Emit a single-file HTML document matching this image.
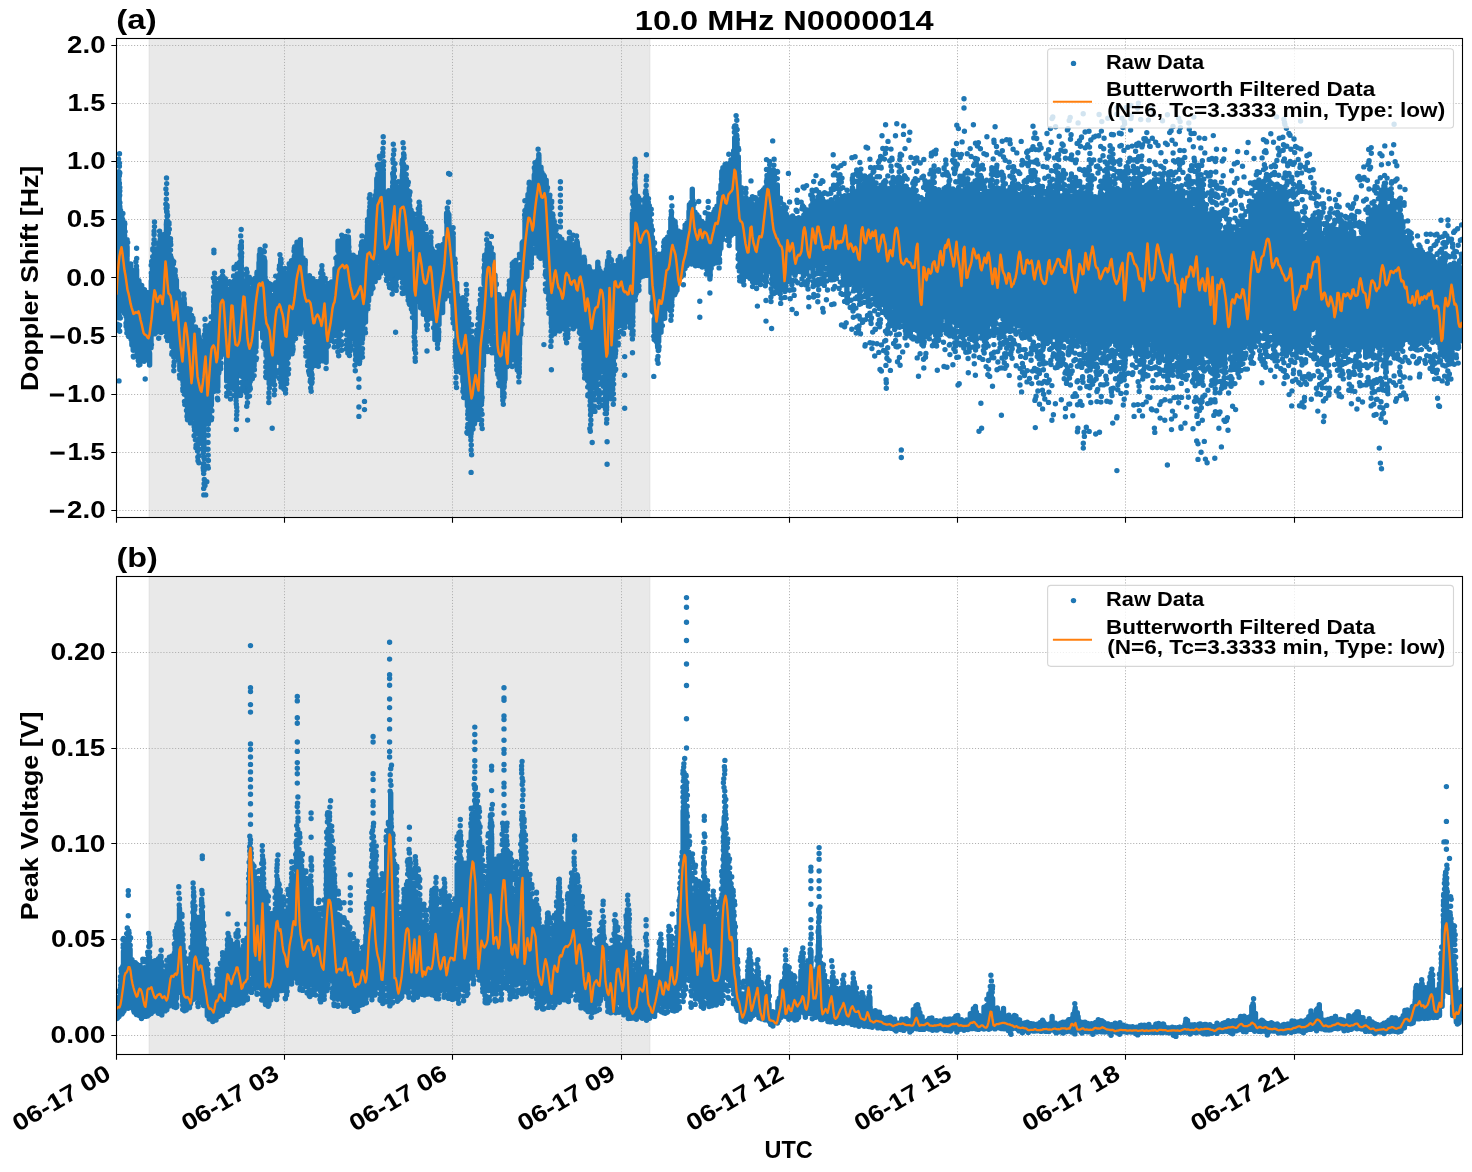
<!DOCTYPE html>
<html><head><meta charset="utf-8"><title>chart</title><style>html,body{margin:0;padding:0;background:#fff}svg{display:block;will-change:transform}</style></head><body>
<svg width="1472" height="1172" viewBox="0 0 1472 1172" font-family="'Liberation Sans', sans-serif" font-weight="bold" fill="#000">
<rect width="1472" height="1172" fill="#fff"/>
<rect x="149.1" y="38.5" width="500.8" height="479.0" fill="#d3d3d3" fill-opacity="0.5" stroke="#d3d3d3" stroke-opacity="0.5" stroke-width="1"/>
<path d="M284.5 38.5V517.5M452.5 38.5V517.5M621.5 38.5V517.5M789.5 38.5V517.5M957.5 38.5V517.5M1125.5 38.5V517.5M1294.5 38.5V517.5M116.5 45.5H1462.5M116.5 103.5H1462.5M116.5 161.5H1462.5M116.5 219.5H1462.5M116.5 277.5H1462.5M116.5 336.5H1462.5M116.5 394.5H1462.5M116.5 452.5H1462.5M116.5 510.5H1462.5" stroke="#b0b0b0" stroke-width="1" stroke-dasharray="1.1 1.83" fill="none"/>
<clipPath id="c1"><rect x="116.5" y="38.5" width="1346.0" height="479.0"/></clipPath>
<g clip-path="url(#c1)">
<path d="M119 195.6V236.4M119.5 153.7h0M118.6 159.1h0M119.5 163.1h0M119.4 166.3h0M118.9 171.8h0M118.7 175.8h0M118.9 179.7h0M119.1 184.3h0M119.4 190.3h0M119.7 195.3h0M136.6 269.6V287.2M136.7 258.4h0M135.9 261.7h0M136.5 266.3h0M154.5 251.7V276.2M154.5 226.6h0M154.1 231.2h0M154.1 234.4h0M154.1 239.6h0M153.8 243.8h0M154 249.3h0M166.5 222.7V256.4M166.5 178h0M166.7 183.6h0M165.9 188.9h0M166.5 193.6h0M166.3 199.2h0M165.8 204.1h0M166.2 208.4h0M166.9 212h0M167.1 216.3h0M166.6 221.1h0M184.4 303.8V313.1M183.9 293.9h0M184 298.3h0M183.8 302.6h0M205 335.6V350.2M205.2 325.6h0M205.5 329.7h0M204.4 334.7h0M213.9 303.5V324.8M214.5 273.3h0M213.4 278.1h0M214.5 281.8h0M213.5 286.6h0M214.1 292.3h0M213.7 297.1h0M213.6 301.4h0M222.5 281.7V289.5M222.5 271.4h0M222.3 276.2h0M221.9 281.5h0M241.2 256.8V294.2M240.7 235.9h0M241.4 241.8h0M241.2 246.2h0M241 251.9h0M241.5 256.7h0M264.8 260.9V277M265.1 246h0M264.3 251.8h0M264.1 257.6h0M280.4 271.3V284.7M279.9 254.6h0M280.9 259h0M280.6 262.2h0M280.5 267.7h0M300.3 239.7v9M322.3 276.4V291.8M321.9 265.8h0M321.9 270.1h0M322.9 274.2h0M348.5 239.1V249.6M348.2 231.1h0M348.4 236.9h0M361.9 247.6V260.3M362 235.9h0M362.3 241.6h0M361.8 246.5h0M369.4 210.6V229.8M370 194.8h0M369.3 198.2h0M370 202.9h0M369.8 206.8h0M383.2 170.3V195M383.4 142.5h0M383 148.4h0M382.8 152.7h0M382.8 156.1h0M383.7 161.8h0M383.4 165.4h0M383.4 169.9h0M393.3 172.9V203.6M394 150h0M393.5 154.5h0M392.9 159.5h0M393.2 162.8h0M393.8 168.2h0M403 163.2V188M403.6 148.1h0M403.6 153.6h0M403.6 158.2h0M402.4 161.5h0M419.5 218.6V241.7M419.1 202.3h0M419.6 206h0M419.6 209.3h0M419.7 213h0M419.2 216.3h0M430.7 242.5V253.4M431.1 232.2h0M430.9 237.2h0M430.8 241h0M447.9 212.9V221.6M448.5 202.3h0M447.3 207.9h0M447.6 212h0M466.2 309V327.4M466.6 290.1h0M466.7 294.2h0M465.7 299.6h0M466.7 305h0M466.3 308.7h0M487.1 249.3V258.9M486.6 239.7h0M487.3 244.7h0M538.3 160V168.8M538.1 149.2h0M538.8 154.4h0M577.2 242.7V253.3M576.5 235.9h0M576.8 241h0M597.8 262.1v14.7M609 281.3V301.5M608.8 252.8h0M608.9 256.7h0M608.4 261.7h0M608.5 266h0M609.4 271h0M608.8 275.3h0M608.6 280h0M620.2 256.5v9M635.1 186.7V222.6M635.1 159.3h0M635.5 162.7h0M634.9 167.6h0M635.5 171h0M634.6 174.6h0M634.6 178.1h0M634.8 183.9h0M646.4 194.4V208.8M646.5 176.1h0M646.3 179.9h0M646.2 185.5h0M645.8 190.7h0M671.4 218.8V229.4M671.9 206h0M671.2 211.1h0M671.4 214.5h0M692.3 189.2v9M736.4 134.6V163.4M736.1 115.6h0M736.8 120.3h0M735.9 126h0M736.8 129.7h0M773.4 178.1V194.7M774.1 159.3h0M773.9 165.1h0M773.3 170.5h0M773 175.5h0M138.4 355.2V346.7M138.7 365.1h0M138.3 360.6h0M137.8 356.3h0M149.6 365.1v-11.8M203.8 449.1V407.4M203.7 488.4h0M204.1 483.7h0M204.3 479.4h0M203.7 473.6h0M204.2 470.1h0M203.3 464.1h0M204.3 458.9h0M203.3 453.1h0M204.5 449.6h0M236.3 396.9V362.4M236.5 419.3h0M236.7 414.8h0M236.9 411.1h0M236.7 407.3h0M236.3 403.9h0M236.1 400.6h0M246.8 379.5V355.8M246.7 406.2h0M247.5 402.8h0M247.4 397.2h0M246.7 393.3h0M246.3 389.4h0M246.8 386.1h0M246.4 382.6h0M269.2 383.3V361.8M268.8 402.5h0M268.9 397.4h0M268.9 392.7h0M269.4 388.1h0M269.1 383.4h0M286.1 368.5V349.7M285.6 393.1h0M285.5 389.5h0M286.7 383.6h0M286.7 379.7h0M286.1 376h0M286.6 371.4h0M311.1 369.2V339.8M311.2 391.2h0M310.7 387.9h0M311.6 383.4h0M311.6 378h0M311.4 372.7h0M338.4 329.7V305.7M338.7 355.7h0M337.9 351.7h0M337.9 346.4h0M338.5 340.6h0M339 336.5h0M338.4 332.8h0M355.2 342.1V322.3M355.3 370.7h0M354.9 365.2h0M355.5 359.8h0M355.8 354.8h0M355.1 350.4h0M355.7 345.2h0M392.6 276.3V259.7M392.2 294.1h0M393 289.3h0M392.9 285.9h0M393.2 282.7h0M392.4 278.2h0M415 328.2V292.5M415.3 361.3h0M415.1 357.9h0M415.6 353.1h0M414.9 349.8h0M415.1 344.9h0M415.1 341.5h0M414.6 337.6h0M414.6 332h0M427 315.6V303.6M427.2 329.6h0M427.4 324.8h0M427.1 320.3h0M437.4 338.8V330M437.6 348.3h0M437.5 343.9h0M437.8 339.6h0M456.1 366.1V341.5M456.5 387.5h0M455.9 382.9h0M455.9 377.4h0M456.5 371.8h0M456.4 367.4h0M471.1 434.1V408.6M471.6 454.8h0M471.1 450h0M471.3 444.9h0M470.9 440.1h0M470.8 436.4h0M481.5 402.4V371.3M482.2 428.6h0M481.5 424.4h0M481.6 420.2h0M482.1 414.3h0M481.2 410.1h0M481.5 404.4h0M502.8 394.9V378.7M503.3 404.3h0M502.8 400.3h0M502.7 396.5h0M518.9 355.1V333.8M518.9 381.9h0M518.8 376.6h0M519 372.3h0M518.6 368.5h0M519.3 363.4h0M519.2 360h0M551.4 324V297.8M550.8 346.4h0M551.1 341.3h0M551.2 336.3h0M551.1 331.3h0M551.5 326.8h0M566 329.5V309.8M566.6 342.7h0M565.7 338.7h0M565.4 334.7h0M566.4 330.3h0M590.3 394.4V342.8M589.8 428.6h0M590.7 424.5h0M590.9 420h0M590.5 414.9h0M590.6 409.6h0M590 405.4h0M590.3 401h0M590.2 397.4h0M607.1 396.5V353.9M606.6 423h0M606.8 419.3h0M606.4 413.4h0M606.6 409.7h0M606.4 405.2h0M606.6 400.7h0M607.5 396.8h0M632.5 316.2V293.8M632.4 338.9h0M633 334.6h0M633.1 330.9h0M632.8 325.2h0M632.8 321.9h0M632.9 317h0M657.6 346.2V334.2M658.1 363.2h0M657.3 359.7h0M658 356.4h0M658.3 350.6h0M670.6 303.3V287.4M670.9 320.2h0M671.3 315.4h0M670.4 310.5h0M670 305.9h0M709.9 279.1v-12.5M719.2 253.9V241.2M719.1 267.9h0M719.6 262.3h0M718.6 258.2h0M718.8 254.6h0M728.6 236.1V225.3M729.2 245.5h0M729.1 241.5h0M729.1 236.4h0M743.5 276.8V262.1M743.9 284.7h0M743 280.8h0M752.9 278.1V270.4M752.5 286.6h0M753.5 282.6h0M753.2 278.7h0M771.6 268.4V241.6M771 301.5h0M770.9 296.9h0M772 292.2h0M771.2 288.7h0M771.7 283.4h0M771.7 279.3h0M772.1 274.8h0M771.9 270.8h0M780.9 290.1V278.6M780.7 303.4h0M781.2 298.2h0M780.2 293.9h0" stroke="#1f77b4" stroke-width="5.4" stroke-linecap="round" fill="none"/>
<path d="M117 244.2V300.3M117.4 299.2V310.2M117.7 239.1V213.2M117.9 295.7V310.8M119 234.9V295.9M119.2 236.4V214.5M119.3 293V305.4M119.8 234.5V206.5M119.7 291.1V311M121 232.4V289.2M120.6 233.5V217.9M121.9 233.2V227.5M123 237.7V290.6M122.9 236V223.9M123.2 292.6V299.7M124.3 239.8V226.4M124.1 296.4V304.4M125 245.3V301.4M124.6 244.5V234.9M124.6 301.1V313.6M126.1 306.8V316.4M127 257.9V313M127.1 256.2V246.8M126.9 312.8V321.8M129 269.1V322.9M128.7 324V336.6M131 274.1V330M130.8 275.5V264M131.1 332V339.3M131.7 278.1V269.7M131.9 334.7V345.1M133 279.3V336.4M132.9 280.4V272.8M133.2 337V350.2M133.9 282.5V270.8M133.6 339.1V348.8M135 284.9V340.8M135.3 284.5V271.8M135.5 341.1V344.9M135.6 342.9V347.3M137 288V345.8M136.8 287.9V279.2M137.2 344.5V355.9M139 292.6V347M138.9 291.2V280.6M138.6 347.8V360.7M140 293.3V286.1M139.9 349.9V359M141 295V351.1M141 352.3V357M141.7 298.2V285.4M142 354.8V358.9M143 303.9V354.4M144.5 302.4V289.6M144.1 359V361.3M145 304.1V360.2M145.3 304V295.5M145.8 304.6V299M147 306.6V359.5M147.1 304.2V292.4M147.7 302.5V298.6M149 297.9V358.2M151 291.4V347.7M151.3 290.7V281M151.7 286.4V274.4M153 279.7V333.9M152.8 282.3V269.7M154.1 278V272.2M155 275.3V333.6M155.8 271V261.9M157 268.8V327.6M157 269V251.9M157.2 325.6V331.9M157.9 325.3V329.8M159 270.3V325.6M158.7 269.3V259.9M158.7 325.9V328.4M159.6 267.8V250.1M161 265V321.5M160.6 264.2V253M161.1 320.8V332.5M161.7 260.4V251.1M162.3 317V326.3M163 257.4V316M163.4 257.9V247.1M163.6 313.4V326M165 258.5V311.4M165.3 313.3V326M166.3 256.5V244.5M167 255.2V313.5M167.1 256.3V235M166.5 312.9V325.8M167.5 257.1V232.4M167.6 313.7V327.1M169 260.4V313.5M169 260.7V244.1M170.5 267.1V255.4M170 323.7V332.8M171 269.8V329.2M171.2 272.4V263.9M172.4 275.6V267.8M171.8 332.2V346.4M173 277.2V337.8M172.7 277.8V268.6M172.9 334.4V339.9M173.7 280.5V270.7M173.8 337.1V357M175 285.6V339.5M175.2 284.1V275.5M175.4 340.7V343.4M176.4 288.4V280.3M177 294.2V348M177.9 297.6V291.4M178.4 354.2V359.5M179 300.7V358.3M179 301V293.2M179.6 303.9V301.7M179.8 360.5V369.8M181 308V361.9M181.9 308.7V301.9M183 311.9V368.8M182.9 367.4V381.3M184 312.5V299.8M184.1 369.1V381.3M185 317V371.3M184.8 370.5V387.3M187 318.9V377M187 374.6V398.8M187.9 321.6V308.7M187.5 378.2V407.1M189 321.2V384M188.6 324.5V318.9M189.3 381.1V391.4M190.3 326.6V318.7M190.5 383.2V402.4M191 327.6V384.1M190.8 328V324.6M190.9 384.6V397.4M191.6 330.1V320.4M191.8 386.7V399.9M193 334V389M192.9 332.9V327.4M192.8 389.5V399.5M193.6 335.9V332M194.1 392.5V410.5M195 335.1V396.8M195.5 338.8V326.9M195.9 395.4V418.9M197 338V395.8M196.8 339.2V332.9M198.2 341.4V330.3M198 398V433.5M199 344.2V400.6M199.2 345.2V336.9M198.9 401.8V424.6M200.2 348.6V342.7M201 346V406.4M201.4 406.3V422.9M202 349.4V341.5M203 350.5V406.9M203.4 406.7V435.4M203.5 407.5V413.7M205 353.3V405.7M205.4 350.2V340.1M204.8 406.8V413.2M205.9 347.7V336.6M207 341.6V398.9M206.8 344.5V337.5M208.3 397.8V424.1M209 336.1V392.5M208.8 394.7V404.6M209.6 335.1V325.3M210.1 391.7V403.8M211 333.4V390.8M211.2 333.2V323.2M211.4 389.8V405M213 328.5V382.7M213.7 324.6V311.8M214.4 381.2V391.3M215 320.9V379.8M215 320.5V293.8M215.9 315.6V294.1M217 309.7V366.4M218.2 305.7V294.3M217.8 362.3V387.3M219 300.9V358.9M218.8 301.8V289.1M218.8 358.4V366.9M220 297.3V288.7M221 290.5V348.9M220.7 293.2V279.6M220.7 349.8V357.3M223 292.3V344M223 289.4V276.4M225 298.5V351.8M225.3 296.4V288.4M224.7 353V354.2M225.6 299.7V286.4M227 300.2V357.6M226.7 357.8V380.9M227.5 357.9V370.3M229 302V361.8M229.5 302.1V294.1M228.6 358.7V375.3M230.4 359.5V369.7M231 303.1V360.2M231 303.6V292.7M230.5 360.2V382.4M231.7 360.2V370.1M233 301.4V361.2M234.1 301.8V288M234.1 358.4V382.1M235 301.2V361.2M235.3 303V292.6M235.5 359.6V370.4M235.7 305V287.9M235.5 361.6V372.9M237 310.9V363.3M237 307.2V280.4M237.9 306.9V298.2M239 303.6V360.6M238.8 304V296M238.7 360.6V367.4M240.4 299V276.6M239.9 355.6V359.9M241 295.9V353.3M241.2 294.7V273.1M240.5 351.3V370.2M242.5 292.1V283M241.5 348.7V357.3M243 290.7V349.5M243.5 347.7V377.7M245 293.5V349.5M246.4 296.3V280M246.1 352.9V365.3M247 302.3V356.1M247.1 299.8V287M247.4 356.4V373.3M248.4 303.6V294.5M248.4 360.2V371.7M249 307.3V365M249.3 307.2V293M249.5 363.8V376.6M249.8 308.4V294.9M250.3 365V381.3M251 309.5V365.3M251 307.1V294.9M250.8 363.7V366.6M252.3 360.1V368.1M253 296.7V354.7M252.7 297.7V290.6M254.1 347V366M255 283.7V340.5M254.8 282.7V278.4M255.2 339.3V346.2M256 332.5V347.4M257 272.3V326M258.2 321.8V328.6M259 262.7V319.2M259.4 261.5V254.6M260.1 260V249.4M260.3 316.6V325.8M261 259.7V317.4M261.1 260.8V251.5M263 266.9V326.7M263.3 268.3V261.7M262.7 324.9V338M264.2 273.2V259.4M263.5 329.8V336.9M265 277.7V334.1M265 334.9V348.8M266.1 340.9V355.5M267 290.1V347.4M266.7 291.2V281.4M267.2 347.8V360.2M268.4 355.5V361.6M269 305V362.1M269.4 304.5V292.5M268.8 361.1V375M270.1 364.1V376.2M271 307.5V362.9M270.9 307.9V295.5M271.8 306.4V295.5M272.4 363V373M273 303.2V359.5M273.1 361V374.9M274.2 358.6V375.9M275 296.5V356.9M275.3 355.1V363M275.7 294V282.8M277 288V344.1M276.6 345.6V354.3M277.8 342V352.7M279 284.7V339.4M278.5 283.6V275.7M279.4 340.2V359.1M279.5 283.8V275.3M280.4 340.4V347.2M281 286.5V344.4M280.7 286V270.3M281.1 342.6V369.9M281.9 289V282.6M282 345.6V359.3M283 292.5V348.8M283 291.5V278.4M284.1 293.1V280.2M284 349.7V372.9M285 295.7V351.2M285 293.7V282.1M285.6 293.2V286.3M285.8 349.8V360.8M287 293V351.4M286.9 292.4V288.2M286.6 349V361.4M288.3 291.3V280M288.3 347.9V357.6M289 287.3V347.6M289.2 289.7V273.9M288.5 346.3V355M290.2 342.9V348.4M291 280.8V340.7M291.4 281.2V271.1M291.2 337.8V347M291.5 276.1V266.1M292.1 332.7V345.2M293 269.1V329.9M292.6 271.3V263.5M293.1 327.9V340.9M294.3 266.9V256.7M293.7 323.5V331.9M295 262.7V318.7M294.7 262.6V255.2M295.5 319.2V328M297 250.3V306.6M297 253V242.1M296.7 309.6V323.4M299 247V302.7M299 303.8V315.6M300.2 303.3V320M301 248.9V302M300.6 304.3V320.2M301.6 306.6V318M303 258V310.3M303.4 309.8V316.3M304.4 313.8V327.2M305 265.2V317.2M305.2 265.2V260.4M305.9 322.2V336.8M307 276V324M307.2 325.8V332.6M307.6 329.3V342.5M309 277.8V333M309.1 333V350.1M310.3 281.9V279M310.2 336.7V363.4M311 284.7V337.3M312 341.7V358.6M313 286V341.9M312.9 286.7V278.6M313.8 344.6V358M315 288.1V349.3M314.8 346.3V355.3M315.5 291.4V283.2M317 292.1V349M316.6 292.9V281.6M316.8 349.5V360.7M318.3 293.6V281.8M318.3 350.2V359.4M319 290.4V347M318.7 349.3V361.2M320 347.7V360.4M321 290.3V347.8M320.7 290V282.7M322.5 347.6V360.8M323 290.9V350.5M323.4 293.8V285.7M322.7 350.4V357M323.8 295.7V285.6M325 297.8V353.3M325.2 296.5V286.5M324.6 353.1V354.8M325.8 296.2V289.4M326.1 351V362.2M327 295.2V347.2M326.8 295.3V290.5M328.2 294.8V283.8M328.3 345.1V345.7M329 295.8V340.5M331 289.1V333.5M331.2 291V288.6M331.5 285.5V281.9M333 283.7V327.8M334.2 329.6V335.8M335 268.8V324.3M335.2 323.5V327.1M335.8 317.8V328.9M337 257.3V310.8M338 250.8V241.3M337.8 307.4V320.1M339 246.5V303.3M338.8 302.9V327.6M341 244.9V296M341.6 294.6V329.1M343 241.1V293.1M343.8 294.8V303.4M345 241.7V293.1M345.4 296.1V313.3M346.1 298.2V319.6M347 241.6V301.6M347.8 304.4V333.6M349 251.7V308.5M349.5 308.3V332.3M350.1 312.1V325.9M351 261.1V315.9M351.2 315.6V329.6M352.1 318.4V329.2M353 265.1V321.6M353.2 263.8V255.2M353.4 320.4V327.2M353.6 265.2V259M355 267.2V324.7M355 322.4V328.8M356.1 265.6V264M356.2 322.2V344.3M357 266V322.9M357.3 321.4V343.1M359 263.9V318M359.5 263.7V256.8M359.4 320.3V344.2M359.9 320.3V335.9M361 261.1V317.8M360.7 262.5V252.1M360.5 319.1V331.9M361.7 260.1V249.8M362.5 316.7V339.2M363 257.1V314.5M363 256.4V244.7M363.5 313V323.8M364 252.5V247.6M363.8 309.1V314.3M365 248.1V305.2M365.5 248.8V241.1M365.5 305.4V322M366.5 245V236.8M365.8 301.6V312M367 240.2V297M366.7 297.2V306.7M367.5 235.9V225.3M367.9 292.5V299.4M369 230.9V286.6M368.6 287.7V300.7M371 224.3V283.9M371 224.3V207.7M370.8 280.9V293.8M371.7 277.4V289.5M373 214.5V271M373.4 216V207.6M373 272.6V282.6M373.8 210.4V203.2M375 205.6V263.1M375.1 204.6V195.8M375.2 261.2V272.5M376.4 198.4V190.4M375.5 255V265.8M377 192.2V249M376.8 191.9V178.8M377.9 186.2V174M378 242.8V251.8M379 184.2V238.3M378.8 239V255.5M379.5 181.8V172.6M380.4 238.4V247.1M381 187.7V239.6M380.7 241.1V259.6M382.2 188.7V176.9M383 195V252.7M382.9 250.4V260M385 204.3V261.8M384.5 204.1V192.3M385.1 260.7V270.7M386.5 266V273.9M387 211V272.2M386.8 213.2V205.8M387.6 214.1V205.4M389 212.1V270.7M388.7 212.2V204.1M389.7 207.4V197.3M389.6 264V279.1M391 203.9V258.9M391.4 203.6V197.9M390.8 260.2V272.6M392.2 258.9V271.4M393 204.1V259.9M392.7 203.6V190.1M392.6 260.2V268.8M394.2 260.2V270.2M395 202.1V256.1M395 202V182.5M394.8 258.6V268.6M396.2 255.7V271.8M397 196.2V256M397.1 197.1V194.4M398.3 195.9V190.3M398.1 252.5V262.2M399 197V253.2M398.9 195.6V190.3M399.5 195.2V188M399.9 251.8V267.8M401 193.3V248.9M401.2 193.1V184.1M401.3 249.7V258.6M402.4 189.4V174.3M402.3 246V263.6M403 189.6V245M402.6 187.9V179.6M402.5 244.5V264.1M404 189.3V174.2M403.9 245.9V273.8M405 192.3V248.4M405.4 250V270.2M406.4 197.6V179.2M405.8 254.2V264.8M407 202.9V257.1M406.6 201V195.3M407.5 257.6V268.5M408.3 203.7V195.1M408.1 260.3V286.2M409 210.1V265.4M409.1 208.2V199.5M409.2 264.8V281.3M409.7 214.5V205.5M409.7 271.1V283.5M411 220.7V280.7M411.1 222.5V210.1M411.4 279.1V295.2M412.5 285.3V299.5M413 232.6V288.9M412.5 232.7V225.5M412.5 289.3V306M413.8 234.8V225.2M414.1 291.4V299.1M415 235.3V292.2M415.2 235.9V226M414.6 292.5V329.4M417 243.2V297.2M416.5 241.3V230M418.3 242.9V226.1M419 243.4V300.4M418.5 242.8V233.3M420.3 240.5V231.9M421 238.5V293.4M420.6 239.5V230.8M420.6 296.1V307.7M422.2 239.8V230.8M423 241.4V297.4M423.4 241.5V234.6M423.3 298.1V306M424.4 243.7V234.2M425 244.8V301.4M425.5 245.5V235.7M424.9 302.1V311M426.3 302.8V305M427 247.1V304.9M426.9 247V234.5M426.7 303.6V318.7M428.4 304.6V314.4M429 248.6V304.1M429.2 249.3V240.8M428.5 305.9V319.1M431 254.6V312.5M431.9 258.1V248.7M433 264.9V318.5M433.2 262.9V251.3M434.5 267.3V264.6M435 274.8V329.6M435.5 271.2V264.7M434.9 327.8V339.6M435.6 273.3V261.5M437 275.1V329.1M436.9 330.4V336.3M437.6 272.8V258.4M438.5 329.4V340.2M439 273.3V324.5M438.8 270.3V254.6M439.8 266.1V252.9M441 256.5V305M440.7 259.6V252.7M443 244.4V298.5M442.6 299.3V312.6M445 238.4V285.8M444.9 285.7V299.1M446.2 281.4V289.9M447 223V279.3M446.6 222.3V213.3M446.5 278.9V286.7M448 278.1V286.4M449 222.4V279.6M448.9 222.5V214.6M451 228V287.9M451.7 240.1V228.8M451.7 296.7V301.9M453 249.5V306.9M453.1 251.2V236.9M453.2 307.8V315M455 273.2V328.7M454.9 273.6V267.3M455.6 340.5V351.4M457 294.1V350.1M456.7 293.5V283.1M457.3 350.1V358.8M457.6 302.2V295.3M457.6 358.8V367.7M459 307.6V365.3M459.2 309.1V298.8M461 316.4V372.7M462.4 317.8V308.3M463 320.4V376.7M463 318.8V304.7M462.9 375.4V381.6M464.5 320.6V310.5M463.7 377.2V389M465 324.9V378.8M466.1 326.5V315.4M467 330.7V390.1M466.8 330.8V327.7M467.4 387.4V405.7M468 336.5V328.4M468.5 393.1V400.7M469 343.8V398.2M468.9 342.1V330M471 351.5V410.2M471 408.5V423.1M471.6 354.9V337.3M471.7 411.5V417.5M473 357.5V413.3M473 413.9V422.7M474.5 415.9V423.8M475 360.9V416.5M475.3 359.3V346.4M474.6 415.9V423M476.4 355.8V342M476.4 412.4V417.9M477 350.6V406.1M476.9 349.8V337.9M476.7 406.4V415.6M477.6 343.4V331.6M479 337.1V391M478.8 336.5V325.5M478.6 393.1V399.9M480.3 329.2V319M479.5 385.8V406.9M481 319.8V377.7M480.6 320.5V303.4M482.1 309.5V297.8M481.6 366.1V382.5M483 297.1V351.2M483.5 353.1V365.5M484.1 283.9V274.9M484.4 340.5V351.8M485 274.9V329.5M484.7 273.4V264.5M486.2 264.8V254.5M486.4 321.4V332.9M487 258.8V317.4M488.4 255.7V244M487.5 312.3V327.5M489 251.5V312.5M489.4 251.4V243.4M489 308V320.7M491 247.6V301.8M491.4 248V247.7M491.9 306.4V324M493 256.6V308M493 257V256.1M494.3 322.3V328.5M495 275.3V331M496.4 284.5V284M495.7 339V347.4M497 294.4V347.6M496.8 346.7V361.1M497.8 355.3V363.9M499 308.8V365.3M498.8 308.4V294.7M499.1 365V377.4M499.5 315.2V305.5M500.2 371.8V381.2M501 315.9V377.6M502.1 320.4V307.7M502 377V386.6M503 319.2V378.3M503.4 322.5V306.5M503.8 322.8V309.5M504 379.4V387.6M505 322.7V379.3M507 310V366.7M507.5 303.5V294.1M509 299V355.3M509.4 298.5V291.4M509.6 293.1V288M509.8 349.7V361.7M511 287.5V344.3M510.7 287.6V285M512.3 282.2V271M512.2 338.8V356.3M513 282.2V336.8M513.2 279.3V269.1M512.9 335.9V344.3M513.9 279.7V268M514.3 336.3V343.8M515 281V338.7M515.8 281.4V268.9M515.8 338V353.5M517 281.8V337M516.7 280.9V278.3M517.3 337.5V357.4M519 278.2V332.8M519.5 276.9V264.7M519.4 333.5V354.8M519.6 328.4V344.6M521 266.7V320.1M520.6 320.5V334.4M522.2 253.7V243M521.6 310.3V317.1M523 241.7V298.1M523.6 288V296.6M525 221V279.6M524.9 221.6V220.8M527 207V265.2M526.9 264.1V276.5M528 203V194.4M527.9 259.6V267M529 199.9V253.7M529.3 199.8V188.2M529.7 253.4V266.3M531 195.3V249.3M531.3 193.5V187.5M531.3 250.1V260.6M533 184.7V240.8M534.3 182.8V174.9M535 181V235.6M535 179.4V170.1M534.9 236V243.6M536.4 232.6V242.5M537 171.4V228.4M537.2 172.5V165.1M537.1 229.1V242.5M538.1 169.5V160.3M537.8 226.1V241.6M539 168.7V222.7M538.9 167.3V156.7M539 223.9V245.5M539.6 222.6V230.8M541 167.3V223M540.6 222.1V241.5M541.9 174.3V172.5M543 175.9V227.3M542.6 228V234.4M544.3 179.5V176.2M544.1 233.7V245.9M545 185.4V241M545.2 240.8V261.9M546.2 192.5V180.3M546 249.1V265.9M547 203V258.4M547.5 202.3V195.4M548.3 269.1V280.3M549 224.2V279.8M549.2 222.4V216.5M548.9 279V294.7M549.9 231.8V211.3M550 288.4V295.3M551 240.3V295M550.9 295.5V305.1M551.7 244.4V214.6M551.7 301V317.9M553 247.4V305.8M552.6 248.6V226.2M553.3 305.2V323.9M554.3 251.7V241.1M554.5 308.3V324.3M555 253.5V310.5M554.8 253.7V247M554.9 310.3V321M556.3 254.2V241.9M556.4 310.8V320.9M557 257V313.5M557.3 311.3V323.1M557.6 256V249.5M558.4 312.6V319.3M559 256.1V313.2M559 314.5V321M559.6 259.6V244.6M559.6 316.2V321.9M561 260V317.2M561 260.3V248.5M560.7 316.9V328.8M561.8 259.7V248M563 259V315.1M563 258.6V248.3M563.2 315.2V319.5M563.9 256.9V247M564.3 313.5V321.8M565 256.8V311.2M565.3 255V245.1M565.7 253.2V243.3M565.7 309.8V321.2M567 251.7V311.4M567.5 251.7V249M567.9 307V320M569 249.9V306.7M569.4 249.7V238.1M568.6 306.2V316.7M569.7 251V250.9M569.5 306V314.4M571 250.9V308.3M571 252.3V251.8M571.4 306.7V315.3M571.7 252.4V245.5M572.4 307.9V317.8M573 254.1V311.2M573 252.8V244.7M573.3 309.4V322.1M574.3 254.1V251.5M573.7 310.7V324M575 253.2V311.3M575.1 254.3V249.7M575.9 253.6V244.2M576.5 310.2V320.7M577 256.9V310.3M577 253.2V242.7M576.8 309.8V321.4M579 255.5V310.4M579.1 255V249.7M579.4 311.6V325.9M580.5 313.8V323.9M581 261.9V315.4M581.1 260.7V259.5M580.8 316.5V334M583 263.9V321M582.7 320.9V328.3M584 266.6V264.1M584.3 323.2V354.2M585 270.1V324.4M584.5 270.4V259.8M584.6 327V359.9M586.3 331.4V344.5M587 280.7V337.5M587.4 279.5V269.9M588.2 283.5V274.3M587.8 340.1V376.2M589 285V345M589 285.7V274.2M588.9 342.3V367.6M590 286.2V277.6M591 286.3V341.1M590.9 286.4V273.8M591 343V389.7M591.9 287.3V280.6M592.1 343.9V356.4M593 287.8V345.4M592.9 288.1V281M593.3 344.7V381M593.9 344.4V356.9M595 286.4V343.9M594.9 342.4V376.2M595.5 282.3V271.7M596.3 338.9V371.5M597 279.3V334.4M596.9 278.7V273.5M597.9 276.2V268.4M599 274.4V330M598.8 274.6V267.9M598.8 331.2V374.4M600.2 274.8V271.2M600.2 331.4V342M601 278.9V331.9M601.7 282.3V274.1M603 290.7V346M602.7 288.5V285.3M602.7 345.1V367.9M604.1 292.5V285.3M605 292.5V350.9M605.4 293.7V283.8M605.2 350.3V374.3M606.3 293.5V278.8M606.1 350.1V377.3M607 295.8V352.2M607.4 296.8V280.1M606.6 353.4V366.4M607.7 301.2V283.5M609 300.4V358.2M609.3 301.5V293M609.9 353.7V375.6M611 288.4V347.7M611.2 289.7V278M611 346.3V377.6M611.6 281V268.4M612.5 337.6V376.1M613 274V331.8M612.7 275.2V265M613.3 331.8V362.8M613.6 329.5V339.9M615 271.8V329.6M615.1 328.5V357M615.5 323.5V335.2M617 268.9V318.8M618.2 313.3V326.2M619 263.3V312.6M618.6 312.4V320.5M621 263.8V314.8M621.1 314V325.6M622.3 314.8V323.4M623 267V317.1M623.4 315.6V325.6M623.6 316.4V326.7M625 269.4V318.4M624.7 267.3V261.8M624.7 317V327.4M627 261.5V319.6M629 259.4V313.6M629.1 260.3V251.8M629.2 316.9V322M630.2 312.6V320.4M631 248.6V305.2M631.3 305.1V313M632.4 240.9V213.6M631.9 297.5V318.2M633 233.9V290.3M633.3 234V210.5M632.6 290.6V311.9M634.5 228.1V200.6M635 227V283.2M635.2 223.3V189.5M635.4 279.9V289.2M636.2 275.2V284.5M637 212.9V267.2M636.6 213.1V199.3M636.8 269.7V276.7M637.8 208.3V196.2M638.4 264.9V275.9M639 207.2V262.5M638.7 206.5V198M639.2 263.1V276.2M640.5 264.3V277.2M641 211.3V263.6M641 265.3V275.6M642.1 265.6V273.6M643 209.4V265.5M643.4 265.4V276.1M643.7 265.1V268M645 208.8V263.8M644.9 207.9V198.9M645.7 208V198M646.3 264.6V270.7M647 208.6V267.5M647.3 210.2V205.4M646.6 266.8V275.4M648.5 214.7V207.3M649 221V274.5M649.3 221V211M650.2 228.3V223.3M651 235.8V292.4M651.2 236.8V225.5M652.4 245.9V237.4M652.2 302.5V310.7M653 251.8V312M652.9 254.7V245.9M654.2 319.1V331.4M655 271.9V327.7M654.5 269.3V257.3M655.4 325.9V331.4M655.8 274V268.8M655.7 330.6V337M657 276.3V332.5M656.6 333.5V341.7M658.4 278.2V268M657.8 334.8V347.6M659 277.6V334M658.6 278.2V269.3M658.7 334.8V341.4M661 272.3V332.2M661.3 272.4V265.1M661.9 267.5V254.9M663 263V318.8M662.9 263.1V257M663.9 259.4V250.1M665 255.4V308.3M664.5 255.6V246.5M664.7 310.8V318.2M665.8 251.1V239.2M667 245V301.7M666.6 245.9V240.8M666.9 302.5V308.6M669 237V292.7M669.8 289V300.4M671 229.1V285.8M670.9 229.9V218M671.5 286.5V297.4M671.6 228.6V217.9M671.9 285.2V299.4M673 230.3V286M673.2 228.4V220.2M674 229.5V223.6M675 233.7V288.4M675.1 231.5V221.7M674.7 288.1V294.7M675.6 234.3V226.3M675.7 290.9V292.4M677 236.7V290.2M678.2 239.4V230.9M679 238.8V279.5M678.7 241V234.3M680.1 241.9V232M681 240.8V277M683 233.9V275.2M683.4 274.1V274.9M685 229V268.4M685.2 229V227.4M687 222.9V265.6M689 211.5V260.9M689.4 211.9V204.6M689.4 259.1V261.8M691 202.5V254.3M691.7 253.2V264M693 200.5V251.6M693.4 252.8V256M694.4 253.2V261.7M695 212.1V253.9M695.5 254.1V265.8M696.2 255.7V263.6M697 214.8V260.8M699 218.2V265.6M698.9 220.2V216.9M701 224.5V264.5M702.2 263.9V267M703 227.8V264.6M703.8 265V265.1M705 225.6V266.4M705.2 226.1V223.4M707 224.9V269.6M707.4 225.5V223.8M708.2 225.1V217.4M708.2 267.5V271.1M709 224.5V266.7M708.5 223.5V214.1M709.8 266.6V272.6M711 222.1V266.9M713 219V263.4M713.1 262.1V264M714 214.7V211.7M715 209.2V259.7M716 253.2V260.9M717 206.2V250.9M716.7 249.4V262.7M717.6 245.7V259.6M719 197.9V241.3M719.6 239V251.1M721 184.9V237M720.9 236.4V248.2M721.8 181.2V171.5M722.3 234.1V239.8M723 177.1V232.4M722.9 176V167.8M725 173V226.8M725.1 171.5V164.4M724.7 228.1V232M726.1 170.3V164M727 170.2V225.6M726.6 169.6V168.7M727.2 226.2V234.4M727.9 169.4V169.2M727.8 226V230.8M729 167V222.9M728.8 168.1V165.1M729.2 224.7V238.4M731 159.7V215.4M731.3 217.8V228.7M731.8 215.2V229.1M733 159.3V214.9M733.1 214V222.4M733.7 157.6V150.6M734.4 214.2V221.1M735 157.4V213.9M734.7 159.3V137.7M735.2 215.9V226.6M736.2 162.1V151.3M735.7 218.7V231.4M737 164.5V222.1M737 165.2V142.8M738.3 169.4V156.8M738.1 226V248.6M739 175.5V230.7M739.7 239.2V260.5M741 188.8V248.1M741.5 246.5V254M741.8 253.4V268.8M743 202V260M743.1 202.8V199M743.4 259.4V272.6M745 211.1V268.1M745.1 267.4V274.8M745.9 212.2V197.4M747 211.1V270M747.4 268.7V276.5M747.9 212.5V204.4M747.8 269.1V272.7M749 213V270M749.6 213.8V199.8M750.1 270.4V278.6M751 212.9V268.9M750.9 214.1V210.1M751.2 270.7V275.1M752.4 214.1V204.3M752 270.7V274.8M753 213.7V270.4M753.4 213.7V205.4M752.6 270.3V281.8M753.9 214.1V205.2M754.2 270.7V275.6M755 216.4V272.4M755.4 215.2V204.7M754.5 271.8V276.2M756 217.1V206.3M756.2 273.7V282.8M757 219.6V274M757.4 217.5V207.1M756.6 274.1V282.9M757.6 216.4V206.4M759 212.8V270.9M759.9 210.1V199.4M760.5 266.7V276.4M761 206.1V260M761.7 256.3V271.1M763 196.2V250.8M765 187.7V243.1M765.3 239.8V265.6M766.5 182V181.3M766.3 236.2V262.3M767 178.7V232.4M766.6 233.8V252.5M768.2 232.9V245.2M769 175V232.2M769.6 179V169.3M769.6 235.6V248.5M771 184.9V243.2M771.3 182.4V169.9M771.2 239V251.2M773 194.6V250.4M773.3 192.6V177M773.6 197.4V185.2M773.9 254V276.3M775 204.3V261M774.6 201.5V189M776.4 261.6V276.3M777 207.8V266.5M777.3 207.9V184.9M776.9 264.5V276.6M778.2 210.3V204.5M779 213.8V268M778.7 270.2V279.3M780.4 218.1V208.5M779.6 274.7V282.5M781 221.6V281.4M780.9 279V284.8M781.9 281.4V289.2M783 227.9V282.3M782.7 225.3V216.9M783.8 225.6V215.6M784.3 282.2V286.3M785 226.6V281.7M785.2 226.2V217.5M784.9 282.8V291.4M786.4 227.1V217.9M785.7 282.1V284.9M787 228.1V281.7M787.8 226.9V217.8M789 224.1V281.2M791 219.6V272.7M791.9 270.5V272M793 221.3V266.4M795 222.5V275.3M797 218.5V267.2M796.9 220.7V218.8M799 224.2V269.2M799.6 265.7V271.5M801 219.1V260.3M801.7 264.5V269.1M803 221.4V260.4M803.5 263.9V276M803.8 216.5V215.1M805 216V264.4M805.3 215.9V211.1M804.6 262.7V273.9M805.9 262.1V273.9M807 209.9V264M809 221.6V262.7M811 216.5V258.1M810.7 212.7V209.1M813 209V258M812.9 211.9V198.5M813.1 261.2V276.6M815 207.4V258.3M815.9 210.7V207.3M817 211.2V261.4M817 210.3V208.5M819 210.8V258.1M818.7 262.4V272.6M820.5 209.1V206.1M821 206.5V264.2M823 208.1V266.3M824.3 207.5V201.8M825 203.2V262.6M827 204.9V259.7M827.8 206V202M829 201.9V268.5M831 206.3V262.7M831.4 205.7V205M832.2 205.6V205.1M833 211.6V261.7M833.4 267.3V277.4M835 203.3V270.8M835.7 269.1V273.2M837 204.5V268.3M837.7 205V200.4M839 210.1V267.8M839.8 204.8V200.7M841 201.3V270.7M842.3 204.6V196.8M843 205.6V274.7M842.7 204.5V199.1M843.7 273.9V280.3M845 200.2V280.3M847 205.5V281.6M846.9 275.6V290.5M849 200.9V278.2M848.8 202.9V196.3M851 203.6V273.2M852.4 201.4V187.6M853 199.9V280M855 198.2V282.4M855.5 199.4V198.1M855.7 279.2V285.4M857 198V280M856.5 198.9V195.4M859 202.6V282.2M858.8 197.9V185.2M859.9 197.4V187.8M859.7 280.8V292.7M861 204.7V286.1M863 198.7V280.7M863.2 195.9V184.4M863.9 282.4V284.8M865 197.8V277.7M867 191V286.4M867.3 194.5V191.7M868.4 194.3V189.8M868.1 285.8V298.7M869 191.9V283.4M870.4 193.9V187.6M871 202.2V293.5M871.3 193.7V193.4M871.8 193.5V184.4M873 198.7V289.1M874 193.1V188.4M875 197.3V294.2M875.7 293.8V298.2M877 197.1V293M879 188.5V293.3M881 185.1V298.2M881.7 191.5V190.9M883 191.5V302.5M885 190.6V303.2M885.8 303.4V314M887 196.9V297.7M888.3 191.1V188.8M888.1 305V310.2M889 191V302.9M889.5 305.8V319M891 188.8V306.5M893 193.9V305.6M893.1 191.1V177.5M895 190.3V310.9M895.1 310.6V315.1M895.6 191.1V187.3M897 191.5V313.6M897.5 312.2V317M899 188.9V310.7M898.7 191.1V182M901 188.4V321M900.8 315.4V321.2M903 187.9V320.4M905 200.3V323M907 192.7V326.2M907.1 320.2V325M909 195.4V321M911 198.9V325.2M912.4 324.2V325.9M913 201.5V324.4M913.1 199.6V191.5M913.6 325.8V329.4M915 200V324.4M917 201.5V330.5M919 204V333M921 206.3V334.6M920.9 331.4V334.1M922 330.8V344M923 201.4V335.5M923.7 329.6V331M925 202.5V329.7M925.2 205.3V199.4M925.8 205.1V204.6M927 210V323.1M927.7 204.7V194.8M929 203.5V330M929.6 204.3V188.7M929.8 326V333.6M931 199.6V323.3M931.2 204.1V196.7M933 201.7V327.2M932.9 203.7V191.6M934.1 203.5V191.8M935 211.3V320.7M935.2 323V328.8M935.6 203.1V200.5M935.9 322.4V324.6M937 199.8V324.9M936.8 321.8V329.1M938.3 321.2V332.3M939 201.9V318.4M940.3 320.2V321.3M941 197.6V324.9M941.2 320.2V321.5M942.1 201.9V199.2M943 203.1V312.4M944.1 201.5V199.7M945 204.9V317.1M946 201.1V198.7M947 207.9V322M947.4 200.9V198.6M948.1 320.2V324.5M949 201.3V318.1M949.9 320.2V330.4M951 196.3V317.3M953 196.9V318.3M954.5 199.5V190.2M955 199.1V322.6M955.1 199.3V198.7M955.9 199.1V193.4M957 197.9V317.2M957.3 198.9V196.1M959 197.1V315.4M958.6 198.6V187.4M961 200.6V318.5M960.7 198.6V192.3M961.8 198.6V197M963 195.9V319.8M962.5 198.6V194.7M962.8 321.1V327.8M963.8 321.3V335M965 198.3V317.5M965.2 198.6V189.1M967 206.6V321.7M967.5 198.6V183M968.3 198.6V197.8M969 198.5V325.7M968.6 322.3V324.9M971 196V325.9M971.3 198.6V187.5M971.5 322.7V328.9M972.3 322.9V328.7M973 195.6V323.1M973.4 198.6V185.4M975 197.3V319.6M975.8 198.6V197.9M975.9 323.7V336.2M977 197.4V328.1M977.4 198.6V179.7M979 195.3V325.8M978.7 199V194.1M981 200.9V322M982 199.6V198.6M982.4 322.9V324.8M983 202.2V325.7M983.8 200V196.4M984.3 322.5V325M985 199.4V321.6M984.6 200.2V187.5M987 208.7V323.6M988.2 200.8V195.6M989 204.5V319.1M988.7 201V191.5M991 202.7V321.9M991.8 201.6V189.1M993 205.6V325.2M993.9 202V190.4M993.9 320.5V330.3M995 203.4V320.1M997 199.8V317.2M996.9 201.9V187.8M999 200.7V314M1001 201.8V315.5M1003 205.8V319M1003.2 199.7V185.5M1004.2 321.7V332.3M1005 201.2V321.3M1005.4 321.9V323.5M1007 197.9V324.1M1008.4 197.8V193M1007.9 322.4V326.2M1009 198.7V323.7M1011 199V321.2M1010.9 323V330.6M1012.4 196.4V185.5M1013 190.3V323.8M1012.6 196V183.2M1014.4 195.6V188.1M1015 196.4V323.5M1015.3 323.7V324.2M1017 199.9V324.5M1016.9 323.9V325.8M1019 197.8V322.4M1021 198.3V326.2M1022.3 199.7V193.3M1023 200.8V322.1M1025 206.8V315.8M1024.7 202.1V194.7M1026.3 323.9V326M1027 206.4V326M1026.8 203.7V199.1M1029 207.3V331.7M1030.1 206.1V203.1M1031 198.9V328.2M1031.6 207.7V197.6M1033 205.2V326.7M1033.8 209.3V199.2M1035 214.5V325.1M1035.4 209.8V206.3M1036.3 324.2V329.5M1037 206.1V326.8M1036.7 209.4V202.5M1037.2 324.4V333.5M1039 209.3V324M1039.1 209V201.9M1040.3 325V332M1041 209.6V321.8M1040.6 208.6V198.6M1042 325.4V334.6M1043 208V326.1M1043.4 325.6V343.3M1045 210.7V329.5M1047 207.5V321.8M1047.6 207.2V198.3M1048.3 326.6V336M1049 205.2V324.5M1048.6 207V195.1M1050 206.8V204.3M1049.8 327V334.2M1051 206.6V327.4M1053 204.7V330.5M1053.7 327.8V336.9M1055 208.4V330.9M1057 204.8V331M1057.5 328.4V348.6M1057.5 207V190.3M1058.5 328.6V330.3M1059 202V327.3M1059 328.8V354.2M1061 210.1V330.9M1061.3 207.6V200.1M1060.9 329.2V341.4M1063 209.2V335.9M1063.9 208.2V195.4M1065 210.4V330.7M1064.7 208.4V199.3M1067 215.4V331.6M1067.7 209V200.9M1069 208.1V335.2M1071 210.9V328.7M1073 209.9V335.7M1072.7 331.6V338.7M1075 203.2V331.3M1075.5 209.2V198M1077 208V331.2M1077.3 208.8V199.1M1079 203.4V331.4M1078.6 332.8V342.3M1080 333V341.4M1081 207.9V335.8M1083 204.1V331.9M1083.3 207.6V198.4M1084.3 207.4V207.3M1085 203.5V336.2M1087 210.9V334.4M1087.2 206.8V198.7M1087.9 206.6V185.6M1089 204.9V334.5M1089 206.4V197.4M1089.8 335V366.4M1091 204.8V336.1M1091.3 205.9V197.4M1091.3 335.2V342.4M1093 205.4V335.5M1095 196.7V337.6M1094.6 336V346.2M1096 336.2V339.3M1097 199.2V336.8M1096.9 336.4V354M1099 198.5V339.7M1101 200.9V333.3M1103 199.1V339.1M1105 195.3V339.4M1107 201.4V334.9M1106.9 338.4V347.5M1109 193.2V339.5M1108.5 195.1V189.2M1108.8 338.8V339.9M1111 191.7V340.1M1112.4 194.4V188M1113 196.8V333.7M1113.3 339.2V341.2M1115 193.1V334.6M1115.9 339.5V344.5M1117 191.8V339.5M1116.6 193.4V189.8M1119 189.8V340.7M1121 191V333.7M1121.4 340V340.8M1122 340.1V351.7M1123 190.9V337.7M1124.2 340.3V362.8M1125 190.1V338.8M1124.5 191.8V179.9M1124.9 340.4V354.8M1127 193.3V339.8M1127.5 191.4V180M1129 197.5V339.4M1129.6 191.5V190.8M1131 196.1V337.9M1133 193.9V342.1M1134.3 192.3V177.9M1135 192.1V342.8M1135.5 192.5V189.1M1137 192.2V344.6M1139 196V338.4M1139.4 193.3V183.1M1140.1 193.5V190.9M1141 192.4V341.7M1142.5 342.1V355.1M1143 193.4V344.1M1143.1 342.2V362.8M1145 190.7V345.2M1146.1 342.5V349.6M1147 195.8V345.3M1147.5 342.6V344.5M1149 194.2V338.3M1149 195.3V183.7M1151 193.2V339.3M1153 199.7V343.6M1154.3 196.3V183M1153.7 344V350.6M1155 201.1V342.9M1157 195.6V337.1M1159 192.9V351.9M1159.7 345.2V350.9M1161 193.8V345.4M1161 197.7V188.2M1161.7 345.6V357.8M1163 197.1V351.3M1163.7 198.3V189.7M1165 198.8V346.5M1167 200.7V348M1167.7 346.3V361.9M1169 198V348.3M1169.1 346.3V357M1170 346.3V358.9M1171 197.3V346.5M1172.3 201.2V192.7M1171.8 346.3V359.4M1173 198.6V344.4M1172.7 201.6V198.1M1173.6 202V196.1M1175 204.2V345.9M1175.8 346.3V355.7M1177 200.2V351.1M1179 201.3V342.2M1181 198.7V344.1M1180.5 204.8V199.4M1181.3 346.3V356.7M1181.6 205.2V202M1183 204.2V346.3M1182.9 205.6V199.9M1182.6 346.3V365.5M1183.6 346.3V350.2M1185 207.6V347M1184.7 346.5V356.9M1187 208.8V347M1187.4 207.8V205.6M1189 209.4V340.6M1189.3 209V197.2M1191 213.9V349M1191.2 347.7V356M1192.1 347.9V349.8M1193 215.7V344M1193.8 212V211.4M1195 212.8V347.4M1195.3 348.5V356.4M1196.4 348.7V364.1M1197 212.9V350.5M1198.5 214.4V195.3M1199 211V350.7M1201 217.2V353.3M1202.4 216.8V201.2M1202.3 349.9V350.1M1203 210.8V350.5M1205 221.4V354.1M1205.3 219.4V214M1207 221.7V347.1M1207.7 222.4V214.7M1209 225.4V351.1M1208.8 223.4V219.5M1210.3 224.4V214.7M1209.5 350.1V353.6M1211 228V349M1210.8 225.4V216.5M1211.9 226.4V209.2M1211.9 350.1V360.1M1213 229.5V349.3M1213.2 227.4V225.9M1213.6 228.4V218.9M1213.7 350.1V357.2M1215 231.8V353.1M1215.3 229.4V222.6M1215.1 350.1V383.4M1217 229.6V356.3M1217.1 350.1V361.9M1219 230.9V359.7M1219.5 350.1V356.6M1221 234.6V351.6M1223 240.4V341.3M1223.4 349.8V353.3M1224.4 349.6V364.1M1225 235.9V349.9M1227 242.8V344.9M1226.9 239.2V227.4M1229 242.9V347.8M1229.5 348.4V349.7M1231 239V340.6M1231.1 348.2V350M1233 238.7V346.8M1233.4 242.8V242.2M1233 347.8V351.1M1235 247V347.7M1236.3 347.2V353.1M1237 252.1V349.8M1237.3 245.2V235.8M1238.5 346.8V360.2M1239 244.5V348.4M1241 250.9V348.7M1240.8 245.5V238.5M1240.5 345.4V348.4M1242 344.2V345.9M1243 237.4V339M1243.4 241V230.4M1243.8 238.8V229.4M1245 240.6V344.7M1246.3 339.4V339.9M1247 229.7V338.6M1249 227.9V335.9M1249.5 227.5V224.1M1249.9 334.6V341.7M1251 221.9V332.4M1250.9 223V213.4M1251.2 333.4V350.6M1252.4 220.8V214.6M1253 219.4V337.5M1255 217.5V326.8M1255.4 328.6V333.5M1255.9 327.4V332.9M1257 207.1V324.1M1257 211.8V208.5M1258.5 210.8V202.2M1259 212.5V326.2M1261 210.9V324.9M1260.5 207.8V192.2M1263 202.9V322.2M1262.8 205.8V200M1265 200.6V327.5M1265.4 203.8V193.8M1265.7 326.7V336.2M1267 204.8V324.9M1269 198.8V330.6M1269.1 199.8V198.8M1271 194.8V324.6M1271.5 328.7V330.5M1271.8 199.1V192.9M1272 329.1V331.3M1273 198.2V329.9M1275 192.9V330.1M1275 330.3V345.4M1275.7 200.1V196.1M1277 196.8V334.1M1278.2 200.6V195.3M1278.1 331.6V338.1M1279 202.9V332.3M1280.2 332.8V336.8M1281 196.7V335.1M1280.9 333.4V335.2M1282.4 334V344.6M1283 199.2V334.8M1282.8 201.8V197.5M1283.8 202.1V196.4M1285 202.9V334.9M1284.8 202.3V201.6M1287 204.8V334M1286.7 206.2V205.6M1289 207.9V339.6M1288.9 338.2V349.4M1290.5 338.8V349.6M1291 211.9V339.6M1290.7 214.2V203.9M1291.5 216.2V206.7M1293 223.8V344.6M1293.7 220.2V219.6M1295 222.9V340M1296 342.4V343.6M1297 229.3V342.3M1297.3 228.2V219.4M1296.9 341.9V351.8M1299 236V341.3M1299 233.8V221.2M1300.4 236.6V231.6M1301 242.8V336.5M1300.9 337.9V346.8M1303 243.3V335M1303 245V236M1302.9 335.9V340.5M1305 247.3V333.2M1307 243.2V333.2M1307.7 330.9V343.8M1309 239.3V334.9M1309.1 329.9V330M1311 243.6V329.5M1312.5 326.9V329.6M1313 245V321.7M1312.7 244.1V235.4M1315 245.2V321.4M1317 239.5V327.8M1316.5 241.5V233.4M1318.5 240.5V230.5M1318.1 329.9V338.2M1319 235.9V334.1M1319.3 239.5V222.3M1320.4 333.9V346.7M1321 234.6V336.6M1323 238.6V341.2M1324.2 339.9V349.9M1325 238.1V338.4M1326.4 341.2V348.3M1327 228.2V349.8M1327.7 230.5V225.2M1329 230.4V342.5M1331 229.1V340.2M1332.4 229.5V225.2M1333 232.6V346.1M1335 232.5V351.4M1337 232.7V342.4M1337.7 232.5V232.1M1337.9 344.6V356.1M1339 236V346.1M1341 239.2V344.9M1341 234V226.4M1343 238V347.4M1343.2 235V232.7M1345 235.3V342.9M1345.8 236.5V228.1M1347 236.1V343.7M1349 235.9V341.2M1348.7 340.2V345.7M1351 245.5V341M1351.3 339.4V349.9M1351.6 239.5V231M1351.5 339V341.9M1353 242.8V336.6M1353.6 240.5V232.5M1355 242.1V336.8M1355 339.9V347.1M1355.7 340.3V349.6M1357 247.4V341.5M1357 242V240.9M1359 244.8V341.6M1359.1 341.5V350.4M1359.8 243.2V238.3M1361 238.5V342.8M1362.2 342.7V344.9M1363 237.4V346.9M1365 236.7V340.2M1365.6 233.2V228.9M1365.7 344.3V357.3M1367 230.2V344.7M1369 232.6V349M1368.5 345.5V346.9M1370.2 345.9V355.5M1371 227.9V342.8M1371.4 224.9V216.5M1373 221.3V342.9M1373.2 345.6V346.1M1375 220.1V339.5M1377 218.6V345.9M1377.2 218.8V211.7M1379 220.2V344.6M1379.9 342.8V348.7M1381 214.4V338M1381.1 214.8V203.4M1383 213.9V345M1384.2 211.8V205.9M1385 209.3V339.4M1385.9 340.4V371.2M1387 209.1V339M1389 211V340.6M1388.8 212.8V206.9M1391 218.8V340.8M1390.7 214.8V210.6M1393 216.7V334.8M1392.7 337.6V346.7M1393.9 217.8V208.1M1395 219.8V337.5M1394.6 336.8V338.2M1396.2 336.4V338M1397 221.7V335.7M1397.9 335.6V349.2M1399 227V339.5M1398.5 222.8V219.5M1400.5 223.8V214.6M1401 231.2V332.2M1401.1 224.9V217.5M1400.8 334.4V341.3M1403 233V337.8M1405 242.3V327.6M1407 242.7V333.8M1408 245.9V237.4M1409 251.3V336.2M1409.6 248.2V239.7M1411 247.9V333.9M1411.2 248.9V245.6M1412 332.1V339.9M1413 250.7V336.3M1413 332.3V338.8M1415 250.5V335.8M1414.9 332.7V340.5M1416.4 252.2V250.7M1416.4 332.9V343M1417 251.8V328.9M1417.6 333.3V344.4M1419 255.8V331.7M1419.1 254.2V252.5M1421 249.6V337.5M1420.9 255.4V254.3M1420.7 333.9V337.6M1422.3 255.9V255.6M1423 255.1V335.1M1423.8 334.5V341.8M1425 254.5V334.4M1425.4 334.7V341.4M1427 255.2V339.5M1426.7 335.1V337.9M1428.5 258.9V253.7M1429 259.6V337.7M1431 261.5V331.4M1432.1 260.9V260.1M1433 256.7V335.3M1434.4 261.9V261.1M1435 263.3V340.2M1437 266.9V339.9M1437.9 341.7V342.6M1439 262.2V339.4M1440.2 342.9V348.4M1441 271.6V342.8M1440.8 267V260.1M1441.5 344.1V347.5M1443 266.2V343.4M1443.8 345.3V346.6M1445 268V351.1M1447 266.7V345.5M1447.8 344.9V355M1449 269.1V344M1448.9 344.2V348.2M1449.7 343.6V345M1451 276.9V341.9M1451.5 342.9V344.5M1451.6 342.2V353.7M1453 275.1V340.2M1454.2 275.9V263M1455 278.9V340.2M1454.5 276.5V268.2M1455.1 340.2V343.4M1456.4 339.6V342.2M1457 277.8V338.4M1457.8 338.2V348.4M1459 284V337.5M1459.6 279.3V268.2M1460.1 336.9V337.8M1461 276.6V336.1M117.4 315.3h0M117.4 206.6h0M117.2 203.3h0M117.7 197.4h0M118.1 191h0M118.2 188h0M118.2 181h0M117.6 174.6h0M117.7 173.3h0M118.2 297.4h0M118.3 317.9h0M117.5 324.2h0M118.4 327.4h0M117.9 330h0M119.7 207.8h0M119.4 204.2h0M118.8 199.5h0M119.2 194.9h0M119.2 190.3h0M119.5 294.8h0M119 311h0M119.3 315.7h0M119.9 202.8h0M119.3 196.3h0M119.8 190.9h0M119.8 187.4h0M119.4 183.2h0M119.3 175.8h0M119.8 173h0M120.3 318.1h0M119.6 325.2h0M119.7 331.3h0M120.6 227.7h0M121.1 214.3h0M120.4 210.6h0M120.6 210.5h0M120.8 292.4h0M122 221.5h0M121.9 217.4h0M122.6 219.4h0M122.9 213.4h0M123.1 304.2h0M123.6 308.4h0M123.2 311.4h0M124.3 298.2h0M125.5 240.2h0M125.5 241.4h0M125.1 231.6h0M124.8 224.1h0M124.6 222.6h0M126 323.3h0M126.1 326.2h0M126.7 251.6h0M127.7 242.4h0M127.1 239.7h0M127 329.2h0M126.9 332.9h0M128.2 323.2h0M128.7 326.1h0M129.8 332.5h0M134.4 280.3h0M134.4 343.7h0M133.3 356.3h0M133.6 357.1h0M138.9 349.6h0M140.2 289.8h0M139.9 364.6h0M143.2 360.7h0M143.5 359h0M151.5 276.3h0M151.3 272.9h0M152.3 269h0M151.2 265.3h0M151.7 261.4h0M151.5 344.6h0M152.5 265.9h0M152.4 262.2h0M152.7 256.7h0M152.8 250h0M152.8 248.8h0M156 258.9h0M155.4 255.5h0M156.1 252.1h0M155.8 250.5h0M156.8 263.8h0M156.5 248.7h0M157 243.2h0M156.5 327h0M159.2 253.7h0M159.1 249.8h0M158.7 249.1h0M158.7 338.2h0M159.8 265.7h0M159.1 245.5h0M160.2 239.8h0M159.9 235.6h0M159.6 231.2h0M160.6 247.4h0M161.9 258.7h0M161.3 246.9h0M161.4 242.4h0M161.7 239.6h0M162.2 320.6h0M162 319.2h0M163.7 242.6h0M163.7 237.4h0M163.4 234.7h0M165.7 330.4h0M165.3 331.7h0M166.7 241.3h0M166.2 235.6h0M166.3 234.5h0M166.5 231.3h0M166.5 224.6h0M167.2 220.4h0M167.6 215.2h0M166.7 211.2h0M167.1 207.5h0M167.1 205.4h0M167 332.9h0M166.5 336.8h0M167.9 252.7h0M168 228.4h0M167.3 224.5h0M167.3 220.9h0M167.5 215.6h0M167 330.4h0M167.4 335.1h0M167.6 340.6h0M168.5 240h0M168.4 232.9h0M169.3 229.3h0M169 224.2h0M169 222.6h0M170.5 250h0M170.8 244.8h0M170.5 241.6h0M170.5 238.7h0M170.5 339h0M170 339.8h0M170.6 269.5h0M171 258.2h0M171.2 258h0M171.8 263.1h0M172.4 260.5h0M172.1 352.5h0M171.8 354.2h0M172.8 274.5h0M173.4 263.8h0M173.7 261.6h0M174.2 361.9h0M173.8 365.7h0M173.8 370.8h0M175 282.3h0M175.1 271.4h0M175.2 269.9h0M176.1 346.4h0M175.6 347.4h0M177.7 294.1h0M179.5 375.1h0M179.8 378h0M183.1 384.5h0M182.8 388.5h0M182.9 390.8h0M183.9 387.5h0M184.1 387.9h0M184.4 394.3h0M184.5 401.4h0M184.8 404.6h0M187.3 402.9h0M186.5 410.4h0M187.4 414.8h0M187 416.4h0M187.6 318.6h0M188.1 414.1h0M187.5 419.8h0M189.4 383h0M188.8 388.7h0M189.2 396.3h0M188.9 403.4h0M189.3 408.5h0M189.9 314.4h0M189.9 310.3h0M190.3 309.1h0M190.8 405.6h0M190.8 409.9h0M189.9 413h0M190.7 418.7h0M190.5 422.9h0M191.4 404.5h0M190.9 407.8h0M190.7 411.8h0M190.9 413.4h0M191.6 315.4h0M192 403.3h0M191.7 407.2h0M191.6 414.3h0M191.8 416h0M192.7 330.9h0M193.1 320.4h0M192.9 318.2h0M192.6 403.7h0M192.8 410.6h0M192.8 413.7h0M194.1 415.9h0M193.6 422.7h0M194.2 426.7h0M194.5 429.9h0M194.1 435.7h0M196.1 400.4h0M195.7 422.6h0M195.4 427.2h0M195.6 434.3h0M195.4 439.8h0M196.1 445.2h0M195.9 447.8h0M197.2 337.4h0M197.9 337.6h0M197.8 440.7h0M197.7 448h0M197.5 451h0M197.8 457.1h0M198 460.8h0M198.8 431.4h0M199.2 438.7h0M199.3 443.4h0M199.1 448.9h0M198.9 455.8h0M198.9 462.8h0M201.3 344.6h0M201.1 429.3h0M201.9 435.1h0M201.4 440.4h0M201.9 414.4h0M202.3 408.7h0M202.6 410.6h0M203.7 438.9h0M203 442h0M203.7 446.1h0M203.8 451.1h0M203.8 457.1h0M203.8 463.6h0M203.2 467.8h0M203.4 470.1h0M204.2 409.4h0M203.2 417.9h0M203.1 421.2h0M203.5 421.6h0M205.1 336.6h0M205.3 330.5h0M205.4 329.8h0M204.9 418.5h0M204.3 422.6h0M204.8 424.5h0M205.7 331.9h0M205.9 329.1h0M206.4 331.9h0M206.8 330.5h0M208.2 429.5h0M208.1 435.2h0M208 442.5h0M208 449.2h0M208.2 455.1h0M208.4 460.5h0M207.8 466.3h0M208.3 468.1h0M208.7 333.7h0M208.8 398.1h0M209.7 331.8h0M210.4 396h0M210.6 408.4h0M209.7 415.4h0M210.1 418.1h0M211.2 316.7h0M211.9 410.7h0M211.7 417.6h0M211.4 419.7h0M214.1 318.6h0M214 305.9h0M213.6 299.8h0M213.7 299.3h0M213.9 382.9h0M214.9 314h0M214.8 288.2h0M214.6 280.9h0M215 278.4h0M215.4 380.9h0M215.3 380.4h0M215.6 308.6h0M215.5 290.7h0M215.8 284h0M215.9 283.4h0M215.8 379.4h0M217.6 290.1h0M218.2 286.6h0M218 391.1h0M217.4 398.3h0M217.8 399.7h0M218.5 286.1h0M218.8 283.2h0M219 371.6h0M218.8 372.9h0M220.4 284.7h0M220.2 278.5h0M220 278.4h0M221.1 363.3h0M220.5 366.4h0M220.7 368.8h0M222.3 288.1h0M222 351.9h0M223.7 289.9h0M224.1 289.8h0M223.7 351.2h0M224.4 351.1h0M225.4 283.7h0M225.3 278.8h0M225.9 296.9h0M226.6 386.6h0M226.8 393.1h0M226.7 396.1h0M229.4 289.4h0M230 284h0M229.5 281.6h0M228.8 380.4h0M228.7 386h0M228.6 388.9h0M231 295.7h0M231.3 299h0M231.5 287.1h0M231 284.7h0M230.5 385.9h0M230 393.4h0M230.5 399.1h0M232.4 362.6h0M232.3 374.4h0M231.6 378.5h0M231.7 381.4h0M234.1 281.2h0M233.6 276h0M234.1 268.9h0M234.1 267.2h0M233.7 389.3h0M234.1 395.6h0M235.6 287.8h0M235.3 284h0M235.9 373.6h0M235.3 377.4h0M235 382.7h0M235.5 385.9h0M235.1 283.1h0M235.7 277.7h0M235.2 376.7h0M235.1 382.7h0M235.2 385.8h0M235.5 385.8h0M237.1 273.9h0M236.8 267.2h0M237 264.3h0M240.2 269.9h0M240.6 265.6h0M239.8 262.2h0M240.2 255h0M240.3 248.4h0M240.4 245.7h0M241.4 266.7h0M240.9 261.3h0M241.1 257.4h0M241.7 253.1h0M241.4 248h0M241.2 245h0M241 376h0M240.8 382.7h0M240.4 388.8h0M240.7 392.1h0M240.5 395.4h0M242.5 290.7h0M241.8 360.6h0M242 365.9h0M241.6 371.8h0M241.5 372.4h0M243.2 351.2h0M242.9 382.3h0M242.9 386.7h0M243.5 390.9h0M245.9 274.3h0M246.4 269.1h0M245.6 371.7h0M246.1 374h0M247.4 297.4h0M247.3 280.3h0M246.8 276.8h0M247.1 272.3h0M247.2 359.4h0M247.8 377.3h0M247.2 383.3h0M247.4 384.3h0M248.9 289.3h0M248.4 288.8h0M248.3 364.1h0M248.4 365.9h0M248.3 376.7h0M248.4 377.5h0M249.1 303.5h0M249.9 287.8h0M249.7 282.5h0M249.3 277.2h0M248.6 365.1h0M249.5 383.4h0M249.3 390.2h0M249.5 396.1h0M250 387.3h0M250.3 388.7h0M252.1 302.1h0M251.9 371.8h0M251.8 377.5h0M252.3 378.7h0M252.5 294.4h0M253.1 283.3h0M253 279.8h0M252.7 279.7h0M253.9 286.6h0M254.4 369.7h0M254.1 375.6h0M255.9 351.6h0M256.5 358.1h0M256 359.8h0M258.5 325.3h0M260 318.3h0M259.8 318.5h0M263 265.8h0M263.5 258.1h0M262.8 251.8h0M263.3 250.8h0M263.9 344.1h0M263.5 346.8h0M265.1 338.3h0M265.8 282.8h0M265.6 282.7h0M265.8 362h0M265.8 367h0M265.9 372.2h0M265.7 376.6h0M266.1 377.5h0M266.9 364.4h0M267.2 368.1h0M268.8 368.1h0M268.4 369.8h0M268.9 288.8h0M269.4 283.7h0M269.8 383.3h0M270.1 383.9h0M270.7 290h0M271.2 286.9h0M270.9 284.4h0M271 366.9h0M271.5 365.5h0M271.5 368.6h0M272 376h0M272 382.4h0M272.4 384.1h0M273.1 380.9h0M273.6 380.7h0M274.6 384.7h0M274.6 389.9h0M274.2 394.8h0M275.8 370.4h0M275.3 376.3h0M275.7 276.1h0M277.2 352.8h0M277.7 281.8h0M278.2 343.6h0M277.8 358h0M279.4 280.9h0M279.9 362.8h0M279.9 369.9h0M279.5 373h0M279.4 378.5h0M279.2 269h0M279.5 265.7h0M280.9 353.6h0M280.4 355h0M280.4 267.2h0M281.1 263.3h0M280.7 259.9h0M280.8 375.1h0M280.8 382.3h0M281.3 386h0M281.1 387h0M282 284.4h0M282.4 365.7h0M282.2 371.7h0M282.4 375.8h0M282 378.8h0M283.1 272.1h0M283 270.3h0M284.1 272.8h0M284.1 272.1h0M283.4 379.2h0M284.1 383.2h0M283.6 386.5h0M284 389.2h0M285.2 275.9h0M285 268.4h0M285.6 365.5h0M285.8 367.5h0M286.8 353.1h0M288.5 274.6h0M288.3 273.2h0M287.8 363.5h0M288.7 369.3h0M288.3 373.9h0M289.3 269.3h0M289.7 265.4h0M289.2 263.8h0M290.9 266.4h0M291.4 264h0M290.9 342.7h0M290.7 340.4h0M290.8 350h0M291.2 353.5h0M291.5 260.8h0M292.7 351.3h0M292.1 353.7h0M292.9 346.4h0M293.1 349.3h0M294 250.9h0M294.3 248.3h0M294 325.8h0M294.9 251.5h0M294.7 246.8h0M295.8 332h0M295.5 338.4h0M296.7 248.8h0M296.8 327.5h0M297 333.1h0M296.7 333.6h0M297.7 245.5h0M298.1 309h0M299.4 311.6h0M299 321.8h0M300.4 241.4h0M300.5 326h0M300.4 331.4h0M300.2 333.5h0M300.9 324h0M301.1 328.6h0M300.6 329.6h0M301.8 312.9h0M302.2 321.5h0M301.6 323.7h0M302.9 323.1h0M303.4 327.5h0M303.8 315.8h0M305.3 262.3h0M304.7 262.4h0M306.5 341.8h0M305.5 347.6h0M305.9 352.5h0M306.5 355.6h0M305.9 356.1h0M307.6 331.7h0M307.8 349.5h0M307.9 352.9h0M307.8 356.2h0M307.9 361.7h0M308.1 365.1h0M307.6 365.4h0M309.5 275.6h0M308.7 354.8h0M309.7 359.7h0M309 364.5h0M308.6 371.1h0M309.1 373h0M309.9 369h0M309.6 374.8h0M310.5 379.6h0M310.2 381.6h0M312.1 364.4h0M311.8 367.6h0M312 374.8h0M312.2 378.6h0M312 382.1h0M312.7 285.2h0M313.4 349h0M314.4 361.5h0M314.8 365.3h0M317.3 352h0M316.9 365.5h0M316.8 365.6h0M318.4 290.7h0M318.3 351.6h0M318.6 362.5h0M318.3 366.2h0M319.7 286.5h0M321 278h0M320.7 273h0M323.9 281h0M323.8 280h0M325.2 279.6h0M325.2 278.5h0M325.1 356.8h0M325.8 289.3h0M326.1 368.5h0M327.5 292h0M330.9 287.2h0M331.3 339.1h0M330.9 340.3h0M334.1 342.1h0M334.2 347.1h0M335.9 258.1h0M335.3 334.7h0M335.8 341.5h0M338.1 326.1h0M337.8 327.7h0M339.1 241.5h0M339 333.8h0M338.9 337.2h0M339.1 341.8h0M338.8 344.5h0M341.4 240.4h0M340.7 240.9h0M340.5 303h0M341.7 235.1h0M341.2 334.6h0M341.6 341.6h0M341.4 344.8h0M341.6 350.3h0M342.6 236.9h0M344 307.6h0M343.9 313.1h0M343.8 317.1h0M345.5 236.5h0M345.2 237.9h0M345.6 317.8h0M345.9 323.9h0M345.4 327.3h0M346.5 322.8h0M346.3 327.1h0M346.6 334.4h0M346.6 339.9h0M346.6 344.7h0M346.1 349.1h0M347.3 340.8h0M347.3 347h0M347.8 352.9h0M348.8 247h0M349.6 337.5h0M348.9 344.3h0M350.1 350.9h0M349.5 355.5h0M350 331.9h0M350.1 338.5h0M350.1 342.7h0M351.7 335h0M351.1 338.9h0M351.1 345.7h0M351.2 348.8h0M351.2 349.1h0M351.9 257.8h0M352.4 320.2h0M352.4 333.5h0M352.3 338.4h0M352.1 338.5h0M353.7 334.5h0M353.4 336.3h0M355.1 264.3h0M355 333.8h0M355 337h0M356 263.5h0M356.3 261.8h0M356.1 257.2h0M356.2 328.1h0M356.4 349.8h0M355.8 353.7h0M356.2 357.2h0M356.7 323.9h0M356.9 348.5h0M357.6 352h0M357.8 355.3h0M357.5 359.1h0M357.3 362.2h0M359.7 349h0M359.8 354.5h0M359.7 361.3h0M359.4 363.6h0M360.3 340.5h0M359.3 344.5h0M360.5 351.4h0M360.3 358.3h0M359.9 358.5h0M361.1 245.4h0M361.7 242.6h0M362 342.9h0M362.5 348.8h0M362.1 352.9h0M362.5 357.1h0M363.4 314.8h0M363.2 328.5h0M363.5 332h0M365 329h0M365.5 332.7h0M367.4 222.1h0M367.5 219.6h0M368 305.5h0M367.9 308.7h0M369.9 222.3h0M371.5 201.6h0M371 199.8h0M370.8 284.4h0M372.4 286.5h0M373 287.9h0M375.4 278.5h0M375.2 281.4h0M375.7 273.1h0M375.5 274.4h0M378.3 168.5h0M377.4 165.4h0M377.9 164.8h0M379.1 260.2h0M378.4 267.4h0M378.6 270.5h0M379.1 275h0M378.8 277.5h0M379.9 169.6h0M379.8 164.2h0M379.9 158.3h0M379.5 156.2h0M380.4 251.4h0M380.4 252.5h0M380.8 263h0M381 270.3h0M380.7 273.2h0M382.4 185.1h0M382.1 173.2h0M381.8 169.7h0M382.3 166.2h0M382.2 164.6h0M383.4 265.5h0M382.9 267.6h0M386 207.5h0M386.4 203.6h0M386.7 278.9h0M386.5 280.4h0M387 198.5h0M386.8 195h0M387.4 273.5h0M387.6 210.9h0M388.2 198.2h0M388.4 192.7h0M388.7 190.7h0M389 284.5h0M389.6 287.5h0M392.3 200h0M392.2 262.9h0M393.2 200.9h0M392.6 186.7h0M392.7 182.2h0M393.3 176.3h0M392.7 173.7h0M392.2 274.7h0M392.8 281.5h0M392.6 283.5h0M394 200h0M394.4 176.9h0M394.4 170.3h0M395 163.6h0M395.1 262.3h0M395.3 261.1h0M394.8 273.8h0M395.8 259.2h0M396.5 278.7h0M395.9 282.7h0M396.5 285.7h0M395.9 289.1h0M396.2 290.4h0M397.8 187.1h0M398.3 181.6h0M398.4 268.7h0M397.8 274.8h0M398.1 277.4h0M399 191.4h0M399.2 190.8h0M399.1 255.5h0M400 271.2h0M399.9 276.1h0M402.7 170.1h0M402.9 166.9h0M401.9 163.8h0M402.4 160.1h0M402.2 270.5h0M402.1 278h0M402.5 282.4h0M402 287.6h0M402.4 292.9h0M402.3 293.6h0M403.2 183h0M402.2 175.8h0M402.6 172.1h0M402.6 246.5h0M402.6 269.4h0M403 275.4h0M402.5 277.5h0M403.7 183.7h0M404.5 169.7h0M403.6 164.7h0M404 158h0M404 155.4h0M404.5 247.3h0M403.6 280.2h0M404 287.6h0M404 290.9h0M403.9 293.3h0M405.3 189.5h0M405.3 274.9h0M405.9 279.2h0M405.6 284.6h0M404.9 290.3h0M405.4 292.8h0M406.2 174.4h0M406.2 168.3h0M406.4 167.3h0M407.4 194.5h0M406.7 191.8h0M406.6 186.3h0M406.8 263.3h0M408 272.6h0M407.1 279.5h0M407.5 281.2h0M408 190.8h0M407.8 184.7h0M408.3 182.3h0M407.8 291.6h0M408.2 296.5h0M408.1 300.2h0M409 205.4h0M409.4 194.6h0M409.1 193.7h0M409.2 287.5h0M408.6 294.7h0M409.2 301.2h0M409.2 303.5h0M409.8 200.7h0M409.2 195.5h0M410 191.9h0M409.7 191.6h0M409.7 288.2h0M410.3 292.1h0M409.3 296.2h0M409.3 302.1h0M409.7 304.6h0M411.3 298.9h0M411 305.4h0M411.4 308.9h0M412.5 305.8h0M412.6 309.2h0M412.5 311.6h0M412.5 221.2h0M412.5 214.9h0M412.7 312.2h0M412.5 317.6h0M414.5 233h0M413.9 218.3h0M413.8 213.9h0M415.2 221h0M415 295.6h0M415.1 294h0M414.5 332.6h0M414 336.6h0M414.3 341.7h0M414.9 345.1h0M414.6 348.7h0M415.6 236h0M416.1 223.8h0M416.5 223h0M418.2 219.5h0M418.8 215.7h0M418.7 212.5h0M418.3 208.6h0M418.8 240.9h0M418.7 229h0M418.8 222.9h0M418.5 221.5h0M418.5 301.5h0M419.8 228.8h0M420.3 222.8h0M420.6 224.4h0M420.6 221.7h0M420.9 299h0M422.1 237.8h0M422.5 225.7h0M421.7 220.9h0M422.2 218h0M422.1 301.3h0M423.2 229.4h0M423.4 223.3h0M422.5 299.8h0M423.4 311.1h0M423.3 314.2h0M425.9 228.6h0M425.5 226.4h0M426.5 325.4h0M426.7 325.7h0M428.3 245.5h0M427.6 307.8h0M428.6 317.5h0M428.4 318.7h0M428.8 247.3h0M429.5 309.8h0M431.1 251.6h0M432.9 259.8h0M433.6 327.7h0M435.3 332.1h0M435.3 257.1h0M435.6 254.5h0M437.6 265.1h0M437.2 252.4h0M437.6 246.1h0M438.1 331.4h0M439.5 265.6h0M439.1 248.8h0M438.8 245.6h0M438.8 331.9h0M446.7 291.2h0M446.5 296.3h0M447.8 289.4h0M447.8 294.4h0M448 295.6h0M453.3 233.4h0M453.1 227.8h0M453.5 309.4h0M452.8 318.4h0M453.2 323.1h0M455.4 263.3h0M454.9 259h0M455 357h0M455.6 359.7h0M457 352h0M459 306.3h0M459.7 308.7h0M459.7 309h0M463.1 301.7h0M463 297.8h0M463.2 388.4h0M462.9 391.5h0M464 317.4h0M464.7 305.9h0M464.5 301h0M464.1 393.9h0M463.7 397.6h0M464.6 320.8h0M466.7 312.4h0M466.1 310h0M467.2 329.2h0M468 411h0M467.7 414.3h0M467.9 418.6h0M467.9 424.4h0M467.5 427.6h0M466.9 432.5h0M467.4 433.2h0M468.5 321.3h0M468 320.6h0M468.2 403.7h0M468.5 408.4h0M468.7 325.3h0M468.9 318.2h0M468.9 312.5h0M469 400.7h0M469.3 400.4h0M471 430.4h0M471.8 331.3h0M471 325h0M471.6 324.7h0M471.3 422.6h0M471.3 427.8h0M471.7 427.8h0M472.6 425.8h0M473 428.9h0M474.5 357.9h0M474.9 353.7h0M475.7 340.4h0M475.3 340.2h0M475.8 420.1h0M476.7 334h0M476.7 330.4h0M476.9 330.1h0M477.2 409.6h0M478 339.4h0M477.6 324.8h0M477.7 406h0M478.3 318.1h0M478.8 313.9h0M478.6 310.7h0M478.8 308.3h0M478.5 404.7h0M478.6 407.2h0M479.6 325.3h0M480 314.8h0M480.3 311.9h0M480.1 410.7h0M480 414.1h0M479.3 418.9h0M479.5 419.6h0M480.1 300.3h0M480.6 294.5h0M480.6 289.3h0M481.3 380.3h0M482 293.3h0M482.1 291.9h0M482.3 370.4h0M481.5 386.1h0M481.4 390.7h0M482.1 397.5h0M481.6 400.3h0M482.7 291.8h0M484.4 278.9h0M484.6 268.9h0M484.1 267.7h0M484.3 259.8h0M484.6 256.5h0M484.7 255.1h0M486 336.9h0M486.1 341.1h0M486.4 346.1h0M487.8 334.8h0M487.2 341.5h0M487.3 348.9h0M487.5 351.6h0M488.8 325.8h0M488.6 332.5h0M489.5 335.7h0M489 337.2h0M491.4 236.4h0M491.5 307.9h0M491.6 310.9h0M492.4 329.2h0M492.1 332.6h0M491.9 336.4h0M491.6 340.9h0M492 344h0M492.1 349h0M491.9 352.7h0M493.1 254.5h0M492.5 317.5h0M495.7 353.5h0M496.7 365.4h0M496.8 369.7h0M497.8 295.8h0M498 366.9h0M497.9 372.3h0M497.8 374.2h0M498.6 383.4h0M499.1 385.5h0M499.9 301.9h0M499.5 297h0M500.6 381.4h0M500.9 377.2h0M503.6 301.8h0M503.4 299h0M503.9 306h0M503.8 302.5h0M504.2 386.5h0M504.4 382h0M504.1 393.4h0M504 396.9h0M504.5 318.2h0M507.7 301.9h0M508.1 364.4h0M508.2 365.7h0M509.2 284.9h0M509.4 281h0M509 358.3h0M512.3 266.8h0M512.3 263.7h0M512.4 359.5h0M512.1 366.1h0M512.2 366.5h0M512.6 340.1h0M513.4 348h0M513.4 352.9h0M512.9 358h0M513.7 276.4h0M514.4 264.1h0M513.9 261.9h0M513.8 347.9h0M513.8 354.4h0M514.3 356.4h0M514.8 279.3h0M516.3 265.2h0M515.8 260.4h0M516.4 339.9h0M515.9 361h0M515.8 365h0M517.5 364.3h0M517.2 369.3h0M517.3 370h0M519.5 257.5h0M519.5 254.3h0M519.5 359.8h0M519.3 367h0M519.3 370.3h0M519.4 373h0M520.3 269.7h0M520.1 269.1h0M520.5 330.2h0M519.3 349.4h0M519.1 353.4h0M519.1 358.1h0M519.6 358.5h0M520.6 323.4h0M521 326.2h0M522.5 252h0M522.1 324.1h0M521.6 324.4h0M524.4 290.4h0M523.6 300.2h0M523.6 304.9h0M524.9 218.2h0M524.6 214.9h0M524.9 210.7h0M524.9 200.8h0M525.8 209.7h0M526.9 206.1h0M529.3 197h0M528.6 198.2h0M529.1 183.4h0M529.3 182.3h0M530.6 256.9h0M531.3 252.3h0M531.4 263.6h0M531.3 267.6h0M531.5 186.1h0M532.1 187.7h0M531.9 248.9h0M534.8 169.5h0M534.3 167.8h0M535.3 166.5h0M535 162.8h0M535.1 249h0M534.9 253h0M536.6 246.4h0M536.4 248h0M536.8 169.7h0M537.2 171h0M536.9 249h0M537.1 252.2h0M538.1 245.6h0M537.3 249.6h0M537.8 252.6h0M539 232.4h0M539.4 230.8h0M539.6 252.3h0M539 256.5h0M539.6 236.9h0M540.9 245.4h0M541 249.4h0M541.1 254.2h0M540.6 258.2h0M543.3 174.8h0M545.3 265.7h0M545.7 271.1h0M545.2 274.6h0M545.6 272.4h0M546.1 277.1h0M545.4 283.9h0M545.5 289.8h0M546 291.6h0M547 190.2h0M547.5 187.7h0M547.7 286.7h0M548.7 291h0M548.8 296.6h0M548.3 299h0M549.3 285.3h0M548.7 300h0M548.9 304.7h0M549 308.1h0M548.9 313.3h0M549.7 207.1h0M549.9 202.9h0M549.6 197h0M549.9 195.1h0M551.7 207.5h0M551.6 202.4h0M551.7 201.2h0M551.4 322.9h0M551.7 326.1h0M553.1 218.9h0M553 215.1h0M552.6 213.9h0M553.1 309.7h0M553.6 327.1h0M553.6 331.5h0M553.3 334h0M554.6 236.8h0M554.7 232.7h0M554.5 228.3h0M554.8 225.1h0M554.2 221.6h0M554.3 221.6h0M554.1 330.6h0M554.5 333.7h0M556.7 234.7h0M556 229.8h0M556.3 226.2h0M556.2 324h0M556.5 328.2h0M556.4 331h0M556.6 252.5h0M558.3 326.7h0M558.4 330.1h0M558.6 326.7h0M559 329.8h0M559.9 255.6h0M560 241.5h0M559.8 238.1h0M559.6 236.6h0M560.4 317.8h0M560 328.1h0M559.6 331h0M561.1 254.6h0M562 244.9h0M561.8 239.3h0M563.9 242.7h0M563.8 316.5h0M564.6 325.5h0M564.3 329.1h0M566.8 249.7h0M567.5 325.3h0M568.2 329.9h0M567.8 334h0M567.9 337.6h0M569.4 232.6h0M569.4 232.2h0M569 319.6h0M569.5 324.1h0M571.4 319.5h0M571.4 321.7h0M572 248.6h0M571.7 239.3h0M572.1 312.2h0M572.6 323.9h0M572.4 324.6h0M572.8 247.9h0M573 235.3h0M573 311.3h0M573.1 311.7h0M573 326.8h0M573.3 328.8h0M573.7 316.5h0M576.5 326.1h0M577.6 246.4h0M579.9 329.8h0M579.4 332.4h0M581 327h0M580.1 330.5h0M580.5 330.8h0M580.5 257.9h0M581.2 339.2h0M581.4 345h0M580.8 347.2h0M581.9 324h0M583.6 264.1h0M584 257.3h0M583.6 324.8h0M584.2 331.1h0M583.9 359.4h0M583.9 364.9h0M583.8 368.4h0M584.3 369h0M585.2 330h0M584.8 366.7h0M584.6 371.5h0M584.9 375.2h0M584.6 378h0M587.3 339.4h0M588.6 269.7h0M588.2 268h0M587.6 380.6h0M587.7 387.1h0M587.9 394.6h0M587.8 395.7h0M589.5 268.9h0M589 266.8h0M589.3 374.3h0M588.5 378.2h0M589.1 384.2h0M588.9 384.4h0M589.9 284.7h0M590 271.2h0M591 280.9h0M590.5 396.8h0M591.2 401h0M591.4 404.9h0M591.5 410.9h0M591 412.2h0M591.4 274h0M591.9 271.8h0M592.5 345.3h0M591.8 346.6h0M593 351.3h0M593.4 388.1h0M593.8 394.9h0M592.9 398.6h0M593 406.1h0M593.3 409.1h0M593.6 360.1h0M593.9 363.4h0M595 382.7h0M594.8 386.3h0M594.4 393.4h0M594.7 399.8h0M594.5 406.2h0M594.9 411.4h0M595.6 278.7h0M596.6 375.7h0M596.2 380.1h0M595.9 383.4h0M596.7 388.7h0M596.3 392.6h0M597.8 338h0M599.1 272.7h0M599.2 377.6h0M599.1 384.3h0M598.9 390.4h0M599.2 394.9h0M598.9 398.5h0M599.1 401.9h0M598.8 407.2h0M600.5 348.4h0M600.4 351.6h0M600.2 353.1h0M600.9 275.7h0M602.6 371.9h0M602.2 377.7h0M602.1 381.4h0M603.3 386.2h0M603.1 392.7h0M602.4 399.8h0M602.7 405.5h0M604.3 278.1h0M604.1 276.4h0M605.3 276.3h0M605.4 272.4h0M605 352.1h0M604.9 380h0M605 386.7h0M605.4 389.8h0M605.4 397.3h0M604.7 404.6h0M605.5 408.9h0M605.2 413.6h0M606.6 272.8h0M606.3 269.4h0M605.8 382.8h0M605.9 386.3h0M605.7 392.9h0M605.8 396.1h0M606.6 402.6h0M606.7 406.9h0M606.1 409.4h0M607.9 275.7h0M607.2 269.6h0M607.3 265.8h0M607.4 264.3h0M607.4 355.3h0M607.6 299.2h0M607.3 276.8h0M608 272.7h0M608.2 265.8h0M607.5 262.6h0M607.7 260.8h0M609.1 287.4h0M609.3 286.5h0M608.8 359.6h0M610.1 381.9h0M609.3 386.8h0M609.9 392.9h0M610.7 270.7h0M611.5 267.5h0M611.4 260.4h0M611.2 259.8h0M610.5 382.7h0M610.6 389.6h0M610.5 393.5h0M610.9 398.1h0M611 398.7h0M612.4 381.4h0M612.6 387h0M612.3 394.5h0M612.5 398.6h0M612.9 266.4h0M612.6 268.9h0M612.5 333.5h0M612.8 369.9h0M613.5 374.7h0M613.1 379.2h0M613.7 384.1h0M612.8 389.2h0M613.4 393.8h0M613.8 399.3h0M613.3 404.2h0M613.9 270.2h0M614.2 343.5h0M613 348.4h0M613.6 350.7h0M614.5 364.5h0M615.7 369.3h0M615.1 370.6h0M614.9 340h0M615.2 346h0M615.8 350.6h0M615.5 353.5h0M617.1 265.3h0M617.2 320h0M618.1 260.3h0M617.7 319h0M618.4 332.8h0M618.4 337.1h0M618.2 343.2h0M618.2 344.9h0M618.6 261.5h0M618.7 316.8h0M621.1 331.5h0M623.2 263.4h0M623.5 323.8h0M623.3 333h0M623.6 333.9h0M626 259.1h0M630.5 324.6h0M630.2 327.5h0M630.5 308.4h0M631.2 307.1h0M631.2 319.4h0M631.3 321.7h0M632.9 210.6h0M632.8 204h0M632.1 198.2h0M632.4 197.5h0M632.3 321.7h0M631.3 328h0M632.2 331.9h0M631.9 334.2h0M633.6 206.2h0M632.8 200.3h0M633.5 196.5h0M633.3 191.4h0M632.6 318.6h0M632.6 321.3h0M634 196.5h0M634.8 189.4h0M634.5 184h0M634.8 184.9h0M634.8 181.8h0M635.2 178.1h0M635.8 173.4h0M635.3 166.3h0M635.2 162.9h0M635.3 296h0M635.4 300.1h0M636.3 291.3h0M636.2 293.4h0M636.8 283.8h0M637.6 268.1h0M638.3 268.3h0M638.7 280.9h0M638.9 286h0M639 289.9h0M638.4 290.8h0M639.4 265.7h0M640.4 200.3h0M641.5 207.2h0M643.3 210.4h0M644.6 268.3h0M645.3 192.8h0M645.7 192.3h0M647.4 272.1h0M648.3 202.2h0M648.5 198.6h0M649.2 206.3h0M649.3 205.6h0M650.9 220.6h0M651.5 214.1h0M651.2 209.2h0M651.7 241.2h0M652.5 230.3h0M652.4 230h0M653.3 253.1h0M653.7 336.3h0M654.2 339.5h0M654.8 250.2h0M654.1 243.6h0M654.5 242.8h0M655.7 335.7h0M655.9 340.5h0M655.4 340.6h0M656 264.7h0M655.8 259.4h0M658.2 262.5h0M659 257.8h0M659 254.6h0M658.6 254.3h0M659.1 346.7h0M658.7 350h0M661 260.9h0M661.1 254.2h0M661.3 254.2h0M662.4 325.6h0M663.6 246.5h0M664.4 242.4h0M663.9 242.2h0M665.4 253.9h0M664.5 240.4h0M666.3 246.7h0M665.7 246.3h0M667.7 236.9h0M669.3 232.2h0M671 224.2h0M671.7 302.2h0M671 306.5h0M671.5 310.2h0M671.6 212.4h0M671.6 287.3h0M672 305.1h0M671.9 305.7h0M675.7 230.3h0M678 283.1h0M679.2 239.3h0M680.8 239.5h0M681.7 237.6h0M683.4 284.8h0M685.1 225.2h0M691.9 257.8h0M692.7 255.1h0M694.1 204h0M698.1 265h0M698.6 217.6h0M701.9 221.4h0M704.8 224.6h0M705.2 212.8h0M706.3 274.1h0M708.2 207.6h0M708.2 201.4h0M709.1 269.4h0M710.4 216.1h0M710.2 275h0M711.2 268.2h0M713.1 215.3h0M712.8 214h0M716.2 256.8h0M718.7 193.2h0M718.9 243.8h0M719.8 241.2h0M719.2 254.2h0M719.1 258.8h0M719.6 259.6h0M720.8 239.1h0M721.5 179h0M723.3 173.9h0M723.7 171.7h0M727.2 240.2h0M728.8 154.3h0M729.8 163.3h0M729.6 226.2h0M731.6 233.6h0M731.3 235.3h0M732 220.1h0M733.1 228.1h0M734.4 132.3h0M734.2 127.5h0M734.7 126h0M734.8 231.5h0M735.2 233.4h0M735.7 147.2h0M736.4 140.1h0M736.2 136.1h0M736.6 163.6h0M737.3 139.4h0M736.8 135.8h0M737 129.5h0M738.7 149.8h0M738.3 147.9h0M738.3 255.3h0M738.1 258.8h0M738.5 265.7h0M738.1 267h0M738.9 171.7h0M738.6 237.1h0M739.7 264.2h0M739.4 270.9h0M739.5 277.1h0M739.7 280.7h0M741.5 187.8h0M741.5 257.2h0M741 262.3h0M741.5 264h0M741.8 275.3h0M741.9 279.7h0M741.8 281.2h0M743.4 263.6h0M743.2 278.7h0M743.4 280.3h0M745.9 192.7h0M745.9 188.4h0M746.8 271.3h0M748.1 209h0M748.7 273.3h0M752.2 199.6h0M752.4 196.6h0M752.1 273h0M753.9 205.3h0M753.7 272.3h0M755.6 199h0M755.4 197.7h0M754.9 273.9h0M754.6 274.1h0M757.5 215.6h0M757.4 202.2h0M756.6 288.5h0M757.8 202h0M757.6 201.3h0M758.5 273.2h0M760 194.2h0M759.9 192.6h0M760 282.9h0M760.5 284.5h0M760.9 203.4h0M761.3 267.4h0M761.9 191.4h0M761.3 277.3h0M761.7 279.3h0M763.5 189.6h0M762.7 252.8h0M764.8 269.7h0M765.5 276.4h0M765.4 281.4h0M765.3 285.8h0M766.5 169.5h0M766.5 159.6h0M765.8 269h0M766.4 275.9h0M766.3 276.9h0M767 175.5h0M767 241.3h0M767.2 257.7h0M766.8 264.4h0M767.2 269.2h0M766.2 274.3h0M766.1 280h0M766.6 282.1h0M768.3 241.2h0M767.9 252.7h0M767.7 258.9h0M768.2 259.7h0M769.3 175.2h0M769.7 164.7h0M769.6 161.5h0M769.8 254.8h0M769.8 257.9h0M769.4 264h0M769.3 268.3h0M769.6 271.5h0M771.7 258.3h0M771.2 261.8h0M771 266.4h0M771.2 269.4h0M773.4 170.2h0M773.3 169.8h0M773.6 179.5h0M773.4 279.9h0M774.1 285.5h0M774.1 292.9h0M773.9 293.5h0M774.1 185.3h0M774.5 180.2h0M774.5 174.7h0M774.6 174.1h0M774.5 259.5h0M775.9 282.4h0M776.6 288h0M776.6 292.2h0M776.4 292.2h0M777.5 205.2h0M777.3 178.6h0M777.6 172h0M777.3 171.4h0M777 279.7h0M777.1 287h0M776.9 289.4h0M778.7 285.3h0M780.7 202h0M780.4 198.3h0M781.5 283.1h0M782.2 210.7h0M782.7 208.4h0M784 208.7h0M783.8 204.8h0M785.6 213.5h0M785.4 209.6h0M785.2 208.7h0M784.9 297.4h0M786.3 214.2h0M785.8 207.7h0M786.4 207.6h0M786 286h0M789.6 202h0M790 217.8h0M789.7 290.2h0M790.2 298.8h0M790.7 220.5h0M791.2 289.9h0M792.1 309.5h0M792.5 272.8h0M791.9 284.8h0M792.5 280.5h0M792.6 215.9h0M794.1 218.9h0M794.4 218.1h0M794.2 295.4h0M793.8 289.7h0M795.5 280.7h0M796.1 210.3h0M796.4 313.5h0M795.5 273.2h0M796.4 271.5h0M797 211.4h0M797.4 190.3h0M797.4 202.4h0M796.9 211h0M796.9 200.3h0M797.3 271.2h0M798.4 269.1h0M797.7 282.8h0M798.8 217.6h0M799.1 271.2h0M801.2 202.1h0M801.1 269.6h0M802 208.7h0M802.2 272.3h0M802 278.9h0M801.5 284.6h0M803.1 207.7h0M802.6 205.7h0M803.1 187h0M803.4 265.9h0M804.1 188.1h0M803.8 207.2h0M803.6 274.5h0M803.7 283.8h0M803.7 273.8h0M805.4 267.7h0M806.5 281.6h0M805.5 284.7h0M806.6 211.9h0M806.9 212.9h0M806.6 185.6h0M807.3 283h0M806.7 268.4h0M806.8 271.9h0M806.9 273.7h0M807 284.9h0M808.2 212.6h0M808 289h0M808.2 279.9h0M808.8 297.5h0M808.8 306.7h0M809.8 267.8h0M809.8 276.5h0M810.8 194.9h0M811 205.6h0M810.9 265.6h0M810.9 262.8h0M811.7 195h0M812.1 190.3h0M812.2 199h0M813 196.9h0M813.3 205.3h0M812.7 267.6h0M813.3 264.3h0M813.4 263.5h0M813.2 281.4h0M813.2 286h0M813.1 286.6h0M814.5 190.8h0M813.7 181.5h0M813.9 273.8h0M814.4 264.1h0M813.6 297.1h0M813.8 294.4h0M813.6 266h0M814.6 274.5h0M814.7 266.1h0M815.6 205.1h0M816 175.6h0M816.2 189.8h0M815.9 200.8h0M815.9 281h0M816.3 284.9h0M816.6 204h0M817.2 207.6h0M816.6 273.8h0M817.2 265.6h0M817.4 284.7h0M818.5 202.5h0M818.4 196.7h0M817.8 295.6h0M818.2 272.4h0M817.8 301.8h0M819 192.5h0M818.6 207h0M819.4 265.4h0M818.8 269.1h0M818.3 279.8h0M818.3 284.5h0M818.7 289.8h0M820 204h0M819.8 204.1h0M820.3 183.4h0M819.6 206.8h0M820.5 194.7h0M820.2 283.6h0M820.1 273.8h0M820.3 270.8h0M821.3 198.8h0M820.6 281.5h0M821.2 279.3h0M821.2 271.3h0M821.7 198h0M822.1 180.6h0M822.5 198.7h0M822.1 279h0M823.1 206.4h0M822.9 181.4h0M822.7 308.4h0M822.6 265.7h0M822.9 266.8h0M823.5 283.8h0M823.3 312.1h0M824.3 193.2h0M824.3 285.4h0M824 277h0M824.6 192.6h0M825.5 268.5h0M824.9 274h0M826.4 203.3h0M826.4 299.8h0M826.8 281.1h0M827.8 194h0M827.5 290h0M827.7 268.2h0M829 271.7h0M828.5 274.8h0M830.3 278.6h0M829.7 269.1h0M831.2 199.7h0M830.8 193.3h0M831.3 189h0M831.5 279.9h0M831 275.5h0M831.7 200.5h0M831.6 304.6h0M833.4 174.9h0M833 270.7h0M833.3 289h0M833 274.2h0M833.6 185.3h0M833.6 166.3h0M833.7 189.4h0M834.2 279.6h0M833.7 276.9h0M834 304h0M834.9 203.1h0M835 173.3h0M834.5 277.1h0M834.8 286.5h0M835.7 197.3h0M836.4 278.5h0M835.8 276.5h0M837.1 200.4h0M837 203.1h0M837.2 198.4h0M836.8 185.3h0M837.4 273.4h0M836.7 274.1h0M837.7 188.6h0M837.7 175.6h0M837.7 167.9h0M838.7 183.8h0M838.9 179.6h0M839 193.5h0M839.1 288.4h0M840.4 189h0M840.2 200.6h0M840 174.6h0M840.2 201.3h0M840.3 282.1h0M840.9 165.6h0M841.3 182.1h0M841 293.5h0M842 178.1h0M841.5 325h0M842.5 285.1h0M842.8 187.6h0M843.3 284.2h0M842.6 294.4h0M844.1 163.4h0M844.4 201.2h0M843.6 277.3h0M845 196.7h0M844.8 195.7h0M844.6 326.7h0M844.9 280.3h0M844.6 301.4h0M846.2 322.9h0M846.3 277.1h0M846.3 283.6h0M846 282.5h0M846.3 283.2h0M846.1 322.9h0M847 190.3h0M847.2 293.1h0M847.3 278.5h0M847.3 302.7h0M846.8 292h0M847.4 296.5h0M846.9 297.9h0M848.4 197.9h0M848.3 195.1h0M847.9 277.9h0M848.6 198.2h0M848.6 198.7h0M848.8 280.2h0M848.8 293.6h0M850.4 196.5h0M850.4 284.2h0M850.2 307.5h0M851.4 200.1h0M850.6 196.6h0M851.4 279.6h0M851 300.3h0M852.7 183.1h0M852.3 180.1h0M852.4 178.1h0M851.8 329.2h0M853 175.2h0M852.8 188.9h0M853 311.1h0M852.7 282.2h0M853.3 317.3h0M853.5 305.5h0M853.5 290.9h0M854.1 288.3h0M855.1 156.8h0M855.2 197h0M854.8 283.3h0M855.1 298.6h0M855.1 290.2h0M856.1 181.3h0M855.6 191.9h0M855.5 195.3h0M856.1 173.7h0M856.1 282.6h0M855.9 308.1h0M856.2 285.5h0M856.2 333.1h0M856.7 169.9h0M856.8 327.4h0M857.1 296.9h0M857.8 191.6h0M858.2 175.7h0M858.3 297.9h0M857.7 316h0M857.8 284.8h0M859.2 316.3h0M858.5 290.7h0M859 325.9h0M859.2 299.5h0M858.6 329.6h0M860.5 195.3h0M859.3 183.9h0M859.9 180h0M859.9 172.9h0M859.9 162.5h0M860.5 291.1h0M860.2 319.1h0M860.5 333.8h0M859.6 304.3h0M860.9 169.1h0M861.3 175.4h0M861.5 194.9h0M861.4 297.4h0M860.8 303.8h0M862.2 190.8h0M863.4 179.1h0M863 320.2h0M863.4 285.2h0M862.6 322.2h0M864.5 185.9h0M863.7 296.2h0M863.8 286.2h0M863.7 284h0M863.9 302.4h0M864.9 188.7h0M864.8 175.9h0M864.9 182h0M865.3 344.6h0M864.8 296.6h0M865.5 319.6h0M865.4 289.8h0M865 284.4h0M865.9 190.6h0M866.4 294.3h0M865.7 286.1h0M865.7 294.2h0M866.9 177.4h0M867.1 185.9h0M867.3 177.5h0M866.8 302.3h0M867.6 148h0M868.4 183.4h0M868.4 305.9h0M867.5 315.5h0M868 287.6h0M868.5 179.5h0M869.3 300.4h0M870.4 192.5h0M869.9 159.3h0M870.5 175.9h0M869.9 313.1h0M870.1 314.2h0M870 342.7h0M869.7 306.2h0M870.6 167.5h0M870.9 291h0M871 304.7h0M871.4 290.2h0M870.7 320.6h0M871.1 323.6h0M871.5 318h0M871.5 293.3h0M871.9 348.6h0M872.7 179.2h0M873.1 172.2h0M872.7 191.8h0M872.9 182.6h0M873.4 299h0M872.8 343.2h0M872.7 332.1h0M873.8 171.3h0M875.1 186.5h0M874.6 167.8h0M874.7 356h0M875.3 294.3h0M874.6 310.8h0M874.6 303.9h0M875 329.1h0M875.4 329.5h0M876 183h0M876 303h0M877.1 176.8h0M877 343.8h0M876.7 305.3h0M878 167.2h0M878 324.1h0M878.1 314.6h0M878.5 162.2h0M879.4 160.6h0M879.5 176.7h0M878.6 188.5h0M879.3 320.1h0M878.8 303.8h0M879.2 300.7h0M879.4 306.3h0M879.4 308.6h0M879.4 321.9h0M878.8 352.4h0M880.2 323.1h0M880.5 319.6h0M880 369.4h0M879.8 301.6h0M879.6 326.7h0M880.6 189.7h0M881 167.2h0M881.2 168.1h0M880.6 156.5h0M881 304.7h0M881.5 344.9h0M881.4 371h0M882.2 157.8h0M882 135.8h0M882.1 302.6h0M882.5 312.4h0M882.8 148.5h0M883 311.7h0M882.6 312.3h0M884.1 188.8h0M884.4 159.1h0M883.7 182.2h0M883.6 350.4h0M884.6 185.9h0M884.8 184.9h0M885.4 153.2h0M885 180.8h0M884.9 351.1h0M884.8 305.4h0M884.7 341.1h0M885.5 307.2h0M885.8 181.7h0M886.3 148.4h0M885.7 340.5h0M886.2 305.6h0M886.1 379.8h0M885.9 365.4h0M886.5 308.7h0M886.4 331.2h0M886.2 315h0M886.3 312.8h0M885.5 331.2h0M886.8 353.3h0M886.9 333.5h0M887.5 317h0M887.1 358.5h0M887.1 312.9h0M886.9 358.3h0M887.8 175.9h0M888 141.4h0M888.3 325.1h0M887.7 347.8h0M887.7 329.1h0M889.1 360.6h0M889.7 322.7h0M889.5 326.2h0M889.7 160.8h0M890.2 333.2h0M890.4 370.4h0M891 149.1h0M890.9 189.3h0M891 166.3h0M891.2 182.8h0M892.4 184.3h0M892 186.5h0M891.9 158.3h0M892.1 159.6h0M891.6 171h0M892.2 187.4h0M891.6 318.3h0M892.1 323.5h0M892.4 321.6h0M891.5 314.1h0M893.1 179.4h0M892.7 312.3h0M893.9 187.6h0M893.6 318.9h0M893.6 343.5h0M893.9 325.9h0M894.7 189.4h0M895.5 135.8h0M894.5 318.7h0M895.1 315.3h0M894.7 329.5h0M895.4 328.1h0M896.5 188.7h0M896 346.5h0M895.6 340.4h0M895.9 315.2h0M895.7 320.2h0M897 188.4h0M897 165.1h0M897.2 346.9h0M897 346.2h0M896.7 322.8h0M896.5 334.9h0M897.5 314.2h0M896.5 321.9h0M897.5 361.8h0M897.7 182h0M897.7 182.1h0M897.8 178.3h0M898.5 326.4h0M897.8 319.2h0M899.2 171.8h0M899.2 166.3h0M898.7 177h0M899.5 321.2h0M899 346.1h0M899.4 357.5h0M899.3 334.3h0M898.6 323.5h0M900.4 154.1h0M900.2 184h0M899.8 159.7h0M900.1 156.2h0M899.6 327.3h0M900.3 326.6h0M900.4 317.5h0M900.1 365.2h0M900.8 178.3h0M901.2 169.1h0M901 318.5h0M901.5 170.8h0M902.3 181.4h0M902.4 179.3h0M901.6 155.3h0M901.7 326.4h0M903 186.3h0M903.5 134.4h0M902.7 351.9h0M903.7 125.9h0M905 148.6h0M904.5 175.8h0M905.3 187.9h0M905.1 337.9h0M905.3 330.7h0M906.3 186.1h0M905.5 177.2h0M906.5 324.2h0M905.9 334.1h0M906.3 327.1h0M906.6 192.1h0M907.2 189h0M907.2 179.1h0M906.8 332.6h0M906.9 345.2h0M906.8 322.1h0M906.6 324.4h0M908.4 191.4h0M908.1 192.7h0M908.6 192.5h0M908.9 167.4h0M908.9 140.2h0M909.4 335.9h0M910.1 195.8h0M909.8 190h0M910.4 333h0M910.1 333.1h0M910.2 329.1h0M910.9 157.5h0M910.7 192.5h0M911.8 338h0M913 194.3h0M913.6 187.8h0M912.8 183.2h0M913.1 183.2h0M913.4 337.1h0M913.1 339h0M914.2 163.2h0M914.4 193.4h0M913.8 181.1h0M913.6 327.5h0M913.6 337.3h0M915.1 198h0M915.2 184.1h0M915.3 178.6h0M915.6 158.5h0M916.4 179.9h0M916.2 190.5h0M916.5 338.5h0M916.8 158h0M916.6 171.6h0M917 160.6h0M916.8 170.9h0M917.2 357.9h0M916.7 338.2h0M917.3 338.5h0M917.3 338.7h0M917.3 341h0M917.7 196.3h0M918.2 198.2h0M917.8 180.2h0M918.5 376.2h0M919.3 334.3h0M920.2 163h0M920.1 353.7h0M921.2 197.6h0M921.3 334.8h0M920.6 335.7h0M920.8 333.4h0M922 177.5h0M921.9 344.6h0M923.1 204h0M923.4 176.2h0M923.5 359.2h0M923.1 342.6h0M923.3 345.9h0M924 201.3h0M923.6 187.4h0M923.8 159.5h0M924.2 341.7h0M923.9 343h0M923.8 368h0M923.9 343.4h0M925.1 180.7h0M925.1 199.8h0M925.1 200.9h0M924.9 180.7h0M925 187.4h0M925.2 184.2h0M924.9 337.1h0M925.3 333.5h0M925.5 357.2h0M925.9 353.4h0M925.9 335h0M926.5 189.8h0M927.5 186.7h0M927.9 329.4h0M927.9 333.7h0M927.5 332.7h0M928.7 193h0M928.6 200.6h0M928.6 193h0M928.5 192.9h0M929.3 338.7h0M929.9 193.7h0M929.9 173.9h0M929.6 182h0M930.2 332.8h0M931.3 155.9h0M931.4 153.2h0M930.6 197h0M931.2 183.5h0M931.2 170.1h0M931.6 185.4h0M932.4 345.8h0M931.9 330.1h0M932.8 194.1h0M932.9 201.2h0M932.6 194.9h0M932.9 178.2h0M933.5 328.2h0M933 345.3h0M933.4 326.7h0M933.6 172.7h0M933.8 188.4h0M933.9 194.7h0M934.6 188.4h0M934.3 182.4h0M934.1 176.6h0M934.1 165.9h0M934.1 151.7h0M934.2 340.9h0M934.2 331.9h0M935.4 171h0M935.3 200.8h0M935.3 340.5h0M935.5 153.7h0M936.1 150.1h0M935.6 335.2h0M936.3 345.3h0M936.3 333.4h0M936.9 200.7h0M936.7 197.7h0M936.6 196h0M937.3 370.2h0M937.4 329.9h0M936.6 346h0M937.2 335.8h0M936.8 338.3h0M937.5 198.3h0M937.8 194.1h0M938.4 169.8h0M937.6 327.2h0M937.8 339.5h0M938.3 340.5h0M938.7 189.7h0M938.6 171.2h0M938.7 339.8h0M938.8 329.6h0M940 195h0M939.6 195.6h0M940.3 331.4h0M940.4 326.6h0M940.3 334.7h0M942.4 192.4h0M941.6 200.4h0M941.9 327.7h0M943.5 196.3h0M942.8 174.7h0M943.3 328h0M943.5 342.2h0M944.1 167.7h0M943.7 193.4h0M944.1 188.6h0M944.1 174.2h0M944.1 168.6h0M944 366.5h0M943.9 329.2h0M945 325.4h0M945 349.6h0M945.7 159.9h0M946 164.3h0M945.8 187.5h0M946.1 174.8h0M946.2 333.3h0M947.3 191.1h0M946.9 172.4h0M946.8 331.6h0M946.7 329.6h0M947 323.3h0M946.7 331.6h0M947 367.2h0M948.1 194.9h0M947.7 174.3h0M948.2 189.9h0M948 197.8h0M948.7 185.1h0M948.8 186.8h0M948.6 175.8h0M949.1 181.2h0M949.3 345.1h0M949.1 334.9h0M949.8 179.7h0M949.6 325.5h0M949.3 334h0M949.9 335.9h0M949.9 344.4h0M949.9 354.6h0M950.7 194.8h0M950.8 193.1h0M951.5 328.8h0M953.2 154.2h0M953.3 191.8h0M952.9 188.9h0M952.6 160.5h0M953.4 150.8h0M953.3 196.6h0M952.9 364.8h0M953.7 168.6h0M954.3 193.4h0M953.6 162.2h0M954 190.3h0M954 155.2h0M954.5 173.6h0M953.8 348.8h0M953.5 330.5h0M953.7 330h0M954 332.8h0M954.1 337.1h0M955.5 169.5h0M954.8 172.1h0M954.6 160.9h0M955.1 163.7h0M954.8 342.6h0M954.6 335.5h0M955.2 351.5h0M954.7 334.3h0M956.1 166.8h0M956.5 143.5h0M955.8 181.7h0M955.5 346.2h0M957.3 154.2h0M956.8 125.2h0M957.3 182.1h0M957.3 164.5h0M957.4 322.1h0M957.2 331.1h0M956.8 338.5h0M956.5 325.7h0M956.8 357.4h0M958 196.1h0M957.9 322h0M958 385.1h0M958.4 357.1h0M959.3 321.8h0M958.7 325.4h0M959.2 383.8h0M959.3 332h0M959.3 343.3h0M959.8 179.6h0M959.9 176.3h0M960.2 157.5h0M960.1 193h0M960.4 336.4h0M960.8 179.9h0M960.9 190.7h0M960.9 183.6h0M960.8 195.1h0M961.4 154.4h0M960.7 344.9h0M962.1 141.9h0M962.5 184.8h0M961.5 193.3h0M962.2 181.3h0M961.5 329.6h0M963 175.9h0M963.4 333.4h0M962.6 334.7h0M962.8 337.8h0M964.1 178.7h0M964 197.2h0M964.4 131.2h0M964.1 331.2h0M964.2 340.9h0M963.8 344.1h0M963.8 348.1h0M965.2 173h0M965.1 197h0M965.2 192.1h0M965.5 183.9h0M965.2 181.8h0M965.3 334.4h0M966.1 195.8h0M965.8 352.2h0M965.8 331.5h0M967.2 153.7h0M967.7 178.7h0M967.7 173.1h0M967.5 170.8h0M967.5 326h0M967.9 179.1h0M967.5 194.5h0M967.9 195.7h0M968.2 323.8h0M968.2 344.2h0M968.3 372.8h0M968.1 358.5h0M967.7 352h0M968.1 345.1h0M969.3 193.2h0M969.1 186.7h0M969.3 192.5h0M969.5 333.7h0M969.1 327.9h0M969.4 348.5h0M969.1 351.6h0M969.8 172.9h0M970.2 148.6h0M969.5 328.7h0M969.5 338.8h0M970.1 324.9h0M971.1 156.5h0M971.5 173.1h0M972 332h0M971.3 335.7h0M971.5 339.4h0M971.5 334.3h0M971.6 334.3h0M972.3 347.1h0M972.6 183.9h0M973.1 324.7h0M972.6 324.9h0M973.6 165.6h0M973.8 184.5h0M974 355.9h0M974.3 363.8h0M974.7 164h0M975.1 181h0M975.5 143.2h0M975 325.6h0M974.7 341h0M975.3 338.9h0M975.4 375.2h0M976.2 161.4h0M975.8 190.2h0M975.6 350.1h0M976.4 339.6h0M976.3 344.3h0M975.9 345.5h0M977.1 174.5h0M977.9 169.9h0M976.9 164.8h0M977.4 159.3h0M977.4 146h0M977.4 327.7h0M978.4 142.6h0M978.3 186.8h0M977.7 181.8h0M977.8 346.3h0M979.1 196.8h0M979.4 166.7h0M979 169.3h0M979.5 357.5h0M979 331.3h0M980.4 148.8h0M979.8 195.7h0M979.6 178.3h0M980.6 188.4h0M981 182.5h0M981 197.6h0M980.6 175.5h0M980.7 185.6h0M981.4 177.4h0M981.1 338h0M981.5 186.5h0M982.1 195.7h0M982.4 165.3h0M982.3 193.9h0M982.2 331.7h0M982 335.5h0M982.2 328.4h0M982.3 335.5h0M983.5 169.1h0M983.4 328.1h0M983.1 327.5h0M983.4 350.5h0M982.8 359.4h0M983.9 153.6h0M984.2 196.1h0M983.8 187.7h0M983.8 185.8h0M984.2 189h0M983.8 346.1h0M983.5 330.6h0M984.3 345.6h0M983.9 327.2h0M983.8 327.4h0M984.4 340.9h0M984.1 336.9h0M984.2 353h0M984.3 336.5h0M984.5 181.1h0M985.3 195.3h0M985.1 181.3h0M984.6 181.1h0M985.4 325.3h0M984.5 333.3h0M986.4 195.5h0M985.7 195h0M986.1 366.6h0M985.5 337.2h0M985.5 337.2h0M986.3 332.5h0M986.4 329.2h0M986.5 343.4h0M985.5 347.7h0M986.3 338.6h0M986.6 180.1h0M986.9 136.8h0M986.7 329.5h0M986.5 345.8h0M987.5 326.7h0M987.2 333.5h0M987 333h0M987.8 192.4h0M987.8 374.8h0M988.2 345.9h0M987.9 324.6h0M988.4 360.5h0M987.8 333.8h0M989.3 332.2h0M989.1 336.2h0M988.6 369.1h0M988.6 330.7h0M990.3 186.1h0M990.5 182.1h0M990.2 331.8h0M989.7 376.4h0M990.6 185.5h0M991.4 174.2h0M991.5 353.9h0M992.2 180.1h0M991.8 194h0M991.8 196.8h0M991.7 185.3h0M991.5 179.6h0M992.4 174.8h0M991.8 170h0M991.8 167.8h0M991.8 357.6h0M993.2 158.9h0M992.8 172.9h0M992.6 187.2h0M992.8 186.8h0M992.5 386.3h0M993.4 335.1h0M992.5 330.7h0M994.5 200.1h0M993.9 140.3h0M994 200h0M994.1 142.6h0M993.7 326.5h0M994.2 352.3h0M993.9 344.6h0M993.9 331.9h0M993.8 357.8h0M994.2 327.9h0M993.9 335.4h0M996.3 171.4h0M996.3 174.3h0M996.1 323.4h0M996.5 146.5h0M996.7 173.2h0M997.4 175.4h0M997 181.5h0M996.4 182.4h0M996.8 175.5h0M996.6 171.2h0M996.6 167.3h0M996.9 165.3h0M996.9 152.4h0M996.9 329.3h0M997 369.7h0M996.8 332.4h0M998.2 192.6h0M998.3 195.9h0M998.1 199.3h0M997.9 362h0M997.9 332.8h0M997.7 351.6h0M999 198.1h0M998.8 198.1h0M999.4 197.2h0M998.8 188.4h0M999.3 338.3h0M1000.3 199.1h0M1000 154.1h0M1000.3 343.4h0M999.7 329.7h0M999.5 335.9h0M1000 347.8h0M1000 368.1h0M1000.6 193.5h0M1001.1 193.2h0M1001.2 174.4h0M1000.6 324.7h0M1001.2 335.7h0M1001.3 324.8h0M1001.7 172.2h0M1001.5 173.5h0M1002.3 150.8h0M1002.2 141.2h0M1001.8 367.9h0M1001.7 331.6h0M1002.1 358h0M1002.9 178.1h0M1002.8 180.7h0M1003.7 177.7h0M1003.2 175.2h0M1003.3 344.1h0M1002.6 329.9h0M1003.5 157h0M1004.3 362.7h0M1003.5 342.5h0M1003.9 357.1h0M1004.2 336.9h0M1005.2 160.2h0M1005.4 183.8h0M1004.7 353.8h0M1005 368.2h0M1005.5 357.3h0M1005.7 196.1h0M1006.2 353.8h0M1005.8 341.6h0M1007.4 191.7h0M1006.6 139.7h0M1007.2 190.9h0M1006.7 348.3h0M1006.8 340.2h0M1006.6 365.4h0M1006.8 342.4h0M1008.4 167.5h0M1008.1 329.3h0M1009.2 162.1h0M1009.2 375.4h0M1008.7 345.6h0M1008.5 330.8h0M1009.7 139.9h0M1009.9 176.1h0M1010.2 143.8h0M1010.2 187.2h0M1009.9 331.4h0M1011.2 193.2h0M1011.1 351.4h0M1010.7 354.4h0M1010.7 337.8h0M1010.3 337.4h0M1010.9 338.5h0M1010.9 344.2h0M1012.2 191.6h0M1012.1 190h0M1012.5 178.3h0M1012.8 171.9h0M1012.4 167h0M1012.2 348.8h0M1012.1 358.2h0M1013.2 177.1h0M1013.3 193.1h0M1013.1 149.3h0M1013.5 340.3h0M1012.7 344.3h0M1013.6 166.7h0M1014.4 180.1h0M1013.8 331h0M1014.6 170.3h0M1014.8 170.7h0M1014.7 330.3h0M1014.8 343.8h0M1015.8 193.1h0M1015.6 187.9h0M1016.2 365.8h0M1016 334.1h0M1016.8 152.9h0M1016.8 185h0M1016.6 332.8h0M1018.3 171.7h0M1018.1 184.2h0M1017.8 188.1h0M1018.3 184.4h0M1018.4 351.1h0M1019.3 173.4h0M1019.1 188.5h0M1018.6 194.6h0M1019.2 349.6h0M1019.5 326.1h0M1019 331.8h0M1018.8 345.7h0M1019.8 173.6h0M1020.2 196.7h0M1020 385h0M1019.8 377.8h0M1020.1 368.6h0M1020.9 197.4h0M1021.2 141.4h0M1020.6 349.6h0M1020.6 356.4h0M1021.3 336h0M1021.8 164.9h0M1022.3 160.4h0M1022.3 338h0M1022.4 363.5h0M1021.6 391.9h0M1022.8 186.1h0M1023.4 186.7h0M1023.3 195.2h0M1022.6 197.8h0M1023.4 366.9h0M1022.5 328.3h0M1022.5 372.2h0M1023 336.9h0M1024.2 181.5h0M1024.4 190.8h0M1024.4 332h0M1024.5 375.6h0M1023.8 333.5h0M1023.8 333.9h0M1023.6 349.6h0M1024.7 373.3h0M1025.3 337.3h0M1025.1 349.6h0M1024.9 332.4h0M1025.8 163.3h0M1025.7 180.3h0M1025.6 329.9h0M1025.5 357.6h0M1026.4 327.3h0M1025.5 331.9h0M1026.8 187.3h0M1026.7 152.4h0M1027.3 191.2h0M1026.8 181.7h0M1027.3 327h0M1027.3 370.6h0M1026.7 332.1h0M1026.7 333.5h0M1027 381.9h0M1026.5 354.5h0M1027 336.1h0M1027.8 157.3h0M1028.4 164.5h0M1028.3 178h0M1027.6 151.3h0M1027.9 193.8h0M1028 151.2h0M1028.2 165.7h0M1028.9 177.4h0M1029.1 193.9h0M1028.9 202.7h0M1028.5 197.6h0M1028.6 335.7h0M1029.4 328.3h0M1030.3 189.4h0M1030 161.9h0M1029.7 198.9h0M1029.9 177.2h0M1029.5 378.4h0M1029.9 325.4h0M1029.8 339.3h0M1030.3 334.3h0M1031 172.4h0M1030.9 170.8h0M1030.6 204.8h0M1030.5 188.7h0M1031.1 360.2h0M1031.4 327.1h0M1031.1 353.9h0M1031 352.5h0M1031.6 149.4h0M1031.7 180.6h0M1031.7 383.6h0M1031.8 333.7h0M1031.5 348h0M1033.5 203.4h0M1033 146.7h0M1033 126.2h0M1033.2 349.3h0M1032.9 347.4h0M1032.5 371.1h0M1033 344.4h0M1033.4 342.3h0M1033.4 331.4h0M1033.8 176.2h0M1033.9 162h0M1033.8 137.9h0M1033.5 192.7h0M1033.8 188.7h0M1033.8 170.4h0M1034.2 346.3h0M1034.5 368.4h0M1035.2 162.2h0M1034.8 174.9h0M1034.9 133h0M1035.4 172.1h0M1035.3 203.4h0M1034.8 175.4h0M1035.3 427.6h0M1034.9 400.4h0M1035.3 399.3h0M1035.7 149.6h0M1035.6 208.2h0M1035.7 189.9h0M1036 349.9h0M1036.5 377.3h0M1036.1 396.3h0M1035.9 327.4h0M1037.2 181.6h0M1037.1 180h0M1037.5 196.8h0M1036.9 187.2h0M1036.9 206.2h0M1036.7 187.9h0M1036.7 180.8h0M1036.7 160.3h0M1036.7 138.5h0M1037 371.2h0M1037.5 352.7h0M1037.2 356.6h0M1037.2 369.7h0M1038.1 179.9h0M1037.6 194.5h0M1037.9 204.9h0M1038.5 185.4h0M1037.5 191.7h0M1038 164.1h0M1038.5 345.5h0M1037.9 391h0M1037.9 327.2h0M1038.6 202h0M1038.8 199.6h0M1038.8 149.8h0M1039.5 404.3h0M1038.9 358.8h0M1038.9 382.9h0M1039 357.4h0M1039.1 331.9h0M1039.1 336.6h0M1039.2 357.6h0M1038.6 370.2h0M1039.4 373.5h0M1038.6 354.1h0M1038.7 383.1h0M1040.2 206.1h0M1040.4 197.4h0M1039.7 144.4h0M1040 204.5h0M1039.7 364.2h0M1039.8 336.5h0M1039.6 338.2h0M1041.1 147.9h0M1041 195.2h0M1041.2 190.3h0M1040.6 189.9h0M1041.1 351.3h0M1041.7 193.9h0M1041.8 383.2h0M1042.2 328.1h0M1042.4 390.2h0M1041.5 333h0M1041.9 337.8h0M1042.5 186.4h0M1043.4 191h0M1043.2 166.5h0M1042.6 408.9h0M1043 341.2h0M1043.5 347h0M1043.1 346.3h0M1042.9 349.5h0M1042.8 356.2h0M1042.9 360.4h0M1043.4 364.1h0M1043.4 369.8h0M1043.9 205.4h0M1044.5 201.6h0M1043.9 203.9h0M1044.3 381.4h0M1044.1 327.5h0M1043.6 394.2h0M1044.3 331.4h0M1044.7 198.8h0M1044.8 191.4h0M1044.8 178.3h0M1045.4 338.8h0M1044.8 399h0M1045.1 333.5h0M1045.8 193.6h0M1046.2 193.2h0M1046.5 199.7h0M1046 154h0M1046.5 375.4h0M1046.1 363.1h0M1046.5 330.2h0M1046.9 203.5h0M1046.9 199.3h0M1047 133.5h0M1046.9 167.3h0M1047.4 158.2h0M1046.7 330.7h0M1047.1 382.7h0M1047.5 340.9h0M1047.3 343.6h0M1048.2 157h0M1048.3 200.5h0M1048.5 402.4h0M1047.7 331.5h0M1048 381.7h0M1049 190.2h0M1049.1 201.1h0M1048.8 201.9h0M1048.8 156.3h0M1048.6 149.8h0M1048.8 188.7h0M1048.6 187.9h0M1048.6 176.3h0M1048.9 392.1h0M1049.2 379.9h0M1050.4 128.6h0M1049.9 181.7h0M1050.3 196.5h0M1050.2 200.6h0M1050 185.1h0M1049.7 349.4h0M1050.5 337.4h0M1050.2 340.8h0M1049.8 341.6h0M1051.2 142.2h0M1050.8 187.7h0M1051.4 170.7h0M1051 364.5h0M1050.8 360.2h0M1051.4 348.3h0M1052 118.6h0M1052.3 204.6h0M1051.9 420.2h0M1051.9 385.6h0M1052.8 116.9h0M1052.7 191.9h0M1052.9 193.3h0M1052.6 198.6h0M1053.3 185.9h0M1052.5 179.2h0M1053 356.2h0M1053.4 414.8h0M1053.8 194.2h0M1053.6 346.5h0M1053.6 353.6h0M1053.7 344.5h0M1054.5 199.9h0M1055.4 171h0M1055.4 165.9h0M1054.5 157.9h0M1055.2 203.8h0M1054.7 185.7h0M1055.4 403.7h0M1055.4 367.7h0M1055.6 200.3h0M1056.1 188.7h0M1055.6 126.7h0M1055.9 171.5h0M1056.8 165.6h0M1057.4 358.5h0M1057.2 355.4h0M1057.7 359.1h0M1057.9 364.6h0M1057.5 367.3h0M1057.7 179h0M1057.8 172.9h0M1058.1 200.4h0M1057.6 154.6h0M1057.9 176.3h0M1058 185.9h0M1057 182.3h0M1058.1 177.9h0M1057.5 173.4h0M1058.5 363.6h0M1059.2 136.3h0M1058.7 159.5h0M1058.6 154.7h0M1058.7 166.9h0M1059 182.2h0M1059 360.9h0M1058.9 343.4h0M1059.2 358.7h0M1059.2 361.9h0M1059.1 365.2h0M1059 365.7h0M1060.3 200.1h0M1060 174.7h0M1059.6 352.9h0M1059.6 331.4h0M1060 336h0M1060.4 334.6h0M1060.5 365.6h0M1060.8 198.6h0M1061.1 202.6h0M1060.9 150.1h0M1061.2 195.9h0M1060.8 188.4h0M1061.3 186.9h0M1061.3 332.1h0M1061.3 399.7h0M1061.2 337.7h0M1061.8 180.9h0M1061.9 187.4h0M1062.4 202.9h0M1061.7 177.5h0M1062.1 143.9h0M1061.6 353.5h0M1062.5 362h0M1063.4 175.4h0M1063.2 145.2h0M1063.3 170.5h0M1062.7 360.1h0M1062.9 354.6h0M1063.2 359.1h0M1063.3 339.4h0M1063.8 202h0M1063.7 151.2h0M1064.5 190h0M1064.4 184.8h0M1063.5 178h0M1063.9 177.9h0M1064.2 378.8h0M1064.4 339.1h0M1063.6 346.3h0M1064.2 347.5h0M1064.2 338.4h0M1065.3 192.9h0M1065.4 174h0M1064.6 194h0M1065.5 158.2h0M1065.2 151.3h0M1064.7 189.9h0M1065.4 364.6h0M1065.4 416.7h0M1065 373.1h0M1065.2 335.7h0M1066.2 197.7h0M1066.2 337.2h0M1065.8 371.4h0M1065.5 337h0M1065.5 408.5h0M1067.3 192.7h0M1066.9 204.4h0M1067.4 129.9h0M1066.7 192.5h0M1066.7 194.2h0M1066.5 383.4h0M1067.4 367.7h0M1067.1 340h0M1067.4 373.7h0M1066.6 380.2h0M1067.7 197.9h0M1068 128.6h0M1068 191.3h0M1067.7 193.8h0M1067.7 192.4h0M1068.2 341.4h0M1068.2 351.8h0M1068.9 186.2h0M1069.4 179.6h0M1069.4 197.5h0M1069.2 120.4h0M1068.6 354.7h0M1068.8 371.4h0M1068.8 404.1h0M1068.7 372.5h0M1069.1 350.4h0M1068.5 353.5h0M1070.2 117.4h0M1070.5 139.2h0M1070 158.5h0M1070.2 207.4h0M1070.4 196.2h0M1069.6 346.9h0M1070.3 335.7h0M1070.2 334.7h0M1070.4 385h0M1069.7 404h0M1070.2 341.7h0M1069.5 378h0M1071.2 177.1h0M1071.4 174h0M1071 188.6h0M1071.1 134.7h0M1071.1 204.5h0M1071.4 349.5h0M1071 373.5h0M1071.1 343.6h0M1070.9 365.6h0M1071.9 159.5h0M1072 190.7h0M1071.6 154.9h0M1072.4 182.3h0M1072.2 206.2h0M1071.6 351.9h0M1072.2 370.9h0M1073.3 201.7h0M1072.6 200.3h0M1072.8 415.8h0M1073.4 346.1h0M1072.6 339.1h0M1073.4 341.4h0M1073 396.4h0M1074.4 187.3h0M1073.6 184.8h0M1074.2 195.8h0M1074.1 340.9h0M1073.9 360.8h0M1074.7 205.3h0M1075.4 207.2h0M1075.1 191.4h0M1076 185.2h0M1075.5 180.6h0M1075.5 162.8h0M1075.4 342.9h0M1074.9 353.1h0M1075.1 393.6h0M1075.6 177.4h0M1076.1 180.4h0M1076.2 197.4h0M1075.6 197.4h0M1076.3 160h0M1075.5 359.5h0M1076.4 343.5h0M1076.1 334.2h0M1076 396.1h0M1077.1 143.4h0M1077.7 195.8h0M1077.3 193.8h0M1077.1 381.7h0M1077.3 342.7h0M1077.5 336.5h0M1077.4 431.8h0M1077.4 366.3h0M1076.6 396.1h0M1077.4 346.2h0M1077.9 152.8h0M1078.1 122.9h0M1078 185.5h0M1077.9 428.3h0M1077.5 404.7h0M1077.8 380.8h0M1079.3 199.7h0M1079.4 192.3h0M1078.8 337.9h0M1079.4 354.5h0M1079.8 181.4h0M1079.6 183.8h0M1079.5 140.8h0M1080.4 146.2h0M1079.6 169.2h0M1080.1 360.7h0M1080.2 401.5h0M1079.7 364.1h0M1080 364.7h0M1080 388.1h0M1081.5 136.9h0M1081.1 192.2h0M1081.5 201.8h0M1080.5 202.4h0M1081.5 137.5h0M1080.6 190.9h0M1080.7 337h0M1080.8 342h0M1081.1 354.2h0M1082.2 199.5h0M1082 195.4h0M1081.8 188.4h0M1082.3 342.7h0M1081.7 367.4h0M1082.4 336.6h0M1081.8 354h0M1082 405.2h0M1083.2 113.8h0M1082.8 170.5h0M1083.7 194h0M1082.9 187.4h0M1083.3 187.1h0M1082.6 377.9h0M1082.6 363.3h0M1083.5 335h0M1082.8 346.6h0M1082.6 376.7h0M1083 382.2h0M1083.8 204.9h0M1083.8 200.5h0M1084.4 204.9h0M1084.1 202.7h0M1084.4 169.8h0M1084.3 193.6h0M1084.1 432.2h0M1084.1 348.8h0M1084.4 338.1h0M1084.4 436.4h0M1084.1 358h0M1084.2 349.4h0M1084.4 362.9h0M1085.1 174.7h0M1085.1 132h0M1085.2 147.8h0M1084.8 339.4h0M1084.8 344.2h0M1085.3 337.7h0M1084.5 339.9h0M1084.7 363.5h0M1086.4 195.7h0M1086.2 170.5h0M1085.7 192.7h0M1086.3 427.3h0M1085.6 355.1h0M1087.4 193.2h0M1086.9 203.1h0M1087.1 194.2h0M1087 370.9h0M1086.8 386.5h0M1087.3 335.9h0M1088 185.3h0M1087.7 144.6h0M1088.2 179.6h0M1087.9 173.9h0M1087.9 171.3h0M1088.3 361.7h0M1088.4 358.5h0M1088.5 353.9h0M1088.2 339h0M1088.1 358.1h0M1088.9 203.3h0M1089 131.2h0M1089.4 159.7h0M1089.4 170.2h0M1089.3 186.1h0M1089.5 193.6h0M1089.5 147.1h0M1088.8 192.9h0M1088.8 199.7h0M1089 193.2h0M1089 189.3h0M1089 178.3h0M1089 167.2h0M1088.6 365.2h0M1089.2 342.8h0M1089.1 357.7h0M1089.1 358.4h0M1088.7 360.3h0M1089.2 431.4h0M1089.1 338.3h0M1088.9 395.6h0M1088.7 363.3h0M1089.7 185.6h0M1089.6 188.8h0M1089.9 153.4h0M1090.3 201.1h0M1090 182.2h0M1089.5 200.7h0M1089.9 350.9h0M1090.1 347.7h0M1090.2 356.3h0M1090.4 337.3h0M1089.5 340.6h0M1089.7 360.8h0M1090.2 369.9h0M1089.6 376.7h0M1089.4 380.8h0M1089.7 386.4h0M1089.8 387.8h0M1090.8 140h0M1091.2 163.3h0M1091.4 180.5h0M1090.8 193.4h0M1090.9 188.4h0M1091.3 185.4h0M1090.8 402.5h0M1090.7 377.4h0M1090.8 345.4h0M1090.8 349.8h0M1091.3 366.7h0M1091.5 179.8h0M1091.9 175.7h0M1092 340.1h0M1091.9 355.8h0M1092.2 361.7h0M1091.9 344.7h0M1092.4 360.6h0M1092.4 337.7h0M1093.2 350.7h0M1093 356.7h0M1092.6 384.3h0M1093.1 380.6h0M1092.6 343.8h0M1093.7 159.9h0M1094.4 178.7h0M1093.9 137h0M1094.3 354.9h0M1094 380.7h0M1093.9 359.1h0M1095.2 349.9h0M1095.5 340.3h0M1094.9 339h0M1094.7 351h0M1095.1 354.6h0M1094.6 357.7h0M1094.6 366.2h0M1096.4 166.5h0M1095.7 136.1h0M1095.7 434h0M1095.9 352.1h0M1096.2 379h0M1095.5 364.2h0M1096.2 339.6h0M1096 352.4h0M1096 371.8h0M1097.4 199.1h0M1096.6 345.9h0M1096.6 357.7h0M1096.8 364.4h0M1097.5 367.4h0M1096.8 374.7h0M1096.9 374.9h0M1096.9 391.5h0M1096.9 401.6h0M1098 173h0M1098.3 198.7h0M1097.7 166h0M1097.9 343.6h0M1097.7 389.4h0M1098 343.9h0M1099.1 114.5h0M1099.4 196.4h0M1099.3 186.7h0M1098.7 135.7h0M1099.3 374.3h0M1098.6 351.1h0M1098.9 346h0M1100.4 193.8h0M1100 160.2h0M1099.8 168.8h0M1100.4 348.1h0M1099.6 352.9h0M1100.4 372.1h0M1099.5 432.2h0M1100.7 146.4h0M1100.8 181.2h0M1101.2 188.7h0M1101.4 131.1h0M1100.6 191.9h0M1100.7 194.3h0M1101.3 396.4h0M1100.9 402.1h0M1100.6 359.7h0M1100.7 384.7h0M1102.2 182.5h0M1102 194.3h0M1101.8 121.6h0M1102.4 182.6h0M1102.2 342.4h0M1102.2 347h0M1102 361.4h0M1101.9 362.8h0M1101.6 371.6h0M1103.2 184.4h0M1103 155.8h0M1103.5 186.2h0M1103.4 344.9h0M1103.4 343.9h0M1103 342.5h0M1102.9 357.8h0M1103.2 339.6h0M1104.1 138.3h0M1103.7 148.7h0M1103.9 182.1h0M1103.8 361.2h0M1103.5 384.9h0M1103.6 353.6h0M1104.5 340.8h0M1104.8 179.3h0M1105.2 162h0M1104.6 170.7h0M1105 176.9h0M1104.5 344.5h0M1105.4 344.6h0M1106.1 188.5h0M1106.4 169.3h0M1106.2 184.7h0M1106.5 359.8h0M1106 363h0M1105.8 376.3h0M1105.5 351h0M1106.4 379.1h0M1107.3 172.5h0M1107.2 164.3h0M1107.3 341.7h0M1107.1 346.9h0M1106.8 339.9h0M1106.7 357.6h0M1107.5 341.9h0M1106.6 345.3h0M1107.3 344.6h0M1106.8 401.2h0M1106.8 383.7h0M1108.2 175.1h0M1107.6 192.5h0M1107.8 118.2h0M1108 179.2h0M1108.4 183.4h0M1109.2 183.9h0M1109.4 156.9h0M1108.5 190.8h0M1108.7 186h0M1108.5 181.1h0M1109.2 358.1h0M1108.6 356.1h0M1109.3 344.3h0M1110.3 180.9h0M1109.5 179.1h0M1110.4 151.3h0M1110.3 161.8h0M1110.3 191h0M1109.9 183.2h0M1110.1 145.8h0M1109.9 180h0M1110.4 168.1h0M1110.2 402h0M1110.1 366.1h0M1110.4 371.7h0M1110.2 351.3h0M1111.1 354.4h0M1111.4 391.8h0M1111.3 354.8h0M1111.1 389h0M1112.3 158.7h0M1111.5 134.5h0M1112.4 168.5h0M1112.4 148.9h0M1111.7 351h0M1112.2 365.5h0M1112.2 350.2h0M1112.2 369.4h0M1112 395.5h0M1113.4 134.8h0M1113 154.1h0M1113.4 181.7h0M1112.7 423.1h0M1113.3 388.2h0M1113.6 163.3h0M1113.9 161.5h0M1113.6 175.7h0M1113.8 169.2h0M1113.7 354.8h0M1113.7 365.4h0M1114.1 357.1h0M1114.9 183.5h0M1115.3 367.2h0M1114.5 361.2h0M1115.9 178.6h0M1116 341.1h0M1115.7 345.2h0M1115.5 378.7h0M1115.9 370.7h0M1115.8 341.9h0M1115.7 351.1h0M1115.9 353.5h0M1117.2 107.5h0M1116.9 114.1h0M1117.3 188.5h0M1116.9 171.6h0M1116.7 417.9h0M1117 416.7h0M1116.6 364.4h0M1118.3 161.5h0M1117.7 189.9h0M1118.3 349.4h0M1117.8 389.7h0M1117.9 384.7h0M1119.3 133.3h0M1118.7 171.4h0M1119.3 173.2h0M1118.8 362.7h0M1119.3 380.2h0M1119.4 376.6h0M1120 160.1h0M1119.6 174h0M1119.8 164.3h0M1119.7 177.4h0M1119.7 178h0M1119.9 146.1h0M1120 381h0M1119.6 368.7h0M1119.8 346.1h0M1120.5 344.6h0M1121.2 133.8h0M1121.3 145.5h0M1121.4 173.9h0M1120.7 171.4h0M1120.9 393.4h0M1120.6 381.2h0M1121.2 350.2h0M1120.5 355h0M1121.4 356.2h0M1121.4 373.9h0M1122 118.1h0M1122.1 349.7h0M1121.8 362h0M1122.9 127.5h0M1122.6 177.2h0M1123.1 189.9h0M1122.8 180.6h0M1123.5 364.7h0M1123.3 355.4h0M1123.3 379.2h0M1123.1 367.1h0M1123.3 405h0M1124.3 171.8h0M1124.3 121.6h0M1123.9 150.4h0M1124.4 374h0M1123.7 365.7h0M1123.7 345.8h0M1124.1 369.3h0M1124.5 375.8h0M1124.2 379.7h0M1124.2 399.3h0M1124.6 183.4h0M1124.6 123.7h0M1125 173.4h0M1124.5 173.2h0M1125.1 363.3h0M1124.9 346.7h0M1125.2 356.4h0M1125.4 360.1h0M1124.9 366.7h0M1124.9 374.3h0M1126.2 166.8h0M1125.7 177.9h0M1126.4 107.5h0M1126.2 392.7h0M1127.9 173.1h0M1127.8 169.6h0M1127.5 167.3h0M1127.4 343.6h0M1126.6 349h0M1126.7 385.6h0M1127.2 344.5h0M1128.4 162.1h0M1127.8 188.7h0M1127.9 147.3h0M1127.9 114.1h0M1128.3 373.3h0M1128 350.1h0M1129.4 353.9h0M1129.6 171h0M1129.8 158.2h0M1129.6 178.7h0M1129.5 350.6h0M1129.8 345.7h0M1130.5 160.2h0M1131.3 116.1h0M1130.9 118.5h0M1130.9 105.5h0M1130.6 130.1h0M1130.6 343.2h0M1130.8 352.2h0M1132.1 146.1h0M1132.4 183.6h0M1131.7 189.7h0M1132.3 352.9h0M1132.4 365h0M1132.3 374.5h0M1133.4 160h0M1132.9 184.9h0M1133.4 166.3h0M1132.9 372.7h0M1134.3 181.9h0M1134.3 172.8h0M1133.9 170.7h0M1134.3 168.2h0M1133.8 405h0M1134.1 416.4h0M1134 353.2h0M1135.2 181.8h0M1135.3 343.1h0M1136 159.4h0M1135.6 151.2h0M1136 367.4h0M1135.6 356.4h0M1135.6 343.7h0M1135.7 346h0M1136.7 184.2h0M1137.2 161.6h0M1137.4 168.6h0M1136.9 145.5h0M1136.9 184.6h0M1136.7 144.1h0M1137.3 185h0M1137.1 188.4h0M1136.7 349h0M1136.9 360.6h0M1137.4 349.7h0M1138.3 180h0M1137.6 108h0M1137.6 171h0M1138.4 172.7h0M1137.6 190.1h0M1138 189.3h0M1138.4 103.2h0M1138.1 381.8h0M1137.8 404.6h0M1138.6 156.6h0M1139 189.1h0M1138.6 143.1h0M1139.1 177.6h0M1139.2 391.4h0M1138.8 349.5h0M1139.3 410.6h0M1138.8 350.4h0M1139.1 386.2h0M1138.6 353.3h0M1139.8 186.5h0M1139.8 178.7h0M1140.1 361.5h0M1140.4 360.4h0M1139.8 346.4h0M1140.3 372.1h0M1140.1 349.4h0M1139.9 364.3h0M1141.1 159.9h0M1140.7 180.3h0M1140.9 174.2h0M1140.7 119.5h0M1140.9 354.7h0M1141.9 146.9h0M1141.9 166.4h0M1141.8 156h0M1142.1 189h0M1142.3 180.4h0M1142.3 372.7h0M1142.4 352h0M1142 371.4h0M1143 174.2h0M1142.5 144.9h0M1142.7 379.1h0M1143.1 375.5h0M1142.5 415.9h0M1143.4 356.1h0M1142.8 353.2h0M1142.7 364.2h0M1143.2 361.4h0M1142.7 404.6h0M1143.6 370h0M1143.1 372.8h0M1144.1 187.3h0M1143.7 189.9h0M1143.9 138.8h0M1144.5 192.2h0M1144 361h0M1144.3 354.1h0M1143.6 362.5h0M1144.3 366.2h0M1144.5 173.1h0M1145.4 138.7h0M1145.2 168.7h0M1144.7 173.2h0M1145.1 140.8h0M1145.4 350.8h0M1145.7 171.9h0M1145.5 374.5h0M1146.3 349.1h0M1146.2 401.9h0M1146.8 132.6h0M1146.6 185.5h0M1147.3 185.1h0M1147.5 356.5h0M1146.5 346.3h0M1146.8 376.1h0M1146.7 352h0M1147.2 354.1h0M1147.6 169.8h0M1148.1 141.2h0M1148.4 119.9h0M1148 375.5h0M1148.1 345h0M1147.5 366.9h0M1147.8 396.6h0M1148.5 172h0M1149.2 168.9h0M1148.9 184.7h0M1149.4 160.6h0M1148.9 353.6h0M1149.3 368.2h0M1150.2 187.8h0M1150.2 146.4h0M1149.6 146.1h0M1149.6 194h0M1149.9 187.3h0M1150.1 184.6h0M1149.9 397.5h0M1150.1 354.8h0M1149.8 352.9h0M1150.4 362.3h0M1150.8 182h0M1151.1 108.9h0M1151.4 409h0M1150.9 362.3h0M1151.4 368.6h0M1152.3 138.3h0M1151.6 191.4h0M1151.6 190.3h0M1151.7 182.6h0M1152.1 409.8h0M1152.4 345.1h0M1152 348.9h0M1153.4 182.2h0M1153 349.4h0M1153 358.6h0M1152.5 387.6h0M1153 380.7h0M1153.7 114.4h0M1153.5 186.7h0M1154.5 179.7h0M1154.3 173.8h0M1154.2 356.3h0M1154.4 428.1h0M1154.1 367.8h0M1154.8 162.3h0M1155.3 174.5h0M1154.7 187.6h0M1155.2 193.3h0M1155.2 354.5h0M1154.8 432.4h0M1156 164.6h0M1155.7 142.2h0M1155.6 187.9h0M1156.4 374.6h0M1155.6 367h0M1156.5 192.3h0M1156.6 192.6h0M1156.8 179.6h0M1156.6 410.8h0M1156.5 374.7h0M1157.1 387.6h0M1158.1 145.5h0M1158.4 181.3h0M1158.5 361.9h0M1159.4 373.5h0M1158.8 368.6h0M1159.3 362.6h0M1158.6 358.4h0M1158.8 354.4h0M1160.1 179.6h0M1159.9 174h0M1159.8 404.6h0M1160.1 418.1h0M1159.3 354.4h0M1160.2 358.2h0M1159.7 359.4h0M1161 152.8h0M1160.8 166.3h0M1161.5 182.6h0M1161 179.7h0M1161.2 401.6h0M1160.6 349.6h0M1162.5 180.3h0M1162.5 120.8h0M1162.4 183.7h0M1162.4 185.4h0M1162.2 357.8h0M1161.7 370.1h0M1161.7 387.5h0M1162.6 175.8h0M1163.5 349.4h0M1162.6 358.8h0M1162.9 351h0M1164.2 173.3h0M1163.7 196.1h0M1163.8 192.2h0M1164.5 185.2h0M1163.7 168.3h0M1163.7 376.1h0M1164.3 348.9h0M1164.4 360.5h0M1164.4 351.7h0M1164 370.3h0M1163.8 350.8h0M1164.6 192.5h0M1165.3 188.5h0M1165.1 184.3h0M1165.5 161.5h0M1164.8 420.3h0M1165.4 347.8h0M1164.9 399.7h0M1165.5 143.1h0M1165.9 196h0M1166.3 188h0M1166.5 366h0M1166.1 388.7h0M1167.4 114.7h0M1167.3 144.6h0M1166.6 185.9h0M1167.1 366.7h0M1167.6 187.1h0M1168.3 175.6h0M1168 183.6h0M1167.7 377.8h0M1168.3 375.6h0M1168.1 386.8h0M1168 373.7h0M1167.8 365.1h0M1167.7 372.3h0M1167.3 375.8h0M1167.7 380.5h0M1169.1 191h0M1168.7 179.7h0M1169.5 190.7h0M1168.5 175.7h0M1169.2 192.9h0M1168.9 172.4h0M1169.1 348.8h0M1168.7 351.8h0M1168.6 380.9h0M1169.6 362.5h0M1168.9 366h0M1169.3 369.2h0M1169 372.6h0M1169.1 375h0M1169.7 132.6h0M1170.5 196h0M1169.8 195.1h0M1170.1 372.6h0M1170.1 400.9h0M1170 366.2h0M1170 387.6h0M1170.5 184.8h0M1170.8 184.9h0M1171.1 130.8h0M1171 171.8h0M1170.6 350.3h0M1171.2 359.2h0M1171.3 355.5h0M1171.5 419.1h0M1171.5 429.6h0M1170.6 373.4h0M1171.5 190.2h0M1172 140.3h0M1171.6 194.4h0M1171.6 172.9h0M1172.4 173.6h0M1172.4 387.2h0M1171.8 372h0M1171.4 366.5h0M1171.6 370.7h0M1171.8 372.9h0M1173 126.4h0M1172.8 175.1h0M1173.1 153h0M1172.7 186h0M1172.5 348.4h0M1172.7 387.9h0M1172.8 370.3h0M1172.9 375.3h0M1172.5 411.1h0M1174.1 193.5h0M1174 180.4h0M1173.5 160.6h0M1173.1 189.1h0M1173.6 187.3h0M1174 397.6h0M1174 365.5h0M1175.2 162.1h0M1175 195.2h0M1175.4 144.1h0M1175.3 351.4h0M1175.1 415.8h0M1174.9 365.2h0M1175.2 348.5h0M1174.6 397.5h0M1174.9 354.3h0M1175.5 356.6h0M1175.8 172.3h0M1176.2 352.6h0M1176.5 197.7h0M1177.5 186.8h0M1177.1 363.1h0M1177.8 195.9h0M1178.4 192.5h0M1178.4 159.8h0M1177.8 194.9h0M1178 371.8h0M1177.9 366.2h0M1178.3 364.9h0M1178.1 376.2h0M1178.1 357.9h0M1177.5 367.5h0M1177.8 397.3h0M1178.6 118.1h0M1179.3 196h0M1179.3 131.6h0M1178.7 178.7h0M1179.4 198.3h0M1179 188.3h0M1178.7 402.7h0M1178.9 368.4h0M1179.6 169.3h0M1179.9 150.4h0M1180.2 199.9h0M1179.7 164.8h0M1180.1 121.6h0M1180.4 127.6h0M1180.2 368.7h0M1180.3 359.8h0M1181.2 196.5h0M1181.2 199.4h0M1180.5 194.7h0M1179.9 189.9h0M1180.5 189.7h0M1180.9 427h0M1180.9 352.5h0M1181 356.3h0M1181.1 428.2h0M1180.8 373.2h0M1181.3 365.1h0M1181.3 369.4h0M1181.3 383.4h0M1181.6 185.6h0M1181.5 160.2h0M1181.7 355.5h0M1181.6 397.4h0M1182.4 354.7h0M1181.6 348h0M1182.6 162.5h0M1183.3 194h0M1182.9 172.4h0M1182.7 196.8h0M1182.9 191h0M1183.5 370.5h0M1182.9 370.4h0M1182.4 376.3h0M1182.6 377.5h0M1184.1 200.3h0M1184.1 150.6h0M1184.3 366.4h0M1183.8 361.4h0M1184.3 376.3h0M1184.8 157.5h0M1184.7 370h0M1185 423.1h0M1185.2 349.9h0M1185.2 352.5h0M1185.1 361.3h0M1184.7 363h0M1186.4 184.4h0M1185.7 205.5h0M1186.4 201h0M1186.2 183.8h0M1186.1 379.2h0M1186.5 375.4h0M1186.7 192.7h0M1186.6 178.6h0M1187.3 390.6h0M1187.2 349.2h0M1186.7 407.1h0M1187.5 375.4h0M1188.3 202.2h0M1188.3 176.2h0M1188.4 206.5h0M1188.3 367.9h0M1188.4 397.2h0M1188.1 363.3h0M1188.8 123h0M1188.9 177h0M1189.4 193.6h0M1189.3 129.2h0M1189.4 193.1h0M1189.1 187.3h0M1189.3 181.6h0M1188.8 361.2h0M1190.1 192.6h0M1189.6 139.7h0M1190.2 170h0M1190.5 181h0M1190.5 200.8h0M1190.3 206.9h0M1189.6 205.3h0M1189.9 365.9h0M1189.5 353h0M1191.1 133.5h0M1191.1 207.5h0M1190.9 170.6h0M1190.8 349.8h0M1191.6 165.8h0M1192.5 203.8h0M1191.9 195.4h0M1192 168.9h0M1191.6 200.9h0M1191.8 183.6h0M1192.4 381.3h0M1191.7 361.3h0M1191.8 356.9h0M1191.7 360.2h0M1192.2 368.1h0M1191.6 353.1h0M1193.4 195.2h0M1193.3 146.8h0M1193.3 182.3h0M1192.7 197.1h0M1193.5 379.6h0M1192.5 367.4h0M1193 428.7h0M1193.3 351.5h0M1193.3 366.6h0M1192.9 382.3h0M1194.1 158.2h0M1194 181.6h0M1193.5 189.1h0M1194.2 133.4h0M1193.8 117.1h0M1193.7 362.8h0M1194.1 357h0M1193.9 374.1h0M1194.3 376.9h0M1195.1 209.4h0M1195.1 192.2h0M1195.3 211h0M1195.4 190.8h0M1194.8 171.4h0M1194.6 161h0M1195.1 385.8h0M1194.9 367.9h0M1195 360.3h0M1194.5 350.3h0M1195.2 369.7h0M1194.5 401.5h0M1196.4 165.6h0M1196.2 201.3h0M1195.9 397.4h0M1196.3 408.9h0M1196 369.1h0M1196.4 372.9h0M1196.4 375.3h0M1197.3 210.4h0M1197.2 199.5h0M1196.8 209.5h0M1196.9 206h0M1197 182.4h0M1197 208.8h0M1196.9 212h0M1197.1 204.2h0M1197.1 198.2h0M1196.7 441h0M1196.9 416.4h0M1197 400.8h0M1197.1 399.5h0M1197.1 415.3h0M1198.3 208.5h0M1197.9 189.1h0M1198.5 185.1h0M1198.3 191.3h0M1197.9 183.9h0M1198.2 178.5h0M1197.9 174.9h0M1198.3 170.1h0M1198.9 165.4h0M1198.5 165.3h0M1198 443.8h0M1198 353h0M1198 355.5h0M1197.9 375.2h0M1198.3 423.5h0M1197.7 378.3h0M1198.1 378.9h0M1198.4 383.6h0M1197.6 357.8h0M1199.2 138h0M1198.9 190.1h0M1198.7 210.5h0M1199.1 201h0M1198.5 167.7h0M1199.2 189.9h0M1199.5 410.5h0M1198.7 381h0M1200.4 186.9h0M1199.9 180.8h0M1199.8 189.4h0M1200 362.4h0M1199.8 358.5h0M1200.4 352.7h0M1200.9 205.6h0M1200.8 147.9h0M1201.3 201.4h0M1201.1 174.8h0M1200.7 203.4h0M1201.1 452.3h0M1201.3 407.8h0M1200.7 402.9h0M1200.6 367.9h0M1201.6 180.5h0M1201.7 165.4h0M1201.8 204h0M1202.2 182.2h0M1202.4 160.8h0M1202.3 160.9h0M1202.6 197h0M1202.5 192.4h0M1202.4 188.9h0M1201.6 399.7h0M1201.7 352.1h0M1202.3 420.2h0M1202.1 401.8h0M1202.2 377.9h0M1202 358.9h0M1202 381.8h0M1202 353.9h0M1202.3 376.1h0M1203.2 215.6h0M1203.2 385.3h0M1202.8 365.8h0M1203.3 369.8h0M1202.8 396.9h0M1203.8 179.1h0M1204 203.6h0M1203.5 184.7h0M1203.7 362.3h0M1204.3 441.4h0M1203.9 363.4h0M1204.1 354h0M1204.3 371.1h0M1205.4 208.6h0M1205.1 210.6h0M1204.7 138.4h0M1204.8 152.9h0M1205.2 195.4h0M1205.8 208.9h0M1205.3 204.4h0M1204.8 395.2h0M1205.4 459.1h0M1206.5 204.6h0M1206.1 172.7h0M1207.4 213.8h0M1206.6 368.9h0M1207.4 354.1h0M1207.1 462.7h0M1208.2 176h0M1207.9 192.9h0M1208.3 362.2h0M1208.3 356.1h0M1207.6 403.6h0M1207.6 351.6h0M1207.9 390.3h0M1208.5 367.3h0M1209.2 159.4h0M1210.3 185.5h0M1210.3 198.6h0M1210.5 181.1h0M1210.2 175.5h0M1210.3 402.8h0M1210.4 356.5h0M1210.2 370.6h0M1210.5 200.1h0M1210.7 172.4h0M1210.9 222.4h0M1210.5 219.6h0M1211.4 201.3h0M1210.9 399.9h0M1210.7 372.1h0M1211.2 385.3h0M1210.6 361h0M1211 358.9h0M1210.9 353.3h0M1212.2 212.4h0M1212 158.5h0M1212 202.3h0M1211.4 195.7h0M1211.9 190.8h0M1212.3 373.3h0M1212 359.4h0M1211.9 380.7h0M1213.3 135.6h0M1213.2 369.7h0M1213.2 351.9h0M1213.7 202h0M1213.9 216.7h0M1214.3 184.4h0M1214.4 223.8h0M1213.9 361.7h0M1213.8 415.4h0M1213.8 352.2h0M1213.6 364h0M1213.7 368.3h0M1214.9 181.9h0M1214.9 225.1h0M1215.4 194h0M1215.4 161.6h0M1215.7 216.1h0M1215.3 212.8h0M1215.4 411.8h0M1215.1 357.1h0M1215.1 357.7h0M1214.5 358.3h0M1215.5 351.5h0M1215.2 388.8h0M1215.2 392.8h0M1214.8 399.8h0M1215.1 401.9h0M1215.8 172h0M1215.9 227.1h0M1215.9 158.8h0M1215.7 218.9h0M1215.6 202.9h0M1216.5 149.3h0M1215.9 196.4h0M1216 224.4h0M1216.4 221.2h0M1216 373.1h0M1216.1 367.7h0M1216.8 204.8h0M1217.2 195.3h0M1216.6 187.6h0M1216.5 187.3h0M1217.4 188.2h0M1216.8 185.4h0M1216.8 353.4h0M1217.1 368.5h0M1216.7 382h0M1216.7 365.2h0M1217.1 371.8h0M1217.1 374.6h0M1218.4 223.8h0M1218.2 197.3h0M1217.9 375.6h0M1218.6 216h0M1218.5 227.9h0M1218.6 225.6h0M1218.9 213h0M1219.3 365.9h0M1219.5 354.9h0M1218.8 414h0M1218.9 428.2h0M1219.5 219.4h0M1219.9 226.8h0M1220.4 225.2h0M1220 411.9h0M1220 381.4h0M1219.9 351.6h0M1219.7 353.3h0M1219.8 392.7h0M1220.5 188.2h0M1221.4 182.1h0M1221.1 212.1h0M1221.3 363.2h0M1221.4 388.8h0M1220.6 353.8h0M1221.4 446.9h0M1222.3 161h0M1222.3 215.3h0M1222 203.1h0M1222.4 370.8h0M1222.1 371h0M1221.9 365.1h0M1222.2 386h0M1223.2 175.7h0M1222.9 188.4h0M1223 233.3h0M1223.5 195.2h0M1223 381h0M1222.9 359h0M1223.3 362.2h0M1223.7 210.5h0M1223.7 158.9h0M1223.9 351.1h0M1224 420.1h0M1224.8 369.3h0M1224.2 372.6h0M1224.2 377.4h0M1224.4 377.9h0M1224.5 208.9h0M1224.9 211.3h0M1224.6 149.6h0M1225 231.8h0M1225.1 190.2h0M1224.7 387h0M1225.3 362.9h0M1225.4 367.3h0M1225.1 421.4h0M1226 200.2h0M1225.6 227.2h0M1226.4 234.9h0M1226.5 235.4h0M1225.6 216.8h0M1225.7 383.4h0M1225.9 372.2h0M1227.4 228.1h0M1226.9 212.9h0M1227 210h0M1226.8 230h0M1226.7 219h0M1227.4 417.7h0M1226.5 420.5h0M1227.6 228.8h0M1227.5 350.2h0M1228 430.2h0M1229 239h0M1228.8 223.8h0M1229.3 193.8h0M1229.1 234.3h0M1228.5 351.1h0M1229.2 383.9h0M1228.6 393h0M1228.6 377.8h0M1229.2 352.3h0M1229.8 219.5h0M1229.7 233.4h0M1230.2 235.1h0M1229.8 358.9h0M1229.8 384.1h0M1230.9 229.7h0M1230.8 226.4h0M1231.5 233.2h0M1230.6 190.2h0M1231.3 231.1h0M1231.4 204.9h0M1230.7 376.4h0M1231.1 386.2h0M1230.7 369.9h0M1230.9 357.3h0M1231.3 366.8h0M1231.6 170.8h0M1231.8 239.9h0M1232.1 191.8h0M1231.8 227.1h0M1232.3 237.2h0M1231.5 380.7h0M1232 378.6h0M1232.3 369.6h0M1232.2 362.2h0M1232.7 240.2h0M1232.9 360.6h0M1232.9 384.1h0M1232.6 406.3h0M1233.4 361.4h0M1234.3 236.2h0M1233.7 226.9h0M1234.5 239.6h0M1234.3 163.9h0M1233.7 228h0M1234.1 367.1h0M1234.1 369.3h0M1235.4 210.4h0M1235.3 240.2h0M1234.5 182.8h0M1234.7 201.2h0M1235 218.1h0M1235.3 203.3h0M1234.9 383.6h0M1235.4 357.3h0M1234.9 355h0M1234.6 359.1h0M1235.8 227.2h0M1236.4 237.7h0M1235.7 233.9h0M1236.4 354.3h0M1235.6 409.6h0M1236.3 364.5h0M1237.3 162.5h0M1236.6 234.1h0M1237 178.5h0M1237.4 232.4h0M1237.3 230.2h0M1237.3 221h0M1237.4 349.8h0M1237.7 151.5h0M1238.2 224.8h0M1238.3 234.2h0M1237.9 354.4h0M1238 373.6h0M1238.2 356.8h0M1237.7 370.8h0M1238.5 366.4h0M1238.5 229.9h0M1239 234h0M1239.1 377.3h0M1239 362.3h0M1239.9 190.1h0M1240 191.7h0M1240.2 224.3h0M1240 238.5h0M1239.7 352.7h0M1240 362.9h0M1240.9 215.9h0M1241.3 205.2h0M1240.7 195.6h0M1241 230.2h0M1241.1 224.5h0M1241.2 232.7h0M1240.8 231h0M1241.3 364.5h0M1241 370.4h0M1241.2 357h0M1240.5 357.3h0M1242.2 208.2h0M1242 217.4h0M1241.8 238.6h0M1242.3 358.6h0M1242.5 166.3h0M1242.6 219.9h0M1243 221.1h0M1242.8 192h0M1242.9 226.8h0M1243.4 221.7h0M1243.5 353.5h0M1242.9 363.6h0M1244 176.9h0M1244.4 347.3h0M1245.2 234.2h0M1244.5 226.8h0M1244.5 215.1h0M1245.2 369.1h0M1244.8 358.2h0M1245.6 230.4h0M1246.3 221.7h0M1246 211.6h0M1245.9 355.2h0M1245.8 353.1h0M1246.6 226.6h0M1247 193.4h0M1246.6 152.5h0M1246.9 224.3h0M1246.7 343.4h0M1247.4 369.1h0M1248.1 142.5h0M1247.9 340.2h0M1248.7 221.7h0M1248.6 210.8h0M1249.4 208.1h0M1248.8 206.4h0M1249.9 209.1h0M1249.6 201.3h0M1249.7 348.3h0M1249.9 345.5h0M1249.6 340.3h0M1251.1 193.1h0M1251.4 212.4h0M1250.5 182.9h0M1251.5 214.8h0M1250.6 349.2h0M1250.5 358.6h0M1250.8 341.1h0M1251.4 356.5h0M1251.7 362h0M1251.2 363.1h0M1251.8 190.8h0M1252.4 213.4h0M1251.8 216.4h0M1251.7 203.1h0M1252.9 209.9h0M1251.9 205.6h0M1252.4 203.5h0M1253.5 184.2h0M1252.9 201.9h0M1252.8 353.3h0M1252.7 341.8h0M1253.5 207.4h0M1253.7 182.6h0M1254.4 195.9h0M1254.3 212.8h0M1254 158.4h0M1253.9 343.8h0M1253.6 363.2h0M1255 182.1h0M1254.7 204.8h0M1255.2 207.4h0M1255.2 187.4h0M1255.4 346.7h0M1255.8 209.8h0M1255.5 206.8h0M1255.9 211.1h0M1256.5 185h0M1255.8 196.5h0M1256.2 209.7h0M1256.3 174.7h0M1255.9 338.8h0M1256.5 200h0M1257.2 171.7h0M1256.9 186.8h0M1258.2 204.5h0M1258.1 195h0M1258.5 193.8h0M1257.8 327.6h0M1257.8 332.9h0M1258.2 341.2h0M1258 334.3h0M1259 198.8h0M1259.4 172.4h0M1258.9 179.9h0M1259 197.9h0M1258.8 180.8h0M1259.2 188.4h0M1258.8 339.7h0M1259.4 328.4h0M1260.4 327.2h0M1260.1 358.5h0M1259.6 350.6h0M1260.9 201h0M1260.2 186.4h0M1260.5 184.7h0M1260.8 345.4h0M1260.6 355.2h0M1260.7 336h0M1262.1 157.9h0M1262.2 181.9h0M1261.8 182.3h0M1261.7 188.8h0M1261.5 203.1h0M1261.8 382.8h0M1261.8 361.3h0M1263 181.9h0M1263.4 139.6h0M1263.1 182.6h0M1263.3 364.7h0M1263.1 337.8h0M1263 335.8h0M1263.3 359.8h0M1262.7 337.9h0M1264.4 151.9h0M1263.6 169.6h0M1264.4 164.8h0M1263.9 338.4h0M1264.1 330h0M1265 180.4h0M1265 199h0M1265 188h0M1265.4 186.2h0M1265.4 167.9h0M1265.3 344.9h0M1265.1 333.9h0M1265.2 352.9h0M1264.7 348.5h0M1265 363.2h0M1265.1 333.2h0M1266 192.5h0M1266.1 152.5h0M1266.1 141.1h0M1265.8 186.2h0M1265.5 150.6h0M1266 177.8h0M1266.5 174.5h0M1265.9 353.7h0M1265.7 350.9h0M1265.7 367.2h0M1266.6 141.9h0M1267 333.1h0M1267.2 339.5h0M1267.1 356.5h0M1267.1 336.5h0M1266.5 354.7h0M1266.8 346.8h0M1267.9 190.6h0M1268 179.6h0M1268.1 342.6h0M1268.1 331.7h0M1268.1 346.2h0M1268.2 344.8h0M1268.8 189.5h0M1268.9 187.9h0M1268.7 175.4h0M1269.1 180.5h0M1269.2 189h0M1269 185.3h0M1268.9 330h0M1270.4 182.4h0M1270.4 175.5h0M1269.7 194.6h0M1269.8 356.4h0M1270.1 340.3h0M1271.2 192.4h0M1270.7 190.9h0M1271.4 194.4h0M1270.8 133.8h0M1271.2 166.7h0M1270.7 195.1h0M1270.6 370.2h0M1270.8 337.5h0M1272.3 183.9h0M1271.7 189.6h0M1272.4 174h0M1272.4 357.9h0M1273.5 142.3h0M1273.3 345.7h0M1273.3 355h0M1274.5 172.4h0M1274.3 192.2h0M1274.5 174.6h0M1274.1 165h0M1273.9 191.9h0M1273.6 349.2h0M1274.9 187.8h0M1274.8 376.6h0M1274.6 332.5h0M1274.6 335.2h0M1274.9 351.8h0M1275.2 356.7h0M1275 360.9h0M1275.5 166.5h0M1276.3 337.8h0M1275.6 344.4h0M1276.3 333.8h0M1276.6 116.9h0M1276.9 160.5h0M1277.1 184.2h0M1276.9 193.2h0M1276.8 366.2h0M1276.9 354.6h0M1277.5 338.9h0M1276.9 356.2h0M1277.4 361.1h0M1278.1 148.3h0M1278.1 342.9h0M1278.4 342.9h0M1278.4 339.7h0M1278.8 155.1h0M1279.3 138.2h0M1278.7 175.3h0M1278.7 338.9h0M1279.8 151.4h0M1279.7 190.2h0M1279.9 186.5h0M1280.2 341.4h0M1280.8 194.5h0M1280.8 368.8h0M1280.9 368.8h0M1282.9 349.6h0M1282 354h0M1282.4 359.2h0M1282.9 199.6h0M1283.2 150.2h0M1282.8 137.2h0M1282.8 345.7h0M1283.2 370.8h0M1283.9 119.3h0M1283.5 144.7h0M1283.5 160.9h0M1284.4 158.9h0M1284.2 191h0M1283.8 187.2h0M1283.8 177.8h0M1283.9 362.8h0M1283.9 383.6h0M1284.2 371.3h0M1283.6 340h0M1283.9 337.9h0M1284.4 370.4h0M1284.5 122.4h0M1285.2 174.4h0M1284.7 195.9h0M1285.2 198.7h0M1284.6 193.1h0M1285.2 173.2h0M1285.3 173h0M1284.9 124.4h0M1285.1 187.5h0M1284.8 194.8h0M1285.2 339.9h0M1285 377.2h0M1285.4 341.7h0M1284.6 345.6h0M1286.1 201h0M1286.1 196.7h0M1286.4 128.3h0M1285.7 201.6h0M1286.4 196h0M1286.4 355.8h0M1286.4 375.4h0M1285.5 354.2h0M1287.1 183.3h0M1287.3 181h0M1287.4 181.3h0M1286.8 146.2h0M1286.7 197.2h0M1286.7 185.1h0M1286.7 175.4h0M1287.3 376.8h0M1287 353.4h0M1286.7 349.4h0M1286.8 347.9h0M1287.7 165.7h0M1287.7 163.4h0M1288.4 174.9h0M1287.8 340.6h0M1288.1 343.4h0M1287.9 345.6h0M1288.7 206.4h0M1288.8 195.7h0M1289.1 173.5h0M1288.9 133.4h0M1288.7 191.9h0M1289.5 344.3h0M1288.6 365.6h0M1289.1 394.6h0M1290 135.3h0M1289.9 207.9h0M1290.2 161.5h0M1289.6 351.8h0M1289.8 349h0M1290.9 149.3h0M1290.6 191.4h0M1290.9 181.8h0M1291.3 360.2h0M1290.6 360.3h0M1291.9 179.7h0M1291.6 163.4h0M1291.6 177.1h0M1292 390.9h0M1291.7 405.9h0M1292.5 361.7h0M1292.3 346.9h0M1292.5 354.8h0M1291.9 361.5h0M1293.3 213.1h0M1293.2 164.4h0M1292.6 191.8h0M1293.5 184.1h0M1293 189.3h0M1292.9 215.9h0M1292.6 381.2h0M1293.3 373.6h0M1292.8 345.8h0M1293.6 194.1h0M1294.3 162.8h0M1294 139h0M1293.7 197.3h0M1294.4 216h0M1293.7 216.7h0M1293.7 354.8h0M1293.6 370.1h0M1294.7 152.6h0M1295.2 203.4h0M1295.5 146.5h0M1295.3 343.9h0M1294.8 362.5h0M1296 216h0M1295.6 194.4h0M1296.1 203.7h0M1295.5 353.6h0M1295.9 379.5h0M1296.2 353.7h0M1296.7 202.2h0M1297.4 147.6h0M1297.4 203.4h0M1297.1 173.1h0M1297.2 174.8h0M1296.9 215.1h0M1297.3 214h0M1296.7 346.4h0M1296.9 357.5h0M1297.8 185.7h0M1298.1 226.4h0M1298.1 217.7h0M1298.2 216.9h0M1297.8 192.6h0M1297.9 215.5h0M1298.3 219.5h0M1297.5 187.1h0M1298.2 159.5h0M1298.6 224.8h0M1299.1 224.4h0M1299.4 190.8h0M1298.8 382.8h0M1298.8 350.9h0M1299.5 372.2h0M1300 227.1h0M1299.6 182.4h0M1300.3 233.2h0M1299.6 227.1h0M1300 167.4h0M1300.4 164.9h0M1300 343.1h0M1299.5 405.7h0M1299.8 373.9h0M1300.8 148.9h0M1300.6 121h0M1300.9 343.2h0M1301.3 352.4h0M1301.1 358.9h0M1300.7 384.6h0M1302.4 211.6h0M1302 191.4h0M1301.5 172.9h0M1302.2 199.8h0M1302 402.6h0M1302 349.9h0M1301.8 361h0M1302 365.1h0M1302.3 378.3h0M1302.5 186.7h0M1303.1 225.4h0M1303.4 239.1h0M1302.6 230.3h0M1302.6 406.2h0M1303.6 219.1h0M1303.7 243.5h0M1304.3 212.3h0M1303.9 407.1h0M1304 343.8h0M1304.1 376.8h0M1304.5 397.5h0M1304.3 400.8h0M1304.1 349.2h0M1304.7 217.8h0M1305.5 191.7h0M1304.8 206.8h0M1305 228h0M1305.4 207.8h0M1305.2 245.2h0M1305.3 166.9h0M1304.7 219.2h0M1304.9 350.4h0M1305 382.2h0M1304.6 362.9h0M1305.3 345.1h0M1306.2 169.6h0M1306.3 244.3h0M1306.1 219.1h0M1305.6 359.7h0M1305.7 334.6h0M1306.5 345.4h0M1305.6 362.2h0M1306.5 384.2h0M1306.2 341.1h0M1306.9 155.8h0M1307.4 162.8h0M1307.2 221.8h0M1307.2 234.4h0M1306.8 345.6h0M1307.1 377h0M1307.3 333.7h0M1306.9 353.2h0M1306.7 376.5h0M1308.2 238.3h0M1308 225.1h0M1308.2 336.3h0M1308.3 345.1h0M1308 333.8h0M1307.7 342h0M1309.5 154.3h0M1309.2 231.1h0M1309.3 237.3h0M1308.8 242.5h0M1309.2 170.8h0M1308.8 374.3h0M1309.8 192.9h0M1310.3 229.4h0M1310.3 220.5h0M1310.3 339.8h0M1310.2 378.9h0M1310.7 177.5h0M1310.7 222.7h0M1311.1 197.8h0M1311.4 224.8h0M1311.1 238.4h0M1311.4 236.1h0M1310.6 355.2h0M1311.3 399.2h0M1310.5 378h0M1311.7 225.4h0M1312.2 219h0M1312 232.4h0M1311.5 348.2h0M1313.2 183.2h0M1312.8 232.2h0M1312.5 235.4h0M1313.1 215.7h0M1313.1 169.8h0M1313.2 227.9h0M1312.6 228.9h0M1312.7 224.5h0M1313.4 342.3h0M1313.2 356.9h0M1313.9 188.2h0M1314.2 198.6h0M1314.3 192.4h0M1313.7 235h0M1314.1 183.2h0M1314 240.3h0M1313.9 238.9h0M1313.6 375.7h0M1314 358.8h0M1313.9 327.3h0M1314.6 232.7h0M1315.2 213h0M1314.9 219.7h0M1315.4 337.7h0M1315 356.5h0M1314.8 353h0M1314.7 349h0M1316 236.8h0M1316.2 220.4h0M1316.2 240.2h0M1316 220.3h0M1316.5 195.2h0M1316.5 236.5h0M1316.1 346.5h0M1316.4 388.3h0M1316.1 358.3h0M1316.5 203.5h0M1317 205.8h0M1316.7 235.5h0M1316.4 228.6h0M1316.2 222.2h0M1316.5 219.3h0M1317.3 364.4h0M1316.9 394h0M1317.4 341.8h0M1316.6 338.5h0M1316.7 357.7h0M1317.9 225.4h0M1318 222.3h0M1318.5 218.3h0M1318.5 211.8h0M1318.1 371.3h0M1318.2 333.9h0M1317.8 411.1h0M1317.7 393.1h0M1318.6 196.8h0M1319.3 217.3h0M1319.3 213.1h0M1318.5 348.9h0M1318.9 360.7h0M1320.2 234.2h0M1319.6 215.1h0M1319.5 233.8h0M1319.7 377.5h0M1319.6 384.5h0M1319.6 350.6h0M1321.4 204h0M1321 216.2h0M1320.5 217.9h0M1321 234.9h0M1320.6 394.5h0M1321.3 375h0M1321.1 351.7h0M1322.2 190h0M1322.1 233.5h0M1321.6 343.9h0M1322.1 382.9h0M1322.3 387.8h0M1322 363.9h0M1322.3 387.8h0M1322.9 212.3h0M1323.4 400.9h0M1323.5 364.6h0M1322.5 358.5h0M1322.8 360.6h0M1323.4 345.5h0M1324.4 224.4h0M1323.5 203.6h0M1323.8 207.8h0M1323.7 223.8h0M1324 381.8h0M1324.1 416.3h0M1323.8 361.4h0M1323.8 353.2h0M1323.5 421.6h0M1325.5 229.7h0M1324.9 353.7h0M1324.8 346.6h0M1324.8 346.7h0M1326.4 223.1h0M1326.1 368.1h0M1326.1 357.2h0M1325.7 398.4h0M1325.9 348.3h0M1326.6 352.8h0M1326.9 358.1h0M1326.4 359.2h0M1326.4 379.7h0M1326.4 388.1h0M1327 217.4h0M1326.5 360.8h0M1326.7 350.2h0M1326.7 354.9h0M1328.2 219.3h0M1327.9 228.7h0M1328.5 365h0M1328.5 394.5h0M1329.4 198.8h0M1328.5 191.8h0M1329.1 371.9h0M1329.4 388.2h0M1329.1 392.9h0M1329.2 353h0M1328.9 395h0M1329.9 226.6h0M1329.8 212.7h0M1329.8 217.3h0M1329.7 375.7h0M1330.2 355.2h0M1330.8 226.1h0M1331 208.6h0M1331.3 352.1h0M1331.4 355h0M1332.4 354h0M1333.3 350.9h0M1334.1 224.1h0M1334.4 364.6h0M1334.7 220.1h0M1335.5 229.1h0M1334.8 222.6h0M1334.7 212.9h0M1335.4 199.8h0M1334.8 350.9h0M1336.4 391h0M1335.7 351h0M1337.5 212.5h0M1337.3 214.8h0M1336.7 206.6h0M1336.8 205.1h0M1337 351h0M1337.4 370.3h0M1336.9 351.8h0M1337.1 352.6h0M1338.2 229.9h0M1337.6 230h0M1337.6 358.9h0M1337.9 363.7h0M1338.9 194.5h0M1338.6 218.2h0M1339.2 206.9h0M1338.7 388.2h0M1339.1 394.2h0M1339.1 355h0M1339.2 396.1h0M1339.5 351.4h0M1340.4 231.9h0M1339.8 221.4h0M1340 218.5h0M1339.8 366.6h0M1340.1 375.6h0M1341.2 225h0M1340.7 228.5h0M1340.6 231.6h0M1341.3 220.8h0M1340.6 215.6h0M1341 214.9h0M1341.5 348.3h0M1341.5 396.8h0M1341 360.9h0M1342.5 350.7h0M1342.1 370.9h0M1342.1 345h0M1341.9 373.6h0M1342.4 364.6h0M1343.2 225.8h0M1343 362.3h0M1343.3 378.9h0M1342.9 373.8h0M1342.7 348.1h0M1343.4 356.2h0M1343.7 229.4h0M1344.5 232h0M1345.5 216.4h0M1344.8 231.9h0M1344.8 228.6h0M1344.5 222.9h0M1344.7 352.4h0M1345.5 355.3h0M1345.3 363.3h0M1345.3 356.3h0M1345.1 354h0M1346.3 232.8h0M1346 352.2h0M1345.5 353.6h0M1346.2 350.8h0M1346.9 224.6h0M1346.8 217.8h0M1347.5 352.8h0M1347 344.1h0M1346.5 344.9h0M1347.5 362.1h0M1347.9 217.6h0M1348 205.3h0M1349.4 233.6h0M1349.3 384.1h0M1349.1 377.3h0M1349.5 373.4h0M1348.8 390.3h0M1348.7 359.4h0M1348.7 371.5h0M1350.3 206.9h0M1349.8 222.2h0M1350.1 360.4h0M1350.3 361.1h0M1350.8 227.9h0M1350.6 236.3h0M1350.7 208h0M1351.4 403.8h0M1351.4 374.1h0M1350.6 344h0M1351.3 360.6h0M1352.3 207.1h0M1351.9 226.6h0M1351.7 208.3h0M1351.6 224.3h0M1351.6 217.1h0M1351.6 215.3h0M1352 390.9h0M1351.6 386.7h0M1353 216.6h0M1354 225.7h0M1354.4 218.9h0M1354.2 223.9h0M1353.6 218.7h0M1353.6 203.6h0M1354.4 341.7h0M1354.4 374.4h0M1353.8 371.9h0M1354.3 367.1h0M1354.2 347.5h0M1355.1 222.9h0M1354.5 216.1h0M1354.8 374.3h0M1355 361.4h0M1354.8 348h0M1354.8 391.4h0M1355.2 343h0M1354.8 365.5h0M1355 366.2h0M1355.9 198.8h0M1356.4 197.3h0M1356.2 366.2h0M1356.3 342.9h0M1356.2 358.6h0M1356 356.5h0M1355.7 358.7h0M1357.3 211.4h0M1357.2 366.7h0M1357.4 346.6h0M1356.9 409h0M1357.7 238.7h0M1357.8 177.4h0M1358.4 354.1h0M1358.3 399.2h0M1358.3 349.5h0M1358.6 226.3h0M1359 241.3h0M1358.9 176.5h0M1358.9 211.7h0M1359.4 222.4h0M1359.2 225.8h0M1359.5 382.6h0M1359.3 355.9h0M1359.2 362.6h0M1359.2 365.6h0M1359.1 365.7h0M1359.9 179.9h0M1360.1 375.3h0M1360.1 385.8h0M1359.8 369.8h0M1361.4 185.8h0M1361.2 230.6h0M1360.8 375.2h0M1360.6 345.5h0M1361.6 232.7h0M1362.4 365.2h0M1362.5 402h0M1362.2 385.1h0M1362.5 223.8h0M1363.3 225.9h0M1363.6 201h0M1364.2 178.9h0M1364.1 177.4h0M1363.8 166.9h0M1364.7 365.6h0M1365.8 209.6h0M1366.3 199.3h0M1366.2 384.9h0M1365.7 364.4h0M1367 226.3h0M1367.4 180.3h0M1367.1 382.3h0M1367.4 367.7h0M1368.4 219.2h0M1368.1 228.5h0M1367.8 210.3h0M1368.1 222.9h0M1368 164.6h0M1367.9 208.4h0M1368.1 207.1h0M1368 212.8h0M1368.1 377.4h0M1367.9 354h0M1369.1 160.6h0M1368.8 162.1h0M1369 189h0M1368.7 149.4h0M1368.8 366.3h0M1368.6 356h0M1369.7 224.6h0M1370.3 222.2h0M1369.7 169.1h0M1369.6 221.4h0M1370 383.7h0M1370.1 349.3h0M1369.7 381.8h0M1370.6 167.3h0M1370.8 212.7h0M1371.4 215.4h0M1371.3 153.3h0M1371.2 147.6h0M1371.2 211.2h0M1371.4 210.1h0M1371.1 405.9h0M1371.2 364.5h0M1370.8 348.8h0M1371.2 348h0M1371.1 398.3h0M1372.2 221.4h0M1372.2 216.2h0M1372.4 210.3h0M1371.5 221h0M1372 203h0M1371.7 350.3h0M1372.1 387.4h0M1372.3 392.7h0M1372.5 349.7h0M1373.1 213.8h0M1373.3 211.1h0M1374.2 217.3h0M1374 201.6h0M1373.9 219.4h0M1374.2 189.5h0M1373.8 383.5h0M1373.5 354.7h0M1373.5 358h0M1373.7 404.2h0M1374.2 380.6h0M1374.1 415.2h0M1374.7 190.4h0M1375.1 206.7h0M1375.1 186.4h0M1375 206.4h0M1374.8 391.8h0M1376.3 193.1h0M1376.1 217.9h0M1376.3 369.7h0M1376.5 382.4h0M1376.4 399.4h0M1376.2 414.4h0M1376.2 356h0M1377.2 181.9h0M1377 207.7h0M1377.2 187.4h0M1377.1 399.2h0M1376.7 379.7h0M1376.7 364h0M1376.6 364.6h0M1376.5 380.2h0M1376.7 368.2h0M1376.7 346.1h0M1378.2 207.6h0M1378.4 198.7h0M1378.2 347.4h0M1378.3 355.6h0M1377.6 357.9h0M1379.3 198.9h0M1378.7 356.3h0M1378.9 389.5h0M1380.3 177.7h0M1379.5 212.1h0M1380 194.9h0M1380 153.6h0M1380.4 205.6h0M1380.2 353.8h0M1379.7 346.3h0M1379.7 346.2h0M1379.9 407.1h0M1379.8 352h0M1380.4 359.5h0M1379.7 354.4h0M1379.9 359.7h0M1381.5 203.2h0M1381.3 206.2h0M1381.2 197.1h0M1381.2 192.2h0M1381.1 190.3h0M1380.5 378.5h0M1380.8 350.7h0M1381.1 418.6h0M1381 401.7h0M1382 155.8h0M1381.5 164.7h0M1382.2 206.2h0M1382.1 414.2h0M1382.1 385.3h0M1381.7 381.8h0M1383.2 198.8h0M1383.2 208.2h0M1383.5 192.7h0M1383 390h0M1383.4 343.2h0M1383.2 366h0M1382.9 407.9h0M1383.9 186h0M1384.1 207.1h0M1383.8 190.2h0M1384.1 210.2h0M1383.9 200.6h0M1384.2 196.9h0M1383.5 412.9h0M1384.4 360.5h0M1384 363.7h0M1385 202.7h0M1384.6 175.5h0M1384.9 191.6h0M1384.5 183.1h0M1384.8 145.9h0M1384.6 185.8h0M1384.9 186.5h0M1385.4 206.3h0M1385.4 422.3h0M1385.2 360h0M1385.6 183.1h0M1386.4 195.1h0M1386.2 343.3h0M1386.5 357.7h0M1385.6 372.7h0M1385.6 354.1h0M1386.4 371.9h0M1385.7 377.2h0M1385.7 384.2h0M1385.9 390.8h0M1387.1 178.1h0M1386.7 405.4h0M1386.8 384.4h0M1387.4 353.8h0M1386.7 347.6h0M1387.5 192.1h0M1388.2 195h0M1388.3 163.6h0M1387.9 393.8h0M1387.5 353.8h0M1387.7 389.3h0M1387.6 387.3h0M1387.5 390.5h0M1387.9 355.2h0M1389 190h0M1388.7 192.9h0M1389.1 197.8h0M1388.9 190.4h0M1388.9 211h0M1388.8 198.4h0M1388.7 343.1h0M1389.4 349.6h0M1390 211h0M1389.8 211.3h0M1390.2 196h0M1389.6 353.6h0M1390.1 362.9h0M1389.5 347.6h0M1390.1 352h0M1389.7 380.7h0M1391.1 206h0M1391.2 188.6h0M1391.3 196.8h0M1390.7 193.8h0M1391.2 350.5h0M1390.8 344h0M1392.5 202.3h0M1391.6 193.5h0M1391.5 183.2h0M1392.1 206.2h0M1391.6 153.2h0M1391.7 181.7h0M1393.1 204.6h0M1392.5 202.6h0M1393.2 342h0M1392.7 353.6h0M1393.7 144.8h0M1393.5 209.6h0M1394.1 124.2h0M1394.2 203.3h0M1393.9 200.6h0M1394.1 375.9h0M1394.5 339.3h0M1394.3 358.1h0M1393.5 382.6h0M1393.5 354.9h0M1395.1 161.7h0M1395 181.1h0M1394.5 202.3h0M1394.9 207.8h0M1395.5 355.2h0M1394.7 349h0M1395.1 356.8h0M1394.8 346.7h0M1396.1 218.3h0M1395.7 180.2h0M1395.6 204.1h0M1395.6 344.5h0M1395.7 401.2h0M1395.7 385.2h0M1397.4 201.4h0M1396.8 165.7h0M1397.1 214.8h0M1397.3 215.6h0M1397.3 206.8h0M1397 178.9h0M1397.2 339.5h0M1396.6 398.8h0M1398 214.2h0M1398.4 214.4h0M1398.2 348.3h0M1398.4 346.5h0M1397.7 357.7h0M1397.7 354.5h0M1397.9 358.8h0M1399.1 204.7h0M1399.3 199.5h0M1399.2 348.4h0M1398.9 348.4h0M1399 347.9h0M1399.6 200.4h0M1399.9 186.9h0M1400.3 209.8h0M1399.8 209.1h0M1399.9 381.4h0M1399.6 371.9h0M1400.2 360h0M1400.4 395.6h0M1400.2 341.3h0M1400 366.9h0M1399.8 343.7h0M1400.3 374.6h0M1399.6 359.4h0M1401.2 216.5h0M1401.5 205h0M1400.5 198.2h0M1401.1 342.7h0M1400.6 337.6h0M1400.8 347.5h0M1402.3 361.5h0M1401.8 386.9h0M1402.8 225.1h0M1403 227.1h0M1402.8 351.2h0M1403.2 341.1h0M1402.5 344.4h0M1404.1 202.7h0M1404.1 205.2h0M1403.6 221.7h0M1404 231.9h0M1404.1 203.2h0M1403.7 377.3h0M1404.3 376.9h0M1403.7 393h0M1403.7 338.7h0M1405 189.5h0M1405.1 357.1h0M1404.5 335.2h0M1406.1 237.9h0M1405.8 334.8h0M1405.6 395.7h0M1406.4 398.9h0M1406.6 237.9h0M1407.3 339.4h0M1408 231.1h0M1407.7 220.9h0M1407.6 231.3h0M1408 231h0M1408.4 337.7h0M1407.9 360.8h0M1409 242.5h0M1409.2 362.6h0M1409.4 235.7h0M1409.6 232h0M1410.2 342.2h0M1410.5 333.6h0M1410 377.9h0M1411.2 233.3h0M1410.7 348.6h0M1411.6 238.2h0M1411.7 247.5h0M1412.5 344.9h0M1412.8 356.3h0M1413 344.7h0M1413.7 335.8h0M1413.6 356.5h0M1414.4 348.6h0M1416.3 334.4h0M1415.9 347.5h0M1416.4 349.7h0M1416.4 363.1h0M1417.5 235.9h0M1417.1 363h0M1417.3 361.6h0M1416.6 344.3h0M1418.4 361.8h0M1418.3 334.9h0M1418 350.1h0M1419.5 249.4h0M1418.9 245h0M1418.8 250.6h0M1419.4 376.9h0M1420 246.6h0M1419.6 358.6h0M1419.8 374.2h0M1419.9 343.3h0M1421.4 349.6h0M1420.7 339.4h0M1422.5 251.9h0M1421.6 341.4h0M1423.4 338.1h0M1423.1 338h0M1424.3 341.8h0M1424.8 360.5h0M1425.4 363.3h0M1424.6 344.4h0M1426.3 234.3h0M1427.2 241.4h0M1427.1 341.5h0M1426.7 346.8h0M1426.7 355.6h0M1428.5 337.1h0M1429.3 349.2h0M1430.2 254.1h0M1430.4 361.1h0M1429.9 356.5h0M1430.1 368.5h0M1430.7 249.6h0M1430.5 248.8h0M1430.5 234.2h0M1430.6 248.6h0M1431.3 257h0M1431.6 362.6h0M1433.2 257.8h0M1432.6 342.2h0M1433.1 357.5h0M1432.7 371.4h0M1432.8 365.4h0M1434.1 245.4h0M1434.1 370.1h0M1433.5 361.3h0M1434.5 354.8h0M1435.1 234.9h0M1435.1 363.3h0M1434.5 379.1h0M1435.7 244.2h0M1436.4 373h0M1437.3 241.1h0M1437.3 253.6h0M1437.1 254.4h0M1436.9 234.1h0M1437.3 370.1h0M1438.2 356.9h0M1438.3 378.4h0M1437.6 398.3h0M1439.5 406.4h0M1438.7 405.7h0M1438.9 361.9h0M1440 251.1h0M1439.9 259.2h0M1439.7 237.5h0M1440.2 353.2h0M1440.5 360.6h0M1439.9 345.4h0M1441 258.8h0M1441 220.3h0M1441.2 250.4h0M1441.4 354.2h0M1442.4 264.9h0M1442 252.6h0M1441.7 249.3h0M1442.2 380.9h0M1443 243.3h0M1442.6 236.6h0M1443.1 257.1h0M1442.8 365.1h0M1442.6 354.1h0M1444 242.4h0M1443.7 349.8h0M1443.8 356.2h0M1444.6 257.7h0M1445.4 246.7h0M1445.3 253.8h0M1445 245.8h0M1445.1 260.8h0M1445 233.5h0M1445 264.6h0M1444.6 376.1h0M1445.4 366.1h0M1445.6 258.5h0M1446.2 356.4h0M1446.8 269h0M1446.9 269.2h0M1446.8 235.6h0M1447 242.5h0M1447 255.5h0M1446.8 359.1h0M1447 356.4h0M1447.1 357.3h0M1446.6 349.7h0M1447.3 383.3h0M1448.1 225.5h0M1447.9 220h0M1448.3 269.1h0M1447.7 346.5h0M1448.1 353.8h0M1448.3 349.8h0M1447.3 360h0M1447.8 364.6h0M1447.8 371h0M1447.8 378.5h0M1448.7 238.7h0M1448.8 256.2h0M1449.3 267.5h0M1449.4 373.9h0M1448.9 346.1h0M1448.9 348.9h0M1448.9 356h0M1449.7 256.7h0M1450.4 264.7h0M1450.4 355.1h0M1450.2 347.1h0M1449.7 354.5h0M1450 352.6h0M1450.2 345.8h0M1449.8 363.9h0M1449.7 356h0M1451.4 268.9h0M1450.6 240.6h0M1450.9 379h0M1450.6 345.6h0M1451.5 239.3h0M1452.5 266.2h0M1452.1 351.8h0M1452.2 357.3h0M1451.6 360.8h0M1453.4 253.5h0M1453.2 269.6h0M1452.8 270.4h0M1452.6 244h0M1452.6 247.1h0M1452.9 269.4h0M1453.7 232.4h0M1454 343.1h0M1454.2 364.3h0M1454.9 251.1h0M1454.8 231h0M1454.5 257h0M1454.8 347.3h0M1455.9 274.3h0M1456.4 251.8h0M1456.1 354.9h0M1456.4 348h0M1456.4 357.7h0M1457.5 265.9h0M1457.2 265.9h0M1457.2 346.6h0M1458.2 245.3h0M1457.6 228.7h0M1458.4 270.4h0M1458.2 363.1h0M1459.1 271.2h0M1458.5 345.8h0M1458.6 347.6h0M1460.3 267.7h0M1460.4 240.3h0M1460.1 268.7h0M1459.5 262.5h0M1459 263.8h0M1459.6 260.7h0M1460.3 339.3h0M1461 239.9h0M1461.2 254.1h0M1460.9 340.7h0M1461.6 224.9h0M1461.9 239.5h0M1462.2 277.1h0M1462.1 277.9h0M1461.8 269.8h0M1462.1 270h0M1461.7 257.3h0M1462.4 276h0M560.4 181.7h0M560.4 188.4h0M560.4 195.1h0M560.4 201.5h0M560.4 207.8h0M560.4 214.5h0M560.4 221.3h0M560.4 226.9h0M119 380.9h0M136.6 248.2h0M145.2 379h0M154.5 222h0M205 319.2h0M213.9 250.1h0M213.9 252.7h0M241.2 229.5h0M236.3 429.5h0M247.6 420.1h0M272.2 428.3h0M358.9 379h0M358.9 387.2h0M358.9 407h0M358.9 416.4h0M364.5 401.4h0M364.5 409.6h0M383.2 136.8h0M393.3 144.3h0M403 142.8h0M448.6 173.4h0M449.8 174.2h0M466.2 284.4h0M487.1 234h0M395.6 332.3h0M427 351h0M471.1 472.4h0M551.4 369.7h0M543.9 344.6h0M203.8 494.9h0M205.7 494.9h0M205 485.5h0M206.8 481.8h0M646.4 154.7h0M671.4 197.7h0M698.7 201.5h0M751 180.9h0M772.7 140.9h0M788.4 173.4h0M833.2 154.7h0M851.9 157.7h0M866.1 147.3h0M885.6 124.8h0M896.8 123.7h0M909.8 132.3h0M958.4 128.6h0M964 98.7h0M964 108h0M973.4 124.8h0M975.3 158.5h0M986.5 154.7h0M995.1 126.7h0M590.3 431.3h0M592.2 442.5h0M607.1 464.2h0M607.1 441.8h0M624.7 408.2h0M624.7 375.3h0M624.7 356.6h0M632.5 352.8h0M653.8 376.4h0M699.8 317.3h0M699.8 301.3h0M709.9 293h0M757.4 306.1h0M766 300.5h0M766 321.1h0M771.6 328.5h0M901.3 450h0M901.3 457.5h0M886.3 382.7h0M886.3 388.3h0M980.9 403.3h0M979 431.3h0M981.6 428.3h0M1001.4 415.3h0M865 346.1h0M1116.9 470.6h0M1167.4 465h0M1198 459.4h0M1214.8 458.2h0M1083.3 448.1h0M1083.3 443.3h0M1380.4 463.1h0M1381.5 468.7h0M1379.3 448.1h0" stroke="#1f77b4" stroke-width="5.4" stroke-linecap="round" fill="none"/>
<path d="M116.5 294.7 117.5 275.3 118.5 264.8 119.5 256 120.5 251.1 121.5 247.3 122.5 253.4 123.5 262.2 124.5 270.3 125.5 275.5 126.5 282.7 127.5 289.9 128.5 293.3 129.5 298.1 130.5 303.4 131.5 307.3 132.5 310.3 133.5 313.9 134.5 313.4 135.5 312.2 136.5 312.4 137.5 313 138.5 311.3 139.5 314.5 140.5 319.8 141.5 323.6 142.5 328.1 143.5 332.8 144.5 334.4 145.5 334.9 146.5 335.6 147.5 337.4 148.5 338.2 149.5 334.7 150.5 326.6 151.5 319.2 152.5 309.4 153.5 298 154.5 290.2 155.5 292.9 156.5 299.6 157.5 302 158.5 298.9 159.5 296.2 160.5 295.5 161.5 298.4 162.5 304 163.5 295.6 164.5 276.9 165.5 261.5 166.5 270 167.5 283.3 168.5 293.3 169.5 294.4 170.5 295.9 171.5 301.3 172.5 311.5 173.5 320.2 174.5 319.1 175.5 309.8 176.5 301.4 177.5 309.5 178.5 322.1 179.5 335.5 180.5 345.9 181.5 354.6 182.5 361.5 183.5 346.3 184.5 329 185.5 323.1 186.5 328.8 187.5 337.2 188.5 346.5 189.5 356.9 190.5 370 191.5 383.2 192.5 374.3 193.5 350.7 194.5 333.7 195.5 346.6 196.5 361.6 197.5 376.4 198.5 381.8 199.5 386.2 200.5 390.3 201.5 391.7 202.5 385.3 203.5 377.2 204.5 365.7 205.5 356.6 206.5 373 207.5 395.5 208.5 386.2 209.5 372.5 210.5 359 211.5 348.9 212.5 346.5 213.5 345.4 214.5 347.4 215.5 354.3 216.5 362.3 217.5 357.8 218.5 340 219.5 320.3 220.5 303.8 221.5 301.5 222.5 299.8 223.5 301.8 224.5 315 225.5 329.6 226.5 343.8 227.5 356.6 228.5 357 229.5 339.6 230.5 322.7 231.5 305.5 232.5 305.7 233.5 319.8 234.5 334.8 235.5 344.4 236.5 345.2 237.5 345.6 238.5 343.4 239.5 340.3 240.5 330 241.5 319.3 242.5 308.2 243.5 296.4 244.5 297.1 245.5 309.9 246.5 324.5 247.5 338.3 248.5 344.9 249.5 348.7 250.5 346.1 251.5 342 252.5 335.5 253.5 325.8 254.5 316.4 255.5 305.5 256.5 297.7 257.5 290.8 258.5 284.5 259.5 283.2 260.5 285.6 261.5 285.2 262.5 282.4 263.5 287.8 264.5 301 265.5 315.7 266.5 323.5 267.5 325.2 268.5 327.8 269.5 330.4 270.5 339.2 271.5 351.5 272.5 355.4 273.5 341.8 274.5 328.4 275.5 316.9 276.5 310.1 277.5 307.4 278.5 306.8 279.5 304.4 280.5 306.7 281.5 310.9 282.5 314.2 283.5 319.3 284.5 328.5 285.5 336.1 286.5 336.6 287.5 324.9 288.5 313.2 289.5 305.7 290.5 306.4 291.5 307.4 292.5 308.9 293.5 304.6 294.5 297.8 295.5 289.3 296.5 280 297.5 274.5 298.5 270.3 299.5 265.8 300.5 266.3 301.5 272.9 302.5 281.1 303.5 288.6 304.5 294.6 305.5 298.7 306.5 301.6 307.5 300.7 308.5 300.5 309.5 301.4 310.5 303.1 311.5 309 312.5 316.9 313.5 323.3 314.5 322.8 315.5 318.2 316.5 315.9 317.5 314.6 318.5 315.9 319.5 318.6 320.5 321.2 321.5 325.9 322.5 320.4 323.5 312.6 324.5 303.6 325.5 316.7 326.5 333.8 327.5 341 328.5 334.2 329.5 328.9 330.5 323.8 331.5 316.4 332.5 308.4 333.5 304 334.5 302.1 335.5 295.4 336.5 285.3 337.5 276.2 338.5 270 339.5 268.2 340.5 267 341.5 266.1 342.5 264.8 343.5 265.9 344.5 268.2 345.5 266.7 346.5 265.3 347.5 266.8 348.5 273.3 349.5 281 350.5 286.8 351.5 290.9 352.5 295.3 353.5 298.8 354.5 297.4 355.5 296.4 356.5 295.1 357.5 293.5 358.5 290.7 359.5 288.5 360.5 286.2 361.5 289.6 362.5 297.9 363.5 304 364.5 296.5 365.5 279.4 366.5 262.4 367.5 253.8 368.5 253.4 369.5 252.3 370.5 254.6 371.5 257.5 372.5 258.3 373.5 259.2 374.5 253.5 375.5 237.9 376.5 219.4 377.5 205.1 378.5 203.1 379.5 200.3 380.5 197.6 381.5 197.1 382.5 209.4 383.5 225 384.5 241.8 385.5 249.1 386.5 248.2 387.5 247.2 388.5 245 389.5 242 390.5 237.1 391.5 229.3 392.5 222.5 393.5 214.9 394.5 206.3 395.5 226 396.5 249.2 397.5 254.8 398.5 237.1 399.5 218.4 400.5 208.8 401.5 208.1 402.5 206.9 403.5 206.7 404.5 210.5 405.5 217.4 406.5 226.3 407.5 236.8 408.5 246.1 409.5 250.7 410.5 241.4 411.5 231.6 412.5 237.2 413.5 264.2 414.5 290.2 415.5 295.6 416.5 284 417.5 271.2 418.5 260.5 419.5 253.2 420.5 258.5 421.5 264.7 422.5 272.9 423.5 279.7 424.5 282.8 425.5 283.6 426.5 282.6 427.5 277.7 428.5 271.7 429.5 267 430.5 266.7 431.5 272.2 432.5 284 433.5 295.3 434.5 304 435.5 312.8 436.5 322.1 437.5 315.9 438.5 306 439.5 297.8 440.5 290.8 441.5 284.5 442.5 277.9 443.5 272.3 444.5 263.7 445.5 249.3 446.5 236.1 447.5 228.2 448.5 232.6 449.5 242.1 450.5 251.7 451.5 261.6 452.5 272.8 453.5 282.6 454.5 293.6 455.5 308.7 456.5 323.7 457.5 336.1 458.5 343.3 459.5 347.1 460.5 350.5 461.5 353.4 462.5 351.1 463.5 346.7 464.5 340.7 465.5 335 466.5 344.2 467.5 357.2 468.5 371 469.5 381.3 470.5 390.6 471.5 398.5 472.5 395 473.5 386.8 474.5 380.6 475.5 374.9 476.5 379.6 477.5 385.5 478.5 390.6 479.5 369.5 480.5 347.3 481.5 337.8 482.5 329.6 483.5 320.6 484.5 309.9 485.5 296.1 486.5 279 487.5 269.1 488.5 267.1 489.5 267.8 490.5 279.6 491.5 296.4 492.5 283.3 493.5 264.6 494.5 260.9 495.5 289.6 496.5 320.9 497.5 344.8 498.5 352.2 499.5 354.5 500.5 356.3 501.5 355 502.5 346 503.5 336.7 504.5 332.5 505.5 342.9 506.5 356.9 507.5 363.7 508.5 343.4 509.5 319.3 510.5 301.9 511.5 297.5 512.5 293.6 513.5 291 514.5 294.3 515.5 306.4 516.5 321 517.5 334.5 518.5 331.2 519.5 318.4 520.5 304.1 521.5 289.1 522.5 276.1 523.5 262.7 524.5 251.4 525.5 240.6 526.5 232.3 527.5 224.5 528.5 217.8 529.5 217.9 530.5 220.8 531.5 224.7 532.5 230.4 533.5 225.9 534.5 214.5 535.5 205.6 536.5 197.9 537.5 191.1 538.5 183.9 539.5 186.6 540.5 192.9 541.5 197.2 542.5 197.8 543.5 196.1 544.5 193.2 545.5 197.9 546.5 213.3 547.5 231 548.5 247.4 549.5 265.9 550.5 281.8 551.5 292.9 552.5 287.6 553.5 281.5 554.5 273.3 555.5 270.4 556.5 275.8 557.5 282.7 558.5 287.5 559.5 288.6 560.5 290.6 561.5 295 562.5 298.6 563.5 294.9 564.5 285.5 565.5 275.4 566.5 272.9 567.5 274.7 568.5 275.3 569.5 279.2 570.5 283.5 571.5 284.7 572.5 281.9 573.5 280.9 574.5 280.4 575.5 283.9 576.5 289.3 577.5 290.5 578.5 284.5 579.5 278 580.5 276.6 581.5 281.3 582.5 286 583.5 291.8 584.5 302.2 585.5 311.1 586.5 305.7 587.5 298.6 588.5 303.4 589.5 312.5 590.5 321.7 591.5 328.7 592.5 322.8 593.5 315.8 594.5 311.1 595.5 308 596.5 307.1 597.5 307.2 598.5 303.1 599.5 295.6 600.5 289.8 601.5 290.1 602.5 292.9 603.5 300.8 604.5 325 605.5 344.9 606.5 356.7 607.5 353.5 608.5 319.2 609.5 287.9 610.5 309.5 611.5 345.3 612.5 329.4 613.5 304.5 614.5 282.1 615.5 281.3 616.5 285.6 617.5 287.2 618.5 287.3 619.5 286.3 620.5 283.2 621.5 281.5 622.5 286.4 623.5 290.8 624.5 292.1 625.5 291.6 626.5 292.4 627.5 294.4 628.5 294.2 629.5 289.2 630.5 285.7 631.5 288.3 632.5 293.8 633.5 270.1 634.5 239.7 635.5 222.7 636.5 223.8 637.5 227.8 638.5 234.6 639.5 241 640.5 242.6 641.5 239.6 642.5 235.8 643.5 233.9 644.5 232.2 645.5 231.1 646.5 230.6 647.5 231.6 648.5 234.1 649.5 240.1 650.5 249.9 651.5 268.4 652.5 285.4 653.5 293.4 654.5 301.1 655.5 312.5 656.5 321.5 657.5 314.6 658.5 304.7 659.5 300.1 660.5 303.6 661.5 303.8 662.5 299.7 663.5 292.4 664.5 286.5 665.5 277.6 666.5 270.5 667.5 269.8 668.5 268.7 669.5 264.4 670.5 256.6 671.5 249.1 672.5 244.9 673.5 248.3 674.5 251.4 675.5 254.8 676.5 262.4 677.5 271.8 678.5 280.5 679.5 285 680.5 282.1 681.5 274.5 682.5 267.3 683.5 261.3 684.5 257.8 685.5 254.2 686.5 248.3 687.5 241.3 688.5 235.9 689.5 230.9 690.5 222 691.5 211.3 692.5 208.1 693.5 219.1 694.5 228.3 695.5 233 696.5 236.4 697.5 239.7 698.5 236.8 699.5 230 700.5 229.6 701.5 235.2 702.5 238 703.5 234 704.5 231.9 705.5 232.5 706.5 233.4 707.5 236.1 708.5 239.8 709.5 243 710.5 243.1 711.5 240.1 712.5 235.1 713.5 231.3 714.5 226.3 715.5 223 716.5 223 717.5 224 718.5 220 719.5 213.5 720.5 207.2 721.5 201.2 722.5 195.9 723.5 195.2 724.5 198.3 725.5 202.9 726.5 203.6 727.5 199.6 728.5 194.4 729.5 193.4 730.5 192.1 731.5 191.3 732.5 189.3 733.5 179.6 734.5 169.8 735.5 171.5 736.5 180.3 737.5 190.9 738.5 206.2 739.5 218.4 740.5 221.3 741.5 221.6 742.5 223.5 743.5 229.1 744.5 236.7 745.5 243.5 746.5 248.3 747.5 252.5 748.5 252.2 749.5 240.9 750.5 227.7 751.5 226.7 752.5 236.7 753.5 243 754.5 246 755.5 250.3 756.5 251.9 757.5 245.8 758.5 239.7 759.5 236.2 760.5 236.8 761.5 237.3 762.5 232.8 763.5 223.6 764.5 214.9 765.5 206.4 766.5 196.5 767.5 189.1 768.5 190 769.5 196.9 770.5 204.4 771.5 212 772.5 221.9 773.5 229.3 774.5 232.6 775.5 235.3 776.5 238.1 777.5 238.7 778.5 241.9 779.5 244 780.5 245.9 781.5 246.5 782.5 250.5 783.5 265.3 784.5 281.1 785.5 272.2 786.5 252.5 787.5 240.3 788.5 245 789.5 251.3 790.5 249.7 791.5 245.4 792.5 243.1 793.5 248 794.5 258.5 795.5 263.7 796.5 259.6 797.5 256.2 798.5 254.8 799.5 255.5 800.5 253.8 801.5 251 802.5 240.5 803.5 230.4 804.5 227.4 805.5 231.9 806.5 241.1 807.5 250.5 808.5 255 809.5 257.5 810.5 250.6 811.5 239.6 812.5 228.6 813.5 232.6 814.5 239.6 815.5 243.5 816.5 234.3 817.5 226.8 818.5 226.7 819.5 232.2 820.5 236.1 821.5 241.1 822.5 247.1 823.5 249.7 824.5 247.3 825.5 246.4 826.5 247.8 827.5 246.3 828.5 246.7 829.5 248.1 830.5 242.8 831.5 236.4 832.5 230.2 833.5 227.1 834.5 239.7 835.5 248.8 836.5 243.5 837.5 240.8 838.5 243.2 839.5 242.4 840.5 241.1 841.5 242.5 842.5 241.4 843.5 237.6 844.5 230.7 845.5 225.6 846.5 233.8 847.5 245 848.5 249 849.5 245.2 850.5 243.5 851.5 244.9 852.5 248.9 853.5 251.7 854.5 248.2 855.5 246.8 856.5 248.7 857.5 254 858.5 258.7 859.5 259.9 860.5 244.6 861.5 230.1 862.5 227.2 863.5 234.1 864.5 241.2 865.5 243.3 866.5 240.6 867.5 232.9 868.5 229.6 869.5 234.8 870.5 238.5 871.5 234.6 872.5 231.9 873.5 236.1 874.5 235.8 875.5 230.6 876.5 238.9 877.5 248.4 878.5 251.6 879.5 247.4 880.5 243.5 881.5 236.3 882.5 234.7 883.5 235 884.5 240.8 885.5 244.3 886.5 254.9 887.5 261.2 888.5 258.6 889.5 251 890.5 250.1 891.5 253.1 892.5 256.1 893.5 247.1 894.5 236.3 895.5 229.6 896.5 227.9 897.5 230.7 898.5 238.4 899.5 247.3 900.5 258.3 901.5 262.6 902.5 263.2 903.5 264.5 904.5 263.4 905.5 260.3 906.5 258.7 907.5 261.2 908.5 261.8 909.5 262.3 910.5 262.8 911.5 266 912.5 267.8 913.5 266.7 914.5 267.9 915.5 259.6 916.5 247.3 917.5 243.7 918.5 266.9 919.5 286 920.5 301.4 921.5 304.8 922.5 287.5 923.5 267 924.5 268.1 925.5 277.4 926.5 280.2 927.5 274.5 928.5 269.1 929.5 272.7 930.5 273.6 931.5 271.8 932.5 264 933.5 262.1 934.5 261.3 935.5 266.4 936.5 270.9 937.5 271.9 938.5 266.3 939.5 255.5 940.5 251 941.5 256.4 942.5 265.2 943.5 260.7 944.5 248.1 945.5 245 946.5 247.7 947.5 242.4 948.5 239.5 949.5 245.2 950.5 250.6 951.5 255.5 952.5 259.9 953.5 266.5 954.5 261.9 955.5 250.3 956.5 241.8 957.5 253 958.5 260.1 959.5 266.1 960.5 276 961.5 285.9 962.5 269 963.5 249 964.5 246.9 965.5 264 966.5 277.8 967.5 277.5 968.5 271.9 969.5 268.1 970.5 265.5 971.5 261.6 972.5 252.6 973.5 248.6 974.5 251.5 975.5 255.8 976.5 258.4 977.5 257 978.5 254.8 979.5 259.6 980.5 268.1 981.5 270.3 982.5 266.7 983.5 262.1 984.5 257.6 985.5 260.9 986.5 263.1 987.5 254.5 988.5 252.6 989.5 258 990.5 266.8 991.5 275 992.5 284 993.5 279 994.5 268.6 995.5 268.7 996.5 281.3 997.5 287.8 998.5 279.7 999.5 266 1000.5 254.8 1001.5 260.2 1002.5 269.9 1003.5 273 1004.5 274.5 1005.5 279.6 1006.5 283.6 1007.5 279.2 1008.5 273.3 1009.5 274.1 1010.5 279.8 1011.5 287.1 1012.5 284.8 1013.5 284.1 1014.5 280.6 1015.5 277.8 1016.5 273.1 1017.5 265.2 1018.5 256.2 1019.5 251.7 1020.5 255.4 1021.5 264.5 1022.5 271.9 1023.5 273.6 1024.5 273.3 1025.5 266.4 1026.5 260.4 1027.5 259.8 1028.5 263.2 1029.5 263.4 1030.5 262.4 1031.5 260.6 1032.5 265.8 1033.5 275.3 1034.5 279.4 1035.5 273.7 1036.5 269.3 1037.5 266.3 1038.5 261 1039.5 265.3 1040.5 273.4 1041.5 279.2 1042.5 281 1043.5 283.2 1044.5 283.9 1045.5 283.5 1046.5 279.7 1047.5 270.7 1048.5 262.1 1049.5 260.2 1050.5 270.3 1051.5 274 1052.5 272.2 1053.5 269.9 1054.5 267 1055.5 264.5 1056.5 262.5 1057.5 259.1 1058.5 259.1 1059.5 260 1060.5 264.3 1061.5 266.9 1062.5 266.1 1063.5 267.2 1064.5 272.8 1065.5 272.3 1066.5 265.9 1067.5 258.3 1068.5 251.7 1069.5 250 1070.5 256.8 1071.5 273.1 1072.5 279.2 1073.5 282.9 1074.5 289.4 1075.5 292.5 1076.5 287.2 1077.5 281.4 1078.5 272.5 1079.5 264 1080.5 266 1081.5 269.5 1082.5 274.2 1083.5 273.9 1084.5 262.4 1085.5 253.1 1086.5 257.2 1087.5 266.3 1088.5 269.5 1089.5 263.3 1090.5 256.2 1091.5 251.8 1092.5 246.4 1093.5 251.6 1094.5 258 1095.5 265.3 1096.5 267.7 1097.5 268.2 1098.5 271.2 1099.5 277.8 1100.5 279.1 1101.5 276.7 1102.5 274.1 1103.5 271.4 1104.5 270 1105.5 268.1 1106.5 268.4 1107.5 272.2 1108.5 270.8 1109.5 266.5 1110.5 261.3 1111.5 259 1112.5 267.1 1113.5 274.8 1114.5 278.9 1115.5 281.8 1116.5 284 1117.5 281.9 1118.5 279.8 1119.5 275.6 1120.5 268.4 1121.5 265.6 1122.5 262.9 1123.5 281.8 1124.5 300.2 1125.5 291.9 1126.5 278 1127.5 262.6 1128.5 253.7 1129.5 252.8 1130.5 253.7 1131.5 253.5 1132.5 256.9 1133.5 260.7 1134.5 263.9 1135.5 264.3 1136.5 266.2 1137.5 268.5 1138.5 275.4 1139.5 279.5 1140.5 278.6 1141.5 278.5 1142.5 286.8 1143.5 291.1 1144.5 282.5 1145.5 269 1146.5 256 1147.5 243.5 1148.5 256.5 1149.5 273.4 1150.5 279.3 1151.5 280.2 1152.5 278.9 1153.5 278.1 1154.5 272.3 1155.5 260.9 1156.5 249.1 1157.5 244.5 1158.5 248.1 1159.5 253.8 1160.5 257.7 1161.5 261.4 1162.5 265.1 1163.5 271.2 1164.5 273.3 1165.5 274.6 1166.5 278.7 1167.5 281.1 1168.5 280.6 1169.5 271.7 1170.5 261.5 1171.5 254.4 1172.5 260.5 1173.5 269.6 1174.5 277.3 1175.5 283.3 1176.5 283.9 1177.5 285.3 1178.5 296.4 1179.5 306.6 1180.5 296 1181.5 282.2 1182.5 278.9 1183.5 288.3 1184.5 292.3 1185.5 284 1186.5 276.8 1187.5 277.2 1188.5 276.4 1189.5 270.4 1190.5 266.5 1191.5 267 1192.5 271.5 1193.5 276.6 1194.5 270.5 1195.5 262 1196.5 256.5 1197.5 268.7 1198.5 284.6 1199.5 290.2 1200.5 284.4 1201.5 280.1 1202.5 278.3 1203.5 281.5 1204.5 290 1205.5 291 1206.5 282.4 1207.5 268.6 1208.5 277.6 1209.5 293.8 1210.5 305 1211.5 286.7 1212.5 276.9 1213.5 298.1 1214.5 323.7 1215.5 319.5 1216.5 300 1217.5 284.8 1218.5 286.9 1219.5 288.8 1220.5 282.8 1221.5 279.1 1222.5 281.6 1223.5 283.9 1224.5 291.2 1225.5 297.4 1226.5 306.3 1227.5 318.5 1228.5 327.1 1229.5 324.3 1230.5 312.6 1231.5 301.9 1232.5 299.4 1233.5 301.3 1234.5 303.5 1235.5 298.9 1236.5 294.2 1237.5 295.2 1238.5 297.3 1239.5 296.9 1240.5 298.1 1241.5 294.1 1242.5 289.3 1243.5 289.8 1244.5 296.5 1245.5 303 1246.5 311.6 1247.5 319.1 1248.5 311.1 1249.5 290 1250.5 274.8 1251.5 266.5 1252.5 256.7 1253.5 251.9 1254.5 257.3 1255.5 260.7 1256.5 266.8 1257.5 271.8 1258.5 272 1259.5 269.8 1260.5 264.4 1261.5 257.7 1262.5 256.2 1263.5 255.4 1264.5 250 1265.5 245.8 1266.5 240.7 1267.5 238.8 1268.5 239.1 1269.5 243.2 1270.5 250.9 1271.5 261.9 1272.5 267.7 1273.5 266 1274.5 263.3 1275.5 260 1276.5 258.2 1277.5 259.6 1278.5 265.1 1279.5 265.6 1280.5 267.7 1281.5 270.7 1282.5 273.5 1283.5 274.8 1284.5 277.4 1285.5 280.5 1286.5 280.4 1287.5 278.8 1288.5 277.9 1289.5 274.5 1290.5 268.5 1291.5 274.8 1292.5 288.9 1293.5 301.1 1294.5 309.8 1295.5 308.5 1296.5 303.7 1297.5 298.2 1298.5 296.5 1299.5 294 1300.5 289.5 1301.5 286 1302.5 286.4 1303.5 286.2 1304.5 285.8 1305.5 289.4 1306.5 288.6 1307.5 281.4 1308.5 274.1 1309.5 275.1 1310.5 277.6 1311.5 273.9 1312.5 266.9 1313.5 262.5 1314.5 261.7 1315.5 261.4 1316.5 262.1 1317.5 256.8 1318.5 258.4 1319.5 271.5 1320.5 288.6 1321.5 299.6 1322.5 298.8 1323.5 293.7 1324.5 292.6 1325.5 294.9 1326.5 300.7 1327.5 304.7 1328.5 306.3 1329.5 302.2 1330.5 296.6 1331.5 298.7 1332.5 302.7 1333.5 306.9 1334.5 317.2 1335.5 313.1 1336.5 305.9 1337.5 292.9 1338.5 293 1339.5 299.8 1340.5 310.4 1341.5 310.9 1342.5 300.9 1343.5 294.1 1344.5 294.3 1345.5 296.2 1346.5 295.4 1347.5 293.2 1348.5 294.2 1349.5 296.7 1350.5 298.7 1351.5 296.3 1352.5 289.7 1353.5 289.3 1354.5 294.2 1355.5 295.7 1356.5 295.8 1357.5 295 1358.5 289.5 1359.5 281.7 1360.5 278.4 1361.5 282.9 1362.5 289.5 1363.5 292.4 1364.5 292.7 1365.5 294.1 1366.5 300.9 1367.5 307.7 1368.5 304.1 1369.5 295.3 1370.5 286.9 1371.5 280.9 1372.5 280.5 1373.5 282.2 1374.5 283.3 1375.5 288.6 1376.5 291.1 1377.5 288.6 1378.5 288.5 1379.5 286.2 1380.5 276.3 1381.5 268.9 1382.5 265.2 1383.5 268.1 1384.5 274.7 1385.5 283.4 1386.5 285.1 1387.5 283 1388.5 280.2 1389.5 275.5 1390.5 271.2 1391.5 271 1392.5 272.4 1393.5 272.9 1394.5 271.5 1395.5 270.3 1396.5 271.1 1397.5 268.7 1398.5 267.4 1399.5 270.8 1400.5 277.5 1401.5 281.4 1402.5 280.6 1403.5 281.7 1404.5 286.5 1405.5 288.4 1406.5 286.8 1407.5 294.8 1408.5 302.3 1409.5 302.2 1410.5 303.2 1411.5 302 1412.5 296.3 1413.5 301.6 1414.5 305.6 1415.5 301.1 1416.5 292.2 1417.5 290.8 1418.5 297.2 1419.5 303.6 1420.5 300 1421.5 297.1 1422.5 299.6 1423.5 297.7 1424.5 296 1425.5 297.2 1426.5 298.9 1427.5 295.4 1428.5 293.6 1429.5 295.3 1430.5 293.8 1431.5 291 1432.5 297.6 1433.5 305.7 1434.5 308.5 1435.5 306.1 1436.5 305.8 1437.5 306.1 1438.5 308.1 1439.5 317.1 1440.5 329.8 1441.5 340.9 1442.5 338.8 1443.5 323.8 1444.5 306.8 1445.5 297.9 1446.5 302.3 1447.5 306.2 1448.5 304.8 1449.5 300.6 1450.5 292 1451.5 284.7 1452.5 290 1453.5 297.9 1454.5 304.5 1455.5 303.7 1456.5 305.9 1457.5 313.5 1458.5 323.1 1459.5 326.7 1460.5 327.1 1461.5 323.1 1462.5 322.4" stroke="#ff7f0e" stroke-width="2.5" stroke-linejoin="round" stroke-linecap="butt" fill="none"/>
</g>
<rect x="116.5" y="38.5" width="1346.0" height="479.0" fill="none" stroke="#000" stroke-width="1.1"/>
<path d="M116.5 517.5v5.2M284.5 517.5v5.2M452.5 517.5v5.2M621.5 517.5v5.2M789.5 517.5v5.2M957.5 517.5v5.2M1125.5 517.5v5.2M1294.5 517.5v5.2M116.5 45.5h-5.2M116.5 103.5h-5.2M116.5 161.5h-5.2M116.5 219.5h-5.2M116.5 277.5h-5.2M116.5 336.5h-5.2M116.5 394.5h-5.2M116.5 452.5h-5.2M116.5 510.5h-5.2" stroke="#000" stroke-width="1.1" fill="none"/>
<rect x="1047.6" y="48.7" width="405.9" height="79.3" rx="3.3" fill="#fff" fill-opacity="0.8" stroke="#ccc" stroke-opacity="0.8" stroke-width="1.1"/>
<circle cx="1073.5" cy="63.4" r="2.7" fill="#1f77b4"/>
<path d="M1052.9 101.8H1092" stroke="#ff7f0e" stroke-width="2.08"/>
<text transform="translate(1106.03,69.00) scale(1.1239,1)" font-size="19.40">Raw Data</text>
<text transform="translate(1105.98,95.60) scale(1.1571,1)" font-size="19.40">Butterworth Filtered Data</text>
<text transform="translate(1107.17,116.80) scale(1.1647,1)" font-size="19.40">(N=6, Tc=3.3333 min, Type: low)</text>
<rect x="149.1" y="576.5" width="500.8" height="478.0" fill="#d3d3d3" fill-opacity="0.5" stroke="#d3d3d3" stroke-opacity="0.5" stroke-width="1"/>
<path d="M284.5 576.5V1054.5M452.5 576.5V1054.5M621.5 576.5V1054.5M789.5 576.5V1054.5M957.5 576.5V1054.5M1125.5 576.5V1054.5M1294.5 576.5V1054.5M116.5 1035.5H1462.5M116.5 939.5H1462.5M116.5 843.5H1462.5M116.5 748.5H1462.5M116.5 652.5H1462.5" stroke="#b0b0b0" stroke-width="1" stroke-dasharray="1.1 1.83" fill="none"/>
<clipPath id="c2"><rect x="116.5" y="576.5" width="1346.0" height="478.0"/></clipPath>
<g clip-path="url(#c2)">
<path d="M127.2 940.8V957.9M127.3 927.9h0M127.5 933.9h0M127.5 938.6h0M148.9 953.3V979.8M148.6 933.5h0M149.5 937.6h0M149.7 942.4h0M148.8 946.4h0M149.5 952.3h0M160.8 963.2V982.2M161.2 950.3h0M161 956.1h0M161.2 961.7h0M179.5 908.5V944.8M178.8 886.7h0M178.8 893.1h0M179.5 898.8h0M179.2 905h0M193.7 908.7V958.4M193.1 883h0M193.3 887.9h0M193.7 891.9h0M193.8 897h0M192.9 903h0M202.3 911.9V956.2M201.8 890.5h0M202.2 893.8h0M201.6 899.2h0M201.9 903.1h0M202.6 906.5h0M201.6 911.6h0M228.1 946.6V969.2M228 933.5h0M228.8 936.6h0M227.9 942.4h0M237.5 943.7V959.6M237.2 924.1h0M238 930.4h0M236.7 935.3h0M237.2 941.7h0M250.5 853.1V878.4M249.8 836.3h0M250.5 839.8h0M250.3 843.1h0M250.9 848.7h0M262.5 893V931.5M262.3 845.6h0M262.3 850.6h0M262.5 855.6h0M262.8 859h0M261.7 863.4h0M262.2 869.5h0M262.3 872.8h0M262.6 876.8h0M262.3 882.4h0M263.2 887.7h0M277.5 879.4V914M278 855h0M277.3 860.5h0M277.2 864.5h0M276.9 867.9h0M276.8 871.1h0M276.8 876h0M297.3 848.4V892M297.9 797h0M297.5 803.1h0M297.2 806.6h0M297.8 812h0M298 817.9h0M298 821.2h0M296.7 825.6h0M297.8 829.3h0M296.7 834.8h0M298 840.2h0M297 845.2h0M311.1 887.1V932.5M311.1 860.6h0M311.6 866.2h0M311.6 870.1h0M310.8 875.9h0M311 880.9h0M310.3 887.1h0M329.8 846.1V897.6M330.6 800.8h0M329.9 807.1h0M329.5 813h0M329.6 816.4h0M329.5 820.1h0M329.5 825.1h0M330.2 829.8h0M329.9 835.8h0M330.1 841.8h0M373.1 870.6V912.9M373.6 823.2h0M373.3 826.4h0M372.6 830.4h0M373.4 836.5h0M373.9 841.6h0M372.4 845.8h0M373.5 849.2h0M372.6 854.4h0M373.3 857.7h0M372.7 862.3h0M373.5 866.9h0M373.2 870.5h0M390.7 793.3V857.6M391.5 765.3h0M390.7 768.8h0M390.2 774.7h0M390.4 780.6h0M391 785.3h0M390.1 791.3h0M409.4 888.5V931.3M409 849.4h0M409.4 853h0M409.9 859.2h0M409.7 865.4h0M408.9 870.2h0M409.6 875.9h0M409.4 882h0M409.8 886.5h0M415 909.1V950M415.3 856.8h0M415.6 860.7h0M415.8 864h0M414.9 868.3h0M414.3 872.6h0M414.6 877.4h0M414.3 883h0M415 886.2h0M414.5 892.3h0M415.3 895.4h0M415.8 900.9h0M415.7 906.5h0M435.6 906.4V939M436.1 877.4h0M435.9 882.5h0M435.8 888h0M435.8 894.3h0M435.2 898.4h0M436.2 904.2h0M444.2 920.8V950.5M444.1 879.3h0M444.7 882.9h0M443.8 889.3h0M444.3 895.7h0M444.1 901h0M444 906.1h0M444.7 909.8h0M444.4 914.7h0M444.8 918.1h0M460.6 858.2V910.4M460.3 819.5h0M460.2 825.7h0M460.2 831.9h0M460.7 835.6h0M461.3 841.6h0M460.9 845.1h0M460.2 850.6h0M459.8 856.9h0M474.8 829.6V880.4M474.6 778.4h0M474.1 784.7h0M474.9 788.6h0M475 794h0M474.6 800.5h0M474.9 806.4h0M474.9 812h0M474.4 816.1h0M474 820.5h0M474.7 826.2h0M491.6 836.4V903.3M492.4 804.5h0M491.6 808.9h0M492.1 814.7h0M490.9 820.3h0M492 825.6h0M491.3 828.9h0M491.6 834.4h0M502.8 858.5V887.9M502.6 823.2h0M503.3 826.7h0M503.4 829.8h0M502.1 834.3h0M502.7 840h0M502 844.4h0M503.4 850.8h0M502.2 855.1h0M506.6 853.9V892.1M507.1 823.2h0M506.8 826.6h0M506.2 830.8h0M505.9 836.8h0M506.8 841.4h0M507.3 844.8h0M507.4 850.8h0M522.3 833.7V902.1M522.1 761.5h0M521.6 765.9h0M521.6 769.6h0M521.7 773.3h0M522.2 778.1h0M522.8 781.2h0M522.2 784.4h0M522.9 789.7h0M523 795h0M522.4 800.1h0M522.5 806.4h0M521.6 812.6h0M522.1 816.8h0M522.4 820.5h0M522.5 826.7h0M522.4 833h0M547.7 938.6V960.2M548.1 912.9h0M547.7 917.3h0M547 921.8h0M547.3 927.4h0M547.5 933.1h0M547.5 936.9h0M558.9 905.5V951.7M559.3 879.3h0M559.2 883.9h0M558.6 888.5h0M559.6 893.6h0M559.3 897.6h0M559.5 900.6h0M574.6 887.3V931.9M574.2 852.2h0M574.1 857.9h0M574.1 861.9h0M574.4 865h0M574.7 869.8h0M574 876h0M574.5 881h0M574.8 884.1h0M589.4 944.3V973.3M589.8 912.8h0M589.1 918.4h0M588.6 924.5h0M589.6 930.5h0M589.2 936.3h0M588.8 940.9h0M588.8 944.2h0M603.1 929V955.1M603.2 901.1h0M603.1 904.5h0M602.4 910.7h0M603.3 916.6h0M603.8 922h0M603 926.1h0M614.8 948.4V972.2M615.1 914.7h0M614.4 920.6h0M615.3 923.6h0M615.3 929.3h0M614.9 934.8h0M614.8 939.7h0M615.5 942.8h0M614.2 947.4h0M627.7 937.2V966.2M627.8 895.2h0M627.5 900.2h0M628.3 904.6h0M627.3 909.8h0M627.8 914.7h0M627.9 917.7h0M628.4 922h0M627.6 926h0M628.4 931.7h0M638.3 963.1V983.5M639 953.8h0M638.5 957.1h0M638.7 960.6h0M646.1 957.7V979M646.4 934.3h0M645.5 937.3h0M646.3 940.8h0M646.8 945h0M646.1 951.3h0M646.4 957.1h0M660.5 947.7V972.6M660.7 934.3h0M661 938.7h0M661.2 943.9h0M660.3 947.2h0M669.5 942.8V969.4M668.9 926.5h0M668.9 930.7h0M668.8 935.9h0M669.1 939.4h0M684.4 802.9V865.9M684.7 758.5h0M683.9 763.6h0M683.7 766.9h0M684.1 772.8h0M683.9 777.6h0M684.5 780.6h0M684.6 785.6h0M684.9 788.9h0M684.1 794h0M684.9 799.4h0M683.6 802.7h0M704.3 885.5V929.1M704.9 836.6h0M703.7 842.2h0M704.9 848.5h0M704.5 852h0M703.5 857.3h0M704.2 861.7h0M703.9 865h0M703.7 868.9h0M704.1 872.2h0M703.6 876.2h0M705 879.4h0M703.7 884.6h0M713.7 915.1V957.6M713.3 891.3h0M713.1 895.5h0M713.7 900.6h0M713.4 905.3h0M713.4 909.3h0M713.3 914.6h0M724.2 817.4V893.1M724.9 760.4h0M724.4 766.8h0M724.8 769.9h0M724.6 774.1h0M723.8 778.8h0M723.4 782.8h0M724 787.5h0M724.8 791.1h0M724.6 796.2h0M724.5 801.8h0M725 807.4h0M724.8 812h0M724.6 816.5h0M749.6 969.7V985.9M749.3 949.9h0M749.2 953.9h0M749.2 958.5h0M749.3 962h0M750.3 966.7h0M757.4 972.9V988.3M757.8 959.7h0M756.7 964h0M758 967.4h0M756.7 970.9h0M768.3 986.6V999.2M768.5 977.2h0M767.9 980.6h0M768.5 985.7h0M785.5 969.1V989.8M785.7 949.9h0M785.4 955.4h0M785.8 959.9h0M785.5 965.5h0M802.7 969.2V985.3M802.8 947.9h0M802.8 953.5h0M802.2 960h0M802.1 965.1h0M810.9 951.5V977.3M811.2 934.3h0M811 938.2h0M810.4 943.9h0M810.2 949.6h0M819.1 936.8V972.1M819.9 906.9h0M818.8 911.6h0M819.1 917h0M819 921h0M818.7 927h0M818.4 930.4h0M818.6 935.9h0M832.4 977V991.9M831.6 960.8h0M832.2 966.7h0M832.9 972.4h0M832.8 976.6h0M843.3 983.9V996.9M843.8 975.3h0M842.7 979.6h0M853.1 982.7V999.4M853.1 973.3h0M853.4 978.2h0M862.9 1001.4V1010.4M862.2 992.9h0M863.2 996.4h0M863.4 999.7h0M869.9 997.8V1007.5M869.7 987h0M869.4 992.1h0M869.9 997.4h0M917.6 1004.6v12.8M957.8 1015.5v7.7M975.4 1006.5v12.5M991 987.4V1007.1M990.9 975.3h0M991.4 980.9h0M990.3 986.5h0M1003.5 1008.5v11.9M1016 1016.3v8.1M1052.1 1016.4v9.7M1075 1010.9V1020M1074.8 1003.6h0M1075.2 1007.9h0M1102.2 1021v5.2M1240.7 1016.4v7.2M1253.2 1004.2V1016.3M1253.6 998.7h0M1253 1003.8h0M1311 1010.9v10.2M1319.3 1004.8v12.1M1335.5 1016.4v7.1M1356.9 1011.9v9.7M1389 1020.1v7M1421.1 984.9V996.2M1421.7 979.8h0M1421.5 984.4h0M1432.4 979.6V990.9M1431.9 969.1h0M1432.8 974.9h0M1446.4 888.5V929.4M1446.8 865.1h0M1447.1 868.8h0M1446 873.1h0M1446.7 878h0M1446.9 883.7h0" stroke="#1f77b4" stroke-width="5.4" stroke-linecap="round" fill="none"/>
<path d="M117 1001.7V1011.5M116.9 1013.5V1018.5M117.6 1011.8V1017.9M119 996.9V1009.2M119 1009.7V1016.5M120.5 994.5V988.1M120.4 1007.1V1014.2M121 988.3V1003.4M121.1 988.1V978.9M121.9 1000.9V1014.1M123 977.9V999.4M122.8 976.3V966.1M122.9 997.4V1007.3M123.5 970.8V951.4M124 994.2V1003.3M125 965.9V990.9M124.9 991.3V997.3M125.6 962V951.7M126.3 988.9V997.3M127 960.9V986.5M126.7 959V941.6M127.2 986.9V993.9M128.3 957.7V952.1M128.1 986V995.9M129 958.8V987.1M128.8 958.4V946.3M129.1 986.5V993.9M130.1 961V949.2M129.7 988.2V991.4M131 963.4V988.9M131.3 990.5V1002.1M132 968.4V959.8M132.1 992.9V1002.8M133 969.1V995.3M132.6 972.4V969M132.9 995.4V1008.5M134.3 998V1007.8M135 980.9V1000.5M135.3 979.4V973.4M135.2 999.8V1007.5M136.4 1000.7V1014.6M137 984.1V1000.4M137.5 981.2V973.9M137.1 1001.3V1003.5M137.5 1001.9V1014.4M139 985.3V1001.7M139.3 1002.4V1015.7M140 983.8V972.4M139.9 1003V1010.9M141 983.8V1004.7M141.3 984.6V976.5M141.1 1003.9V1015M141.5 1005.3V1018.5M143 989.3V1007.7M142.8 987.3V973.9M142.9 1006.4V1015.4M144.3 987.8V975.5M145 988.5V1005.7M144.6 987.2V974.9M144.8 1006.1V1016.3M145.5 1005.1V1016.4M147 984.5V1002.9M146.6 984.9V970.9M147.5 1003.9V1016.1M147.7 983.1V970.9M147.6 1002.5V1009M149 979.9V1000.4M149.4 980.9V957.4M149.2 1000.8V1014.6M149.6 979.6V969.2M150.3 999.8V1009M151 980.8V1000.6M151.3 979.7V972.5M151.2 999.6V1013.4M152.2 980.7V970.7M151.5 1000V1008.6M153 981V1001.3M152.6 1000.3V1011.2M154.1 982.2V973.1M153.8 1000.5V1011.2M155 983.9V1000.4M155.1 983.7V968.1M155.1 1000.5V1008.1M155.8 1000.6V1007.9M157 982.5V999.2M157.2 982.7V974.3M156.9 1000.7V1008M158.3 1000.9V1013.3M159 982.4V1001.2M158.5 981.8V967.5M159 1001.1V1009.8M160.3 982.1V972.8M161 981.8V1003.6M161.6 984.1V976.6M161.8 1003V1015M163 986.4V1005.5M162.6 985.8V975.6M163.4 1003.9V1009.5M163.9 1004V1011M165 987.2V1005M165.2 987.4V983.2M165.2 1003.6V1010.9M167 984.1V1000.1M166.8 985.3V970M166.8 1001.2V1009.7M169 982.3V1000.3M169.4 980.3V969.2M168.7 997.7V1006.2M169.7 995.8V1000.9M171 978.3V995.3M170.5 994V1003.3M172.2 992.3V1002M173 966.9V991.1M174.4 965.6V953M173.8 989.6V1001.2M175 964.3V987M175.1 962.9V943.7M175.6 959V949.3M175.8 986V999.8M177 952.7V982.7M177.2 953.8V933.5M176.7 983.4V998.2M177.7 981.7V992.3M179 952.7V979.6M178.7 949.2V930.5M180.2 950.9V934.1M179.9 982.6V992.3M181 955.5V985M180.8 953.8V944.5M182 957.7V931.8M183 967.4V990M183 963.5V944.8M182.7 990.4V1001.6M184.4 971.1V962.9M184.4 994.8V1003.4M185 978.6V997M186.2 1000.8V1010.1M187 984.1V1000.5M186.7 984.4V973.6M187 1001.6V1006.8M189 986.7V1000.2M189.3 985.1V976.1M189.5 1001.1V1007.7M190.4 982.7V972.3M190.5 999.3V1003.7M191 975.9V997.9M191.4 978.4V965.3M192.1 973.2V961.2M193 964V991.4M192.8 968V939.3M192.8 990.6V998.6M193.5 962.8V928.9M193.5 987.6V999.2M195 958.1V984.3M195 958.1V925.6M195.4 984.8V998M196 955.1V945.8M197 956.9V981.4M196.6 953.6V940.4M197.2 982.4V988.1M198.1 953.9V944.3M198.1 982.9V993.4M199 953.6V981.6M198.7 954.9V934.9M199.8 956.6V941.1M199.7 985V991.5M201 958.5V986.8M201.4 959V945.1M201.1 986.7V996.7M201.6 962.1V920.7M202.3 988.8V1002.7M203 968.4V991.2M203.3 966V936.8M204.2 970.6V948.7M203.6 994.1V1005.5M205 975.4V997.5M205.1 975.8V968.3M206.3 981.5V960.4M205.8 1001.4V1002.2M207 989.4V1004.1M207.4 986.8V975.9M207.3 1004.8V1015.7M207.7 991.1V973.5M208.5 1007.8V1011.2M209 989V1009.6M208.8 994.6V981M209.2 1010.3V1019M209.7 997.2V985.1M210.4 1012.2V1015M211 1000.1V1012.9M211.1 999.2V992M210.7 1013.6V1015.4M212.1 1014.2V1018.9M213 1001.5V1015.7M212.8 1014.2V1021.6M214.1 998.5V988M214.2 1013.5V1017M215 997.2V1013.9M214.7 1011.8V1020.3M216 1009.8V1020.1M217 990.3V1006.9M217.2 990.4V980.4M217.3 1007.7V1015.1M218.2 987.4V976.3M219 984.6V1005.1M218.6 1003.8V1016.6M220.4 983.6V969.5M220.1 1002.8V1015.6M221 980.5V1002.4M221.4 982.7V974.1M222.4 1002V1014.8M223 980.2V1001.4M222.6 981.7V965.7M222.8 1001.2V1011.6M224 999.9V1009.2M225 975.9V1001M224.7 977.1V965.8M225 998V1011.2M226.5 996.3V1005.3M227 968.1V994.1M227.3 972.2V949.7M227.5 994.7V1003.1M227.9 970.2V958.3M227.5 993.3V999.6M229 969.7V992.3M228.6 969.2V963.4M229 992.4V1003.4M230.5 968.6V953.9M230.2 991.8V1004.4M231 971.9V991.9M230.6 968.8V964.4M231.6 969.9V962.9M231.9 991.3V1004.8M233 965.2V992.3M232.7 968.1V956.7M233 990.8V993.3M233.9 989.6V1001.4M235 964.5V986.9M235.4 988.1V1000.8M236 961.6V943.6M236.1 986.8V997.1M237 961.7V984.3M237 986.2V997.7M237.7 961.7V946.7M238 986.6V997.2M239 962.7V987.5M239 963.3V949.4M239.3 987.3V995.9M239.6 988.2V1001.5M241 967.5V988.7M241.4 989.3V998.9M241.8 969.5V958.5M242 990.2V1001.7M243 968.1V989.9M243.3 970.5V951.9M242.9 990.6V1003M243.7 990.3V1001.2M245 965.1V986.7M245.5 965.7V952.7M245 987.4V992.4M246.2 979.6V992.8M247 937.9V967.5M247.4 968.2V986.3M247.7 958.3V974.9M249 897.6V948.9M249.1 899.6V886.1M248.6 949.7V965.3M249.7 888.3V870.4M251 881.4V939.9M251.3 881.3V867.4M251.5 938.5V972.8M252.4 882.4V868.4M252.5 938.5V950.5M253 888.4V942.4M253 890.5V881M253.7 903.4V881.7M254 948.8V970.7M255 914.5V953.6M254.8 914.6V893.6M254.5 955.3V968.6M256 925.2V912.6M256.2 961.7V973.2M257 928.1V965.2M256.8 933.7V910.2M256.9 967V984.5M258.1 935.2V908.7M258.5 968.4V971.9M259 929.7V965.6M258.8 929.6V904.9M259.2 965.9V979M260.3 926.1V912.4M260.5 964.5V978.8M261 932.5V965.8M260.9 928.1V901.3M262.1 932.9V896.7M261.7 969.2V985.5M263 934.4V969.6M263.2 937.8V907.9M263 972.4V987.2M263.6 941.6V887.1M263.6 974.9V985.4M265 946V979.2M264.7 948.4V934.6M265 979.1V987.7M265.8 958.3V924.9M265.5 985V995.4M267 967.7V989.8M266.8 967.7V929.2M268.4 973.1V938.4M268.2 993.5V1006.2M269 972.5V993.7M269.2 974.5V946.3M269 993.8V1004.6M269.9 972V948.3M269.7 991.9V996.6M271 970.1V989.8M270.8 966.9V939M270.9 988.7V1000M272.3 959.5V936.1M273 949V979.3M273.4 979.1V986.4M274.5 973.8V985.4M275 933.7V968.1M275.1 933.4V913.1M274.6 968.7V975.7M276.3 963.9V977.1M277 920.4V959.5M277 919.5V897.9M276.6 960.4V976.7M277.6 958.6V972.6M279 915.8V957.5M278.8 917.6V903M278.8 958.6V979.1M280.3 920V900.1M281 922.4V963M281.1 924.2V911.1M281.5 962V981.2M282.3 929.3V917.5M281.8 965.1V969.5M283 932.9V968.2M283.3 934.5V920.8M282.9 968.3V979.4M284.3 939.9V924.5M285 940.2V974.7M285.2 943.8V930.6M285.4 974.1V991.1M286.1 945.5V943.2M287 944.8V975.3M286.7 945V932.8M286.6 975.5V987.7M287.9 942.5V913.4M289 937.7V971.9M289.3 938.7V925.2M289.5 933.8V910.3M289.7 968V976.6M291 929.1V961.8M291.2 928.2V912.3M290.5 964.2V965.8M291.6 923.7V897.9M291.6 961V974.4M293 918.1V956.5M293.4 956.8V963.3M294 907.3V879.4M293.6 950.7V967.6M295 900.7V945.5M295.5 899.7V893.2M296.1 896.5V875.9M295.9 944.3V966.5M297 897.6V943.2M296.7 897.3V877.3M296.6 944.5V960.1M298.1 899.3V880.9M297.7 945.4V962.1M299 901.4V948.8M299.1 901.8V881M298.7 946.6V955.2M299.6 908V871.6M300 949.7V970.8M301 917.6V957.1M300.8 919.1V880.6M301.3 955.6V972.9M302.2 928.7V895.3M302.5 961.3V972.1M303 934.5V964.4M303.3 934.3V914.5M303.4 964.7V973.9M304.1 935.8V913.1M303.8 965.9V975.5M305 936.9V966.3M305.4 966.2V975.1M306 934.5V902.4M307 931.3V964.5M307.1 932.6V901.6M307.1 965.2V980M308.5 931.1V921.8M307.9 964.7V977.8M309 930.7V963.9M309.5 930.5V895.4M309.3 964.8V976.3M310.4 931V907.8M309.9 965.4V983.1M311 933.5V966.8M310.6 933V923.2M311.9 935.3V923.7M311.7 968.5V977.2M313 935.1V969.5M313.1 937.2V926.1M313 969.9V979.9M313.8 938.3V927M313.6 970.9V984.9M315 936.7V971.6M315.4 939.4V918.5M315 971.8V983.1M316.2 940V926.2M315.7 972.5V985.2M317 942.9V975.2M317.2 940.2V927M317.9 940.3V931.4M319 938.7V973.8M319 941.8V914M320 944.7V938.3M320 976.4V989.8M321 947.4V977.5M320.8 947.3V930.7M320.7 977.6V991.7M321.8 947.2V933.8M321.9 977.3V986M323 943.5V975.2M323.5 975.5V988.5M324.2 939V925.2M324.2 972.3V986.8M325 931.3V966.9M324.9 967.7V977.8M325.9 921.7V899.8M325.9 962.4V976.3M327 909V959.3M326.6 911.9V868.4M327 956.8V980.3M327.7 903.6V851.2M327.6 952.5V976.4M329 901.2V950.6M329.9 899.5V893.3M329.9 950.9V962.9M331 905.8V952.8M330.8 903.2V894.5M330.9 953.3V967.5M331.7 910.4V879.6M332.3 957.6V972.5M333 922.1V963.3M333.3 919.5V887M333.1 963V968.7M334.2 929V905.8M334.1 968.6V987M335 936V975.6M334.7 937.9V908.2M335.9 944.9V922.2M336.3 978V990M337 950.3V980.8M337.1 950.2V941.2M338.2 953.9V919M337.8 983V999.2M339 955.4V984.7M339.2 956.1V949.3M339.4 984.1V998M339.7 956.9V924.6M339.9 984.4V990.8M341 957.1V983.2M340.8 984.2V990.6M342 956V949.3M342.1 983.7V990.2M343 956.7V984.2M343 955.2V945.2M343.1 983.1V998.9M343.9 955.1V932.2M344 983V992.2M345 954.4V982.6M345.1 955.7V946.4M345.2 983.5V996.7M346.5 984.2V997.3M347 956.4V984M347.1 957.3V942.7M346.6 984.9V998.2M347.6 958.7V947.6M347.7 985.9V995.8M349 957.4V987.3M348.5 960.9V945.3M349 987.3V996.3M349.9 963.8V945.5M350.3 989.1V1002.2M351 966V989.9M351 966.5V956.5M351.3 990.8V999.7M351.7 968.9V955.6M351.9 992.4V998M353 971.5V995.4M353.3 970.8V957.5M352.9 993.6V1001.3M354.4 972.2V962M354.2 994.7V1004.2M355 971.3V995.2M355.2 973.3V967.8M355.1 995.5V1005.9M356 973.9V952.6M356.3 995.6V1002.3M357 973.5V993.6M357.2 973.5V956.5M356.5 995V1004.6M357.7 993.9V1005M359 970.7V990.8M360.2 990.8V996.2M361 964.9V988.4M360.6 966V953.1M360.9 989.6V1003.5M362 965.2V954M362.4 988.8V994.6M363 967.4V988.2M363.2 964.4V953.2M362.7 988V995.1M363.8 986.5V998.2M365 955.3V984.8M365.2 959.1V945.5M365.4 984.4V993.6M365.9 954.7V935.6M365.9 981.6V996.2M367 946.9V979.7M366.6 949V917.5M367.3 978.2V983.4M367.9 973.8V979.7M369 933.9V969M369.1 932.6V896.9M370.5 922.7V910.9M369.5 962.7V976.3M371 917.4V958.7M370.8 916.1V908.4M371 958.8V972.9M371.8 913.2V877.9M371.9 957V985.5M373 913.6V957.7M372.9 913.7V907.1M373.4 957.1V966M373.7 916.4V875.6M373.8 958.3V966.6M375 919.3V961.3M375 920.9V870.7M374.9 960.5V982.6M376.3 927.2V878.3M375.5 963.8V975.8M377 935.4V968.7M377.2 968.1V976.5M378.4 942.8V925.9M379 947.9V977.7M378.8 948.8V921.3M379.6 951.8V924.9M380 978.4V986.9M381 952.3V978.9M380.5 952.6V935.1M380.9 979.4V989.4M382.1 951.1V902.1M382.5 979.2V986.5M383 944.9V976.5M383 945.2V925M382.8 976.6V990M384.5 934.7V905.6M383.9 971V979.5M385 917.5V962.5M385.2 962.8V968.8M385.6 900.8V898.6M386.3 952.6V975.6M387 881V941.7M386.7 880.7V846.9M388.4 866.1V841.5M388.4 933.7V973.8M389 857.3V930.5M388.7 857.3V848M389.1 929V951.4M389.8 857.4V844.4M389.8 929.2V965M391 865.8V934.2M391.4 866.8V844.7M391.1 934.3V959.7M391.7 882.8V858.6M392.4 942.8V980.5M393 903V953.8M392.6 902.3V871.1M394 925V893.6M394.4 965.3V980.7M395 945.5V974.1M394.8 944.2V911.3M396.3 958.9V919.3M395.8 983.3V996M397 968.1V987M396.7 967.9V905.4M397.3 987.9V1001.3M398.2 971.2V956.8M397.9 989.4V997.1M399 969V989.1M398.8 971.3V952.8M398.6 989.2V999.7M400.2 969.2V937M400.4 987.8V998.6M401 964.5V984.4M401.2 965V944.7M401.5 985.3V996.9M402.3 958.7V939.2M401.8 981.6V988.4M403 953.2V977.9M403.5 951.4V925.4M403 977.3V985.7M403.9 943.8V908.8M404 973V985.3M405 936V968.2M405 936.1V916.3M404.6 968.5V984.2M406.5 930.4V912.1M406.5 965.3V974.4M407 928.1V963.8M407.3 928.3V922M407.9 929.9V902.4M408 965.6V981.7M409 931.8V966.9M409.3 932.8V911.3M409 967.4V982.2M410.4 935.6V901.6M410.1 969.2V977.4M411 940.3V971.5M411.2 937.8V913.1M410.9 970.7V982.2M412 941.9V932.7M413 943.3V976.4M412.7 946.6V899.8M413.4 976.1V985.7M413.7 950.5V932.2M413.9 978.5V991.8M415 949.5V976.7M414.6 950V926.5M415.6 947.6V905.8M415.9 977V988.5M417 945.8V976.3M417.2 946.2V936.1M417.4 976V983.9M418.1 947.9V906.9M418.2 976.8V989.6M419 952.1V975.8M418.8 977.9V985.1M419.8 951.4V902.7M419.7 978.4V988.6M421 950.1V979M421.4 951V932.7M420.7 978V990.8M421.8 952.8V940.4M421.7 978.8V987.7M423 956.2V982M422.9 956.7V938.8M423.4 980.8V992.8M424 960.7V935.6M425 962.6V983.7M424.6 962.5V942.4M424.5 983.8V995.1M426.2 962.3V931.6M427 963V982M426.5 961V945M426.6 983.1V990.2M427.7 959.4V944.2M427.9 982.3V994.1M429 958.7V981M429.3 957.5V944.7M430 955.3V943.5M429.8 980.2V989.6M431 953.1V978.2M431.2 952.1V932.9M430.7 978.6V989.8M432.1 948.1V910.2M431.8 976.4V987.4M433 943.5V975.2M433.4 944.1V916.7M434.4 941.5V919.2M434.4 972.9V987M435 941V973.1M434.8 940.4V908.7M434.7 972.1V985.7M436.1 940.6V909.2M436.4 972.1V983.2M437 945.3V972.8M436.9 941.9V915.1M436.8 972.6V984.2M438.2 974.2V988.2M439 947.3V975.1M438.6 976V987.4M440.2 951.1V923.7M439.8 977.1V991M441 949.7V978.7M441 951.2V924.6M441.8 951V942.7M443 949.8V977.2M442.6 951.2V940.7M443.4 976.6V990.2M444.3 951.4V928.6M444.1 976.9V988.7M445 953.4V976.7M444.7 950.4V916.3M444.7 976.6V985.4M446.4 976.5V985M447 949.2V977.1M446.9 950.1V929.3M446.6 976.8V989.2M448.2 951.4V939.2M447.7 977.6V987M449 954.3V977.2M449.3 952.1V925.5M448.6 978.2V990.5M450.4 951.9V920.9M451 954.7V977.5M451 951.1V932.3M451.1 978V988M452.3 949.7V932.4M452.3 977.4V985.3M453 950.5V977.1M453.1 947.3V934.5M453 976.3V989M453.6 943.7V934.4M453.5 974.6V989.9M455 939.5V972.1M454.9 938.8V912.5M456.2 933.1V916.4M455.9 969.2V983.6M457 924.7V964.6M457.2 926.6V864.9M457.6 919.3V894.6M457.8 962V976.5M459 911.9V959.4M458.9 913.4V879.6M458.7 959V982.2M460.4 911.4V878.5M459.8 958.1V971.1M461 911.2V959.5M460.6 913.4V889.8M461.8 917.1V905.1M462 960.5V973.1M463 918V961.9M463 920.5V885.3M462.6 962V974.7M464.3 923.5V894M463.6 963.3V979.5M465 923.6V964M465.2 925.1V881.9M464.8 963.8V976.2M465.9 924V895.9M465.7 962.8V978.2M467 919V959M466.5 959.1V977M467.5 907.7V884.8M467.8 953.2V979.8M469 896.1V948.6M469.2 896.1V860.3M470.2 884.3V857.1M470.2 939.7V965.2M471 875.7V935.1M471.2 874.7V832.4M472 868.2V843.7M471.9 930.4V949.1M473 869.7V931.4M473.4 866.8V837.9M473.4 929.4V954.9M474.1 872V858.7M473.9 932V945.4M475 883.9V936M475.4 882.9V817.3M474.7 937.8V946.3M476.5 896.7V834.9M475.6 945.1V953.1M477 911.2V951.7M476.5 910.3V865.6M477.8 921.4V851.3M478.4 959.6V968.3M479 928V964.4M478.9 930.7V858.9M479.4 965.5V972.7M480.1 937.8V889.9M481 943.4V972.4M481 941.2V922M482 939.7V876.6M483 937.3V972.1M483.3 935.9V909.8M482.8 971.5V984.6M484.2 932.6V915.1M483.6 970.5V978.4M485 931.1V967.6M484.7 929.6V908.3M485.1 968.8V984.5M486.5 925.2V896.8M485.7 966.2V984.7M487 916.4V964.1M487.5 918.6V889.7M487.4 962.5V969.9M488.3 910.5V897.8M488 957.9V981.2M489 908.3V955.1M488.5 906.2V877.2M489 955.4V967.4M489.6 905.9V890.8M489.6 955V977.8M491 906.1V956.4M490.6 907.6V844.1M491.6 909.9V859.5M492.4 956.9V970.6M493 912.5V959.2M492.8 913.5V880.4M492.9 958.8V971.7M493.9 919.2V890.7M495 924.6V964M495.4 926.8V897.4M495.2 965.8V986.6M496.1 932V906.9M496.5 968.5V981.4M497 931.8V967.6M497.1 931.5V919.1M498.3 926.8V891.8M497.7 965.3V976.1M499 920.3V960.9M499 920V889.3M499.8 912V896.2M500.4 956.9V974.9M501 904.1V951.6M500.8 902.4V881.5M501.2 951.5V975M501.5 894.4V880.2M502.4 947.1V967M503 884.1V943.3M502.6 887.8V879.9M503 943.6V966.9M503.9 942.2V948.6M505 882.9V942.5M504.7 885.6V852.3M505.8 888.7V880.8M506.2 944.3V957.1M507 895.4V948.3M506.6 895.1V855.4M507 947.9V972M507.5 953.4V965.6M509 916.5V956.8M509 958.8V964.5M510.1 921.7V878M509.9 962.7V975.5M511 926.7V965.9M510.7 926.7V901.4M511.6 930.8V887.7M511.8 967.9V981.2M513 935.3V970.1M512.8 935.4V919.5M512.8 970.3V985.5M513.5 939.4V923M513.5 972.4V983M515 946.6V973.5M514.8 941.7V929.3M515.1 973.5V985.1M516.2 939.6V895.7M516.3 972.2V985M517 934.8V969.5M516.6 935.3V902.3M518.5 928.1V903.2M517.8 965.6V983.7M519 920.1V960.1M519.4 917.4V893.6M519.4 959.5V971.6M521 910.3V957.6M521.3 910.9V883.9M520.6 955.7V960.5M522.3 911.1V871.5M521.9 955.6V978.4M523 912.6V955.9M523.1 912.6V863.1M522.8 956.3V973.7M524.1 915.5V856M523.8 957.9V981M525 920.9V959.8M525.4 922.3V867.8M525.5 961.8V977.5M525.9 933.9V902.9M525.9 968.3V975.2M527 939V970.4M526.9 941.3V912.9M527.9 939.6V932.8M529 933.6V970.1M528.7 936.4V915.8M529.4 970V982.4M530 933.4V894.5M530.3 968.4V976.9M531 929.7V968.6M530.8 931.5V921.7M531.4 967.6V977.5M531.8 929.4V907.5M532.1 967.1V979.5M533 928.6V968.1M532.6 928.2V911.7M533.3 967.1V978.7M535 932.9V968.4M535.2 932.3V918.4M534.6 970.7V978.4M536.5 938.1V920.6M537 944.8V977.5M537 945.1V924.5M536.9 979.1V990.6M538.3 952.2V925.5M539 961V989.1M538.6 959.5V932.9M538.9 987.9V994.6M539.6 964.4V941.8M541 965.8V991.8M541.5 991.5V997.9M541.6 965.1V945.9M543 962.6V987.8M543 962.4V941.5M542.6 989.2V999.3M544.3 960.2V943.5M543.5 987.9V1002.5M545 956V987.1M545.1 958.5V946.2M545.3 986.9V998.6M546 957.5V947.9M546.4 986.2V995.5M547 956V985.4M547.2 958.5V937.5M547.5 961.6V929.8M547.6 988.4V1001.3M549 962.4V989.7M549.3 965.1V939.8M548.6 990.2V998.4M550 991.3V1002M551 963.5V990.7M550.9 967.2V946.3M551.9 966.7V961.8M553 967.3V990.1M553.3 965.9V947.5M553.2 989.3V1001.6M554.1 964.4V952.1M554.1 988.2V995.1M555 960.7V986.2M554.5 961V938.4M554.9 985.9V998.7M556.5 957.4V919.8M557 953.5V982.2M556.9 955V946M557.3 981.9V989.6M558.5 954.2V930.2M557.8 981.1V990.2M559 950.3V980.5M558.8 952.8V908.1M559.4 980V993.3M559.5 950.6V914M559.9 978.7V989.7M561 948.9V978.2M561.4 947.7V929.1M560.6 977V988.9M562.4 945.4V938.7M561.8 975.6V988.6M563 946.9V976.8M562.7 943.6V935.1M563.4 974.5V988.6M564.5 942.3V933M563.8 973.7V987.6M565 947.7V972M565 941.2V935.1M564.8 972.9V979.6M565.8 940.1V932.5M565.6 972.2V984.7M567 936.7V971.7M566.7 938.9V927.9M567.4 971.7V985.7M568 937.4V910.3M568.5 971.1V991M569 935.9V969.5M569.1 935.5V913M570.2 933.1V912.3M570.3 969V982.1M571 932.6V968.1M570.6 930.7V927.2M570.8 967.9V982M571.5 930.2V905.4M573 934V968.6M572.6 931.4V910.5M572.9 968.7V978.7M573.9 933.2V926.2M573.8 970V979.2M575 933.7V970.5M576.4 935.4V913.4M575.8 971.9V989.2M577 937.7V972.6M576.9 937.5V909.3M577.2 973.3V983.5M577.8 940.4V915M578.4 975.2V986.5M579 939.6V976.8M579.4 942.1V909.9M578.9 976.5V988.4M579.7 943.4V924.5M579.6 977.5V989.4M581 948.2V981M580.5 945.9V919.3M581 979.2V989.4M582.3 951.1V916.9M582.1 982.4V992.9M583 959.8V986.1M583.2 957.5V945M584.3 962.3V928.2M585 966V991.8M585.2 965.4V937M585.8 967.9V941.3M585.7 993.1V1004.3M587 970.5V997.4M586.7 970.8V959M586.9 995.1V1000.4M587.9 973.7V963.4M587.9 997.2V1004.3M589 976.7V996.7M588.8 975.1V959.1M589.1 998.4V1006.3M589.8 975V950.2M590.2 998.8V1006.1M591 973.2V998.4M590.7 975.1V959.2M591.2 999.3V1006.5M592.1 975.7V964.6M592.1 999.4V1012.8M593 979.3V998.7M593.5 976.2V969.9M592.7 999.1V1010.9M593.5 975.1V964.6M594.3 997.9V1004.2M595 975.7V995M594.7 972.9V960.5M594.8 996.1V1003.9M595.6 971.2V959.4M597 968.3V993.4M596.7 969.4V955.2M597 993V1004M598.1 991.6V1001.7M599 967.2V990M599.5 964.2V947.1M599.4 989.9V997.5M600 960V946.2M600.3 987.6V1000.8M601 955.6V986.2M601.3 957.3V936M601.4 986.2V994.7M602.4 956.2V934.3M603 957.3V985.3M603.8 958.4V944.5M605 961.8V988.4M605.8 967.5V956.7M606.1 992V998.8M607 974.6V995.1M607.4 973.1V964M606.7 995.3V998.2M608.2 976.4V964.3M607.8 997.3V1006.6M609 977.1V999M608.5 978.9V963.2M609.3 998.9V1008.4M610.2 1000.2V1004.6M611 982.2V1000.9M611 982.1V970.8M610.8 1001.1V1012.7M612 980.9V965.6M613 976.6V999.7M612.9 978.2V966.6M613.2 999.4V1004.8M614 975V946.6M613.6 997.8V1008.2M615 968.7V995.6M615.2 972.8V948M615.4 996.6V1002.5M615.9 969.5V947.8M615.7 995V1003.2M617 965.5V992.1M617.3 965.4V951.9M617.9 962.1V949.5M618.1 991.1V1001.5M619 961.6V989.9M619.3 961.8V951.5M619 991.1V998.7M619.8 963.4V945.5M621 965.3V994.7M620.6 964.9V955.4M621.2 993V1001M622.2 964.7V955M621.5 993V1001.4M623 965.9V992.2M622.6 962.7V955.9M623.2 992V993.3M623.9 991.1V1002.8M625 966.2V991.6M624.8 961V949.4M625 991.3V1000.5M626.2 963V945.8M625.6 992.5V1001.8M627 967.7V994.2M626.6 965.9V943.6M626.6 994.3V1006.4M627.9 970.6V949.9M628.3 996.9V1008M629 973.5V1000.2M628.9 976.9V930.3M629.3 1000.5V1008.6M629.7 985V963.3M630.3 1005V1018.1M631 986.7V1008.5M630.6 992.5V973.4M631 1009.3V1018.2M632.3 997V974.1M633 998.2V1012.7M633.3 998.4V988.2M633.1 1012.7V1018.1M635 995.3V1010.8M634.6 996.1V981.9M636.4 992.6V980.5M636.4 1009.8V1019.2M637 987.5V1009.8M636.7 988.7V973.6M636.7 1007.7V1014.9M638.2 1005.9V1017.1M639 980.8V1005.2M638.5 982.3V968.4M641 977.8V1002.4M640.9 977.8V976M641 1001.6V1010.5M642.3 1001V1010.7M643 976.5V1002.2M643.4 975.1V968.5M644 1001.5V1011.5M645 974.3V1003.1M645.1 977.4V967.7M644.6 1002.6V1016.3M646 979.7V968.2M646.5 1004V1013.9M647 981.6V1004.1M646.5 982.5V969.7M648.3 985.9V978.6M648 1007.6V1017.1M649 995.2V1009.6M649.3 1009.3V1017.6M650.3 993.5V987.5M649.6 1010.8V1018.3M651 995V1010.9M650.8 996.2V985.4M651.6 998.7V990.7M652 1011.4V1015.1M653 996.4V1010.9M652.7 999.5V991.8M652.7 1010.4V1015.3M653.7 997.2V989M654.3 1008.9V1015.7M655 993V1006.6M654.6 1007.2V1016.4M657 988V1005.7M657.7 980.8V974.4M658 1000.6V1010M659 974.9V998.3M659.1 977.5V965.8M659.5 976.5V959.9M661 973.2V999.1M661.1 975.7V965.3M662.4 975.1V966.4M661.5 997.7V1003.6M663 976.1V996.8M663 975.2V966.7M664.1 976.2V963.3M663.6 998.3V1005.6M665 978.3V999.9M664.5 978.2V966M665.2 998.6V1006.5M667 976.4V996.7M666.7 974.7V963.8M667.2 997.5V1004.1M667.7 996.5V1004.3M669 974.1V995.9M670.4 971.6V953.7M670.5 995.9V1006.3M671 974.9V997.4M670.7 971.8V959.1M671.6 971.5V948.4M673 969.9V996.5M672.5 970.5V958.6M672.6 996.2V1003.8M674.3 969.2V959.3M674.4 995.8V1002.2M675 966.9V995.5M677 953.2V983.4M676.8 954.5V937.5M676.9 986.2V1002M679 927.2V968.7M679.2 926.6V913.3M679.4 968.4V988.3M680 910V898M679.5 958.1V969.9M681 892V947.9M681.2 893.6V882M681.4 947.9V964.5M682.2 878.3V861M683 867.7V934.7M683.1 868.5V811M683.2 934.6V958.7M683.9 866.3V851.6M684.3 933.9V961.3M685 868.9V935.7M684.9 869.1V865.7M684.9 935.8V963.2M686 875.3V814.3M685.9 939.7V964.6M687 883.4V945M686.8 884.7V826.2M686.8 945.3V954M687.6 896V866.9M687.6 951.5V959.9M689 907.7V957.5M689.2 908.9V865.9M689.3 958.5V970M690.2 919.1V889.4M691 922.1V966M691.3 923.3V910.2M691.2 966.1V981.2M692.5 925V895.2M693 927.7V968.6M692.5 928.7V914.8M693.7 934.3V919.3M694.4 971.8V982.1M695 937.3V973.7M695.5 938.7V894M695.2 974.2V986.3M696.1 941V904.8M697 942.7V976.3M696.9 941.9V920M698.2 945.3V936.3M697.6 978.1V986.6M699 950.1V981.5M698.9 950.4V924.9M699.8 949.8V914.8M699.7 980.8V990M701 945V979.7M701.4 943.5V928.7M701.2 977.5V996.6M702.1 938.1V912.4M701.9 974.6V989.8M703 936V971.9M703.3 936.1V920.4M702.7 973.6V986.9M703.8 935.6V892.4M703.5 973.2V990.4M705 931.6V972.4M704.7 934V896.3M704.7 972.2V983.5M705.8 931.5V898.5M705.8 970.7V990.2M707 932.4V971M707.4 931.8V903.2M708.2 936.2V925.7M708 973.1V983.3M709 941.9V977.2M708.6 941.3V923.1M709.1 975.8V996M710.5 945.2V917.1M711 947.9V979.7M711.2 948.5V928.9M710.9 979.5V989.3M712.2 952.9V933.5M711.9 981.8V997.6M713 959.2V986.1M712.8 957.8V938.3M712.7 984.4V991.9M714.1 962.6V929M715 966.9V987.8M714.9 966V930M714.6 988.7V1000.5M715.9 967.2V957.6M716.3 989.2V998M717 961.7V988.8M716.8 966.1V947.7M716.9 988.5V997.3M718.2 963V945.1M717.7 986.7V995.3M719 958.5V984.3M719 956.3V924.1M719.9 946.5V940.4M719.6 977.8V989.2M721 937.3V972.1M721.3 935.6V911M721.6 924V901.2M721.6 965.7V989.9M723 914.7V960.1M723.2 913.1V883M722.7 959.9V976.2M724.2 904V893M725 900.5V950.9M725 898.1V883.2M725.4 951.6V959.9M725.8 897.1V849.9M725.8 950.7V977.6M727 897.6V951.3M727.8 904.2V872.4M729 909V957.5M729.5 909.7V877.3M728.6 956.8V979.7M730.4 917.7V904.9M730 960.9V974.5M731 928.4V965.4M731.1 927.7V918.5M731.7 936.8V901.9M733 948.9V978.5M733.1 945.1V911.3M734.4 953.7V922.9M733.5 981.9V990.2M735 960.2V987.6M735.4 962.8V940.6M734.9 987.1V994M736.4 972.2V962.7M736.4 992.7V1000.2M737 979.9V998.7M737.5 980V968.5M737.1 998.3V1009.3M738 985.7V976.6M737.9 1002.8V1010.4M739 988V1007.5M741 1003.7V1011.6M741.1 1012.3V1018.8M741.6 1013.7V1020.3M743 1003.8V1013.6M742.7 1003V993.9M743.2 1014.4V1020.9M743.8 1001.5V994.1M744 1014.1V1020.6M745 1000.7V1012.2M745.4 1013V1021.7M747 990V1010.7M746.6 1009.7V1017M747.9 989.4V974.3M747.5 1009.2V1018.2M749 991.5V1010.7M749.2 989.4V981.1M749.1 1009V1015M750.2 989.3V972.5M750 1008.8V1019.2M751 990.4V1009.6M751.4 989.5V974.4M751 1008.7V1017.7M751.7 991.6V980.9M751.8 1008.9V1015.1M753 994.4V1007.2M753 1009.3V1015.6M754.3 992.1V984.3M755 993.8V1007.9M754.8 990V976.6M755.7 1007V1013.4M757 990.5V1007.3M758.4 991.6V984.3M758 1008.9V1015.3M759 992.3V1010.1M759 1010.4V1017.7M759.8 998.1V984.2M760.4 1012.2V1014M761 1001.5V1012.3M761.3 1001.4V989.6M760.6 1013.8V1018.2M762.5 1003.4V995.6M762 1014.5V1018.9M763 1005V1013.6M762.5 1013.8V1017.4M763.6 1003.6V992M765 1004.9V1012M764.7 1012.5V1019.7M766.2 1012.7V1017.2M767 999.8V1011.4M767 1000.8V988.8M766.8 1013V1017.9M767.9 1000.5V996.3M768.3 1013.8V1019.3M769 1004.2V1015.6M769.4 1015.4V1021.6M771 1011.7V1018M770.7 1019.2V1024.4M772.2 1020.1V1021.9M773 1016V1020M772.8 1016.3V1011.8M772.5 1020.5V1021.9M773.6 1020.7V1022.2M775 1017.6V1021.2M775.1 1020.6V1022.2M776.1 1020.1V1022.3M777 1017.6V1019.5M776.9 1018.2V1013M777.4 1019.1V1023M777.9 1012.9V1001.5M779 1006.7V1014.6M779.3 1006.6V998.1M778.9 1014.8V1020.4M781 990.9V1011.4M781.3 994.4V984.8M780.9 1009.7V1017.6M782 991.7V981.6M782 1008.6V1011.1M783 990.7V1009.4M783.1 1008.3V1015.2M783.6 1008V1015.9M785 990.3V1008.4M785.1 991.2V977.1M785.5 1008.4V1012.4M785.8 993.2V980.1M785.9 1009.5V1016.6M787 997.3V1011.4M786.7 996.1V985.2M787 1011.3V1016.6M787.7 998.1V986.2M789 997.7V1012.9M789.2 998.7V978.9M788.8 1012.9V1019.3M789.9 998.1V990.3M789.8 1012.7V1018.6M791 999.1V1011.2M790.8 997.3V988.9M790.7 1012.3V1018.2M791.6 997.2V989M792.2 1012.1V1016.7M793 997.9V1009M793.5 997.9V984.4M794.1 998.5V983.6M795 998.7V1010.7M794.8 998.8V990.8M794.9 1011.8V1020M795.8 1011V1013.3M797 996.1V1010.1M796.6 997V988.3M796.9 1010.3V1019.6M798.5 1009.8V1017.6M799 991V1008.9M799.7 989.5V983.2M799.8 1008.2V1012.3M801 991.3V1007.5M800.9 988V970.9M802.2 987.5V974.4M803 986V1007.2M803.3 988.3V965.6M802.7 1007.3V1012.2M804 1007.8V1013M805 989.4V1008.2M805.5 992.2V977.9M805.4 1008.4V1017.2M805.9 1008.2V1012.2M807 987.6V1006.8M807.3 988.5V978.7M807.8 984.3V973.4M808.3 1004.5V1012M809 982.2V1005M809.4 981.2V970.1M808.8 1002.8V1013.4M810.3 979.7V962.4M810.2 1002V1013.5M811 980.9V1002M810.7 978.7V968.4M812.3 1000.9V1008.8M813 981.5V1002.7M813.5 980.1V971.5M813.1 1001.2V1006.6M814.4 980.7V974.4M815 980.1V1002M814.5 1002.2V1013M815.7 979.4V972.5M815.9 1000.5V1009.1M817 968.4V1000M816.9 999.1V1006M818.3 973.7V944.8M817.8 998.9V1007.1M819 974.1V999.5M818.7 975.7V929.5M819.4 1000.1V1006.2M820 977.7V967.3M819.6 1001.3V1011.2M821 979.6V1004.1M821 981.2V970.3M820.7 1003.3V1014M822.1 986.3V976.4M822.3 1006.3V1019.6M823 990.5V1011M823.4 993.2V980.7M823.2 1010.2V1012.5M824.3 997.9V986.2M825 998.5V1015.1M824.7 999.8V990.1M825.4 1014.1V1018.3M826.2 1013.7V1016.3M827 991.6V1013M826.6 997.3V991.8M826.6 1013V1016.4M827.9 1012.1V1021.6M829 994.7V1009.3M830.3 1010.8V1020.7M831 989.5V1013M830.5 1010.9V1021.9M833 994.2V1011.6M833.2 1012.3V1018.6M834.4 996.8V987.2M834.4 1013.6V1019.5M835 999.3V1015.4M835 999.9V993.3M834.8 1015.1V1022M836.2 1002.9V988.3M836.2 1016.4V1023.4M837 1002.8V1014.4M836.9 1004.5V994.1M836.8 1017V1019.6M838 1016.8V1021.8M839 1005V1015.5M839.5 1016V1022.2M839.6 1014.9V1021.5M841 1003.6V1014.4M840.9 1001.5V988.2M841.5 1013.9V1020.8M842.2 999.5V992.5M841.6 1013.3V1020.2M843 999.5V1014.1M843.1 998.2V990.9M843.1 1013.2V1023.6M843.7 998.9V990.8M844 1013.6V1019.1M845 1005.2V1013.7M844.8 1000.8V991.9M845.8 1014.9V1020.6M847 1006.9V1018.5M847.4 1005.1V998M847.4 1015.8V1020.5M848.3 1005.3V997.3M847.9 1016.3V1022.8M849 1004.5V1015.2M849.1 1004.2V993.6M848.7 1016.3V1022.1M849.8 1016V1019.6M851 1003.8V1016.2M851.4 1001.8V989.5M852.1 1016.1V1024.4M853 999.7V1016.6M852.7 1016V1021.6M854.3 1001.2V992.9M853.9 1016V1021.1M855 998.9V1018M854.7 1016.1V1025.1M856.4 1005.2V997.5M857 1007.7V1016.2M856.7 1007.6V999.1M856.8 1017.2V1024.5M857.8 1008.1V998.6M857.8 1017.7V1021.9M859 1007.4V1018.2M859.1 1018V1025.7M861 1009.9V1020.3M860.7 1009.5V996.7M860.9 1019V1022.7M861.9 1010.3V1002M861.9 1019.8V1024.3M863 1011.1V1020.4M863.4 1010.8V1001M862.6 1020.1V1023.9M864.2 1020V1026.3M865 1011.2V1020.7M864.7 1012.3V1009.9M865.3 1019.7V1022.8M866.4 1013.1V1002.6M866.5 1019.5V1025.9M867 1013.4V1018.3M866.5 1013.4V1007M866.9 1019.5V1024.4M868.1 1011.5V998.1M868.3 1019.6V1026.4M869 1009V1018.7M869.2 1009.6V995.7M868.9 1019.7V1026.5M870 1008.5V1007.8M870.2 1020.1V1022.5M871 1013.8V1018.4M870.9 1020.8V1026.1M872 1015.6V1011.3M872.2 1021.5V1027.2M873 1016.9V1021.4M873.1 1022V1023.8M875 1017V1023.5M875.3 1018.8V1010.8M877 1019.5V1021.1M877.4 1019.4V1012M876.6 1022.7V1026M878.1 1019.7V1013.4M877.8 1022.8V1027.9M879 1020.4V1023.2M878.9 1020V1016.5M878.8 1022.9V1026.6M879.5 1020.3V1012.2M880.3 1023V1025.3M881 1021V1023.7M881 1020.7V1017.3M881 1023.2V1027.7M881.9 1021.1V1017.1M883 1021.4V1022.3M883.4 1021.6V1019.7M883.3 1023.8V1028.5M883.8 1024V1028.6M885 1022.5V1023.8M885 1024.2V1027.9M886.4 1022.8V1018.3M886.5 1024.5V1028.2M887 1023.1V1024.9M887.2 1023.1V1020.7M886.9 1024.6V1026.8M887.8 1023.4V1017.9M887.8 1024.8V1026.8M889 1023.7V1025.1M889 1023.6V1019.1M889.3 1024.9V1028.1M890 1023.8V1017.3M891 1024.2V1025M890.8 1024V1018M890.8 1025.1V1026.4M892 1025.2V1026.7M893 1024.7V1024.7M894 1024.4V1021M893.7 1025.3V1028.9M895 1024.2V1024.6M894.6 1024.4V1019.3M895.7 1025.3V1028.2M897 1023.4V1025M897.3 1024.4V1022.9M897.5 1025.7V1028.1M899 1024.1V1025.6M899.5 1025.6V1028.3M901 1024.6V1025.7M901.4 1024.3V1023.2M900.6 1025.5V1029.6M901.7 1024.3V1019.3M903 1024.5V1025.1M903.4 1024.2V1020.4M902.7 1025.6V1028.2M903.7 1025.2V1030.4M905 1023.8V1025.9M904.6 1024.1V1021.3M906.3 1024V1018.8M906.1 1025.3V1028.5M907 1025.3V1025.3M907.2 1025.4V1028.2M909 1023.6V1025.3M908.7 1023.7V1020.6M908.8 1025.5V1029.3M909.7 1023.4V1021.3M910.2 1025.4V1028.3M911 1022.5V1025.6M911 1025.3V1029.3M911.6 1025.1V1030.4M913 1019.6V1024.8M913.3 1020.5V1009.7M913.6 1024.3V1026M915 1019.3V1023.6M914.8 1018.7V1010.9M916 1018.3V1005.8M915.8 1024V1028.6M917 1019.2V1022.9M916.7 1024.1V1028.7M917.8 1018.4V1007.6M918.5 1024.2V1028.5M919 1018.6V1026M918.7 1019.5V1008.8M919.9 1020.8V1012.6M919.9 1024.8V1029.4M921 1022.3V1027M920.6 1022.1V1018.1M922.1 1022.8V1016.8M922 1025.4V1029.3M923 1023.2V1025.8M923.4 1025.4V1029.2M924.2 1023.1V1022.2M923.9 1025.3V1029.4M925 1024.2V1025.3M925.2 1025.3V1028.6M926.5 1023.4V1021.4M927 1023.5V1025.9M928.2 1023.8V1020.1M928.2 1025.3V1028.1M929 1023.8V1024.6M929.3 1024.1V1018.4M929.1 1025.4V1029.1M930.5 1025.5V1027.6M931 1024.2V1027.5M931.2 1025.5V1028.1M931.8 1024.5V1017.9M931.5 1025.6V1028.1M933 1024.2V1025.4M932.6 1025.7V1028.2M933.9 1024.7V1022.4M935 1025V1025.9M934.6 1026.2V1029.6M936.2 1024.9V1020.7M936.2 1026.2V1030M937 1024.6V1025.4M936.5 1024.9V1020.8M937.2 1026.2V1030M938.4 1026.2V1028.5M939 1025.1V1025.9M939.3 1025V1023.7M939.2 1026.2V1028.3M940.2 1025.1V1021M939.8 1026.2V1028.5M941 1024.8V1026.2M940.7 1026.2V1028M941.8 1025.2V1022.6M943 1025V1027.8M943.3 1026.3V1029M945 1020.8V1030.5M944.7 1020.9V1019.3M945.9 1025.4V1022M946.1 1026.5V1030M947 1025.7V1026.6M947.3 1025.4V1024.7M947.3 1026.5V1029.1M948.1 1025.3V1019.1M948.1 1026.5V1030.6M949 1024.2V1026.8M949.1 1025.2V1019.6M950 1025V1018.9M951 1024.7V1025.3M950.5 1025.8V1031.1M951.7 1025.7V1027.7M953 1024.5V1024.5M953.2 1024.3V1020.4M952.9 1025.6V1028.8M954.3 1024V1018.2M953.5 1025.5V1027.8M955 1023.1V1024.8M954.5 1023.7V1020.2M955.3 1025.4V1028.2M955.8 1023.6V1016.3M957 1023.1V1025.5M957.7 1025.6V1029.4M959 1023.8V1026.7M959.2 1025.7V1029.4M960.1 1025.8V1028.8M961 1023.8V1024.9M961.5 1026V1027.3M961.5 1025.5V1019.7M961.5 1026.5V1029M963 1025.6V1025.6M964 1026.2V1030.3M965 1025.2V1025.3M965.2 1024.9V1022.3M964.8 1026.2V1028.1M965.8 1026.1V1029.4M967 1023.8V1024.6M966.7 1024V1020M966.9 1026V1028.9M967.9 1025.9V1029.6M969 1022.7V1028M969.5 1025.7V1028.6M970.3 1022.2V1013.8M969.7 1025.5V1027.5M971 1022.1V1025.2M970.7 1025.2V1028.6M971.6 1020.8V1019.1M971.9 1024.9V1027.5M973 1020V1022.2M973.4 1020.3V1008.7M972.7 1024.8V1028.5M973.8 1019.9V1011.8M974 1024.8V1026M975 1019.9V1026.7M974.5 1024.9V1027.5M976.4 1020.3V1012.3M976.2 1025.1V1029.1M977 1022.1V1027M976.8 1025.4V1029.1M977.5 1022.6V1017.9M978.2 1025.6V1028.1M979 1023.3V1026.8M978.9 1023.8V1015.4M978.5 1025.9V1029.4M980.1 1023.8V1022.3M979.6 1026V1027.3M981 1024.4V1025.6M980.9 1023.3V1016.7M980.6 1026.1V1028.1M982.4 1026.1V1027.2M983 1022.6V1027.3M983.1 1026V1028.8M984 1021.2V1007.2M984 1025.9V1029.1M985 1020.9V1025.8M985.2 1020.3V1011.6M984.8 1025.6V1028.7M986.2 1018.8V1012M987 1015.5V1025.8M986.9 1014.8V1005.5M987.5 1024.1V1028.1M989 1007V1022.2M988.9 1007.5V994M988.8 1022.1V1029.2M989.9 1021.8V1028.7M991 1006.3V1021.4M990.9 1021.8V1027.6M991.5 1007.2V996.7M991.7 1021.9V1027.9M993 1009.5V1022.6M992.6 1009.2V998.4M993.9 1023.3V1025.2M995 1015.9V1024.6M995 1024.6V1028.9M995.9 1018.8V1008.7M996.2 1025.3V1027.8M997 1020.3V1024.5M997.3 1021.2V1008M998.1 1022.5V1017.5M999 1022.5V1022.5M999.1 1022.2V1017.6M998.8 1025.6V1027.6M999.8 1021.9V1014.4M999.8 1025.5V1028.1M1001 1020.2V1026.5M1000.5 1021.5V1014M1001 1025.4V1028.6M1002.2 1021.1V1012.6M1001.7 1025.3V1028.6M1003 1021.3V1024.3M1003.3 1020.8V1010.6M1003 1025.2V1026M1003.8 1020.9V1018.8M1004.1 1025.2V1028.7M1005 1023.6V1024.1M1005.5 1025.2V1027.9M1006.4 1021.9V1016.9M1005.8 1025.2V1028M1007 1022.2V1027.1M1007.2 1025.3V1028.9M1007.6 1023V1016.4M1008.2 1025.4V1030.6M1009 1022.8V1025.8M1008.9 1023.6V1015.3M1008.9 1025.5V1029M1010.5 1023.9V1018.6M1009.9 1025.6V1030.2M1011 1023.4V1024.3M1010.7 1024V1017.4M1010.8 1025.7V1029.2M1012.1 1024.1V1022.3M1012.5 1025.7V1028.8M1013 1024.2V1025.1M1013.3 1025.8V1028.1M1014.4 1024.2V1015.5M1013.8 1025.9V1028M1015 1024.6V1027.2M1014.9 1026V1027.7M1016.3 1024.4V1020.6M1016.3 1026V1028.4M1017 1025.4V1026.6M1016.9 1025.1V1022.1M1017.4 1026.2V1029.1M1018.3 1026.7V1029.9M1019 1020.8V1030.9M1019 1021.2V1020M1019.6 1022.4V1019.9M1021 1023.2V1030.7M1021.7 1025V1024.2M1023 1024.3V1030.4M1024.3 1024.9V1024.3M1025 1024.2V1030.6M1027 1024.5V1030.9M1027.3 1024.6V1022.2M1028.2 1024.5V1023.4M1029 1024.4V1030.4M1029.3 1024.4V1023.5M1029.6 1024.4V1024M1031 1024V1030.5M1031.3 1024.6V1023.6M1033 1024.8V1031M1033.3 1025.1V1024M1033.8 1025.3V1024.2M1035 1024.6V1031M1035.7 1025.6V1024.6M1037 1024.8V1030.9M1037.3 1025.2V1024.2M1039 1024.7V1030.6M1039.3 1024.3V1023.7M1040.3 1023.9V1022.4M1041 1023.3V1031.4M1041.9 1023V1021.7M1043 1023.1V1030.9M1043.3 1023.3V1021.5M1043.8 1023.7V1023.1M1045 1023.8V1031.2M1044.8 1024V1023.7M1047 1024.8V1031.2M1049 1025.4V1031.5M1049.5 1025.2V1024M1051 1027V1029.9M1051.4 1027.3V1023.5M1051.1 1028.1V1029.8M1051.7 1026.4V1022.7M1053 1026.9V1026.9M1055 1025.6V1031.5M1055.4 1025.4V1023.1M1055.9 1025.6V1025M1057 1025.4V1031.5M1057.4 1025.4V1024.5M1057.5 1025.3V1024.8M1059 1025.4V1031.8M1059.4 1025.1V1024.8M1060 1024.9V1024.6M1061 1024.6V1031.6M1060.6 1024.8V1024.4M1063 1024.6V1031.2M1062.5 1024.5V1022.7M1064.4 1024.1V1023.1M1065 1023.9V1031.8M1066.1 1023.2V1022M1067 1023.4V1031.6M1066.9 1022.8V1021.8M1068.3 1022.4V1021.3M1069 1022.7V1030.9M1069.8 1027.1V1029.7M1071 1025.2V1026.3M1070.9 1024.9V1019.2M1072.2 1023.8V1018.4M1073 1022.8V1027M1073.1 1022.5V1014.3M1072.9 1026V1029.9M1075 1021.3V1025.3M1075 1020V1010.3M1075.3 1026.6V1027.2M1076.5 1021.7V1013.4M1076.1 1027.1V1028.7M1077 1024.3V1026.6M1077.3 1024.4V1012.7M1076.6 1027.4V1029.2M1078.1 1026.2V1016.8M1078.2 1027.6V1029.8M1079 1027.1V1028.8M1079 1027.4V1020.6M1081 1024.7V1031.8M1081.1 1024.3V1023.9M1083 1023.5V1031.1M1082.9 1023.6V1022.4M1085 1022.1V1031.2M1087 1023.1V1031.8M1089 1025.7V1031.8M1089.5 1024.6V1024.2M1089.8 1025.2V1024M1091 1025.7V1031.6M1091.7 1025.5V1023.8M1093 1024.8V1031.9M1093.4 1025.3V1023.9M1095 1025.1V1031.9M1095.3 1024.9V1023.7M1097 1024.8V1032M1097.6 1023.9V1022.1M1099 1023.5V1031.4M1099.1 1023.4V1022.3M1101 1022.9V1031.7M1100.7 1022.4V1020.8M1102.1 1027.6V1023.6M1102.3 1028.4V1030.9M1103 1022.6V1031.7M1104.1 1023.6V1022.5M1105 1024.4V1032M1107 1026.2V1031.6M1108.2 1025.8V1024M1109 1025.9V1031.9M1108.7 1025.8V1024.7M1110 1025.8V1024.9M1111 1025.4V1031.9M1111.4 1025.8V1024.7M1112.2 1025.8V1025M1113 1025.7V1031.6M1112.6 1025.8V1024.8M1115 1026.2V1031.7M1117 1026.2V1032.5M1116.7 1026V1025.2M1117.9 1026.1V1025.2M1119 1026.2V1031.7M1119.9 1026.3V1022.8M1121 1026.1V1032.2M1121.4 1026.3V1026.1M1122.2 1026.4V1025.9M1123 1026.9V1031.6M1123.4 1026.6V1025.3M1125 1027.2V1031.8M1124.6 1026.9V1026M1126.5 1027V1026.3M1127 1027.4V1032.2M1128 1027.3V1026.8M1129 1027.5V1031.9M1130.1 1027.5V1026.9M1131 1028V1032.1M1133 1028.5V1032.1M1132.6 1027.7V1026.6M1135 1028.6V1032.1M1137 1027.6V1031.9M1136.6 1027.9V1027.2M1137.7 1032.2V1034.9M1139 1028.3V1031.9M1141 1027.3V1032.5M1141.3 1027.5V1025.2M1142.5 1027.4V1026.9M1143 1026.8V1031.9M1143 1027.2V1025.8M1143.9 1027V1026.2M1145 1027V1032.4M1144.8 1027V1025.9M1145.8 1027.2V1026.1M1147 1027.6V1032.2M1148.1 1027.4V1025.4M1149 1028.1V1032.4M1149.4 1027.6V1026.9M1151 1027.3V1031.9M1152.1 1028V1027.5M1153 1028V1032.5M1153.7 1027.6V1027.1M1155 1027.7V1032.4M1154.6 1027.4V1026.7M1155.8 1027.2V1024.2M1157 1027V1032.4M1157.1 1027V1025.7M1157.9 1026.8V1025.8M1159 1026.3V1031.9M1159.9 1026.5V1026M1161 1026.9V1032.6M1163 1027.3V1032.6M1163.2 1027.3V1024.6M1163.6 1027.6V1024.1M1165 1027V1031.7M1167 1027.8V1032.4M1169 1028V1032.9M1171 1028.1V1032.6M1172.2 1028V1027.1M1173 1028.1V1032.6M1175 1027.7V1032.8M1177 1027.9V1032.7M1177.8 1027.8V1027.6M1179 1027.8V1032.3M1179.5 1027.7V1027.2M1179.9 1027.7V1027.1M1181 1027.9V1032.5M1183 1027.2V1032M1185 1024.4V1032.3M1185.4 1024V1023.6M1185.6 1022.7V1021.8M1187 1023.1V1032.1M1187.5 1023.5V1020.4M1189 1024.6V1032.8M1191 1026V1032M1190.9 1026V1025M1192.4 1026V1025M1193 1025.8V1032.1M1194.4 1026.2V1025.4M1195 1026.1V1032.4M1194.6 1026.3V1024.7M1195.7 1026.4V1025.6M1196.4 1032.2V1032.7M1197 1026.5V1032.3M1199 1026V1031.7M1200.4 1026V1025.1M1201 1026.2V1032.2M1200.6 1025.8V1024.4M1203 1025.5V1031.7M1202.5 1025.6V1025.1M1205 1025.4V1031.9M1204.6 1025.4V1024.4M1205.9 1025.4V1024.5M1207 1025.5V1031.7M1207.9 1026.1V1026M1209 1026.1V1031.7M1208.6 1026.5V1025.8M1209.8 1026.8V1025.8M1211 1027.5V1031.9M1211.4 1027.2V1026.2M1213 1027V1032M1213.4 1027.2V1026.6M1215 1027.1V1031.6M1216.4 1026.6V1025.5M1217 1027V1032.3M1217 1026.5V1025.7M1219 1025.8V1031.8M1219.3 1026V1024.9M1221 1025.8V1031.2M1222.2 1025.3V1024.3M1223 1024.7V1031.6M1223.4 1025V1023.8M1223.8 1024.8V1024M1225 1024.7V1031M1224.9 1024.5V1022.7M1225.5 1024.2V1023.3M1227 1024.5V1031.2M1228.2 1023.3V1020.8M1229 1022.1V1031M1228.5 1022.9V1021.3M1231 1022.4V1031M1233 1022V1031.3M1233.3 1022.1V1020.6M1235 1022.1V1030.9M1236.4 1021.7V1021M1237 1026.3V1028.3M1237.1 1025.9V1020.6M1236.6 1027V1030.8M1238 1026.3V1028.5M1239 1024.3V1025.7M1239 1024.6V1020.5M1238.8 1026.1V1029.2M1240.2 1024.1V1017.8M1240.4 1025.9V1029.4M1241 1023.4V1025.7M1242.4 1023.9V1020.9M1241.8 1025.9V1028.2M1243 1024.8V1026M1242.6 1026.1V1028M1244.1 1024.3V1016.1M1245 1024.1V1025.6M1244.7 1024.6V1021.1M1246.4 1024.8V1019.7M1246.1 1026.6V1031.8M1247 1025.5V1026.1M1247.3 1025V1021.7M1247.2 1026.7V1028.6M1247.6 1024.9V1017.6M1248.4 1026.5V1029.5M1249 1024.9V1026.5M1249 1024.7V1018.5M1249.3 1026.2V1029.4M1250.5 1024.3V1018.8M1250.5 1025.9V1028.2M1251 1023.5V1025.5M1250.8 1023.2V1016M1251.5 1025.6V1029M1251.8 1019.2V1006.5M1253 1017.8V1026.8M1253.4 1017.7V1006.2M1253.6 1018.7V1012M1255 1021.8V1025.1M1255.5 1021.6V1013.4M1254.7 1025.9V1031.2M1255.5 1024.6V1018.2M1257 1025.7V1029.1M1257.4 1025.9V1021.9M1257.8 1022.8V1022M1259 1022.2V1031.4M1259.1 1023V1021.9M1259.6 1023V1022.2M1261 1022.9V1031.6M1261.8 1023V1020.3M1263 1023.4V1031.1M1263 1023V1021.6M1264.3 1023.2V1022.3M1265 1024.8V1031.2M1265 1023.6V1022.9M1266.4 1024.1V1023.5M1267 1024.2V1031.3M1266.8 1024.5V1023.8M1268.2 1024.9V1023.8M1269 1025.7V1031.6M1269.1 1025.4V1024.4M1270 1025.7V1025.1M1271 1026.4V1030.9M1271.3 1025.8V1022.8M1271.6 1025.8V1025.3M1273 1026.3V1031M1273.4 1025.9V1024.5M1273.9 1026V1024.3M1275 1026.4V1031.1M1274.6 1026V1025.7M1276.4 1026.1V1024.9M1277 1026.1V1030.9M1277 1026.1V1025.1M1278.2 1026.2V1025.3M1279 1026V1031.1M1281 1026.3V1031.3M1281.8 1026.1V1025.6M1283 1025.8V1031.1M1282.8 1026V1024.9M1284 1026V1024.5M1285 1026.3V1030.7M1285.8 1025.9V1024.9M1287 1025.8V1031M1286.8 1025.8V1024.9M1287.9 1025.7V1024M1289 1025.6V1031.4M1288.7 1025.5V1024.9M1289.6 1025.2V1024M1291 1025.3V1031.5M1290.7 1024.9V1023.9M1291.1 1031.3V1032.6M1292.1 1024.6V1023.2M1293 1024.3V1031.1M1294.4 1024V1021.1M1295 1023.9V1031.4M1295.8 1023.4V1022.8M1297 1023.2V1030.7M1298.3 1023.1V1022.2M1299 1022.4V1030.7M1298.9 1023.1V1021.8M1299.9 1023.2V1022.2M1301 1023.6V1031.2M1301.9 1023.3V1021.3M1303 1023.2V1030.3M1303.9 1023.4V1022.5M1305 1022.5V1030.7M1304.6 1023.2V1021.9M1306.3 1026.9V1030.3M1307 1024.3V1026M1306.7 1024.6V1019.7M1306.6 1026.2V1028M1309 1022.3V1026.4M1308.8 1022.5V1016.6M1309.4 1025.6V1029.2M1309.8 1025.2V1027.6M1311 1021.3V1026M1311.2 1021.1V1015.6M1310.9 1024.8V1029.2M1312.5 1024.4V1028.6M1313 1021.1V1024.6M1312.7 1024V1027.9M1314.4 1023.6V1026.6M1315 1018.9V1024.5M1315.1 1019.2V1016.7M1315.3 1023.3V1028.5M1316.4 1018.4V1009.9M1315.7 1023.1V1028.2M1317 1017.8V1023.1M1317.1 1023V1026.5M1317.5 1017.5V1008.8M1319 1017.4V1024.7M1319.3 1017.4V1011.7M1318.6 1023.3V1026.6M1319.8 1018.8V1016M1319.8 1023.7V1028.3M1321 1020.6V1024M1320.7 1020.6V1013M1321.5 1024.2V1028.8M1322.3 1022.3V1020.4M1322.3 1024.7V1028.6M1323 1022.8V1025.3M1323.5 1023.7V1020.2M1322.6 1025.1V1028.2M1325 1021.7V1029.7M1326 1021.2V1020.4M1327 1021.6V1029.7M1326.7 1021V1020M1328.2 1020.8V1019.6M1329 1021.4V1030.1M1329.8 1020.4V1019.4M1331 1019.7V1029.8M1331.4 1020.1V1018.5M1332.2 1025V1021.6M1332.2 1026V1029M1333 1024.1V1024.6M1333.4 1024.6V1022.4M1335 1023.1V1026.1M1335.3 1023.8V1016.5M1335.3 1025.2V1028.3M1335.7 1023.6V1017.6M1336.4 1025.1V1027.9M1337 1024.4V1024.4M1337.1 1023.6V1020.6M1338 1023.7V1020.6M1337.8 1025.1V1028.7M1339 1023.3V1026.5M1338.5 1025.1V1028.5M1340.5 1023.8V1020.8M1341 1022.9V1024.1M1340.5 1023.9V1019.5M1341.7 1025.2V1028M1343 1023.7V1026.2M1342.7 1023.9V1019.9M1342.7 1025.2V1027.7M1344 1023.9V1020.8M1344.1 1025.1V1027.8M1345 1022.6V1024.9M1345.2 1025.1V1027.8M1346.4 1025V1029M1347 1023.9V1025.8M1346.9 1023.8V1021.1M1346.8 1025.1V1027.4M1347.9 1025.1V1030.3M1349 1023.6V1026.5M1348.8 1023.7V1015.7M1350.3 1023.5V1019.5M1349.6 1025.1V1028.2M1351 1023.7V1025.9M1351 1023.3V1020.9M1351.4 1025.1V1029.2M1351.7 1023.1V1017M1351.9 1025V1028.3M1353 1022.8V1025.1M1355 1021.6V1026.6M1354.8 1022.1V1014.6M1354.8 1024.9V1027.9M1356.1 1024.9V1026.2M1357 1022.5V1024M1357 1025V1028.8M1358.3 1022V1012M1359 1022.7V1023.9M1359.4 1025.2V1028.4M1360.1 1022.7V1017.3M1359.5 1025.4V1028.2M1361 1022V1026.2M1361.4 1025.5V1028.9M1361.8 1025.7V1029M1363 1023.3V1024.8M1363 1023.5V1017.8M1362.9 1025.8V1027.8M1365 1022.7V1027M1365.1 1024V1021.8M1365.1 1026.1V1029.5M1366.5 1024.4V1022M1365.6 1026.4V1031.4M1367 1026.3V1026.7M1366.8 1026.7V1029.9M1368 1026.1V1024.1M1368.5 1027.1V1030.2M1369 1021.4V1031.2M1369.2 1021.5V1018.8M1369.7 1022.8V1021.4M1371 1023.4V1031.1M1371.2 1023.7V1022.2M1372.2 1024.1V1022M1373 1024.1V1031.8M1372.8 1024.5V1023.3M1375 1024.9V1031.5M1376.4 1025.5V1024.7M1377 1026.5V1032.1M1377.3 1025.8V1024.7M1377.6 1025.7V1024.7M1379 1025.8V1031.9M1379.2 1025.6V1025.4M1381 1025.2V1032.1M1380.8 1025.4V1025.1M1383 1025.6V1032.2M1383.2 1025.2V1024.2M1384 1024.5V1023.2M1385 1024V1032M1387 1022.1V1031.2M1388.5 1028.4V1031.2M1389 1026.3V1029.5M1389.1 1027.2V1023.4M1388.9 1028.2V1031.2M1389.9 1027.1V1022.4M1389.7 1028V1031.8M1391 1021.1V1030.9M1391.2 1021.4V1019.8M1390.9 1031.2V1031.3M1392.1 1021.7V1019.7M1393 1021.6V1031M1392.9 1021.9V1021.1M1393.8 1022.2V1021.3M1395 1022.7V1031.3M1395.1 1022.4V1021.3M1396.1 1022.3V1020.6M1397 1022.6V1030.8M1397 1022.2V1021.8M1399 1022.6V1030.1M1399.1 1021.8V1020.5M1400.1 1021.7V1021.4M1401 1020.2V1031.3M1400.5 1020.7V1019.2M1402.3 1023.7V1018.1M1402.4 1024.9V1028.1M1403 1021.5V1025.6M1403.2 1022V1015.8M1403.1 1024.1V1028.3M1404.4 1023.2V1027.8M1405 1018.8V1024.4M1404.9 1019.4V1010.5M1405.6 1018.8V1018.1M1407 1016.6V1022M1407.3 1018.2V1010M1406.9 1021.4V1023.6M1407.7 1017.7V1014.1M1409 1017.2V1019.6M1409.4 1020.5V1022.5M1411 1015.4V1015.8M1411.3 1015.2V1012.4M1410.6 1018.9V1023.7M1412.3 1013.7V1007M1411.8 1017.6V1023.5M1413 1012.9V1016.1M1412.8 1012V1006.3M1413.2 1016.1V1022.8M1413.8 1014.6V1020.6M1415 1002.1V1011.6M1415.5 1002.6V991.2M1415.1 1013.1V1015.5M1416 1000.8V987.2M1415.7 1011.5V1017.9M1417 998.7V1009M1416.6 999.2V985.4M1417.4 1010.2V1016.7M1418.3 1009.3V1012.6M1419 997.7V1008.8M1418.7 1008.9V1018.9M1420.3 1008.6V1018.5M1421 996.1V1007.8M1421.2 1008.5V1014.9M1421.9 997.2V989.1M1422.2 1008.6V1015.4M1423 997.2V1010.9M1422.8 998.3V989.7M1424.4 1009.4V1018.6M1425 1000.9V1007.1M1424.6 1000.1V987.7M1424.9 1009.7V1012.5M1425.7 1000.3V987.8M1425.9 1009.7V1017.6M1427 999.3V1011.9M1426.5 1000V993.1M1426.6 1009.3V1012.9M1427.7 1008.8V1018.2M1429 993.4V1008.7M1429.4 995.2V983.1M1428.7 1008.3V1018.1M1430 992.8V984.6M1429.7 1007.7V1017.8M1431 994.8V1009.2M1430.9 991.9V986.1M1430.7 1007.3V1013.8M1431.5 991.8V983.4M1432.1 1007.4V1016.2M1433 992.1V1008.3M1433.5 1008V1017.6M1434 997.2V996.4M1434.2 1009V1017M1435 999.7V1009.7M1434.9 1009.8V1013.3M1436 1010.6V1015.9M1437 1001.9V1009.5M1436.8 1011V1017.4M1438.4 1001V989.1M1439 996.4V1010.3M1439.5 995.3V983.6M1439.5 1010.5V1015.5M1441 978.5V1001.3M1441 980.2V967.9M1441.7 969.1V954.5M1442.1 993.3V1006.2M1443 959V982.9M1443.5 958.2V929.4M1442.6 983.8V997.6M1443.7 947.6V918.5M1444.1 972.7V982.2M1445 939V967M1444.9 937.8V904.3M1444.8 967.9V978.8M1445.6 931.4V900.6M1446.3 965.1V974.1M1447 928.9V964.9M1446.7 930.4V908.5M1447.3 965.2V978M1447.7 935.6V927M1448.5 968.7V979.2M1449 942.1V974.5M1449 974.8V984.1M1450.3 956.8V935.8M1449.6 981.8V992.4M1451 970.6V991.3M1450.6 968.8V926.8M1453 991.1V1007.2M1453.3 989V978M1452.6 1006V1015.5M1454 995.4V959.9M1455 998.5V1013.9M1455.2 999.1V974.7M1455.9 1000.6V987.3M1456.3 1015.2V1022M1457 999.8V1013.3M1457.4 1016.1V1024M1458.1 1016V1023.5M1459 1006.7V1015.4M1459 1014.6V1022.7M1459.6 1004.1V992.8M1460.5 1013.1V1019.2M1461 1004.4V1011.7M1461 1002.7V997.2M1462.5 1001.7V990M117.1 1016.4h0M118.1 991.3h0M120.6 985h0M120.5 980.6h0M120.5 976.7h0M120.3 1011.5h0M119.5 1012.4h0M121.4 971.7h0M121.1 968.7h0M121.9 973.8h0M122.9 1012h0M122.9 1012.5h0M123.2 947.6h0M123.2 944.6h0M123 939.4h0M123.5 938.4h0M124.4 1006.8h0M124 1010.7h0M125.2 961.3h0M125.4 946h0M125.3 954.1h0M125.2 1004.2h0M124.9 1006.9h0M126 954h0M126.5 955.6h0M126.3 957.1h0M125.9 947.4h0M125.5 941h0M125.6 939.8h0M126.1 996.3h0M126.5 1003.1h0M126.3 1005.7h0M127.2 934.1h0M126.7 933.6h0M126.8 999.6h0M127.4 1004.2h0M127.2 1005.1h0M128.2 951.2h0M127.6 999.3h0M127.9 1002.8h0M128.1 1008.2h0M129.3 940.6h0M129.1 933.1h0M128.8 931h0M129.3 1001.2h0M129.1 1005.7h0M130.2 945.2h0M130.6 938h0M130.1 937.4h0M131 994.3h0M133.8 1011h0M134.3 1012.3h0M135.7 968.9h0M134.7 963.7h0M135.3 962.7h0M135.5 1005.9h0M135.8 968.2h0M135.7 975.5h0M137.1 964.4h0M137.4 969.8h0M137.5 966.5h0M137.5 1004.9h0M138.4 978.1h0M140.1 965.9h0M140 965.8h0M140.9 980.7h0M140.5 980.6h0M141.1 972.7h0M141.3 970.6h0M142.5 984.1h0M142.8 985.4h0M142.9 968.9h0M143 961.6h0M142.8 959.3h0M144.4 967.7h0M145.1 961.7h0M144.6 959.4h0M146.8 982.9h0M147.8 978.8h0M148.4 979.6h0M148 966h0M147.6 959.4h0M148 954.4h0M147.7 952.3h0M148.9 952.1h0M149.9 945.2h0M149.3 941h0M149.4 940.2h0M149.6 975.8h0M150.1 964.8h0M149.2 961.4h0M149.6 957.4h0M151 972.9h0M151 965h0M151.3 961.7h0M150.8 1004.6h0M152.8 966.8h0M152.2 961.6h0M153.6 978.4h0M154.1 969.9h0M154.3 966.8h0M154.1 962.5h0M154.8 979.9h0M154.8 965h0M155.1 960.7h0M156.4 979.8h0M157.5 976.6h0M157.2 969.9h0M157.2 968.6h0M157.6 977.7h0M158.3 962.7h0M158.5 958.6h0M160.6 966h0M160.7 961.4h0M160.8 957.8h0M160.3 956.3h0M161 976.2h0M162 981.6h0M162 971.2h0M161 967h0M161.6 963.2h0M163.3 973.3h0M164.1 978.1h0M166.1 980.4h0M166.1 1008h0M167.3 980.9h0M166.2 965.8h0M166.8 960.2h0M168.2 979.4h0M169.8 962.2h0M169.4 958.8h0M169.4 957.1h0M169.8 972.5h0M170.4 967.5h0M169.7 998h0M170.9 966.5h0M172.4 967.1h0M172.1 956h0M172.8 997.1h0M175 947.6h0M174.4 944h0M173.8 1006.8h0M175.7 938.1h0M175.2 934.9h0M175.1 931.3h0M175 991.1h0M175.4 945.9h0M175.6 943h0M176.4 989.3h0M175.9 1002.9h0M175.8 1007.5h0M176.6 927.7h0M177.2 924.4h0M176.6 985.1h0M176.9 1004.9h0M176.7 1006.8h0M178 988.3h0M179.4 932.4h0M178.6 940.9h0M178.3 926.9h0M178.7 922.2h0M180.4 927.2h0M180.2 926.3h0M180.7 940h0M180.5 936.6h0M181.2 930.9h0M180.8 930.3h0M181.8 939.3h0M182.2 928.2h0M181.8 923.6h0M182 916.5h0M182 914.5h0M183 939.6h0M183 934.4h0M183.3 992.7h0M182.7 1005h0M182.7 1009.5h0M183.7 968.3h0M183.6 963.4h0M183.5 968.2h0M183.8 955.5h0M184.4 951.9h0M184.2 1008.7h0M184.4 1010.7h0M184.8 972.5h0M184.7 1000.3h0M185.5 976.9h0M187.1 978.4h0M186.8 967.9h0M186.8 961.3h0M186.7 959h0M188 1004.5h0M189.4 977.5h0M189.3 970.9h0M189.7 976.7h0M190.3 968.8h0M190.4 965.5h0M191 961.7h0M190.9 957.4h0M191.2 954.3h0M191 947.5h0M191.4 947.3h0M192 966.7h0M192 968.8h0M192 999.9h0M193.2 959.5h0M192.6 935.3h0M192.5 927.9h0M192.5 924.2h0M192.8 923.2h0M193.3 995.9h0M193.7 921.5h0M193.7 916.8h0M192.9 912.2h0M193.1 906.4h0M193.9 901.1h0M193.8 895.8h0M193.5 895.5h0M194.5 919.5h0M194.7 915.6h0M194.7 909.4h0M195 906.1h0M196.5 947.9h0M196.7 935.8h0M196.6 929.9h0M196 922.5h0M196.6 919.6h0M197.1 985.7h0M196.9 995.6h0M197.2 997h0M197.6 931.1h0M198 940.3h0M197.8 934.4h0M198.1 933.3h0M198 998.5h0M197.7 1003.2h0M198.1 1006.6h0M198.7 951.2h0M199.1 930.6h0M198.6 923.3h0M198.7 918.1h0M198.7 917.5h0M200.3 936.1h0M199.9 929.6h0M199.8 927.1h0M201.8 938.8h0M200.9 934.1h0M201.4 928.5h0M202.2 939.6h0M202.1 913.4h0M201.5 909.7h0M201.4 905.1h0M201.6 901.1h0M203.5 933.1h0M203.8 925.8h0M203.3 923h0M203.9 964.4h0M203.6 945.1h0M204.2 939.3h0M205.5 963.7h0M204.8 956.5h0M205.1 954.5h0M206.6 954.3h0M206 951.1h0M206.3 948.9h0M206.8 984.5h0M208 969.6h0M207.7 963.9h0M207.5 1012.5h0M208.9 1011.9h0M210.4 991.5h0M210.7 1015.7h0M212.3 1016.1h0M212.9 994h0M213.7 991.8h0M215.4 989.7h0M216.8 974.8h0M217.2 969.7h0M217.2 969.3h0M216.7 1014.7h0M218.2 970.7h0M217.9 1008.3h0M220.9 964.4h0M220.4 963.3h0M220.8 1004.9h0M222.3 977.2h0M222.8 959.5h0M222.7 955.6h0M222.6 952.8h0M224.3 974.5h0M224.6 973.1h0M224.5 962.8h0M225.1 955.3h0M224.7 953.1h0M226.6 955.9h0M227.5 944.9h0M227.3 939.6h0M227.1 998.4h0M227.7 1008.5h0M227.5 1011.2h0M228.1 954.7h0M227.1 1003.5h0M227.5 1007.8h0M227.5 1008.8h0M228.6 960.3h0M228.1 956.5h0M228.6 953.2h0M228.8 1008.2h0M229 1008.5h0M230.2 964.4h0M231.1 948.6h0M230.9 943.2h0M230.5 940.2h0M230.9 957.7h0M232.4 966.3h0M233.3 959.9h0M232.2 951.8h0M232.1 945h0M232.7 944.1h0M233.9 964.7h0M233.8 964.2h0M233.6 959.2h0M234.7 959.9h0M236.1 936.3h0M236 933.6h0M236.7 1004.5h0M236.1 1005.3h0M237.4 989h0M237 1003.8h0M238.2 950.4h0M238.5 953.3h0M237.5 943.5h0M238.3 936.3h0M237.7 932.5h0M237.9 1001.4h0M238 1004.3h0M239.1 1000.7h0M239.3 1003.6h0M241.8 952.2h0M241.8 950.2h0M241.8 993.9h0M243.2 965.6h0M243.1 961.6h0M243.5 945.9h0M243.3 940.7h0M244.5 964.9h0M244.5 994.2h0M246 948.5h0M245.2 944.8h0M245.5 943h0M245.9 981.7h0M246.4 998.5h0M246.2 999.9h0M246.6 924.1h0M247.2 991h0M247.4 997.6h0M247.4 999.6h0M247.9 902.4h0M248.1 980.3h0M247.9 985.8h0M247.7 987.6h0M248.6 895.8h0M248.9 884.5h0M249.3 882.8h0M248.6 878.6h0M249 873.5h0M249.7 869.3h0M249.1 862.2h0M248.7 970.2h0M248.4 974.4h0M248 979.1h0M248.2 986.3h0M248.6 990.6h0M250.1 866.2h0M250.1 859.4h0M250.2 854.6h0M249.7 850.9h0M249.7 846.7h0M250.8 876.2h0M251.3 863.6h0M251.2 857.2h0M251.3 853.3h0M251 979.5h0M251.4 983.5h0M251 988.5h0M251.5 992.4h0M252.2 863.7h0M252.2 942.5h0M252.3 955.2h0M252.9 959.5h0M252.2 962.9h0M253 967.2h0M252.9 971.5h0M252.5 972.3h0M252.6 888.8h0M253.1 881.6h0M253.3 888.3h0M252.6 876.4h0M252.6 872.9h0M253.4 866.5h0M253 865.1h0M254.1 894.9h0M254.1 875.7h0M253.7 871.3h0M254 866.2h0M253.7 866h0M253.7 976.1h0M253.7 983.2h0M253.8 988.4h0M254 988.9h0M255.3 892.7h0M254.8 886.2h0M254.3 879.3h0M254.8 873.8h0M254.5 974.4h0M254.6 980.1h0M254.5 983.8h0M255.9 903.9h0M255.6 907.8h0M255.5 904.3h0M256.5 901.2h0M256.4 895.5h0M256 891.1h0M255.7 980.1h0M256.2 980.5h0M257.5 922h0M256.9 903.9h0M257.2 896.9h0M257.1 893.4h0M257.2 886.7h0M256.8 883.3h0M257.4 987.9h0M257 993.4h0M256.9 994.2h0M257.7 929.3h0M258.6 903.9h0M257.7 900.5h0M258.3 893.8h0M258.1 893.6h0M258.8 924.8h0M258.6 897.6h0M258.8 891.4h0M258.9 885.1h0M258.4 878.5h0M258.5 871.3h0M258.8 870.8h0M260 910.2h0M260 918.3h0M260.1 985h0M260.5 985.3h0M261.2 924.4h0M261.3 903.5h0M261.3 895.5h0M260.4 892.5h0M261.4 887.4h0M261.1 884h0M261.5 879.1h0M260.9 879h0M262 918.2h0M261.9 889.6h0M262.5 884.8h0M262.1 880.9h0M261.8 989.7h0M261.6 994h0M262.2 999.7h0M261.7 1000h0M263.1 928.8h0M263.1 923h0M262.8 929.4h0M263.5 903.7h0M263.3 898.4h0M263.4 892.4h0M263.5 888.4h0M263.1 884.4h0M262.8 880.1h0M262.7 875.8h0M263.1 868.6h0M262.9 861.3h0M263.2 860.6h0M263 974.7h0M263.5 990.5h0M263.4 995.1h0M263 995.8h0M263.7 937.3h0M263.7 936.2h0M263.6 883.5h0M263.8 879h0M263.3 873.3h0M263.6 868h0M263.3 863.8h0M263.6 863h0M264.2 991.7h0M263.6 992.9h0M264.9 929.2h0M265.4 945h0M265.2 943.9h0M264.9 922.3h0M265.3 994.4h0M264.6 999.3h0M265 1000.5h0M266 956.1h0M265.9 921.4h0M265.4 914.7h0M265.4 909.6h0M266 905.7h0M266 902.4h0M265.6 898h0M265.8 891.8h0M265.6 1000h0M265.4 1003.7h0M265.5 1004.6h0M267 942.6h0M266.5 923.9h0M266.2 918.7h0M267 912.6h0M266.6 909.5h0M266.2 905.1h0M266.3 898.8h0M266.8 894.4h0M267 993.8h0M268.1 962.4h0M268.6 931.3h0M268.3 924.6h0M268.4 917.3h0M268.3 912.9h0M268.4 908.3h0M268 901h0M268.4 896.5h0M267.6 995.2h0M267.5 996.3h0M268.6 972.5h0M269.2 941.1h0M269.6 936.6h0M269.2 931.7h0M270.2 944.4h0M270 961.3h0M270 957.7h0M270.4 941.4h0M270.3 934.3h0M269.4 930h0M269.6 925.5h0M270.3 921.5h0M269.4 918h0M269.9 913.9h0M270.9 946.3h0M270.7 935.9h0M270.7 930.8h0M271.1 923.4h0M270.8 921.4h0M272.8 929.4h0M272.6 925.6h0M272 922.3h0M272.2 918.8h0M272 915.6h0M272.3 913.4h0M272.2 991.3h0M273.7 993.2h0M273.4 995.6h0M274.2 934.3h0M274 926.1h0M274.3 934.6h0M274.2 990h0M274.5 991h0M275.2 909.2h0M275.4 904h0M275.1 897.5h0M275.1 890.8h0M274 979.5h0M274.7 983.3h0M274.6 987.9h0M275.9 983.3h0M276.1 989.5h0M276.3 992h0M276.8 917.7h0M276.4 894.1h0M277 888.1h0M277 887.8h0M276.8 980.8h0M276.6 987.5h0M276 991.7h0M277.1 995.8h0M276.6 999.6h0M277.8 979.8h0M277.6 982h0M278.8 910.9h0M278.3 898.2h0M279.2 892.2h0M278.7 888.5h0M279.2 884.6h0M278.8 883.8h0M279.2 960.8h0M279.1 982.8h0M278.4 987h0M279.3 990.2h0M278.8 991h0M280.3 896.6h0M280.2 892.1h0M280.3 890h0M280.9 920.8h0M281.3 908.1h0M280.8 902.5h0M281.1 898.3h0M281.9 987.2h0M281.5 990.6h0M282.3 911.8h0M281.8 906.4h0M282.2 901.2h0M281.8 897.7h0M282.3 897h0M283.8 915h0M283.9 911.2h0M283.9 904.5h0M283.3 899.6h0M283.3 896.9h0M282.5 983.6h0M282.9 987.1h0M284.2 934.2h0M284.3 917.3h0M284.3 911.1h0M285.3 924.1h0M284.7 926.7h0M285.3 920.8h0M284.9 914.9h0M285.2 912.7h0M285.2 998.1h0M285.4 998.7h0M286 940.2h0M286 977.7h0M287.4 979h0M287.2 991.4h0M286.6 995h0M288.1 907.8h0M287.5 900.8h0M288.4 894.5h0M288 890.6h0M287.9 889.5h0M289.1 935.3h0M289.1 927.6h0M288.7 934.2h0M289.3 922h0M289.3 916.4h0M289.9 904h0M290.1 899.3h0M289.1 892.9h0M289.5 891.3h0M289.8 970.8h0M289.6 980.6h0M289.7 983.5h0M291.5 905.4h0M291.1 902h0M291.7 896.2h0M291.7 890.3h0M291.2 888.3h0M291.9 891.1h0M291 885h0M292 881.3h0M291.7 878h0M291.5 873.5h0M292 868.3h0M291.6 861.8h0M291.6 964.5h0M292.1 978.4h0M291.8 982.6h0M291.6 984.1h0M293.9 875.7h0M294.3 868.9h0M294 867.4h0M293.4 972h0M293.8 976.1h0M293.6 977.7h0M294.8 892.8h0M295.4 948.5h0M295.8 889.9h0M296.3 884.8h0M295.5 894h0M296.6 870.6h0M296.2 865.5h0M295.7 861.4h0M295.7 854.4h0M296.6 847.1h0M296.5 843.7h0M296.1 842.4h0M296.2 945.7h0M296.4 971.9h0M295.9 977.5h0M297.1 881.4h0M297 869.8h0M296.8 863.7h0M296.4 857.9h0M296.7 853.3h0M296.5 846.4h0M296.7 840.7h0M296.9 967.1h0M296.9 974.4h0M296.6 978.1h0M297.6 874.6h0M297.8 871.2h0M297.7 866.3h0M298 862.8h0M298.1 855.9h0M297.8 949.9h0M297.9 968.4h0M297.9 972.9h0M297.5 976.2h0M297.1 979.4h0M297.7 982.9h0M299.5 875.6h0M299.1 870.5h0M298.6 961.6h0M299.3 965.1h0M298.7 967h0M300 895.9h0M299.3 865.5h0M299.6 862.1h0M299.8 855.7h0M299 849.3h0M299.8 842.8h0M300 837.3h0M299.5 833.9h0M299.6 833.1h0M300 951.1h0M299.7 977.8h0M299.8 981.2h0M300.2 987.9h0M300 989.8h0M300.9 914.2h0M301 876.9h0M300.9 873.7h0M301.1 869.8h0M300.6 862.6h0M300.9 858.9h0M301 855.7h0M300.8 853.4h0M301 976.2h0M301.2 982.5h0M301.3 983.2h0M301.8 921.3h0M302 889.6h0M302.5 884.6h0M302.7 880.3h0M302.5 873.6h0M302.4 869.8h0M301.6 865.9h0M301.8 861h0M302.4 854.6h0M302.2 853.8h0M301.9 962.7h0M302 976.3h0M302 979.4h0M301.9 982.4h0M302.5 989.1h0M302.5 990.4h0M303.6 908.8h0M303 902.9h0M303.3 902.7h0M303.1 967.8h0M303.8 979.3h0M303.4 981.9h0M303.7 911.3h0M304.1 929.6h0M304.1 909.3h0M303.6 904.3h0M303.7 897.9h0M303.8 891.8h0M304.7 888.3h0M304.1 883.8h0M304.2 877.8h0M304.1 873.1h0M303.9 981.5h0M303.8 983.7h0M304.6 929.2h0M304.9 971.2h0M305.4 979.2h0M305 983.7h0M305.4 986.6h0M305.6 896.7h0M305.7 889.6h0M306.1 882.2h0M306.2 878.5h0M305.9 872.1h0M306 870.9h0M306.5 895.1h0M307.6 890.7h0M306.6 884h0M306.8 880.1h0M307.1 878.6h0M307.2 985.9h0M307.4 992.1h0M307.1 992.9h0M308 917.7h0M308.5 913.4h0M308.5 984h0M307.9 984.7h0M309.3 923.7h0M308.6 903.6h0M309.8 888.6h0M309.4 881.8h0M309.5 880h0M309.9 980.1h0M309.7 984.8h0M309.2 989.9h0M308.8 994.3h0M309.3 995.8h0M310.8 903.9h0M310.9 899.6h0M310.2 895h0M310.5 890.2h0M310.4 885.2h0M309.7 990.3h0M309.3 993.8h0M309.9 996.5h0M310.4 918.3h0M310.6 916.5h0M311.4 969h0M312 931.3h0M312.2 920.3h0M311.9 917.2h0M311.8 976.1h0M312.8 922.6h0M313.6 915.2h0M313 911.4h0M313.1 908.1h0M313.4 985.1h0M312.7 989.5h0M313.1 993.2h0M313 994.4h0M314.4 934.8h0M313.8 936.1h0M314.3 925.5h0M313.6 923.8h0M314.2 920.6h0M313.7 913.1h0M313.8 909h0M314.1 991.8h0M313.6 994h0M314.8 936.1h0M315.2 928.6h0M315.3 911.8h0M315.4 909h0M316.4 935.9h0M315.6 922.9h0M316.1 918.3h0M316.2 917.3h0M316.2 974.5h0M316.1 989.2h0M315.7 995.1h0M318.3 934.1h0M317.7 932.2h0M317.6 928h0M317.6 922h0M317.9 921.7h0M318.5 975.6h0M318.9 933h0M318.9 908.5h0M318.5 902.3h0M319 900.1h0M320.5 995.9h0M320 999.4h0M320.9 934.6h0M320.8 924h0M320.5 920.4h0M321.4 913.9h0M321.2 908.5h0M320.8 908.4h0M320.8 979.3h0M321.1 981.3h0M320.7 995.4h0M320.7 1001.9h0M322.2 937.6h0M321.5 929.5h0M321.6 928.3h0M321.8 924.8h0M321.8 920.6h0M323.5 994.7h0M323.8 933.4h0M324.2 936.1h0M324.6 919.4h0M324.7 916.1h0M323.8 910.9h0M323.6 907.7h0M324.1 900.3h0M324.2 899.8h0M323.9 976.9h0M323.9 991h0M324.2 995.7h0M324.2 999.2h0M325 970.3h0M324.7 984.5h0M324.9 986.2h0M326.2 893.3h0M325.9 889.7h0M325.9 884.8h0M326.4 878.3h0M326.2 871.7h0M325.8 865.8h0M326.2 861.7h0M325.9 861h0M326.2 979.6h0M325.9 983.6h0M325.4 990.3h0M325.9 991.1h0M326.8 861.3h0M326.2 853.9h0M326.4 850.1h0M327.1 844.1h0M326.9 837.9h0M327.1 832.3h0M326.6 832h0M326.5 985.5h0M327 990.4h0M327.6 901.8h0M327.7 883.5h0M327.7 843.9h0M328.1 839.5h0M327.8 834.8h0M328.2 829.2h0M327.4 822h0M328.1 818.3h0M327.3 814.9h0M327.7 812.7h0M327.9 954.2h0M328.3 955h0M327.4 980.4h0M328 984.6h0M327.6 988.4h0M329.2 897.3h0M329.9 877.8h0M329.8 890.2h0M329.4 886.1h0M329.9 882.8h0M329.6 968.3h0M329.9 971.6h0M330.8 901.6h0M331.5 896.4h0M331.2 887.8h0M330.8 886.7h0M330.9 974.1h0M332.2 873.1h0M332 869.9h0M332.3 863.2h0M331.1 857.6h0M332.2 852.8h0M331.3 846.5h0M332.3 840.4h0M331.2 836.8h0M331.8 830.9h0M331.7 826.1h0M332.2 977.7h0M332.3 981.3h0M332.3 988.5h0M332.5 992.5h0M332.6 995.5h0M332.3 997.6h0M332.9 880.4h0M332.9 876.7h0M333.4 872.7h0M333.9 868.7h0M332.9 863.5h0M333 857.8h0M333.5 851.7h0M333.3 848.3h0M333.1 973.9h0M333.1 977.1h0M334.3 900h0M333.9 894.8h0M334.1 888.8h0M334.6 882.8h0M334.3 878.4h0M334.2 875.3h0M334.3 993.5h0M333.8 998.5h0M334 1003.8h0M334.1 1005.6h0M334.6 930.4h0M334.1 903.4h0M334.9 899.7h0M334.5 895.8h0M334.2 891.7h0M335 886.9h0M334.2 880.4h0M334.7 875.2h0M335.9 917.8h0M336.1 914.1h0M336.4 907h0M336.5 903.9h0M335.9 903.2h0M336.3 995.3h0M336.9 941h0M336.7 945.3h0M337 944.5h0M337.9 914.4h0M338 907.9h0M338.5 900.6h0M338.4 894h0M338.2 891.2h0M337.8 1005h0M337.8 1006.3h0M338.6 944.8h0M338.7 946.6h0M340.4 952.2h0M339.5 952.2h0M340.1 936h0M339.7 920.3h0M340 915.7h0M340.2 908.3h0M339.8 904h0M339.7 902.3h0M340 988.6h0M340.5 948.1h0M342.1 941.2h0M341.5 946.1h0M342 940.4h0M342 994.6h0M342.3 998.5h0M342.1 999.7h0M342.7 952.1h0M343.2 945.9h0M343.2 1002.8h0M343.1 1006.1h0M343.8 940.9h0M343.6 929.2h0M344.3 922.6h0M344.4 919.6h0M343.9 917.6h0M343.6 997.3h0M344 999.1h0M344.9 943.4h0M345.1 937.1h0M345.4 989.5h0M345.2 1001.9h0M345.2 1005.8h0M346.3 1002.4h0M346.5 1003.4h0M347.5 938.7h0M346.6 931.5h0M347.2 924.5h0M347.1 922.8h0M347.9 948.1h0M347.5 947.4h0M347.7 941.3h0M347.1 934.2h0M347.6 929.4h0M347.9 1001.4h0M347.7 1001.7h0M348.9 954.5h0M348.1 941.1h0M348.6 938h0M348.2 934.6h0M349.1 928.4h0M348.5 926.4h0M348.4 1001.6h0M349 1003.3h0M349.8 958.5h0M349.8 940h0M349.3 934h0M349.3 929.2h0M349.9 927.4h0M351.1 965.1h0M351 950.2h0M351 946.5h0M351 943.6h0M351 1004.1h0M351.3 1007.6h0M352.2 995.3h0M352.2 997.2h0M353.2 959.3h0M353.4 954.4h0M353.1 947.3h0M353.3 943.6h0M353.7 937.9h0M352.8 934.4h0M353.3 933.6h0M352.8 995.5h0M353.7 961.4h0M354.3 959.9h0M355 957.2h0M354.4 951.8h0M353.8 998.1h0M354.7 1008.6h0M354.2 1011.4h0M355.1 954.9h0M354.7 964.5h0M356.3 971.6h0M355.9 960.1h0M355.4 948.7h0M356 942.9h0M357 949.2h0M357.2 945.4h0M357.2 941.1h0M357.2 996.8h0M356.4 1009.3h0M356.5 1010.4h0M357.7 1010h0M359.2 967.7h0M359.6 992.2h0M360.1 992.3h0M360.2 1002.3h0M360.2 1005.2h0M360.9 962.1h0M360.8 962.6h0M362.4 958.7h0M361.7 994.4h0M362.5 947.5h0M363.4 950h0M363.2 947.9h0M362.3 1002.2h0M362.7 1004.5h0M364.6 955h0M365.9 999h0M365.4 1001.8h0M366.1 928.6h0M365.7 922.5h0M365.9 918h0M366.4 1002.7h0M365.9 1003.1h0M366.8 941.1h0M367.2 912.4h0M366.8 908.2h0M366.6 903.4h0M367.1 988.3h0M367.3 992.3h0M368.1 933.7h0M368.4 975.8h0M367.6 984.5h0M367.9 988h0M368.6 891.7h0M368.8 885.3h0M369.1 880.8h0M369.5 970h0M369.7 914.2h0M369.8 901.2h0M371 905.5h0M370.9 902.3h0M370.5 896.1h0M370.1 980.9h0M370.1 984.3h0M369 987.8h0M369.2 991.8h0M369.5 995.1h0M370.5 902.4h0M370.4 904.3h0M370.8 898h0M370.5 976.7h0M371.4 979.8h0M371.5 983.1h0M371.3 989.8h0M371 992.3h0M371.3 873.9h0M371.4 866.6h0M371.6 863.2h0M372.3 857.1h0M371.6 849.8h0M371.9 844.6h0M372 837.8h0M371.8 832.7h0M372.4 959.9h0M372.1 988.5h0M372.1 996h0M371.9 999.7h0M372.9 969.9h0M373.5 977.2h0M373.4 980.7h0M373.1 872.2h0M373.6 869.1h0M374.2 862.2h0M373.7 858.6h0M373.3 851.5h0M373.7 848.8h0M374.4 961.6h0M373.6 970.3h0M373.8 974h0M375.6 867.1h0M375.1 863.2h0M374.5 856h0M375.2 853h0M375 846.5h0M375.5 965h0M374.5 987.4h0M374.3 990.9h0M374.9 995h0M375.6 924.3h0M376 874.7h0M376.1 867.4h0M375.9 860h0M376.5 855.8h0M375.8 851.8h0M376.3 846.1h0M375.8 980.3h0M375.8 985h0M375.1 990.9h0M375.5 993.4h0M377.4 933.9h0M376.7 913.9h0M377.5 980.3h0M377.2 983.6h0M377.2 987.4h0M378.8 918.4h0M378.5 913.8h0M378.5 907.6h0M378.4 904.9h0M378.6 940.6h0M378.5 930.3h0M378.5 914.5h0M379.2 909h0M379.3 904.8h0M378.5 899.4h0M378.5 894.9h0M379.1 891.8h0M378.7 887h0M378.6 881.8h0M378.8 879.6h0M379.9 920.4h0M379 916.3h0M379.6 910.9h0M379.6 908h0M380.2 993.9h0M380.1 998.8h0M380 1000h0M380 930.6h0M380.7 925.4h0M381 921.6h0M380.6 916.4h0M380.8 909.8h0M380.5 907.1h0M381 994.6h0M380.9 1000.8h0M382 899h0M381.7 895.2h0M381.5 889.7h0M382.3 886.7h0M382.3 883h0M382.6 878.1h0M382.1 873.7h0M382.7 991.2h0M381.9 995h0M382.5 995.5h0M383 919.6h0M383.2 916.5h0M383 914.9h0M383 995.5h0M383.2 999.1h0M382.8 1003.5h0M384 898.3h0M385 894.5h0M383.9 887.2h0M384.7 881.8h0M384.5 877.1h0M384.5 983.1h0M383.5 987.8h0M383.9 988.2h0M385.4 911.7h0M385 905.2h0M385 964.8h0M386.7 982.3h0M385.8 988.7h0M386.5 995.2h0M386.2 1001h0M386.3 1001.7h0M387 876.6h0M386.1 840.2h0M386.2 836.8h0M386.7 830.6h0M388.1 849.8h0M387.7 858.1h0M388.9 837.8h0M388.7 833.5h0M388.3 830.1h0M388.4 824.1h0M388.4 822.1h0M388.9 981.1h0M388 987.5h0M388.7 994.3h0M388.4 996.1h0M388.6 854h0M388.6 956.1h0M388.7 960h0M388.8 963.4h0M389.3 967.7h0M389.2 972.7h0M388.7 979.1h0M388.7 983.1h0M389.1 986.3h0M389.1 991.8h0M389.6 847.1h0M389.6 847h0M389.3 837.5h0M389.9 831.7h0M389.3 825.6h0M389.8 821.6h0M389.4 968.5h0M389.5 973h0M389.3 977.7h0M390 983.5h0M389.8 986.7h0M389.2 993.6h0M389.8 997.5h0M389.5 1001.1h0M390 1005.7h0M389.8 1005.9h0M391.6 841.1h0M391 837.3h0M390.9 832.4h0M391.5 826.6h0M390.9 823.2h0M390.9 819.1h0M391.4 812h0M391.4 965.8h0M390.6 969.5h0M391.3 973.2h0M391.2 978.2h0M391.6 984.7h0M391.1 990.8h0M390.8 996.4h0M391.1 997h0M392.1 864.4h0M391.6 876.7h0M391.3 853.5h0M391.5 846.2h0M391.7 843.8h0M392.5 985.6h0M392.7 991.7h0M392.5 996.7h0M392.6 1002.3h0M392.4 1003h0M393.2 895.3h0M393 865.9h0M392.9 861.1h0M392.7 856.7h0M393 849.9h0M393 842.9h0M392.7 839h0M393.1 835.3h0M392.6 833.8h0M394.1 916.7h0M394.3 889.5h0M393.6 883.3h0M394.1 878.4h0M394.2 874.4h0M394.2 868.3h0M394.2 864.1h0M393.5 860.4h0M393.7 854.8h0M394 854.5h0M394.2 987.6h0M393.9 991.9h0M394.4 995h0M394.6 940.8h0M394.9 906.4h0M394.6 899.7h0M395.1 893.8h0M394.9 888h0M394.2 880.7h0M394.3 875.1h0M394.7 871.6h0M395.2 867.7h0M394.8 864h0M395.5 979.3h0M395.9 914.6h0M396.7 907.8h0M396.6 900.6h0M396.9 895.4h0M396.9 891.4h0M396.1 888.3h0M396 882.7h0M396.3 881.5h0M396.2 984.9h0M397.5 964.7h0M397.4 962.6h0M396.7 900h0M396.4 896.4h0M396.7 892.8h0M396.8 886.4h0M396.5 879.8h0M396.4 872.6h0M396.9 868.3h0M396.7 866.1h0M398.4 963.3h0M397.5 956.1h0M398.5 969.7h0M398.4 954.7h0M397.8 950.2h0M398.5 946.8h0M398.5 940.6h0M398.3 936.4h0M398.2 934.8h0M399.5 965.2h0M399 947.7h0M398.9 944.6h0M399.4 941.6h0M399 936.7h0M398.8 935.7h0M398.7 991.1h0M399.7 931.4h0M399.8 927.6h0M400.8 924.4h0M400.2 919.3h0M400.6 913.6h0M400.2 907h0M401 938.4h0M400.6 932.8h0M401.2 931h0M402.7 935h0M402.1 929.5h0M402.2 923.8h0M402.2 918.1h0M402.3 915h0M401.7 994.8h0M401.8 996.5h0M403.2 918.3h0M404 913.1h0M403.5 912.1h0M403.9 904.1h0M403.9 900.8h0M404.4 897.2h0M404 893h0M403.9 889.4h0M405 925.6h0M404.9 911.2h0M405.3 905h0M404.7 900.3h0M405.3 893h0M405 889.9h0M404 988.9h0M404.6 991.5h0M406 907.1h0M405.9 901.7h0M406.8 898.5h0M406.4 892.2h0M406.2 888.7h0M406.5 884.4h0M406.5 980.9h0M406 986.8h0M406.3 990h0M406.5 990.9h0M408.3 898.4h0M407.6 892.9h0M408.3 887.5h0M407.6 881.5h0M407.6 874.1h0M408.3 869.8h0M408.1 865.5h0M407.4 861.7h0M407.9 860h0M408.3 987.2h0M408.5 992h0M408 992.9h0M408.6 929.1h0M408.7 905.7h0M409.1 901.9h0M409.5 898h0M409.3 895.8h0M408.8 987.4h0M408.6 994h0M409 997.2h0M410.1 894.3h0M410.1 888.5h0M410.6 884.6h0M410.7 878.6h0M410 871.5h0M409.8 868.2h0M410.1 864.3h0M410.4 862.8h0M409.5 983.7h0M410.1 984.7h0M411.2 932.2h0M410.9 906.4h0M410.7 900.6h0M410.7 897.3h0M411.2 897.2h0M410.7 973.3h0M412.1 933.8h0M412.4 925.6h0M412 922h0M412.4 980.6h0M411.6 977.8h0M413.2 932.5h0M413.3 930.7h0M413.5 942.9h0M412.8 896.1h0M413.1 892.5h0M413.3 889.4h0M412.5 883.3h0M412.5 877h0M412.6 872h0M412.7 870.4h0M413.5 992.3h0M413.9 996.6h0M413.4 999.8h0M414.1 947.8h0M413.2 927.7h0M413.7 922.7h0M414.7 943h0M415.2 933.9h0M414.4 922h0M414.6 915.6h0M414.1 909.3h0M414.1 902.3h0M414.6 898.2h0M414.8 982.9h0M416.2 931h0M416.3 942.8h0M415.9 902.8h0M416 899.4h0M415.7 895.3h0M415.6 891.7h0M415.6 884.6h0M415.9 877.8h0M415.7 874.5h0M415.6 870.1h0M415.9 995.4h0M415.9 996.4h0M417.4 941.7h0M416.8 987.8h0M417.8 994h0M417.4 997.2h0M418.1 899.6h0M418.2 893.2h0M418.4 885.8h0M417.6 880.7h0M418.6 876.7h0M418.5 870.1h0M418.1 868.7h0M418.6 992.1h0M418.8 994h0M419.8 899.6h0M419.8 894.5h0M419.9 887.4h0M419.4 881.1h0M419.8 879.1h0M420.8 949h0M420.7 945.4h0M421.4 925.7h0M421.4 922h0M422.1 936.3h0M421.6 932.6h0M421.8 932.6h0M421.3 991.4h0M421.7 994.3h0M422.6 953.3h0M422.5 935.1h0M422.6 931.1h0M423.1 928h0M423 924.4h0M422.9 924.3h0M424.3 929.3h0M423.8 922.4h0M423.8 915.2h0M424.6 910h0M423.6 905.7h0M424 904.1h0M424.6 960.1h0M425.2 957.9h0M425.4 957.2h0M425 938.2h0M424.7 931.7h0M424.9 928.1h0M424.6 922h0M426.4 925h0M426.2 919.8h0M426.4 915.4h0M426.2 910.3h0M426.3 939.8h0M426.6 934.4h0M426.2 929.5h0M426.5 929.4h0M427.6 937.7h0M427.7 937.6h0M429.4 951.7h0M429 950h0M429.2 934.3h0M429.3 987h0M430.5 947.7h0M429.8 938.3h0M429.6 933.9h0M430 927h0M430.2 985h0M431 944.9h0M431 928.5h0M431.3 922.3h0M431.8 917.7h0M431.3 911.4h0M430.7 908h0M431.3 902.1h0M431.2 901.7h0M431.6 905.5h0M431.8 898.3h0M431.7 894.7h0M431.8 891.6h0M432.1 890.3h0M432.1 991.7h0M431.8 994.7h0M433.4 913h0M433.8 908.3h0M433.4 904.3h0M434.4 912.4h0M434.9 905.7h0M434.8 900.1h0M434.4 899.1h0M433.9 993.2h0M434.4 995.6h0M435 905.4h0M434.2 898h0M435.4 892.6h0M434.8 888.1h0M436 930.5h0M436.5 901.9h0M436.4 897.4h0M435.6 894.1h0M436.1 889.7h0M436.1 978.7h0M436.2 977h0M436.1 990.1h0M436.3 993.7h0M436.3 997.4h0M436.4 998.6h0M436.5 911h0M436.4 904.7h0M436.9 898.8h0M436.4 988.4h0M436.8 993.8h0M438.3 994.7h0M438.6 998.7h0M439.7 948.5h0M440.4 942.1h0M440.8 918.7h0M440.5 913.9h0M440.2 909.1h0M440.7 918.3h0M440.7 913.5h0M440.4 909.7h0M440.4 902.3h0M441.1 898.6h0M441.4 894.4h0M441 891.2h0M441.8 943.6h0M441.8 949h0M441.5 941.7h0M442.3 949h0M442.3 948.9h0M441.5 946.6h0M443 933.4h0M442.9 940h0M443 936h0M443 928.8h0M443 924.2h0M442.6 923.1h0M444.7 922.7h0M444.2 917.3h0M444.4 912.8h0M444.8 909.2h0M444.9 904h0M444.3 901.9h0M444.1 995.1h0M444.1 997.2h0M445.1 930h0M444.3 913.2h0M445 906.3h0M445.2 900.6h0M445.1 895.8h0M444.9 892h0M444.7 887.3h0M444.4 990.5h0M445.3 996.1h0M444.7 997.1h0M445.9 938h0M446.1 942.9h0M445.8 945.8h0M446.3 943.8h0M447.1 940.7h0M447.2 924.7h0M446.8 920.6h0M447.2 913.4h0M446.8 907.3h0M447.1 904.1h0M446.9 900.6h0M446.6 995.3h0M446.6 996.3h0M447.8 982.7h0M448.7 933.9h0M449.8 919.8h0M449.3 916.1h0M449.6 910.6h0M448.8 906.2h0M449.5 901h0M449.3 895.9h0M449.1 996.9h0M448.6 998.4h0M449.8 943.1h0M450 915.2h0M450.3 907.8h0M450.4 903.9h0M451.1 925.5h0M450.5 920.3h0M450.4 915.2h0M450.6 909h0M451 908.2h0M451.3 992.3h0M451.1 995.9h0M452.2 948.1h0M451.9 942.1h0M452.2 943.9h0M452.7 928.9h0M452.4 925.8h0M452.7 921h0M452.3 917h0M452.2 990.2h0M452 994.6h0M452.3 999.4h0M453.4 928.4h0M453.1 924.6h0M453.3 919.7h0M453.1 918.9h0M452.7 994.6h0M453 999.2h0M454.2 922.4h0M453 929.1h0M454 924.3h0M453.7 919.2h0M453.6 917.9h0M453.7 995.4h0M453.5 997.7h0M454.4 908.1h0M454.3 904.2h0M454.7 899.3h0M454.9 898.6h0M456 928h0M456 918.6h0M456.4 912.1h0M456.7 907.3h0M456.2 906.1h0M455.9 970.6h0M455.7 990.6h0M455.9 996.3h0M456.6 858.1h0M457.6 852.4h0M457.4 845.7h0M456.8 838.9h0M457.2 836.8h0M457.3 888.7h0M457.5 885.4h0M458.2 881.5h0M457.6 877.3h0M457.6 983.5h0M457.5 989h0M458.2 993.2h0M457.8 999.2h0M458.6 874.8h0M458.4 868h0M458.8 862.7h0M458.6 858.8h0M458.9 853.3h0M459.4 849.7h0M459 842.6h0M459.2 836.1h0M458.9 833.1h0M458.6 989h0M458.8 994.4h0M458.3 997.6h0M458.7 1003.2h0M460.4 899.2h0M460.2 872.7h0M460.9 869.6h0M460.5 862.2h0M461 858.8h0M459.9 855.4h0M460.1 851.6h0M461 844.5h0M460.4 838.2h0M459.9 960.7h0M459.9 977.5h0M459.7 981.7h0M460.1 985.5h0M459.4 988.7h0M459.8 989.8h0M460.5 884.6h0M461.1 881h0M460.3 876.9h0M460.9 869.8h0M460.4 864.1h0M460.9 860.8h0M460.6 859.2h0M461.9 897.9h0M461.8 898.3h0M462.5 908.5h0M462.2 904.3h0M462.2 906.2h0M462.1 898.2h0M461.7 892.3h0M461.8 888.1h0M462.6 978.9h0M462.2 983.6h0M462 987.5h0M462.5 917.2h0M462.6 878.4h0M463 873.8h0M462.7 869.7h0M463.3 866.6h0M463 863h0M464.1 918.7h0M464.7 887.3h0M464.7 882.1h0M464.3 876.7h0M463.6 986.1h0M464.1 989.9h0M463.6 996.3h0M463.6 1000.7h0M465.6 876.4h0M465.7 873.3h0M465.5 868.6h0M465.2 863.3h0M465.2 982.7h0M465.1 988h0M464.8 990.5h0M466.5 891.9h0M466.2 885.8h0M465.7 878.7h0M465.8 875.5h0M466.2 871.5h0M466.3 867h0M465.9 866.2h0M465.7 984.3h0M465.7 988h0M467 983.7h0M466.7 987h0M466.5 991h0M466.5 995.6h0M468 901.6h0M468.1 880.6h0M467 874.1h0M467.5 871h0M467.7 985.4h0M467.7 988.7h0M467.8 993.5h0M468.8 891.8h0M469.1 857.1h0M469.6 854h0M468.8 851h0M468.7 845.4h0M469.2 842.1h0M470.4 849.7h0M469.9 843.8h0M470.2 842h0M470.7 970.8h0M469.9 973.9h0M470.2 977.9h0M471 870.3h0M471.2 826.6h0M470.8 823.5h0M471.5 818.8h0M471.6 815.1h0M471.3 809.1h0M471.2 808.3h0M471.8 862h0M471.7 837.8h0M471.4 831.2h0M471.8 825.8h0M472.3 819.3h0M472 814.1h0M471.8 934.3h0M472.4 933.2h0M471.4 953.7h0M471.7 958h0M471.4 961.1h0M471.5 966.6h0M472 972.4h0M472.5 976.4h0M471.9 976.6h0M473.3 862.6h0M473.3 855.4h0M472.8 857.3h0M473.7 830.6h0M473.4 825.2h0M472.9 932.2h0M472.5 932.4h0M473.4 961.2h0M473.3 964.3h0M473 968.9h0M473.3 973h0M473.1 977.2h0M473.8 980.5h0M473.4 983.9h0M474.2 867.3h0M474.7 854.8h0M474.1 848.3h0M473.6 939.4h0M473.8 949.2h0M473.9 953.6h0M473.8 960.9h0M473.8 965.6h0M473.8 969.9h0M473.9 969.9h0M475.3 880.2h0M475.4 811.9h0M475.6 806.4h0M475.4 802.5h0M475 795.3h0M475.2 788.5h0M475.4 786.9h0M474.5 951.6h0M475.1 954.6h0M474.7 955.3h0M476.2 828.3h0M476.5 821h0M476.1 816.9h0M476.7 810.7h0M476.5 806.7h0M476.5 803.7h0M476 960.1h0M475.6 965.1h0M475.6 966.9h0M476.6 858.2h0M476.3 852.7h0M476.7 847.9h0M477 840.5h0M476.8 836.2h0M476.1 832.7h0M476 826.5h0M476.5 823.3h0M478.2 911.9h0M478 917.2h0M478 847.8h0M477.4 842.3h0M478 835.5h0M477.6 829.6h0M477.4 826.2h0M478.2 822.3h0M477.4 819h0M478.1 815h0M478 811.6h0M477.3 808.2h0M477.4 800.9h0M477.6 795.7h0M477.8 794.5h0M478.1 972.3h0M478.4 975.5h0M478.5 855.6h0M479.1 850.7h0M479 843.8h0M479.1 837.8h0M479.3 831.4h0M479 827.5h0M478.9 824h0M479.2 817.1h0M479.5 811.4h0M479 808.4h0M478.9 807.4h0M479.1 975.8h0M479.6 979.8h0M479.4 980.1h0M480.1 936.4h0M480.3 918.3h0M480.5 884.4h0M480.2 879h0M479.5 872.8h0M479.6 867.3h0M480.4 863h0M479.7 856h0M479.6 850.3h0M479.8 843.9h0M479.8 839.9h0M479.7 832.6h0M479.9 827.4h0M480.1 826.6h0M479.5 972.1h0M481.1 917.9h0M481.6 912.4h0M481.5 908.7h0M480.8 902.5h0M481 898.9h0M481.7 923.9h0M481.6 871.2h0M481.5 864.8h0M482.4 859.9h0M481.5 854.2h0M482.6 850.5h0M482 847.2h0M483.2 927h0M483.4 903.1h0M483.7 899.3h0M483.7 894.6h0M482.9 889.4h0M483.8 883.5h0M483.2 879.6h0M483 876.3h0M483.6 870.4h0M483.3 865.7h0M482.7 988.6h0M482.8 991.8h0M484.2 924.1h0M484.7 909.7h0M484.2 905h0M483.9 985.1h0M483.6 985.9h0M484.5 903.1h0M484.3 898.1h0M484.7 893.7h0M485.5 990h0M484.9 995.2h0M485.2 999.4h0M485.1 1002.3h0M486.4 923.4h0M485.5 921.5h0M486.9 891.5h0M486.3 888.4h0M486.5 883.5h0M485.7 990.2h0M485.6 996h0M485.7 1002.8h0M486.7 910.9h0M487.6 883.1h0M487.7 876.7h0M486.9 871.3h0M487.5 866.1h0M487.8 901.2h0M488.4 986h0M488.2 990.6h0M487.8 997.2h0M488.4 1001.3h0M488 1002.8h0M489.5 897.5h0M489.3 898.9h0M488.6 873.5h0M489 867.8h0M488.9 861.4h0M488.6 858.3h0M488.7 854.9h0M488.6 851.8h0M488.5 848.3h0M488.1 842.6h0M488 835.9h0M488.5 833.6h0M488.8 973.5h0M489 976.7h0M490.1 904.2h0M490.5 884.6h0M489.4 883.6h0M489.8 879.3h0M489.6 874.8h0M489.6 870.7h0M489.6 869.8h0M490.1 956.9h0M489.6 984.4h0M489.4 990.2h0M489.2 997.4h0M489.6 1000.6h0M490.8 899.2h0M490.7 838.7h0M490.2 833.5h0M490.1 827h0M490.4 823.4h0M490.3 816.4h0M490.6 814.9h0M491.9 905.5h0M491.5 906.9h0M491.5 854.6h0M491.5 848.3h0M491.6 843.4h0M491.4 838.5h0M491.3 831.8h0M491.7 826.9h0M491.6 822.9h0M492.6 907.1h0M492.6 909.5h0M492.4 875.1h0M492.7 868.5h0M492.8 864.5h0M493.3 976.9h0M493.4 981.5h0M492.6 985.6h0M492.8 989h0M492.7 994h0M492.9 994.1h0M494.2 884h0M493.8 880h0M493.9 873.6h0M495.3 913.4h0M495.8 892.1h0M494.9 886.3h0M495.3 882.2h0M495.3 878.9h0M495.7 873.5h0M494.8 870.2h0M495.2 866.2h0M495.4 862h0M495.4 859.2h0M495.4 993.3h0M494.9 999.5h0M495.2 1001.1h0M495.9 929.6h0M495.7 902.8h0M496.4 897.2h0M496.1 890.2h0M495.8 887h0M496.5 881.5h0M496.1 878.4h0M496.2 987.4h0M496.3 994.1h0M496.5 1000.6h0M498.4 915.1h0M497.8 920.6h0M498.6 884.6h0M498.4 881.1h0M498.3 877.3h0M498.3 871.9h0M498.8 867.2h0M498.3 862.3h0M498.3 860.9h0M498.2 969.1h0M498.4 973.8h0M498.3 979.4h0M497.3 985.8h0M497.7 989.4h0M499.4 883.6h0M499.4 878h0M498.9 872h0M499.1 868.1h0M499.2 864.3h0M499.6 860.3h0M499 855.9h0M498.6 963.5h0M500.4 901.7h0M500.3 886.7h0M499.5 893.2h0M499.5 888.1h0M499.8 881.9h0M500.7 981.4h0M499.8 988.2h0M500.4 990.3h0M501.2 900.1h0M500.7 874.7h0M501 868.6h0M500.4 862.8h0M500.8 857.9h0M500.8 953.6h0M501.5 981h0M501 986.9h0M501.6 994h0M501.3 998.6h0M501.2 999.9h0M501 873.5h0M501 867.8h0M501.6 864.2h0M501.5 862.8h0M502.2 972.2h0M502.1 977.3h0M502.4 982.2h0M502 876.6h0M502.4 872.3h0M502.6 867.8h0M502.6 972.7h0M503.5 977.9h0M503.4 982.6h0M503 987.7h0M503.6 879.6h0M504.3 953.4h0M503.7 956.5h0M503.9 960.3h0M504.6 849.2h0M504.4 845.5h0M504.7 839.9h0M504.7 837.3h0M506.7 961.1h0M506.2 964.5h0M506.7 850h0M506.3 845h0M506.6 840.1h0M506.6 836.1h0M507.2 976.8h0M507.5 981h0M506.7 985.3h0M507 988.6h0M507.7 969.6h0M507.1 974.1h0M507.5 975.5h0M509.3 907h0M509 910.5h0M509.2 903.7h0M508.9 906.4h0M509.3 961h0M509.6 899.5h0M509.9 872.5h0M509.6 865.4h0M509.6 861.1h0M510.6 853.8h0M510.1 853.3h0M509.9 981.4h0M509.9 987.1h0M509.6 990.9h0M510.2 995.3h0M509.9 999h0M510.8 920.9h0M510.8 897.8h0M510.2 890.5h0M510.2 883.5h0M511 876.6h0M511.1 870.5h0M510.2 867.3h0M510.2 859.8h0M510.7 858.4h0M511.5 880.2h0M511.8 877.2h0M512 872.8h0M511.4 867h0M511.4 862.5h0M511.6 859.9h0M512.7 915.8h0M512.8 910.9h0M512.8 910.6h0M513.5 971.8h0M512.9 971.8h0M512.6 991.7h0M512.8 995.4h0M514.3 933.8h0M513.9 917.6h0M513.5 915.7h0M513 990.2h0M513.5 996.4h0M514.7 931.1h0M514.7 922h0M514.8 918.9h0M514.8 916.1h0M515.6 921.3h0M516.6 890.8h0M516.4 884.1h0M515.8 880.1h0M516.8 873.7h0M515.8 867.8h0M516.2 865.5h0M515.9 991h0M516.3 996.8h0M516.4 896.9h0M516.8 891.6h0M516.6 888.2h0M516.9 880.9h0M516 875.5h0M516.8 871.1h0M516.8 864.6h0M516.6 861.8h0M518.6 896.7h0M518.6 892.1h0M518.8 888.5h0M518.6 883.3h0M518.5 881h0M518.3 990.4h0M517.8 992.5h0M519.4 889.2h0M519.4 885.4h0M519.5 879.1h0M520 873.7h0M519.4 872.3h0M519.8 961.7h0M520.9 907h0M521.2 899.5h0M521.3 879.8h0M521.6 872.7h0M521.7 868.7h0M520.8 863.9h0M521.6 858.6h0M521.5 854.9h0M520.8 851.3h0M520.7 844.1h0M521.6 836.8h0M521.3 835.6h0M521.8 909.6h0M522.7 866.4h0M522.6 861.9h0M521.9 858.3h0M521.8 853.4h0M522.2 849.1h0M521.9 846.1h0M522 841h0M522.6 835.9h0M522.6 831h0M522.1 824.4h0M521.7 819.4h0M522.8 816.1h0M522.3 815.9h0M522 983.7h0M521.9 989.9h0M521.9 993.9h0M523.5 859.3h0M522.7 855.2h0M522.8 851.9h0M522.8 847.7h0M523 843.1h0M523.2 839.3h0M522.6 833.1h0M522.6 827.3h0M523.2 820.8h0M522.7 813.8h0M523.1 812.7h0M523.3 977.4h0M522.9 982.5h0M522.8 987.5h0M523.7 852.3h0M524.3 848.8h0M523.6 841.4h0M524.3 836.2h0M523.8 832h0M524.4 826.9h0M524 821.8h0M524.1 819.3h0M524.4 965.4h0M524 986.1h0M523.8 991.6h0M525.1 904.4h0M524.9 914.7h0M525.4 863.6h0M525.7 857.3h0M525.8 852.8h0M525.4 847.2h0M525.7 840.2h0M525.4 834.9h0M524.7 965.8h0M526 983h0M525.6 990.2h0M525.5 993.3h0M526.3 899.4h0M525.7 894.8h0M525.8 890.6h0M525.9 887.2h0M526.3 880.3h0M525.8 874.5h0M526.4 871.2h0M526.1 864.4h0M526.3 858.6h0M525.9 852.6h0M527.1 922h0M526.3 905.6h0M527.2 902.4h0M526.9 899h0M526.7 977.1h0M527.7 927.7h0M527.9 925.3h0M528.5 908.6h0M528.8 903.9h0M528.8 899.1h0M528.2 892.8h0M529.2 886.8h0M529.1 882.8h0M528.7 880.7h0M529 988.8h0M529.4 991.3h0M529.9 929.6h0M529.5 888.5h0M529.7 883.1h0M529.5 879.2h0M530 874.5h0M530.5 980.7h0M530.2 985.9h0M530.3 989.5h0M530.5 923h0M530.4 918h0M530.7 912h0M530.8 909.9h0M531.1 984.8h0M531.5 988.7h0M531.3 992.4h0M531.4 995.7h0M531.8 924.1h0M531.3 901.2h0M532.2 893.8h0M532.1 888h0M531.8 884.5h0M532.5 970.2h0M532.1 983.8h0M531.8 986.8h0M532.7 992.9h0M532.1 996.2h0M532.5 914.1h0M532.1 908.4h0M532.8 904.9h0M532.6 902.4h0M535.4 912.5h0M535.4 905.6h0M535.2 901.4h0M536.1 915.1h0M536.8 911h0M536.1 907.7h0M536.8 904.6h0M536.5 899.5h0M536.5 893h0M536.5 892.2h0M537.6 919.6h0M537 914.6h0M537.4 994.8h0M536.7 999.1h0M537.4 1003.6h0M536.9 1007.7h0M537.9 925.1h0M538.9 918.5h0M538.3 914.2h0M538.8 909.9h0M538.3 908h0M539 952.6h0M538.9 928.3h0M539.1 922.6h0M539.1 919h0M538.2 915h0M538.1 911.7h0M538.6 909.9h0M539.3 999.2h0M538.9 1004h0M540.1 948.3h0M540 938.1h0M539.9 938.2h0M539.6 933.2h0M539.6 930.6h0M541.2 943.8h0M541.6 1004.3h0M541.5 1006.7h0M542.1 961h0M541.6 939.8h0M542.2 935.5h0M541.6 934.2h0M543.4 959.8h0M542.6 934.6h0M543.2 927.8h0M543 927h0M542.3 1006.6h0M542.6 1009.1h0M544 958.2h0M544 938.3h0M544.5 933.1h0M544.3 932.2h0M544.1 990h0M544.1 1008.5h0M543.5 1009.1h0M544.7 934.2h0M545.3 948.3h0M544.5 951.4h0M545.6 938.8h0M545.8 941h0M546 940.8h0M547.3 936h0M547 953.8h0M546.9 950.8h0M547.1 934.8h0M546.6 932.5h0M547.7 928.5h0M547.2 924.7h0M548.5 951.4h0M547.9 953.4h0M547.1 923.1h0M547.8 919.2h0M548.1 915.2h0M547.5 913.7h0M549.4 932.7h0M549.8 927.7h0M549.3 927.6h0M549.1 1005.4h0M548.6 1007.4h0M551.3 943h0M550.9 939.6h0M550.5 934h0M551.4 929.7h0M550.5 922.4h0M550.9 918h0M552 945h0M553.3 963.9h0M552.8 940.2h0M553.1 934.7h0M553 931.6h0M553.3 928.4h0M552.6 1006.9h0M553.2 1007.5h0M553.6 939.7h0M553.8 945.1h0M554.1 943.8h0M555.2 958.9h0M554 931.2h0M554 925.5h0M554.8 918.3h0M554.5 915.1h0M554.9 1004.9h0M556.6 912.8h0M556.6 905.9h0M556.5 901.9h0M557.1 940h0M556.8 940.2h0M556.9 938.4h0M557.1 993.9h0M557.5 998.2h0M557.3 1001.5h0M557.7 928.1h0M558 922.8h0M558 917.1h0M558.5 913.2h0M558.7 909.4h0M559 902.6h0M558.1 896.6h0M558.5 893.5h0M558.2 995.9h0M557.8 998.5h0M558.5 935.9h0M558.3 903h0M559.3 895.7h0M558.3 892.5h0M558.6 886.4h0M559.2 882.3h0M558.8 879.6h0M559.3 996.8h0M559.9 1000.4h0M559.4 1002.3h0M559.8 907.3h0M559 902.4h0M559.4 898.4h0M559.8 891.7h0M559.2 887.6h0M559.5 887.4h0M559.8 996.5h0M559.9 1000.6h0M561.5 922h0M561 918h0M561.4 912h0M561.7 908.5h0M561.8 904.6h0M561.4 900.4h0M560.6 993.5h0M560.1 998.8h0M560.6 999.8h0M561.7 941.6h0M562 983.2h0M562.6 939.3h0M562.8 931.6h0M563.1 926h0M562.7 923.5h0M562.8 991.6h0M563.7 995.2h0M563.4 995.8h0M563.7 994.4h0M563.8 999.7h0M564.5 939.3h0M565.4 983h0M564.8 987.2h0M566.1 935h0M565.3 928.9h0M565.8 924.4h0M566.2 977.5h0M565.4 988.1h0M565.6 992.9h0M565.6 999.7h0M567.4 992.4h0M568 999h0M567.4 1000.5h0M568.3 903.6h0M567.4 899.3h0M567.6 895.8h0M568 893.7h0M568.4 996.1h0M568.4 1000.1h0M568.5 1001.6h0M568.9 931.3h0M568.8 907.1h0M568.9 902.4h0M569.1 899.6h0M570.1 918.4h0M570.1 908h0M570.1 904.5h0M569.9 898.1h0M569.6 894.2h0M570.3 887.1h0M570.2 886.8h0M570.3 971.8h0M570 973.6h0M570 985.3h0M570.3 989.1h0M570.8 925.1h0M571 987.3h0M571.2 991.1h0M570.8 995.8h0M571.9 925.9h0M571 900.2h0M572 895.9h0M571.5 889.5h0M571.9 886.3h0M571.6 882.3h0M571.8 879.2h0M572.1 873.4h0M571.5 872.9h0M571.7 971.2h0M572.3 907.2h0M572 904h0M572.8 900.7h0M572.9 897.1h0M572.8 892h0M573 888.9h0M572.2 882.9h0M572.5 878.4h0M572.6 875.4h0M572.9 983.8h0M574.2 921h0M573.4 917.1h0M573.9 914.3h0M574.9 911.2h0M576.7 907.7h0M575.9 902.3h0M576.6 897.1h0M576.4 893.9h0M576.4 889.1h0M576.4 976.4h0M576.1 996.1h0M575.8 1000h0M576.7 903.4h0M577 899.7h0M576.9 893.5h0M577.3 888.3h0M576.6 881.8h0M577.4 875.4h0M576.9 874.8h0M577.5 987.9h0M577.2 990.9h0M577.6 908.8h0M577.4 905.3h0M578.3 898.6h0M578.4 894.2h0M578.1 887.4h0M577.8 881.4h0M577.8 877.9h0M577.9 990.4h0M578 994.8h0M578.4 996.1h0M578.9 936.8h0M579.5 906.9h0M579.7 900.9h0M579.3 897.4h0M579 890.9h0M579.4 886.7h0M580.1 918.3h0M580.2 914.1h0M579.7 907.5h0M580.3 981.2h0M579.4 995.3h0M579.6 1000.2h0M580.9 916h0M580.5 908.7h0M580.4 904.6h0M580.5 899.2h0M580.9 995.1h0M581.6 1000.5h0M580.8 1005.5h0M581 1007.9h0M581.8 940.7h0M582.1 910.3h0M582.1 907h0M582.3 902.8h0M582.2 897.4h0M582.3 896.4h0M581.6 997.5h0M582.5 1003.9h0M582.1 1004.3h0M583.8 938h0M583.8 932.7h0M583.6 929.4h0M583.2 927.9h0M584.3 924.3h0M584.5 920.4h0M584.7 916.6h0M584.6 913h0M584.3 911.9h0M584.6 957h0M585 929.7h0M585.7 925.3h0M585.2 919.4h0M586.4 962.5h0M585.2 935.6h0M585.7 931.6h0M586.3 924.7h0M585.2 920.2h0M585.8 919.4h0M586.2 1007.8h0M585.7 1009.3h0M587.3 952.3h0M586.4 947.5h0M586.7 945.2h0M588.4 965.6h0M588.1 958.9h0M588 954.9h0M587.9 953.1h0M587.4 1007.6h0M587.9 1011.6h0M589.3 947.1h0M589.3 962.4h0M589 955.8h0M588.8 949.2h0M590.2 948.6h0M589.6 972.7h0M589.7 969h0M590.3 966.5h0M589.2 942.7h0M589.5 937h0M589.8 934.2h0M591.5 955.2h0M591.2 952.5h0M590.7 946.7h0M590.7 940.3h0M590.6 1011.9h0M591.2 1017.2h0M591.8 973h0M592.6 960.5h0M592.5 956.2h0M591.5 948.9h0M592.1 948.3h0M593 953.2h0M594 958.6h0M594 952.2h0M593.5 947.9h0M595.3 965.6h0M594.5 956h0M595.3 951.4h0M594.7 948.9h0M594.5 1007.4h0M594.8 1011.8h0M596.2 950.1h0M595.4 952.4h0M595.6 948.6h0M596.5 948.1h0M597.2 943.3h0M596.2 940h0M596.7 938.9h0M596.9 1009.6h0M597 1010.8h0M597.6 960.2h0M599.3 959.6h0M600 942.8h0M599.8 936.6h0M599.5 930.4h0M599 1004h0M599.4 1009.5h0M601.8 931.9h0M601.4 928.6h0M601.3 923h0M602.2 930.9h0M602.7 926.8h0M601.9 923h0M602.4 921.6h0M604.3 938.3h0M603.8 935.9h0M605.2 945.2h0M605.8 950.9h0M606.4 953.5h0M605.3 951.7h0M605.3 947.4h0M605.8 945.7h0M608.6 957.5h0M608.4 954.3h0M608.5 948.6h0M608.2 948.1h0M607.8 1011.5h0M608.2 956.1h0M608.5 953.5h0M610.9 967h0M611.6 961.5h0M610.5 956.9h0M611 955.6h0M612.1 960.2h0M612.4 955.6h0M611.4 952h0M612.2 947.6h0M612.2 940.4h0M612 940.3h0M612.1 1002.6h0M612.8 965.1h0M613.2 1001.4h0M614.3 971.2h0M613.6 940.7h0M614.5 934.9h0M614 933.8h0M615.6 940.8h0M615.3 937.3h0M615.4 929.8h0M615.2 927.1h0M616.4 964.1h0M616.3 941.3h0M615.7 936.7h0M615.7 929.3h0M616 924.9h0M615.9 921.9h0M615.7 1007.4h0M616.1 1012.1h0M615.7 1012.7h0M616.9 963h0M618.1 943.1h0M617.9 937.1h0M617.5 930.2h0M617.9 927.5h0M618.8 945.1h0M618.9 1002.8h0M619 1009.1h0M619 1012.2h0M619.8 960.3h0M620.4 938.2h0M619.8 937.6h0M621.4 1005.2h0M621.5 1008.4h0M621.2 1011.7h0M621.8 959h0M622.5 948h0M622.2 945.3h0M623.1 952.2h0M622.7 950h0M622.6 946.5h0M624.3 1007.3h0M623.3 1010.4h0M623.9 1014.8h0M625.1 952.6h0M625.1 951.2h0M625 945h0M624.8 941.4h0M624.8 993.8h0M625.3 1004.3h0M625 1008.8h0M625.9 957.5h0M626 945.8h0M626.7 942.2h0M626.2 938.8h0M626.7 933.8h0M625.9 927.3h0M626.6 923.2h0M626.2 917.4h0M626 1008.5h0M625.6 1009.1h0M627.2 954h0M626.6 939.5h0M626.8 936.5h0M627 932.3h0M626.7 929.2h0M627 923.2h0M626.4 919.9h0M626 915.8h0M626.6 915.6h0M627.2 996.5h0M626.6 1013.1h0M628.2 953.1h0M628.2 946.7h0M627.9 940.8h0M628 934.5h0M627.3 927.9h0M627.7 923.5h0M628 919.6h0M627.4 912.7h0M627.9 911.6h0M627.9 1011.7h0M628.7 1017.4h0M628.3 1018.6h0M629.2 972.4h0M629 926.6h0M629 922.5h0M629.4 919h0M629.3 914.1h0M628.9 910h0M629.6 958.6h0M630.2 953.5h0M629.6 946.1h0M629.6 939.7h0M629.7 937.4h0M630.2 1012.8h0M631 985.8h0M630.7 969.8h0M630.8 964.8h0M630.9 958.2h0M630.6 954.1h0M630.6 952.4h0M632.1 978h0M632.6 970.5h0M632.6 965h0M632.5 959.7h0M632.4 953.4h0M632.3 950.4h0M633.3 989.6h0M633.1 984.6h0M633.8 981.2h0M633.1 978.2h0M633.3 973.7h0M635.4 982.3h0M634.7 988.6h0M634.5 978.2h0M634.6 974.9h0M636.5 983.8h0M636.7 985.2h0M636.3 968.1h0M637 964.3h0M636.7 962.9h0M638.4 977.5h0M639.4 979.2h0M639.3 979h0M638.5 970.5h0M638.1 963.6h0M638.5 960.2h0M639.6 959.7h0M642.1 970.7h0M642.4 1014.1h0M642.3 1018.2h0M643 961.9h0M643.3 972.6h0M644.5 964.3h0M643.9 962.9h0M645.3 963h0M645.2 959h0M645.1 958.5h0M645 1005.4h0M645.4 964.8h0M645.7 957.6h0M646 954.6h0M646.5 1020.3h0M646.6 971.8h0M646.9 980.1h0M646.4 966.6h0M646.5 962h0M646.6 1007.3h0M647.9 972.7h0M648.3 971.6h0M648.8 1011.4h0M651.4 978.3h0M650.5 974h0M650.8 971.7h0M652.8 995.8h0M652.9 988h0M652.7 984.3h0M654.3 992.5h0M654.2 983.8h0M653.2 980.4h0M653.7 978.3h0M655.9 986.8h0M656.4 983.4h0M657.6 977.7h0M659 974.1h0M659 954.2h0M659.9 949.9h0M659.2 943h0M659.5 941.8h0M661.6 960.6h0M660.9 955.6h0M661.1 953.7h0M661.4 1001.3h0M662 962h0M661.8 958.7h0M662.4 955.3h0M661.6 1009.1h0M661.5 1011.8h0M662.8 969.5h0M663.4 970.4h0M663.6 960.5h0M663.2 954.3h0M663 953.1h0M664.2 966.4h0M663.7 956.1h0M663.8 951.9h0M664.1 950.1h0M663.5 1011.9h0M663.6 1012.8h0M664.8 971.6h0M664.7 1005.8h0M665.6 1013.1h0M665.2 1013.3h0M666.8 1007.2h0M667.2 1012.2h0M667.3 1007.4h0M667.7 1011.8h0M669.1 962.3h0M670.4 949.1h0M670.9 945.1h0M670.9 941.2h0M670.4 936.7h0M670.4 929.7h0M671.3 953.9h0M670.7 950.4h0M671.4 944.2h0M671.6 939.5h0M671.6 936.5h0M672.6 969h0M672.6 951.9h0M672.8 951.3h0M673.3 966.4h0M672.7 961.1h0M672.2 1008.1h0M672.6 1010.6h0M673.6 961.7h0M674.5 962.7h0M674.2 1003.8h0M674.4 1007.8h0M674.4 1011.1h0M675 997.8h0M676.3 994.6h0M676.9 932h0M676.8 927.2h0M676.5 1006.4h0M676.9 1010.3h0M677.8 939.8h0M678.3 927h0M677.9 934.9h0M678.3 979.7h0M678.6 910.2h0M679.7 905.6h0M679.2 900.8h0M678.7 970.3h0M679.7 995.5h0M679.1 1001.5h0M679.3 1006.7h0M679.4 1008.3h0M680.5 895.7h0M680.6 892.1h0M679.6 888.5h0M680 883.1h0M679.1 975.5h0M679.9 978.8h0M679.5 981.1h0M680.7 877.2h0M680.8 871h0M680.6 864h0M681.2 863.4h0M681.9 968.8h0M681.8 973.2h0M681.6 976.9h0M680.8 981.1h0M681.4 981.3h0M681.9 872.3h0M681.8 856.8h0M682.2 852h0M683.3 807.1h0M683.3 802h0M682.9 797.3h0M683.1 792h0M682.9 787.2h0M683.3 781.1h0M682.9 773.6h0M683.1 770.6h0M683 962.6h0M682.8 968h0M683.3 974.8h0M683.7 979.6h0M683.4 985.6h0M683.4 991.2h0M683.3 996.6h0M683.2 1001.5h0M684.3 864h0M684.1 847.6h0M683.9 842.3h0M684.7 967.6h0M684.7 974.3h0M683.9 977.9h0M683.9 982.4h0M684.7 989.6h0M684 994.6h0M684.3 994.8h0M684.8 854.9h0M684.8 970h0M684.8 973.3h0M684.9 976.9h0M686.2 809.9h0M686.4 806.2h0M686.4 798.9h0M685.4 792.9h0M686.5 789.7h0M686.2 785.3h0M685.4 780.7h0M686.2 776.1h0M686 775.1h0M685.3 970.1h0M685.9 973.2h0M686.3 979.5h0M685.5 986.8h0M685.9 989.1h0M687.1 822.8h0M687.4 816.3h0M686.8 813.3h0M687.2 806.2h0M686.5 799.4h0M687.4 795.2h0M686.4 787.9h0M686.8 782.5h0M686.7 958.2h0M686.8 964.3h0M687.1 862.3h0M687.7 855.4h0M687.7 851.6h0M687.6 847.3h0M689.2 861.6h0M689.4 858.4h0M688.9 852.3h0M689.3 844.8h0M689.7 841.6h0M689.2 836h0M689.9 974.7h0M689.6 978.7h0M689.3 980.5h0M689.7 885.2h0M689.7 878.5h0M690.2 875.1h0M690.7 911.8h0M691.7 904.9h0M691.2 901.4h0M691.3 898.9h0M691.5 986h0M690.9 991.5h0M691.7 995.8h0M690.8 1003h0M691.2 1007.2h0M692 912.6h0M691.9 921h0M691.6 909h0M692.2 888h0M692.5 880.9h0M692.5 877.7h0M692.4 873.7h0M692.8 867.2h0M692.5 861.7h0M692 858.7h0M692.5 853.9h0M693.2 917.3h0M694.1 929.2h0M693.5 914.2h0M693.6 906.9h0M694.2 903.1h0M693.7 896h0M694.4 988h0M695.2 922.1h0M695.3 889.7h0M695.9 885.2h0M695.6 879.5h0M694.9 872.4h0M695.1 867.3h0M695.5 865.2h0M695.2 989.5h0M695.2 994.5h0M695.5 999h0M695.2 1004.4h0M696.6 900.2h0M696.3 894.7h0M695.8 889h0M696.1 884.4h0M696.7 926.4h0M696.9 927.3h0M696.8 913.4h0M697 907.3h0M697.2 902.7h0M697 897.8h0M696.9 892.3h0M697.2 991.3h0M697.6 995.6h0M698.7 926.4h0M698.5 921.8h0M699.2 915h0M698.6 911.5h0M699.2 905.5h0M698.7 901.7h0M699.1 895.9h0M699.2 890.7h0M699.5 885.4h0M698.9 881.5h0M699.5 983.3h0M699.9 947.2h0M700.3 911.1h0M699.9 904.7h0M700 901.2h0M700 896.1h0M700 892.7h0M699.8 891.8h0M699.7 986.1h0M700.2 994.4h0M699.7 999.7h0M701.2 922.5h0M700.9 942h0M701.3 925.5h0M701.3 918.6h0M701.6 913h0M701.4 909.2h0M701 980.6h0M700.9 1002.4h0M701.2 1006.5h0M702.3 918.9h0M701.6 909.1h0M701.7 902.1h0M702.4 897.4h0M701.6 890.2h0M702.1 889.9h0M702 995.2h0M701.9 1000.2h0M701.9 1003.7h0M702.9 913.2h0M703.2 909.2h0M703.6 903.7h0M703.3 900h0M702.5 991.3h0M702.6 996.6h0M702.5 1003.3h0M702.7 1006.1h0M704.4 932.9h0M703.4 886.6h0M703.3 882.9h0M704.2 876.2h0M703.4 869.3h0M704.3 863.3h0M703.8 863.1h0M703 995.7h0M703.3 1002h0M703.6 1006.6h0M703.5 1008.3h0M705.2 926.2h0M705.1 932.3h0M704.1 891.6h0M705.1 886.7h0M705.2 881.1h0M704.7 877.3h0M704.1 986.5h0M705.2 990.7h0M704.7 991.4h0M706.3 927.9h0M705.5 893.9h0M705.8 887.2h0M705.9 882.1h0M705.8 880.7h0M706 996.7h0M705.8 1003.4h0M707.6 899.2h0M708 896h0M707.6 888.9h0M707.7 885.2h0M707 881.3h0M707.4 880.7h0M708.1 919.7h0M708.7 916.1h0M708.2 911.3h0M707.5 987.5h0M708.4 991.4h0M708 994.1h0M709.1 938h0M709.3 934.2h0M708.4 916.5h0M708.7 912.1h0M708.6 909.7h0M708.7 999.3h0M708.5 1004.2h0M709.1 1006.6h0M710.1 935.8h0M710.8 912.4h0M710.8 908.3h0M710.2 902.1h0M710.5 902h0M710.2 982.2h0M710.7 922.5h0M711.2 917.9h0M710.9 981h0M711 986.8h0M710.5 993.6h0M710.8 999.8h0M711.1 1002.8h0M710.9 1003.2h0M712.4 939.7h0M712.5 928.7h0M711.8 924.1h0M712.2 922.1h0M712.2 1001.9h0M711.9 1005.7h0M712.8 947.7h0M712.7 955.4h0M712.4 933.8h0M713.1 926.7h0M713.1 922.8h0M712.8 922.8h0M713.2 995.4h0M713.2 999.1h0M712.7 1005.3h0M714.1 923.1h0M713.6 918.2h0M713.9 913.1h0M713.5 905.9h0M713.7 902.6h0M714.1 899.2h0M715.1 952.5h0M714.4 924.6h0M715.4 919.7h0M714.7 913.1h0M715.1 909.3h0M714.9 907.3h0M716.2 962.8h0M715.7 950.8h0M715.5 943.5h0M715.9 940.5h0M715.9 940h0M716.2 1003.6h0M716.3 1005.1h0M717.2 963.9h0M717.3 962.2h0M717.2 941.6h0M716.7 936.1h0M717.2 930.1h0M716.7 925.1h0M716.8 923.6h0M716.7 990.4h0M716.9 1002.6h0M718 939.7h0M718.8 935.1h0M718.8 931h0M718.2 930.2h0M717.8 988.4h0M718 992.3h0M717.8 999h0M717.1 1002.2h0M717.7 1002.6h0M718.8 953.9h0M718.5 918.7h0M718.5 914.2h0M718.9 906.8h0M719.5 902.8h0M719 902h0M720.5 940.2h0M721.1 932.2h0M721.1 903.7h0M721.4 900.2h0M721.3 898.2h0M722.5 917.5h0M722.4 908h0M722 894.6h0M721.4 888.9h0M722.1 881.7h0M721.9 875.8h0M721.6 871.5h0M722 994.1h0M721.1 998.1h0M721.6 1003.4h0M722.8 879.6h0M723.5 872.6h0M723.7 869.4h0M723.2 866.2h0M723 859.2h0M723.7 856h0M723.3 850.1h0M723.7 846.2h0M723.3 841.4h0M723.4 836.9h0M722.8 829.5h0M723.2 827.6h0M722.3 981h0M723 986.1h0M722.4 989.2h0M723.1 995.7h0M722.7 1001.1h0M723.6 888.2h0M724.2 959.6h0M725 877h0M724.8 877.5h0M725.4 870.7h0M725 870.5h0M724.6 959.2h0M725.9 964.8h0M725.4 968.8h0M725.4 973.6h0M726.1 874.5h0M725.5 894.1h0M725.4 844.7h0M725.9 838.6h0M726.2 833.5h0M725.7 828.3h0M725.4 825h0M726.2 818.6h0M725.7 814.5h0M725.2 811.1h0M725.7 806.1h0M725.8 799.5h0M726 954.6h0M725.4 984.9h0M725.9 989h0M725.8 989.8h0M726.7 875.2h0M727 894h0M727.3 895.7h0M728.1 902.8h0M727.8 864.9h0M727.6 861.2h0M728 855.1h0M727.3 847.7h0M727.5 842.9h0M727.8 838.9h0M729.2 895.9h0M728.6 901.5h0M729.4 873.2h0M729.7 867.8h0M728.9 861.6h0M729.5 859h0M728.4 985.7h0M728 991.1h0M728 997.4h0M728.6 998.3h0M730.4 899.8h0M730.6 892.4h0M729.8 886.8h0M730.2 883h0M730.4 882.9h0M729.5 979.1h0M730.5 983.3h0M730 985.3h0M731.4 971.8h0M732.2 894.5h0M731.3 891h0M731.3 887.4h0M731.1 883.6h0M731.7 876.9h0M731.7 876.6h0M732.8 907.9h0M732.9 904.8h0M733 900.3h0M733.3 895.6h0M733.2 891.9h0M733.1 890.1h0M732.5 983.1h0M734.2 948.4h0M734.2 915.5h0M733.8 911.8h0M734.8 904.7h0M734.4 901.3h0M733.7 993.9h0M733.4 1000.4h0M733.7 1003.8h0M733.5 1003.8h0M735.1 942.9h0M735 933.4h0M735 927.1h0M735.4 926.7h0M736.1 970.7h0M736.5 965.5h0M736.4 1007h0M737.2 967.8h0M737.8 962.2h0M737.5 959.4h0M738.3 980.7h0M737.6 973.4h0M738 970.1h0M740.6 994.4h0M741.9 997.7h0M743.1 986.9h0M742.7 982.7h0M742.6 1017h0M743.9 999.4h0M743.4 987h0M743.8 981.3h0M744.6 1016h0M745.9 993.8h0M747.4 987.7h0M747.9 985.9h0M747.5 970.6h0M747.9 966.5h0M747.9 961.6h0M749.2 981.1h0M749.3 976.9h0M749.2 975.3h0M750.4 967.3h0M750.7 960.7h0M750 956.9h0M750.2 953h0M750.9 970.3h0M751.5 969.8h0M751.1 965.1h0M751.4 963.6h0M751.9 1011.4h0M754.3 988.1h0M753.5 979.9h0M754.7 1009h0M757.3 984.3h0M756.7 984.1h0M758.3 989.3h0M758.5 979h0M758.3 975h0M758.4 971.7h0M757.6 1011h0M761.5 983.8h0M761.3 982.5h0M762.6 988.5h0M762.5 987.3h0M764 1002.1h0M766.3 1019.8h0M766.8 997.7h0M767 982.6h0M769.3 996h0M772.9 1026.1h0M776.7 1016.8h0M780.7 1011.3h0M781.6 988.3h0M783.9 1013.6h0M784.7 978.5h0M784.6 973h0M785.1 967.2h0M785.2 1012.3h0M785.6 975.2h0M786.4 967.9h0M785.8 967.2h0M786.6 978.1h0M786.7 975.1h0M787.4 981.5h0M787.6 977h0M788.1 973.5h0M787.2 969.2h0M787.7 966.4h0M788.3 1015.8h0M788.6 971.7h0M789.2 967.5h0M789 1015h0M790.3 987.3h0M789.8 985.5h0M790.4 980.2h0M789.9 978h0M791 982.2h0M790.4 979.2h0M791.1 974.7h0M790.8 973.8h0M791.8 1016.6h0M793 1014.6h0M794.3 995.3h0M793.8 979.4h0M794.1 975.8h0M795 995.2h0M794.5 986.8h0M794.6 982.5h0M794.8 977.2h0M794.7 1013.7h0M798.3 991.4h0M799 987.2h0M800.5 984.1h0M800.2 1010.8h0M800.8 977.2h0M801.1 981.4h0M800.9 986.5h0M801.3 965.9h0M800.4 960.5h0M800.9 956.9h0M802.1 980.1h0M802.6 968.8h0M802.3 964.4h0M802.8 957.2h0M801.9 952.9h0M802.2 952.5h0M802.9 962.2h0M802.9 957.5h0M803.3 953.3h0M802.9 1009.9h0M804.4 970.9h0M804.3 1010.4h0M805.4 974.5h0M805.5 969.5h0M806 988.5h0M805.7 989h0M805.8 987.9h0M806.3 1012.8h0M807.2 973.9h0M807.4 972.5h0M807.8 968.2h0M807.3 967.7h0M808.1 979.5h0M807.9 968.5h0M807.4 965h0M807.8 960.8h0M808.8 977.9h0M809.8 966.7h0M809.4 962.9h0M810 971h0M810.3 958.9h0M810.1 953.3h0M810.3 952.4h0M810.8 962h0M810.7 957.1h0M810.6 952.1h0M810.7 950.1h0M812.2 1013.4h0M812.3 1018.7h0M813.1 977.2h0M815.3 1013.8h0M815.9 1017.3h0M816.8 960.2h0M817.1 957.4h0M817.4 1000.6h0M818.1 970.3h0M818 965.4h0M817.9 969.2h0M818.5 950.9h0M818.1 968.7h0M818.5 959.4h0M818.7 939.6h0M818.1 932.3h0M818.3 931.4h0M818.6 969.5h0M819.1 964h0M818.6 973.3h0M818.6 922.5h0M819.3 917.8h0M819.2 913h0M818.7 909.4h0M818.9 1011h0M819.4 1014.7h0M819.7 973.2h0M820 963.5h0M820.3 956.2h0M819.5 949.7h0M820 949.1h0M820.5 964.9h0M821 963.3h0M821 1017.2h0M820.7 1019.6h0M821.6 979.4h0M821.6 969.9h0M822.1 965.2h0M822.9 976.3h0M823.3 970.8h0M822.8 966.8h0M823.4 964.6h0M822.7 1012.6h0M824.2 992.4h0M824.1 995.6h0M824.7 981.7h0M824.3 977.1h0M825.5 989.5h0M824.8 985.4h0M824.4 978h0M824.7 975.3h0M826.3 1018.2h0M826.8 986.9h0M826.6 982.6h0M827.7 981.7h0M827.5 1013.5h0M828.2 1018.2h0M828.8 991.5h0M831.5 1012.6h0M831.4 1013.4h0M831.7 1013.4h0M832.4 1018.1h0M832.7 991.4h0M833 977.2h0M833.4 1017.6h0M834.4 982.5h0M834.6 996.1h0M835.3 1019.3h0M836.4 996.3h0M836.5 982.6h0M836.2 981.1h0M836.9 989.1h0M837.1 1018.7h0M843.3 987.7h0M843.1 983.6h0M843.3 983.8h0M843.7 982.7h0M845.8 994.6h0M847.2 993.1h0M847.4 990.4h0M846.8 1020.3h0M847.8 1003.7h0M848.4 993h0M848.1 989.3h0M848.3 987.2h0M849.8 998.1h0M853.8 989.8h0M854.6 984.2h0M854.3 982.2h0M855.5 1023.3h0M856.6 993.3h0M856 988.4h0M856.4 987.9h0M855.9 1019.5h0M858.4 1004.2h0M858.9 1005.4h0M858.9 1026.2h0M861.2 1005.5h0M861.7 997.1h0M861.9 992.7h0M867.2 1023.7h0M868.8 1005.4h0M869.2 1022.2h0M869.7 1022.9h0M870.3 1023.6h0M873.9 1015.6h0M886.7 1026.5h0M886.5 1027.2h0M888.2 1026.3h0M889.8 1020.7h0M890.8 1028.3h0M892.3 1027.3h0M895.2 1030h0M896.1 1031.1h0M902.1 1021.9h0M907.7 1021.7h0M908.2 1020.4h0M909.8 1027.8h0M909.9 1032h0M909.8 1030.3h0M911.2 1029.3h0M911.9 1027.3h0M913 1018h0M914.3 1027.4h0M916.8 1015.5h0M918 1026.5h0M922.9 1021.1h0M924.8 1021.5h0M925.7 1021.4h0M932.5 1030.2h0M941.5 1022.7h0M942.7 1029.1h0M945.6 1023.9h0M949.3 1023.6h0M951.2 1027.9h0M951.9 1021.6h0M951.9 1028.6h0M953.4 1020.3h0M955.3 1029.2h0M956.6 1021.9h0M957.2 1029.1h0M956.9 1032h0M958 1030h0M960.1 1020.3h0M959.9 1028h0M967.6 1021.8h0M979.5 1018.3h0M986.9 999.2h0M987.8 1027.3h0M988.7 998.5h0M990.8 1005.2h0M991.5 991.4h0M991.5 991.2h0M992.2 992.3h0M992.4 988.8h0M992.6 986.2h0M994.7 1010.5h0M1002.7 1028.4h0M1004.7 1015.5h0M1009.4 1029.6h0M1009.9 1030h0M1011 1034.2h0M1010.6 1033.5h0M1010.7 1027.6h0M1011 1029.3h0M1022.4 1032.8h0M1024.8 1023h0M1028.3 1032.5h0M1042.6 1020.3h0M1051.1 1024.2h0M1056.3 1032.9h0M1060.5 1023.1h0M1062.9 1022.2h0M1062.9 1033h0M1063.4 1033.1h0M1068.7 1019.7h0M1070.2 1028.7h0M1071.5 1032.1h0M1075.3 1015.8h0M1074.9 1033.9h0M1077 1022.4h0M1082 1033h0M1092.8 1034.3h0M1093.3 1033h0M1094.7 1023.2h0M1095.6 1022.5h0M1098.3 1019.7h0M1099.5 1021.8h0M1107.7 1024h0M1109.8 1033.3h0M1111 1035.3h0M1115.1 1023.1h0M1119.6 1034.2h0M1136 1033.7h0M1140.2 1025.4h0M1144.4 1025.3h0M1148.9 1024.5h0M1148.6 1024.8h0M1157 1023.9h0M1158.6 1023.5h0M1163.1 1024h0M1173.4 1035.3h0M1175.9 1036.4h0M1185.9 1019.1h0M1190.1 1034.1h0M1199 1024.2h0M1199.4 1024.7h0M1200.4 1024h0M1203.4 1033.8h0M1206.6 1034.1h0M1208.4 1033.9h0M1209.9 1024.8h0M1211.8 1033.2h0M1217 1023.1h0M1216.9 1033.4h0M1222.8 1023.5h0M1229.4 1021.5h0M1230.5 1032.8h0M1232.7 1033.8h0M1238.1 1029.9h0M1243.3 1031.6h0M1244.1 1030.5h0M1243.7 1027.8h0M1245.3 1029.1h0M1249.2 1027.9h0M1252.1 1029.4h0M1253.5 1015.5h0M1253.6 1027.2h0M1260.7 1021.2h0M1262.7 1020.8h0M1267.3 1035.1h0M1268.1 1032.7h0M1277.3 1023.9h0M1278.4 1033.1h0M1282.8 1032.9h0M1282.7 1032.7h0M1285.1 1033.1h0M1288.2 1024.3h0M1292 1021h0M1300.9 1020.9h0M1302.1 1021.6h0M1303.5 1032.7h0M1305.4 1020.8h0M1307.8 1021.4h0M1307.5 1019.9h0M1308.7 1019.3h0M1309 1018.3h0M1311.2 1029.3h0M1314.5 1015h0M1314.2 1028.1h0M1316.6 1030.8h0M1328.2 1019.4h0M1334.4 1026.7h0M1342.1 1026.6h0M1344.1 1030.7h0M1345.5 1021.4h0M1347.5 1029.8h0M1350.9 1027.5h0M1352.1 1027.4h0M1351.7 1027.2h0M1359.5 1018.7h0M1359.9 1020.3h0M1360 1020.1h0M1362.4 1028.8h0M1362.2 1028.1h0M1363.4 1021h0M1374.9 1023.7h0M1374.8 1033.5h0M1384.1 1033.5h0M1392 1017.8h0M1393 1019.1h0M1395.5 1018h0M1397 1020.2h0M1398.1 1032.1h0M1402.2 1026.6h0M1408.2 1023.2h0M1409.1 1015.2h0M1409.9 1014.3h0M1412.7 1010.2h0M1414.5 1005.8h0M1415.2 1000h0M1415.2 1015.8h0M1422.2 984.3h0M1421.9 983.1h0M1423.1 1012.6h0M1424.8 996.2h0M1424.8 990.4h0M1428.9 991.1h0M1429.1 987.5h0M1429 993h0M1430.4 979.8h0M1430 977h0M1430.4 1009.3h0M1431.3 1010.2h0M1430.9 1011h0M1431.1 977.8h0M1431 973.1h0M1431.5 972.9h0M1433.5 995.3h0M1433.8 989.8h0M1433.6 995.2h0M1436 999.4h0M1439.8 978.6h0M1439.4 974.6h0M1439.5 973.9h0M1441.1 970.5h0M1441.3 963h0M1441.2 958.7h0M1441 953.8h0M1441.5 952.9h0M1442.2 947.6h0M1441.7 946.9h0M1443.4 922.3h0M1444 916.7h0M1443.5 910.2h0M1443.4 905.2h0M1443.5 900.8h0M1444.2 932.5h0M1443.2 915.1h0M1443.8 909.7h0M1443.6 903h0M1443.6 895.7h0M1443.7 894.3h0M1444.1 986.4h0M1444.1 990.7h0M1444.9 900.8h0M1444.6 895.9h0M1444.5 889.1h0M1444.4 883.3h0M1444.9 879.2h0M1444.4 986h0M1444.3 989.4h0M1444.8 989.6h0M1446 924.9h0M1445.1 895.4h0M1445.8 891.2h0M1445.5 886.1h0M1446.2 881h0M1445.2 875.3h0M1445.6 872.2h0M1446.8 981.1h0M1446.3 987.6h0M1447.3 920.8h0M1447.3 928.8h0M1446.5 904.6h0M1446.7 898.9h0M1446.4 895.4h0M1447.3 891.8h0M1446.7 889.2h0M1446.7 984.9h0M1447.3 986.8h0M1447.7 933.3h0M1448 982.3h0M1448.4 985.7h0M1448 990.6h0M1448.5 992h0M1449.4 926.6h0M1449.3 942.3h0M1448.8 980.6h0M1450.3 930.9h0M1450.5 927.2h0M1450.3 923.3h0M1450 918.6h0M1450.3 915.2h0M1450.6 953.3h0M1451.4 949.8h0M1451 922.6h0M1451.1 918.8h0M1450.1 912.8h0M1450.6 906.2h0M1451.2 899.3h0M1450.6 896.6h0M1452.1 965.2h0M1453.2 981.4h0M1452.6 962.3h0M1453 973h0M1453.4 974.3h0M1453 967.9h0M1453.7 964.6h0M1453.3 960.2h0M1454.1 956.1h0M1454 950.6h0M1454 943.2h0M1453.7 940.1h0M1453.7 934.2h0M1454.1 930.4h0M1454.5 926.1h0M1454 925.7h0M1455 992.1h0M1455.2 996h0M1455.5 969.3h0M1454.9 964.3h0M1455.7 957h0M1455.2 950.5h0M1454.7 944.6h0M1454.9 939.7h0M1454.7 935.3h0M1455.2 934.7h0M1456.4 998.9h0M1455.4 981.1h0M1455.9 980.5h0M1460.6 993.4h0M1461.2 1014.7h0M1462 1011.5h0M128.3 890.8h0M128.3 895.3h0M128.3 915.8h0M202.3 856h0M202.3 858.6h0M228.1 913.9h0M250.5 645.6h0M250.5 687.8h0M250.5 691.6h0M250.5 704.6h0M250.5 712.1h0M250.5 743.9h0M250.5 749.5h0M250.5 757h0M250.5 764.4h0M250.5 771.9h0M250.5 779.4h0M250.5 786.9h0M250.5 794.3h0M250.5 803.7h0M250.5 814.9h0M250.5 824.2h0M297.3 696.4h0M297.3 700.9h0M297.3 717.7h0M297.3 723.3h0M297.3 742h0M297.3 751.4h0M297.3 762.6h0M297.3 768.2h0M297.3 773.8h0M297.3 783.1h0M311.1 813h0M311.1 818.6h0M311.1 837.3h0M311.1 857.9h0M311.1 865.4h0M350.3 874.7h0M350.3 887.8h0M350.3 895.3h0M350.3 902.7h0M350.3 910.2h0M344 902.7h0M373.1 736.4h0M373.1 742h0M373.1 773.8h0M373.1 779.4h0M373.1 790.6h0M373.1 801.8h0M373.1 805.6h0M373.1 813h0M389.6 642.2h0M389.6 659.1h0M389.6 674.7h0M389.6 678.5h0M389.6 685.2h0M389.6 699h0M389.6 707.6h0M389.6 719.6h0M389.6 728.9h0M389.6 742h0M389.6 751.4h0M389.6 757h0M409.4 827.2h0M409.4 839.2h0M474.8 727.1h0M474.8 734.5h0M474.8 742h0M474.8 749.5h0M474.8 760.7h0M474.8 766.3h0M474.8 771.9h0M491.6 766.3h0M491.6 770.1h0M491.6 790.6h0M504 687.8h0M504 697.9h0M504 700.2h0M504 715.9h0M504 719.6h0M504 728.9h0M504 740.2h0M504 749.5h0M504 753.2h0M504 764.4h0M504 770.1h0M504 783.1h0M504 786.9h0M504 794.3h0M504 805.6h0M504 813h0M574.6 835.9h0M574.6 839.8h0M646.1 919.8h0M646.1 925.7h0M672.2 914h0M686.5 748h0M686.5 718.7h0M686.5 685.5h0M686.5 664h0M686.5 640.5h0M686.5 622.2h0M686.5 607.3h0M686.5 597.6h0M704.3 816.3h0M704.3 820.2h0M704.3 833.9h0M810.9 867.1h0M810.9 871h0M810.9 880.8h0M810.9 888.6h0M810.9 904.2h0M810.9 919.8h0M810.9 927.7h0M819.1 847.6h0M819.1 853.4h0M819.1 859.3h0M819.1 871h0M819.1 880.8h0M819.1 888.6h0M819.1 896.4h0M1446.4 786.6h0M1446.4 821.4h0M1446.4 841.9h0M1446.4 849.3h0M1449.5 858.4h0M1444 841.9h0" stroke="#1f77b4" stroke-width="5.4" stroke-linecap="round" fill="none"/>
<path d="M116.5 1009 117.5 1007.5 118.5 1006.9 119.5 1007.5 120.5 1004.6 121.5 998.7 122.5 991.6 123.5 984.6 124.5 976.2 125.5 973.1 126.5 972.5 127.5 970.5 128.5 967.2 129.5 967.1 130.5 970.6 131.5 978.2 132.5 983.8 133.5 987.7 134.5 991.2 135.5 994 136.5 996.7 137.5 996 138.5 991.4 139.5 988.7 140.5 989.2 141.5 991.3 142.5 995.5 143.5 1001 144.5 1005.3 145.5 1006.9 146.5 999.6 147.5 989.8 148.5 988.4 149.5 989 150.5 988 151.5 987.2 152.5 991.1 153.5 994.4 154.5 997.2 155.5 998.3 156.5 997 157.5 995 158.5 994.9 159.5 993.9 160.5 994.3 161.5 996.8 162.5 998.1 163.5 996.8 164.5 996.3 165.5 998.5 166.5 1000.6 167.5 998.5 168.5 993.1 169.5 985.6 170.5 978.6 171.5 975.8 172.5 976 173.5 976.9 174.5 974.5 175.5 973.4 176.5 975 177.5 973 178.5 962.1 179.5 949.4 180.5 946.9 181.5 965.8 182.5 983.4 183.5 993.6 184.5 996.3 185.5 997.6 186.5 997.5 187.5 997 188.5 998.3 189.5 1000.1 190.5 1003.5 191.5 997.9 192.5 985.2 193.5 970.6 194.5 958.8 195.5 956.5 196.5 959.7 197.5 966.5 198.5 970 199.5 967.2 200.5 965.5 201.5 966 202.5 971.6 203.5 978.5 204.5 984.9 205.5 989.9 206.5 996.4 207.5 1003.7 208.5 1007.5 209.5 1009 210.5 1008.5 211.5 1009.3 212.5 1010.8 213.5 1012.6 214.5 1008.7 215.5 1002.7 216.5 1000.5 217.5 1001.2 218.5 998.3 219.5 994.5 220.5 994.1 221.5 996.8 222.5 998.1 223.5 998.9 224.5 1000.7 225.5 992.5 226.5 980.7 227.5 974.1 228.5 975.4 229.5 980.3 230.5 981.2 231.5 984.1 232.5 979.9 233.5 976.1 234.5 974.1 235.5 971.7 236.5 967.3 237.5 967.3 238.5 972.1 239.5 976 240.5 982 241.5 988.8 242.5 987.7 243.5 983.8 244.5 982.5 245.5 981.9 246.5 979.7 247.5 978.9 248.5 921.7 249.5 853.2 250.5 847.9 251.5 866.1 252.5 886.3 253.5 918.6 254.5 951.3 255.5 955.8 256.5 935.1 257.5 925.7 258.5 942.8 259.5 960.1 260.5 951.7 261.5 925.6 262.5 903.4 263.5 929.5 264.5 961.6 265.5 986.8 266.5 984.2 267.5 983.8 268.5 985.6 269.5 987.4 270.5 984.8 271.5 980.9 272.5 977 273.5 963.8 274.5 945.4 275.5 931.2 276.5 922.2 277.5 920.9 278.5 928.6 279.5 930.8 280.5 929.2 281.5 935.8 282.5 945.4 283.5 951.7 284.5 953.9 285.5 957 286.5 964 287.5 966.8 288.5 956.2 289.5 946 290.5 940.4 291.5 935.4 292.5 926.6 293.5 921.2 294.5 924 295.5 925.2 296.5 890.7 297.5 870.3 298.5 895.2 299.5 921.9 300.5 934.1 301.5 939 302.5 946.8 303.5 949.8 304.5 948.3 305.5 944.4 306.5 942.2 307.5 940.9 308.5 939.9 309.5 940.1 310.5 939.7 311.5 945.3 312.5 952.5 313.5 956 314.5 955.1 315.5 952.4 316.5 948.3 317.5 946.1 318.5 948 319.5 952.5 320.5 960.1 321.5 965.6 322.5 968.1 323.5 969.7 324.5 955.6 325.5 938.6 326.5 923.5 327.5 910.2 328.5 900 329.5 900 330.5 902.4 331.5 911.3 332.5 923.7 333.5 936 334.5 948 335.5 962.4 336.5 972.5 337.5 969.8 338.5 969.4 339.5 968.9 340.5 968.7 341.5 970.3 342.5 970.3 343.5 965.7 344.5 960.4 345.5 958.1 346.5 963.3 347.5 969.8 348.5 975 349.5 975.3 350.5 973.9 351.5 972.2 352.5 976.1 353.5 980.7 354.5 985.4 355.5 986.9 356.5 984.2 357.5 984.4 358.5 984.5 359.5 983.3 360.5 980.3 361.5 974.5 362.5 970.4 363.5 974 364.5 978.1 365.5 982.5 366.5 978.2 367.5 964.7 368.5 946.7 369.5 933.1 370.5 926.7 371.5 917.3 372.5 907.5 373.5 907.9 374.5 923.9 375.5 939.6 376.5 949 377.5 955.1 378.5 958.4 379.5 962.3 380.5 970.1 381.5 979.7 382.5 979.9 383.5 967.4 384.5 953.1 385.5 935.2 386.5 907.6 387.5 878.8 388.5 855.3 389.5 834.5 390.5 837 391.5 863.4 392.5 902.2 393.5 947.3 394.5 978.1 395.5 978 396.5 981.4 397.5 989.6 398.5 993.6 399.5 989.5 400.5 983.6 401.5 977.8 402.5 968.4 403.5 957.6 404.5 947.4 405.5 934.8 406.5 929.5 407.5 928.3 408.5 929.9 409.5 944.2 410.5 962.1 411.5 972.3 412.5 962.4 413.5 947.9 414.5 939.4 415.5 954.4 416.5 972.9 417.5 970.5 418.5 951.8 419.5 936.4 420.5 950.8 421.5 968.3 422.5 976.6 423.5 971.4 424.5 972.3 425.5 975 426.5 971.3 427.5 967.5 428.5 967.2 429.5 968.9 430.5 969.1 431.5 968.8 432.5 964.5 433.5 956.3 434.5 944 435.5 933.9 436.5 941 437.5 952.4 438.5 960.5 439.5 966.2 440.5 969.3 441.5 967.1 442.5 960.8 443.5 957.5 444.5 957.1 445.5 967.5 446.5 975.3 447.5 970.9 448.5 963.6 449.5 960.3 450.5 957.6 451.5 958 452.5 958.2 453.5 960.3 454.5 960.2 455.5 950.7 456.5 940.2 457.5 930.3 458.5 923 459.5 919.5 460.5 914.3 461.5 908.1 462.5 919 463.5 942.7 464.5 958.5 465.5 953.6 466.5 944.9 467.5 934.7 468.5 916.6 469.5 896 470.5 880.2 471.5 870.7 472.5 861.5 473.5 863.2 474.5 874 475.5 883.4 476.5 911.5 477.5 943.1 478.5 968.9 479.5 960.6 480.5 949.6 481.5 940.6 482.5 943.7 483.5 946.9 484.5 947.5 485.5 945.6 486.5 943.8 487.5 940 488.5 928.5 489.5 911.4 490.5 894.6 491.5 902.8 492.5 926.6 493.5 944 494.5 938.4 495.5 937.6 496.5 937 497.5 942.6 498.5 948.3 499.5 944.4 500.5 922.8 501.5 902.2 502.5 890.3 503.5 880.1 504.5 880.4 505.5 894.1 506.5 912.3 507.5 921.3 508.5 924.4 509.5 927.3 510.5 940.6 511.5 952.8 512.5 954.6 513.5 948.2 514.5 944.5 515.5 945.1 516.5 953 517.5 957.6 518.5 945.8 519.5 927.9 520.5 913.9 521.5 888 522.5 877.9 523.5 933.3 524.5 963.9 525.5 957.3 526.5 945.8 527.5 938.2 528.5 943.2 529.5 950.6 530.5 950.2 531.5 938.3 532.5 927.7 533.5 929 534.5 933 535.5 936.9 536.5 949.8 537.5 964.1 538.5 974.8 539.5 978.1 540.5 982.5 541.5 984.9 542.5 981.5 543.5 971.4 544.5 963.8 545.5 959.2 546.5 962.8 547.5 967.9 548.5 974.3 549.5 982.8 550.5 990.1 551.5 993.8 552.5 981.7 553.5 970.8 554.5 965.7 555.5 967.4 556.5 970.9 557.5 971.9 558.5 965.1 559.5 957.1 560.5 955.3 561.5 956.6 562.5 953.8 563.5 949.8 564.5 947.7 565.5 946.4 566.5 946.2 567.5 947 568.5 945.5 569.5 944.5 570.5 942.7 571.5 939 572.5 934.2 573.5 930.1 574.5 936.8 575.5 951.7 576.5 963.7 577.5 954.8 578.5 945.9 579.5 944.4 580.5 949.2 581.5 955.8 582.5 964 583.5 976.2 584.5 984.8 585.5 989 586.5 983.5 587.5 981.5 588.5 973.2 589.5 976.6 590.5 989.9 591.5 1001.8 592.5 994.9 593.5 986.2 594.5 982.6 595.5 981.5 596.5 980.1 597.5 982.7 598.5 985.2 599.5 986.1 600.5 976.6 601.5 961.3 602.5 945.9 603.5 948.2 604.5 965.5 605.5 981.5 606.5 987.9 607.5 993.1 608.5 995.1 609.5 990.1 610.5 983.1 611.5 988.3 612.5 1001.6 613.5 1011.8 614.5 1002.3 615.5 987.2 616.5 973.1 617.5 969.1 618.5 968.8 619.5 972.5 620.5 979.1 621.5 985.4 622.5 991 623.5 985.9 624.5 973.2 625.5 960.6 626.5 950.7 627.5 967.8 628.5 990.2 629.5 1006.6 630.5 1008.7 631.5 1011.3 632.5 1013.7 633.5 1012.6 634.5 1010.2 635.5 1008.7 636.5 1007.1 637.5 998.6 638.5 991.9 639.5 988 640.5 989.4 641.5 989.6 642.5 991.6 643.5 989.2 644.5 981.2 645.5 975.4 646.5 980.9 647.5 994.2 648.5 1003.8 649.5 1006.1 650.5 1007.4 651.5 1011.8 652.5 1012.9 653.5 1009.8 654.5 1005.3 655.5 1001.5 656.5 996.4 657.5 991.6 658.5 986.5 659.5 980.7 660.5 982.1 661.5 987.1 662.5 993.9 663.5 994.6 664.5 989.2 665.5 982.4 666.5 984.3 667.5 988.5 668.5 989.8 669.5 982.9 670.5 973.2 671.5 967.1 672.5 974.6 673.5 981.9 674.5 984.6 675.5 982.5 676.5 978.4 677.5 970.4 678.5 954.2 679.5 935.6 680.5 908.1 681.5 884.5 682.5 868 683.5 859.9 684.5 854.9 685.5 857 686.5 889.7 687.5 913.6 688.5 922.4 689.5 928.8 690.5 936.8 691.5 945.8 692.5 951.3 693.5 945.2 694.5 932.1 695.5 939.4 696.5 961.5 697.5 974.8 698.5 962.8 699.5 951.7 700.5 956.7 701.5 966.3 702.5 961.8 703.5 940.6 704.5 924.8 705.5 938.3 706.5 953.4 707.5 953.5 708.5 951.9 709.5 948.6 710.5 949.9 711.5 959.8 712.5 972.1 713.5 979.5 714.5 980.8 715.5 980.9 716.5 980.5 717.5 980.7 718.5 978.4 719.5 973.7 720.5 965.1 721.5 947.5 722.5 920.5 723.5 905.8 724.5 899.3 725.5 895.8 726.5 900 727.5 910.9 728.5 925.8 729.5 938.4 730.5 940.2 731.5 937 732.5 943 733.5 963.9 734.5 974.6 735.5 980.3 736.5 991.6 737.5 998.5 738.5 1000.8 739.5 1004.2 740.5 1009.8 741.5 1014.4 742.5 1017.6 743.5 1015.8 744.5 1012.9 745.5 1009.6 746.5 1002.8 747.5 993.8 748.5 987.5 749.5 993.9 750.5 1003.9 751.5 1010.8 752.5 1008.2 753.5 1003.9 754.5 999.7 755.5 996.1 756.5 992 757.5 987.8 758.5 996.3 759.5 1006 760.5 1012.2 761.5 1015.9 762.5 1019.8 763.5 1019.5 764.5 1009 765.5 996.5 766.5 995 767.5 1004.8 768.5 1015.1 769.5 1020 770.5 1020.6 771.5 1020.5 772.5 1020.8 773.5 1021.1 774.5 1022.4 775.5 1023.3 776.5 1023.5 777.5 1020.9 778.5 1015.8 779.5 1011 780.5 1006.8 781.5 999.2 782.5 989.6 783.5 991.5 784.5 1001.8 785.5 1014 786.5 1013.5 787.5 1009.1 788.5 1005.3 789.5 1008 790.5 1010.6 791.5 1011.1 792.5 1007.4 793.5 1003.2 794.5 1000 795.5 1002 796.5 1005.3 797.5 1006.5 798.5 1004.6 799.5 1003.2 800.5 1002.1 801.5 999.2 802.5 996.1 803.5 997.4 804.5 1003.4 805.5 1008.5 806.5 1009.7 807.5 1006.3 808.5 1000.1 809.5 983.6 810.5 965.1 811.5 967.3 812.5 986.8 813.5 998.7 814.5 997.4 815.5 998.5 816.5 993.4 817.5 979.8 818.5 967.2 819.5 965.9 820.5 984.9 821.5 1007.2 822.5 1014.3 823.5 1013.1 824.5 1011 825.5 1009 826.5 1010.1 827.5 1012.9 828.5 1009.3 829.5 1003.9 830.5 999.6 831.5 996.3 832.5 1002.7 833.5 1011.2 834.5 1017.6 835.5 1018.9 836.5 1018.1 837.5 1016.8 838.5 1014.2 839.5 1011.7 840.5 1009.2 841.5 1007.9 842.5 1005.8 843.5 1002.9 844.5 1005.7 845.5 1010.5 846.5 1014.3 847.5 1016 848.5 1016.5 849.5 1014 850.5 1009.8 851.5 1007.5 852.5 1006.1 853.5 1008.5 854.5 1010.8 855.5 1011.9 856.5 1011.9 857.5 1011.6 858.5 1011 859.5 1014.2 860.5 1017.5 861.5 1018.7 862.5 1019 863.5 1019.5 864.5 1020.1 865.5 1019 866.5 1015.6 867.5 1012.1 868.5 1014.5 869.5 1018.3 870.5 1021.2 871.5 1021.2 872.5 1021.8 873.5 1022.5 874.5 1022.2 875.5 1020.9 876.5 1020.9 877.5 1021.2 878.5 1021.2 879.5 1021.6 880.5 1021.6 881.5 1021.8 882.5 1022.8 883.5 1023.7 884.5 1023.8 885.5 1024.1 886.5 1024.6 887.5 1024.5 888.5 1024.3 889.5 1024.2 890.5 1024.5 891.5 1025.1 892.5 1026 893.5 1026.2 894.5 1025.4 895.5 1025.1 896.5 1024.9 897.5 1024.4 898.5 1023.8 899.5 1023.9 900.5 1024.2 901.5 1023.9 902.5 1023.5 903.5 1023.7 904.5 1024.4 905.5 1024.9 906.5 1025.2 907.5 1025.2 908.5 1025.1 909.5 1025 910.5 1025.3 911.5 1025.7 912.5 1025.6 913.5 1024.6 914.5 1021.9 915.5 1019 916.5 1017.8 917.5 1020.4 918.5 1023.8 919.5 1025.7 920.5 1025 921.5 1025 922.5 1025.1 923.5 1025.1 924.5 1025 925.5 1024.3 926.5 1023.5 927.5 1023.2 928.5 1024 929.5 1025.3 930.5 1025.6 931.5 1025.7 932.5 1025.9 933.5 1025.8 934.5 1025.4 935.5 1025.5 936.5 1025.4 937.5 1025.2 938.5 1025.1 939.5 1024.6 940.5 1024.1 941.5 1024.9 942.5 1026.1 943.5 1026 944.5 1025.6 945.5 1025.8 946.5 1026 947.5 1026.1 948.5 1026.1 949.5 1025.6 950.5 1025.1 951.5 1024.5 952.5 1024.1 953.5 1023.8 954.5 1024.2 955.5 1023.9 956.5 1023.6 957.5 1024.2 958.5 1025.6 959.5 1025.7 960.5 1025.2 961.5 1025.3 962.5 1025.9 963.5 1026 964.5 1025.8 965.5 1025.9 966.5 1025.9 967.5 1025.7 968.5 1025.5 969.5 1024.2 970.5 1022.8 971.5 1022.7 972.5 1022.8 973.5 1021.9 974.5 1022.1 975.5 1023.4 976.5 1024.6 977.5 1026 978.5 1027 979.5 1026.9 980.5 1026.3 981.5 1025.3 982.5 1025.3 983.5 1026.3 984.5 1027.3 985.5 1027.7 986.5 1027.5 987.5 1026 988.5 1022.2 989.5 1016.7 990.5 1011.6 991.5 1012.1 992.5 1019.3 993.5 1025.2 994.5 1025.8 995.5 1025 996.5 1024.1 997.5 1024.2 998.5 1024.1 999.5 1023.6 1000.5 1023.4 1001.5 1023.2 1002.5 1022.9 1003.5 1022.8 1004.5 1023 1005.5 1023.2 1006.5 1023.6 1007.5 1024.2 1008.5 1024.3 1009.5 1024.4 1010.5 1024.9 1011.5 1025.3 1012.5 1025.5 1013.5 1026.2 1014.5 1027.1 1015.5 1026.5 1016.5 1026.1 1017.5 1027 1018.5 1027.7 1019.5 1027.7 1020.5 1028.1 1021.5 1027.9 1022.5 1027.6 1023.5 1027.9 1024.5 1028.4 1025.5 1028.4 1026.5 1028.7 1027.5 1029.6 1028.5 1030.1 1029.5 1030.1 1030.5 1029.8 1031.5 1029.8 1032.5 1029.9 1033.5 1029.8 1034.5 1029.2 1035.5 1029.2 1036.5 1029.8 1037.5 1030.1 1038.5 1030.2 1039.5 1030.2 1040.5 1030 1041.5 1029.8 1042.5 1029.6 1043.5 1029.1 1044.5 1029.2 1045.5 1029.2 1046.5 1029 1047.5 1029.3 1048.5 1029.6 1049.5 1029.5 1050.5 1029.6 1051.5 1029.7 1052.5 1029.3 1053.5 1028.8 1054.5 1028.6 1055.5 1028.7 1056.5 1029.2 1057.5 1029.3 1058.5 1029.2 1059.5 1029.3 1060.5 1029 1061.5 1028.3 1062.5 1028.4 1063.5 1028.4 1064.5 1028.3 1065.5 1028.5 1066.5 1029.1 1067.5 1028.7 1068.5 1028.3 1069.5 1028.6 1070.5 1026.7 1071.5 1023.9 1072.5 1024 1073.5 1025.6 1074.5 1025.1 1075.5 1023 1076.5 1027 1077.5 1029.6 1078.5 1029.6 1079.5 1029.6 1080.5 1029.3 1081.5 1028.8 1082.5 1028.3 1083.5 1028.5 1084.5 1029.5 1085.5 1029.7 1086.5 1029.5 1087.5 1029.7 1088.5 1029.9 1089.5 1029.9 1090.5 1029.7 1091.5 1029.8 1092.5 1029.6 1093.5 1029.1 1094.5 1028.1 1095.5 1027.8 1096.5 1028.3 1097.5 1028.5 1098.5 1028.5 1099.5 1028.6 1100.5 1028.4 1101.5 1027.6 1102.5 1027.2 1103.5 1027.9 1104.5 1028.2 1105.5 1028.8 1106.5 1029.3 1107.5 1029.5 1108.5 1029.6 1109.5 1029.8 1110.5 1030 1111.5 1030 1112.5 1029.8 1113.5 1030.2 1114.5 1031 1115.5 1031.1 1116.5 1030.7 1117.5 1030.6 1118.5 1030.5 1119.5 1030.1 1120.5 1029.8 1121.5 1029.9 1122.5 1030.1 1123.5 1030.1 1124.5 1030.1 1125.5 1030.1 1126.5 1030.5 1127.5 1030.7 1128.5 1030.6 1129.5 1030.3 1130.5 1030.4 1131.5 1030.7 1132.5 1030.7 1133.5 1030.4 1134.5 1030.4 1135.5 1030.3 1136.5 1030.4 1137.5 1030.8 1138.5 1030.9 1139.5 1030.7 1140.5 1030.6 1141.5 1030.4 1142.5 1030.2 1143.5 1030.6 1144.5 1031 1145.5 1030.6 1146.5 1030.3 1147.5 1030.6 1148.5 1030.8 1149.5 1030.7 1150.5 1030.6 1151.5 1030.4 1152.5 1030.4 1153.5 1030.5 1154.5 1030.2 1155.5 1030.2 1156.5 1030.8 1157.5 1030.9 1158.5 1030.3 1159.5 1029.8 1160.5 1029.9 1161.5 1029.9 1162.5 1030.1 1163.5 1030.1 1164.5 1030.2 1165.5 1030.1 1166.5 1030.5 1167.5 1030.8 1168.5 1030.9 1169.5 1030.6 1170.5 1030.6 1171.5 1030.5 1172.5 1030.4 1173.5 1030.3 1174.5 1030.4 1175.5 1030.6 1176.5 1030.6 1177.5 1030.4 1178.5 1030.6 1179.5 1030.8 1180.5 1030.6 1181.5 1030.2 1182.5 1029.9 1183.5 1029.5 1184.5 1029.2 1185.5 1029.2 1186.5 1029.6 1187.5 1029.5 1188.5 1029.5 1189.5 1029.9 1190.5 1030.1 1191.5 1029.9 1192.5 1029.9 1193.5 1030.1 1194.5 1029.9 1195.5 1029.3 1196.5 1028.7 1197.5 1029.2 1198.5 1030.1 1199.5 1030 1200.5 1029.4 1201.5 1029.2 1202.5 1029.3 1203.5 1029.2 1204.5 1029 1205.5 1028.8 1206.5 1028.9 1207.5 1028.9 1208.5 1028.9 1209.5 1029.1 1210.5 1029.6 1211.5 1029.9 1212.5 1029.9 1213.5 1030.5 1214.5 1031 1215.5 1030.6 1216.5 1029.8 1217.5 1029.1 1218.5 1028.6 1219.5 1028.5 1220.5 1028.7 1221.5 1029 1222.5 1029.1 1223.5 1028.7 1224.5 1028.3 1225.5 1028.2 1226.5 1028.1 1227.5 1027.7 1228.5 1027.4 1229.5 1027.4 1230.5 1027.4 1231.5 1027.1 1232.5 1026.8 1233.5 1027.2 1234.5 1027.5 1235.5 1027.8 1236.5 1027.9 1237.5 1027.1 1238.5 1025.8 1239.5 1024.8 1240.5 1024.1 1241.5 1023.9 1242.5 1024.8 1243.5 1025.9 1244.5 1026.2 1245.5 1026.2 1246.5 1026.2 1247.5 1026.1 1248.5 1025.4 1249.5 1025.1 1250.5 1024.4 1251.5 1022.8 1252.5 1022.7 1253.5 1023.7 1254.5 1024.2 1255.5 1025.9 1256.5 1027.6 1257.5 1028.1 1258.5 1027.4 1259.5 1026.9 1260.5 1027 1261.5 1027.7 1262.5 1027.9 1263.5 1027.9 1264.5 1027.4 1265.5 1027 1266.5 1027.5 1267.5 1028.2 1268.5 1028.7 1269.5 1028.9 1270.5 1029 1271.5 1029.1 1272.5 1029.3 1273.5 1028.9 1274.5 1028.6 1275.5 1028.9 1276.5 1029.4 1277.5 1029.9 1278.5 1030.3 1279.5 1030.2 1280.5 1029.9 1281.5 1029.9 1282.5 1030 1283.5 1030.1 1284.5 1029.9 1285.5 1029.5 1286.5 1029.3 1287.5 1029.1 1288.5 1029.2 1289.5 1029.2 1290.5 1029.3 1291.5 1029.2 1292.5 1028.6 1293.5 1027.8 1294.5 1027.8 1295.5 1027.8 1296.5 1027.2 1297.5 1026.7 1298.5 1026.3 1299.5 1026.2 1300.5 1026.6 1301.5 1027.3 1302.5 1027.2 1303.5 1027.2 1304.5 1027.1 1305.5 1026.7 1306.5 1026.3 1307.5 1025.6 1308.5 1025.1 1309.5 1023.8 1310.5 1023.2 1311.5 1024 1312.5 1024.9 1313.5 1024.1 1314.5 1023 1315.5 1021.3 1316.5 1019.9 1317.5 1019.5 1318.5 1020.1 1319.5 1020.5 1320.5 1021.9 1321.5 1023.4 1322.5 1024.9 1323.5 1026 1324.5 1026.1 1325.5 1025.5 1326.5 1025.6 1327.5 1026.4 1328.5 1026.6 1329.5 1026.3 1330.5 1026.3 1331.5 1026 1332.5 1025.3 1333.5 1025 1334.5 1025 1335.5 1024.6 1336.5 1023.8 1337.5 1023.3 1338.5 1023.5 1339.5 1024.2 1340.5 1024.6 1341.5 1025 1342.5 1025.1 1343.5 1025.5 1344.5 1025.5 1345.5 1025 1346.5 1024.5 1347.5 1025.1 1348.5 1025.9 1349.5 1026 1350.5 1025.8 1351.5 1025.3 1352.5 1025.4 1353.5 1025.1 1354.5 1024.3 1355.5 1023.8 1356.5 1023.6 1357.5 1023.6 1358.5 1025.1 1359.5 1026.5 1360.5 1027 1361.5 1027.1 1362.5 1027.1 1363.5 1026.5 1364.5 1025.8 1365.5 1025.4 1366.5 1025.9 1367.5 1026.6 1368.5 1027.4 1369.5 1028.3 1370.5 1029.1 1371.5 1029 1372.5 1028.6 1373.5 1028.6 1374.5 1029.5 1375.5 1030.4 1376.5 1030.4 1377.5 1029.9 1378.5 1029.9 1379.5 1029.7 1380.5 1029.6 1381.5 1029.4 1382.5 1029.3 1383.5 1029 1384.5 1029.5 1385.5 1029.9 1386.5 1030.2 1387.5 1029.3 1388.5 1028.1 1389.5 1027.9 1390.5 1027.7 1391.5 1027.2 1392.5 1027.1 1393.5 1027.5 1394.5 1028.1 1395.5 1028.7 1396.5 1028.8 1397.5 1028.2 1398.5 1027.8 1399.5 1027.7 1400.5 1027.4 1401.5 1025.4 1402.5 1023.5 1403.5 1021.8 1404.5 1019.8 1405.5 1019.1 1406.5 1018.9 1407.5 1019 1408.5 1020.6 1409.5 1021.2 1410.5 1020.2 1411.5 1017.2 1412.5 1013.6 1413.5 1009.8 1414.5 1006.8 1415.5 1005 1416.5 1005.4 1417.5 1005 1418.5 1003.1 1419.5 1001.2 1420.5 1003.9 1421.5 1006.3 1422.5 1005.3 1423.5 1005.5 1424.5 1007.7 1425.5 1007.3 1426.5 1006 1427.5 1005 1428.5 1002.5 1429.5 998.6 1430.5 995.5 1431.5 994.1 1432.5 996.7 1433.5 1003.8 1434.5 1010.2 1435.5 1011.9 1436.5 1012 1437.5 1011.5 1438.5 1006 1439.5 1002.8 1440.5 1007.1 1441.5 1006.2 1442.5 983.1 1443.5 959.5 1444.5 934.8 1445.5 926 1446.5 923.3 1447.5 931.1 1448.5 941.8 1449.5 953.6 1450.5 969.8 1451.5 989.1 1452.5 1002.4 1453.5 1014.4 1454.5 1018.2 1455.5 1014.1 1456.5 1012.2 1457.5 1013.9 1458.5 1013.8 1459.5 1010 1460.5 1006.1 1461.5 1004.2" stroke="#ff7f0e" stroke-width="2.3" stroke-linejoin="round" stroke-linecap="butt" fill="none"/>
</g>
<rect x="116.5" y="576.5" width="1346.0" height="478.0" fill="none" stroke="#000" stroke-width="1.1"/>
<path d="M116.5 1054.5v5.2M284.5 1054.5v5.2M452.5 1054.5v5.2M621.5 1054.5v5.2M789.5 1054.5v5.2M957.5 1054.5v5.2M1125.5 1054.5v5.2M1294.5 1054.5v5.2M116.5 1035.5h-5.2M116.5 939.5h-5.2M116.5 843.5h-5.2M116.5 748.5h-5.2M116.5 652.5h-5.2" stroke="#000" stroke-width="1.1" fill="none"/>
<rect x="1047.6" y="585.4" width="405.9" height="81.0" rx="3.3" fill="#fff" fill-opacity="0.8" stroke="#ccc" stroke-opacity="0.8" stroke-width="1.1"/>
<circle cx="1073.5" cy="600.6" r="2.7" fill="#1f77b4"/>
<path d="M1052.9 639.8H1092" stroke="#ff7f0e" stroke-width="2.08"/>
<text transform="translate(1106.03,605.80) scale(1.1239,1)" font-size="19.40">Raw Data</text>
<text transform="translate(1105.98,633.60) scale(1.1571,1)" font-size="19.40">Butterworth Filtered Data</text>
<text transform="translate(1107.17,654.00) scale(1.1647,1)" font-size="19.40">(N=6, Tc=3.3333 min, Type: low)</text>
<text transform="translate(634.76,29.80) scale(1.1535,1)" font-size="28.27">10.0 MHz N0000014</text>
<text transform="translate(116.35,29.40) scale(1.1660,1)" font-size="28.27">(a)</text>
<text transform="translate(116.38,566.50) scale(1.1446,1)" font-size="28.27">(b)</text>
<text transform="translate(67.03,53.03) scale(1.1783,1)" font-size="23.55">2.0</text>
<text transform="translate(67.53,111.16) scale(1.1520,1)" font-size="23.55">1.5</text>
<text transform="translate(66.99,169.28) scale(1.1797,1)" font-size="23.55">1.0</text>
<text transform="translate(66.67,227.41) scale(1.1788,1)" font-size="23.55">0.5</text>
<text transform="translate(66.15,285.53) scale(1.2063,1)" font-size="23.55">0.0</text>
<text transform="translate(66.67,343.66) scale(1.1788,1)" font-size="23.55">0.5</text>
<rect x="50.4" y="335.4" width="14.2" height="3"/>
<text transform="translate(66.99,401.78) scale(1.1797,1)" font-size="23.55">1.0</text>
<rect x="49.9" y="393.5" width="14.2" height="3"/>
<text transform="translate(67.53,459.91) scale(1.1520,1)" font-size="23.55">1.5</text>
<rect x="50.4" y="451.6" width="14.2" height="3"/>
<text transform="translate(67.03,518.03) scale(1.1783,1)" font-size="23.55">2.0</text>
<rect x="49.9" y="509.7" width="14.2" height="3"/>
<text transform="translate(50.55,1043.20) scale(1.2001,1)" font-size="23.55">0.00</text>
<text transform="translate(51.07,947.37) scale(1.1808,1)" font-size="23.55">0.05</text>
<text transform="translate(50.55,851.55) scale(1.2001,1)" font-size="23.55">0.10</text>
<text transform="translate(51.07,755.73) scale(1.1808,1)" font-size="23.55">0.15</text>
<text transform="translate(50.55,659.90) scale(1.2001,1)" font-size="23.55">0.20</text>
<text transform="translate(37.7,278.2) rotate(-90) scale(1.1342,1)" x="-99.57" y="0" font-size="23.55">Doppler Shift [Hz]</text>
<text transform="translate(37.7,815.5) rotate(-90) scale(1.1428,1)" x="-91.56" y="0" font-size="23.55">Peak Voltage [V]</text>
<text transform="translate(764.59,1157.60) scale(0.9970,1)" font-size="23.55">UTC</text>
<text transform="translate(111.5,1078.3) rotate(-30) scale(1.1694,1)" x="-92.03" y="0" font-size="23.55">06-17 00</text>
<text transform="translate(279.8,1078.3) rotate(-30) scale(1.1607,1)" x="-92.15" y="0" font-size="23.55">06-17 03</text>
<text transform="translate(448,1078.3) rotate(-30) scale(1.1667,1)" x="-92.15" y="0" font-size="23.55">06-17 06</text>
<text transform="translate(616.2,1078.3) rotate(-30) scale(1.1643,1)" x="-92.15" y="0" font-size="23.55">06-17 09</text>
<text transform="translate(784.5,1078.3) rotate(-30) scale(1.1596,1)" x="-92.09" y="0" font-size="23.55">06-17 12</text>
<text transform="translate(952.8,1078.3) rotate(-30) scale(1.1602,1)" x="-92.33" y="0" font-size="23.55">06-17 15</text>
<text transform="translate(1121,1078.3) rotate(-30) scale(1.1634,1)" x="-92.27" y="0" font-size="23.55">06-17 18</text>
<text transform="translate(1289.2,1078.3) rotate(-30) scale(1.1608,1)" x="-92.33" y="0" font-size="23.55">06-17 21</text>
</svg>
</body></html>
